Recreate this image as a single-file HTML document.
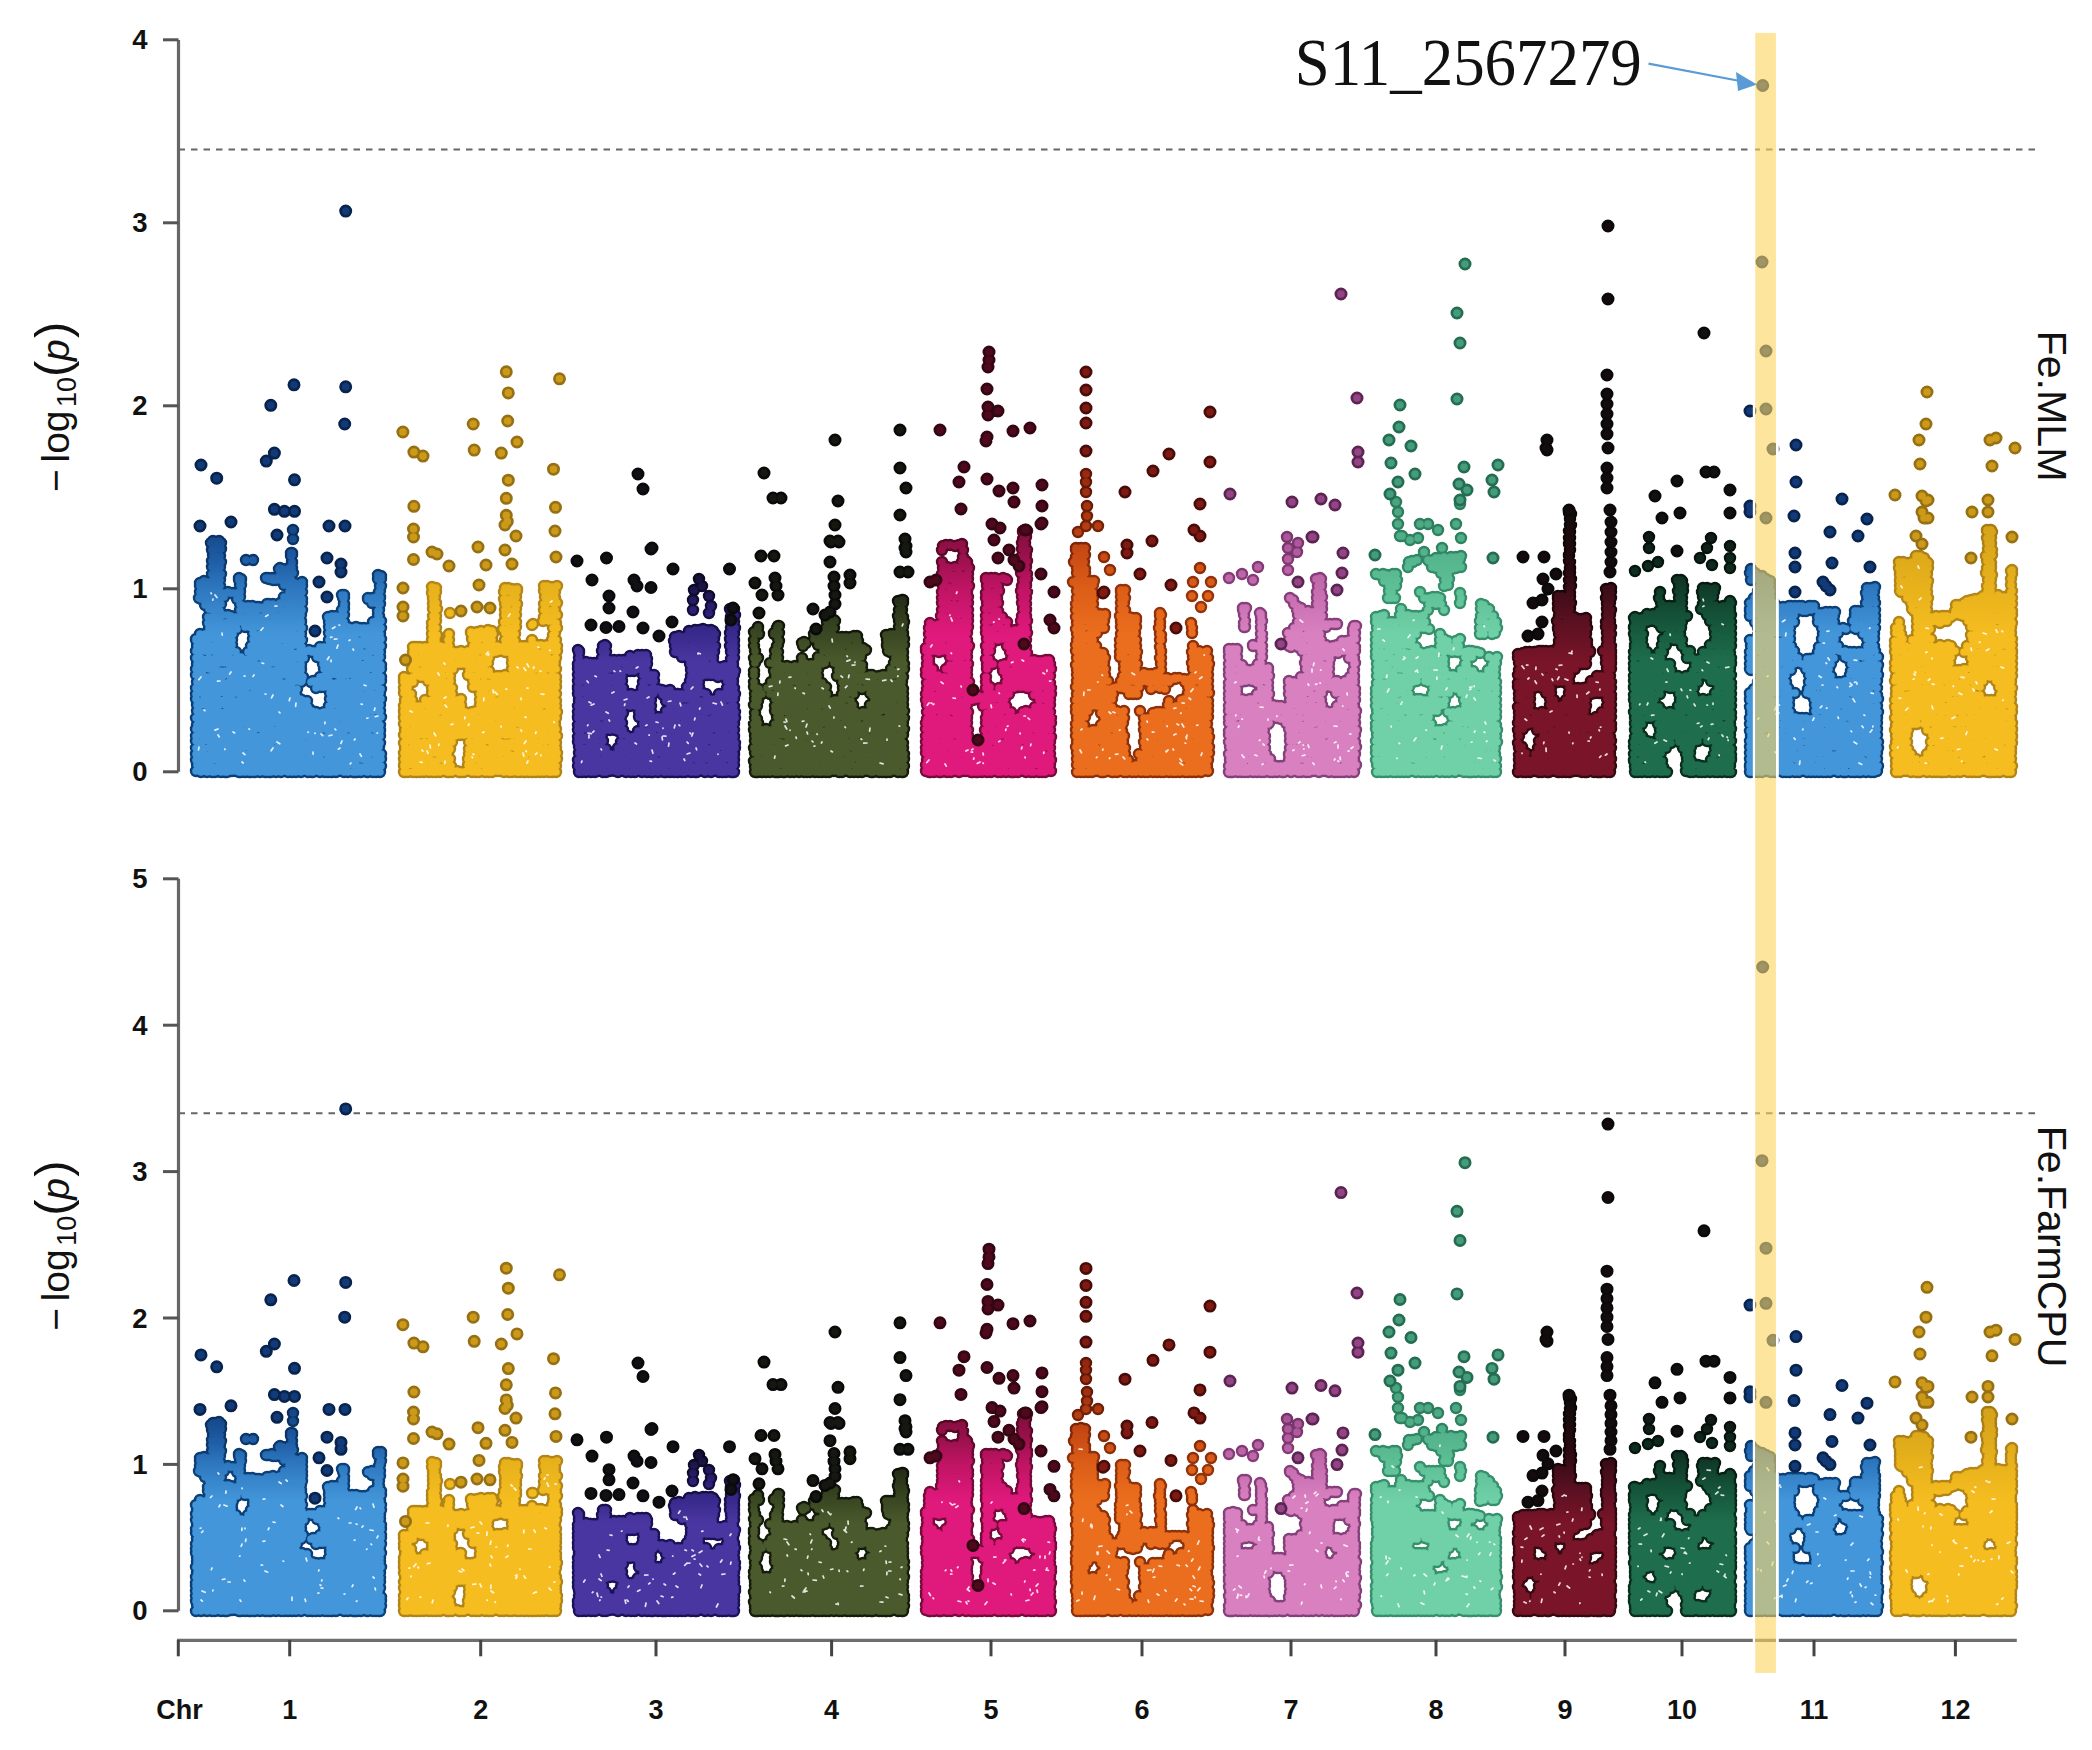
<!DOCTYPE html><html><head><meta charset="utf-8"><style>html,body{margin:0;padding:0;background:#fff;overflow:hidden;}svg{display:block}#w{width:2092px;height:1750px;overflow:hidden}</style></head><body>
<div id="w">
<svg width="2092" height="1750" viewBox="0 0 2092 1750">
<rect width="100%" height="100%" fill="#fff"/>
<line x1="178.5" y1="39.9" x2="178.5" y2="771.8" stroke="#666" stroke-width="3.2"/>
<line x1="163" y1="771.8" x2="178.5" y2="771.8" stroke="#555" stroke-width="3"/>
<text x="147.5" y="781.3" font-family="Liberation Sans, Arial, sans-serif" font-weight="bold" font-size="27.5" text-anchor="end" fill="#111">0</text>
<line x1="163" y1="588.8" x2="178.5" y2="588.8" stroke="#555" stroke-width="3"/>
<text x="147.5" y="598.3" font-family="Liberation Sans, Arial, sans-serif" font-weight="bold" font-size="27.5" text-anchor="end" fill="#111">1</text>
<line x1="163" y1="405.8" x2="178.5" y2="405.8" stroke="#555" stroke-width="3"/>
<text x="147.5" y="415.3" font-family="Liberation Sans, Arial, sans-serif" font-weight="bold" font-size="27.5" text-anchor="end" fill="#111">2</text>
<line x1="163" y1="222.8" x2="178.5" y2="222.8" stroke="#555" stroke-width="3"/>
<text x="147.5" y="232.3" font-family="Liberation Sans, Arial, sans-serif" font-weight="bold" font-size="27.5" text-anchor="end" fill="#111">3</text>
<line x1="163" y1="39.8" x2="178.5" y2="39.8" stroke="#555" stroke-width="3"/>
<text x="147.5" y="49.3" font-family="Liberation Sans, Arial, sans-serif" font-weight="bold" font-size="27.5" text-anchor="end" fill="#111">4</text>
<line x1="178.5" y1="149.5" x2="2035" y2="149.5" stroke="#666" stroke-width="2" stroke-dasharray="6.5 6"/>
<line x1="178.5" y1="878.8" x2="178.5" y2="1610.8" stroke="#666" stroke-width="3.2"/>
<line x1="163" y1="1610.8" x2="178.5" y2="1610.8" stroke="#555" stroke-width="3"/>
<text x="147.5" y="1620.3" font-family="Liberation Sans, Arial, sans-serif" font-weight="bold" font-size="27.5" text-anchor="end" fill="#111">0</text>
<line x1="163" y1="1464.4" x2="178.5" y2="1464.4" stroke="#555" stroke-width="3"/>
<text x="147.5" y="1473.9" font-family="Liberation Sans, Arial, sans-serif" font-weight="bold" font-size="27.5" text-anchor="end" fill="#111">1</text>
<line x1="163" y1="1318.0" x2="178.5" y2="1318.0" stroke="#555" stroke-width="3"/>
<text x="147.5" y="1327.5" font-family="Liberation Sans, Arial, sans-serif" font-weight="bold" font-size="27.5" text-anchor="end" fill="#111">2</text>
<line x1="163" y1="1171.6" x2="178.5" y2="1171.6" stroke="#555" stroke-width="3"/>
<text x="147.5" y="1181.1" font-family="Liberation Sans, Arial, sans-serif" font-weight="bold" font-size="27.5" text-anchor="end" fill="#111">3</text>
<line x1="163" y1="1025.2" x2="178.5" y2="1025.2" stroke="#555" stroke-width="3"/>
<text x="147.5" y="1034.7" font-family="Liberation Sans, Arial, sans-serif" font-weight="bold" font-size="27.5" text-anchor="end" fill="#111">4</text>
<line x1="163" y1="878.8" x2="178.5" y2="878.8" stroke="#555" stroke-width="3"/>
<text x="147.5" y="888.3" font-family="Liberation Sans, Arial, sans-serif" font-weight="bold" font-size="27.5" text-anchor="end" fill="#111">5</text>
<line x1="178.5" y1="1113.3" x2="2035" y2="1113.3" stroke="#666" stroke-width="2" stroke-dasharray="6.5 6"/>
<line x1="177" y1="1640.4" x2="2016.8" y2="1640.4" stroke="#6e6e6e" stroke-width="3.2"/>
<line x1="178.3" y1="1640" x2="178.3" y2="1656.3" stroke="#444" stroke-width="3"/>
<line x1="289.7" y1="1640" x2="289.7" y2="1656.3" stroke="#444" stroke-width="3"/>
<text x="289.7" y="1719" font-family="Liberation Sans, Arial, sans-serif" font-weight="bold" font-size="27" text-anchor="middle" fill="#111">1</text>
<line x1="480.7" y1="1640" x2="480.7" y2="1656.3" stroke="#444" stroke-width="3"/>
<text x="480.7" y="1719" font-family="Liberation Sans, Arial, sans-serif" font-weight="bold" font-size="27" text-anchor="middle" fill="#111">2</text>
<line x1="656" y1="1640" x2="656" y2="1656.3" stroke="#444" stroke-width="3"/>
<text x="656" y="1719" font-family="Liberation Sans, Arial, sans-serif" font-weight="bold" font-size="27" text-anchor="middle" fill="#111">3</text>
<line x1="831.6" y1="1640" x2="831.6" y2="1656.3" stroke="#444" stroke-width="3"/>
<text x="831.6" y="1719" font-family="Liberation Sans, Arial, sans-serif" font-weight="bold" font-size="27" text-anchor="middle" fill="#111">4</text>
<line x1="991" y1="1640" x2="991" y2="1656.3" stroke="#444" stroke-width="3"/>
<text x="991" y="1719" font-family="Liberation Sans, Arial, sans-serif" font-weight="bold" font-size="27" text-anchor="middle" fill="#111">5</text>
<line x1="1142" y1="1640" x2="1142" y2="1656.3" stroke="#444" stroke-width="3"/>
<text x="1142" y="1719" font-family="Liberation Sans, Arial, sans-serif" font-weight="bold" font-size="27" text-anchor="middle" fill="#111">6</text>
<line x1="1291" y1="1640" x2="1291" y2="1656.3" stroke="#444" stroke-width="3"/>
<text x="1291" y="1719" font-family="Liberation Sans, Arial, sans-serif" font-weight="bold" font-size="27" text-anchor="middle" fill="#111">7</text>
<line x1="1436" y1="1640" x2="1436" y2="1656.3" stroke="#444" stroke-width="3"/>
<text x="1436" y="1719" font-family="Liberation Sans, Arial, sans-serif" font-weight="bold" font-size="27" text-anchor="middle" fill="#111">8</text>
<line x1="1565" y1="1640" x2="1565" y2="1656.3" stroke="#444" stroke-width="3"/>
<text x="1565" y="1719" font-family="Liberation Sans, Arial, sans-serif" font-weight="bold" font-size="27" text-anchor="middle" fill="#111">9</text>
<line x1="1682" y1="1640" x2="1682" y2="1656.3" stroke="#444" stroke-width="3"/>
<text x="1682" y="1719" font-family="Liberation Sans, Arial, sans-serif" font-weight="bold" font-size="27" text-anchor="middle" fill="#111">10</text>
<line x1="1814" y1="1640" x2="1814" y2="1656.3" stroke="#444" stroke-width="3"/>
<text x="1814" y="1719" font-family="Liberation Sans, Arial, sans-serif" font-weight="bold" font-size="27" text-anchor="middle" fill="#111">11</text>
<line x1="1955.4" y1="1640" x2="1955.4" y2="1656.3" stroke="#444" stroke-width="3"/>
<text x="1955.4" y="1719" font-family="Liberation Sans, Arial, sans-serif" font-weight="bold" font-size="27" text-anchor="middle" fill="#111">12</text>
<text x="156.3" y="1719" font-family="Liberation Sans, Arial, sans-serif" font-weight="bold" font-size="27" fill="#111">Chr</text>
<g transform="translate(68.5 492.0) rotate(-90)" font-family="Liberation Sans, Arial, sans-serif" fill="#111"><text x="0" y="0" font-size="39">&#8722;</text><text x="29.5" y="0" font-size="39">log</text><text x="85" y="7.5" font-size="27">10</text><text x="115" y="0" font-size="49">(</text><text x="131" y="0" font-size="39" font-style="italic">p</text><text x="154" y="0" font-size="49">)</text></g>
<g transform="translate(68.5 1330.8) rotate(-90)" font-family="Liberation Sans, Arial, sans-serif" fill="#111"><text x="0" y="0" font-size="39">&#8722;</text><text x="29.5" y="0" font-size="39">log</text><text x="85" y="7.5" font-size="27">10</text><text x="115" y="0" font-size="49">(</text><text x="131" y="0" font-size="39" font-style="italic">p</text><text x="154" y="0" font-size="49">)</text></g>
<text transform="translate(2038 330.5) rotate(90)" font-family="Liberation Sans, Arial, sans-serif" font-size="41.2" fill="#111">Fe.MLM</text>
<text transform="translate(2038.3 1125.8) rotate(90)" font-family="Liberation Sans, Arial, sans-serif" font-size="41" fill="#111">Fe.FarmCPU</text>
<defs><linearGradient id="r1_0" gradientUnits="userSpaceOnUse" x1="0" y1="771.8" x2="0" y2="222.8"><stop offset="0.0000" stop-color="#0b3f78"/><stop offset="0.2500" stop-color="#0b3f78"/><stop offset="0.3333" stop-color="#0c4076"/><stop offset="0.3833" stop-color="#0b386a"/><stop offset="0.4333" stop-color="#0a3060"/><stop offset="0.5333" stop-color="#0a2a56"/><stop offset="1.0000" stop-color="#08244c"/></linearGradient><linearGradient id="f1_0" gradientUnits="userSpaceOnUse" x1="0" y1="771.8" x2="0" y2="222.8"><stop offset="0.0000" stop-color="#4396da"/><stop offset="0.2500" stop-color="#4396da"/><stop offset="0.3333" stop-color="#2e78c0"/><stop offset="0.3833" stop-color="#1f5ea6"/><stop offset="0.4333" stop-color="#164a8c"/><stop offset="0.5333" stop-color="#123a78"/><stop offset="1.0000" stop-color="#10306a"/></linearGradient><path id="p1_0" d="M196 771h0m1-6h0m-1-5h0m0-6h0m0-6h0m0-7h0m0-5h0m0-7h0m1-4h0m-1-7h0m1-7h0m0-6h0m-1-6h0m0-5h0m0-6h0m1-6h0m-1-7h0m0-6h0m1-5h0m-1-6h0m0-7h0m1-5h0m-1-6h0m0-1h0m5 133h0m0-7h0m-1-5h0m0-6h0m-1-6h0m2-6h0m0-7h0m0-5h0m-1-6h0m1-5h0m-1-7h0m-1-6h0m2-5h0m0-8h0m-1-5h0m-1-6h0m1-7h0m-1-5h0m1-7h0m0-4h0m-1-7h0m1-5h0m1-6h0m-1-7h0m-1-36h0m1-6h0m1-6h0m-1-3h0m5 188h0m0-5h0m0-6h0m-1-6h0m0-6h0m-1-7h0m1-6h0m0-6h0m-1-6h0m1-5h0m-1-5h0m2-8h0m-1-6h0m0-6h0m1-4h0m-1-7h0m-1-7h0m1-6h0m1-6h0m-2-4h0m1-8h0m0-6h0m0-4h0m1-7h0m0-29h0m0-7h0m0-6h0m-1-6h0m0-5h0m3 191h0m1-6h0m1-6h0m0-5h0m0-7h0m-1-7h0m0-6h0m1-4h0m0-7h0m0-6h0m-2-6h0m2-6h0m0-6h0m-1-6h0m0-6h0m1-6h0m-1-5h0m1-8h0m-1-6h0m1-5h0m-1-6h0m1-6h0m-1-6h0m0-7h0m1-5h0m-1-5h0m0-6h0m1-8h0m-1-6h0m0-5h0m0-6h0m0-5h0m0-5h0m4 190h0m0-5h0m0-7h0m0-7h0m0-6h0m-1-5h0m1-6h0m1-6h0m-1-6h0m0-6h0m0-6h0m0-7h0m1-5h0m-1-6h0m1-6h0m0-6h0m-1-6h0m0-6h0m0-5h0m1-6h0m0-8h0m-1-4h0m1-8h0m-1-5h0m-1-7h0m0-5h0m2-5h0m-1-7h0m1-7h0m0-4h0m-1-6h0m0-7h0m1-6h0m-1-6h0m0-7h0m0-6h0m1-6h0m-1-5h0m-1-7h0m2-2h0m2 231h0m2-5h0m-1-8h0m-1-5h0m1-7h0m0-4h0m1-8h0m-1-4h0m0-7h0m-1-7h0m2-5h0m-2-5h0m2-7h0m-2-5h0m0-6h0m1-8h0m0-4h0m0-8h0m0-6h0m0-6h0m-1-6h0m1-6h0m1-6h0m-1-6h0m0-6h0m0-6h0m1-5h0m-1-6h0m1-7h0m0-5h0m-1-6h0m0-6h0m1-5h0m-1-7h0m1-6h0m-1-7h0m-1-6h0m0-5h0m1-7h0m-1-1h0m6 230h0m-1-7h0m0-5h0m0-6h0m0-5h0m1-7h0m-1-5h0m0-7h0m-1-6h0m1-6h0m0-6h0m-1-7h0m0-5h0m0-7h0m1-6h0m0-5h0m1-6h0m0-5h0m-1-8h0m1-6h0m0-5h0m-2-6h0m2-6h0m0-6h0m-1-6h0m0-6h0m1-6h0m-1-5h0m1-7h0m-1-7h0m0-5h0m0-6h0m0-6h0m1-6h0m-1-7h0m1-5h0m-1-6h0m1-7h0m0-6h0m-2-2h0m6 231h0m0-5h0m-1-7h0m0-6h0m1-6h0m0-7h0m-1-6h0m1-6h0m-1-6h0m-1-6h0m2-5h0m0-7h0m-1-5h0m0-7h0m1-6h0m0-4h0m-2-7h0m2-5h0m-1-8h0m0-4h0m0-7h0m0-6h0m1-7h0m0-5h0m0-6h0m-1-5h0m0-8h0m0-18h0m0-4h0m3 179h0m2-7h0m0-5h0m0-7h0m-1-5h0m1-6h0m-1-6h0m0-7h0m0-5h0m0-5h0m0-8h0m0-6h0m0-4h0m1-7h0m0-5h0m0-7h0m0-7h0m0-5h0m0-6h0m-1-7h0m1-6h0m-1-6h0m0-5h0m1-7h0m0-6h0m-1-5h0m0-7h0m0-23h0m4 179h0m0-6h0m0-6h0m0-4h0m1-7h0m-1-6h0m0-7h0m-1-6h0m2-6h0m-1-5h0m1-7h0m-1-6h0m0-5h0m1-6h0m0-7h0m-2-5h0m2-6h0m-1-7h0m0-4h0m1-6h0m0-8h0m-1-6h0m0-5h0m1-6h0m0-6h0m-1-6h0m-1-6h0m2-23h0m3 178h0m0-5h0m0-7h0m1-6h0m-1-5h0m1-6h0m0-6h0m-1-7h0m1-5h0m-1-7h0m0-5h0m0-7h0m1-4h0m-1-8h0m0-5h0m1-7h0m0-5h0m-1-7h0m1-6h0m0-6h0m-1-5h0m1-23h0m-1-7h0m0-5h0m1-18h0m0-6h0m4 179h0m-1-5h0m1-8h0m0-5h0m-1-7h0m0-6h0m0-5h0m1-7h0m0-6h0m-1-5h0m1-6h0m-2-6h0m1-5h0m0-7h0m1-7h0m-1-5h0m1-7h0m-2-6h0m2-6h0m0-4h0m0-37h0m0-7h0m-1-5h0m1-5h0m-1-8h0m0-5h0m1-7h0m0-5h0m0-1h0m4 193h0m-1-6h0m1-7h0m-1-5h0m0-7h0m-1-5h0m1-5h0m1-6h0m-1-8h0m-1-5h0m2-6h0m-1-6h0m1-6h0m0-6h0m0-7h0m0-6h0m-1-5h0m1-7h0m-1-6h0m0-4h0m1-32h0m-1-5h0m1-5h0m-2-8h0m1-3h0m5 166h0m0-6h0m0-6h0m-1-6h0m1-7h0m-1-5h0m0-6h0m0-7h0m0-5h0m1-7h0m-2-6h0m2-6h0m-1-6h0m1-5h0m-2-7h0m1-5h0m1-7h0m-1-5h0m0-7h0m0-4h0m0-7h0m1-25h0m-2-4h0m1-7h0m0-5h0m0-5h0m3 166h0m2-5h0m-2-7h0m1-6h0m0-7h0m0-4h0m0-7h0m1-5h0m-1-8h0m1-4h0m-1-8h0m1-5h0m0-6h0m0-7h0m0-6h0m-1-5h0m1-7h0m-1-5h0m0-6h0m0-7h0m1-4h0m-2-7h0m2-7h0m0-6h0m-1-5h0m1-7h0m-1-5h0m0-6h0m0-4h0m3 166h0m1-7h0m1-5h0m-1-7h0m0-6h0m0-5h0m-1-6h0m1-7h0m1-6h0m0-5h0m-1-7h0m0-5h0m1-7h0m0-4h0m0-7h0m-1-5h0m0-6h0m1-8h0m0-4h0m-2-7h0m2-7h0m0-6h0m0-6h0m-1-4h0m0-8h0m0-6h0m-1-6h0m1-4h0m1-4h0m3 165h0m0-6h0m1-6h0m0-6h0m-1-5h0m0-6h0m1-7h0m0-7h0m0-5h0m-1-6h0m0-7h0m1-6h0m0-6h0m0-4h0m-1-7h0m0-7h0m-1-6h0m2-5h0m-1-5h0m0-8h0m1-6h0m-2-5h0m1-6h0m0-6h0m0-7h0m1-5h0m-1-5h0m0-8h0m-1-2h0m6 165h0m-1-7h0m-1-5h0m1-6h0m1-6h0m0-6h0m-1-5h0m-1-7h0m1-7h0m-1-5h0m0-6h0m2-7h0m-1-5h0m0-6h0m1-7h0m-1-6h0m-1-4h0m2-7h0m-2-6h0m2-6h0m0-6h0m-1-7h0m0-6h0m0-5h0m1-6h0m0-7h0m-1-5h0m1-6h0m-1-3h0m5 165h0m0-7h0m-1-6h0m1-4h0m0-8h0m0-6h0m-1-4h0m1-7h0m0-5h0m-1-7h0m1-5h0m-1-7h0m0-7h0m0-5h0m-1-5h0m1-8h0m0-4h0m0-8h0m-1-6h0m2-5h0m0-6h0m-2-6h0m1-6h0m1-5h0m-2-6h0m2-6h0m-1-8h0m0-6h0m1-5h0m0-25h0m-1-1h0m3 194h0m1-6h0m0-7h0m1-5h0m0-6h0m-2-6h0m1-6h0m0-6h0m0-7h0m1-6h0m0-6h0m-2-6h0m2-4h0m-2-7h0m1-6h0m0-6h0m0-6h0m0-5h0m0-8h0m1-5h0m-1-6h0m-1-6h0m2-6h0m0-6h0m-1-6h0m1-7h0m0-6h0m-1-6h0m1-5h0m0-24h0m-1-2h0m4 194h0m1-6h0m-1-6h0m1-6h0m-1-6h0m1-7h0m-1-6h0m1-5h0m-1-7h0m0-6h0m0-6h0m0-6h0m1-5h0m-1-5h0m0-7h0m1-6h0m0-6h0m-1-6h0m0-7h0m0-6h0m0-5h0m1-6h0m0-6h0m-1-6h0m0-6h0m1-6h0m-1-6h0m0-7h0m1-4h0m-1-25h0m-1-2h0m6 194h0m0-7h0m-1-5h0m1-6h0m0-5h0m-1-7h0m1-6h0m-1-5h0m-1-7h0m1-6h0m1-6h0m-1-6h0m0-6h0m0-6h0m1-6h0m-1-5h0m0-7h0m0-6h0m0-5h0m0-8h0m0-5h0m-1-6h0m1-6h0m0-7h0m0-5h0m1-6h0m-1-6h0m0-7h0m0-5h0m0-24h0m1-6h0m-1-6h0m4 203h0m1-5h0m0-7h0m-1-6h0m0-6h0m-1-5h0m1-7h0m0-5h0m0-6h0m1-6h0m0-5h0m-2-7h0m2-6h0m-1-6h0m1-7h0m-2-4h0m2-8h0m-1-6h0m0-5h0m0-7h0m1-5h0m-1-5h0m1-7h0m0-5h0m0-7h0m-1-6h0m0-6h0m0-5h0m0-8h0m0-6h0m0-12h0m0-5h0m0-5h0m-1-6h0m5 203h0m1-6h0m-1-6h0m1-7h0m0-5h0m-2-6h0m2-5h0m-1-6h0m0-7h0m1-7h0m0-5h0m-1-5h0m0-7h0m0-6h0m0-6h0m0-6h0m1-7h0m0-5h0m-1-7h0m0-4h0m1-7h0m-1-7h0m0-5h0m1-6h0m-2-6h0m2-6h0m-2-7h0m0-6h0m2-5h0m0-6h0m0-6h0m0-6h0m0-6h0m0-7h0m0-5h0m4 203h0m-1-6h0m1-4h0m0-7h0m0-6h0m-1-7h0m0-5h0m0-6h0m1-5h0m-2-7h0m0-7h0m2-5h0m0-6h0m-2-6h0m1-5h0m1-7h0m-1-7h0m1-6h0m-1-6h0m-1-5h0m1-5h0m-1-6h0m1-8h0m1-6h0m0-6h0m-2-5h0m2-5h0m0-8h0m0-5h0m-1-5h0m0-6h0m1-8h0m-2-5h0m2-7h0m-1-5h0m0-5h0m0-8h0m0-2h0m4 219h0m0-6h0m0-6h0m1-6h0m-1-6h0m1-6h0m-1-7h0m-1-4h0m2-7h0m-1-6h0m1-6h0m0-7h0m-1-4h0m0-7h0m1-5h0m0-8h0m-2-6h0m1-5h0m1-5h0m-2-7h0m2-5h0m-1-8h0m1-5h0m0-5h0m-1-8h0m0-5h0m0-6h0m1-7h0m0-5h0m-1-7h0m0-5h0m1-6h0m-2-3h0m6 189h0m-1-5h0m1-7h0m-1-6h0m0-7h0m0-5h0m0-6h0m0-6h0m0-7h0m1-5h0m-1-6h0m1-7h0m-1-6h0m1-17h0m-1-7h0m1-5h0m0-6h0m0-5h0m-1-8h0m0-6h0m-1-6h0m1-4h0m0-6h0m1-8h0m-1-5h0m0-5h0m0-7h0m1-5h0m0-7h0m-1-7h0m1-2h0m3 188h0m0-5h0m1-5h0m0-8h0m0-5h0m0-5h0m-2-8h0m2-4h0m0-8h0m-1-5h0m0-7h0m0-6h0m-1-28h0m1-19h0m-1-5h0m2-1h0m3 120h0m1-6h0m0-7h0m-1-6h0m1-5h0m-1-5h0m0-7h0m0-7h0m1-6h0m-1-5h0m0-5h0m0-6h0m-1-6h0m2-50h0m0-1h0m4 122h0m-1-7h0m1-5h0m-1-6h0m1-7h0m-1-6h0m0-5h0m1-7h0m-2-6h0m2-5h0m-1-7h0m1-30h0m0-30h0m-1 1h0m4 119h0m0-5h0m-1-6h0m1-6h0m0-6h0m1-5h0m-1-7h0m0-6h0m-1-5h0m2-7h0m-1-6h0m0-24h0m-1-7h0m2-24h0m0-5h0m-2-1h0m5 121h0m0-7h0m0-6h0m0-4h0m0-7h0m1-7h0m0-4h0m-1-7h0m1-6h0m-1-5h0m-1-37h0m2-5h0m-1-20h0m0-5h0m-1-1h0m6 121h0m0-6h0m0-5h0m0-8h0m0-6h0m0-6h0m-1-4h0m1-8h0m-1-5h0m1-7h0m-1-5h0m0-25h0m0-6h0m0-5h0m0-7h0m-1-5h0m2-6h0m-1-6h0m0-5h0m4 125h0m1-6h0m-1-7h0m0-5h0m0-6h0m-1-6h0m2-7h0m-1-5h0m0-5h0m0-7h0m0-7h0m1-5h0m-1-19h0m1-5h0m-1-7h0m0-5h0m1-6h0m0-6h0m0-6h0m0-6h0m0-6h0m0-7h0m0-6h0m0-5h0m-1-5h0m4 155h0m1-5h0m0-7h0m-1-6h0m1-7h0m-1-5h0m0-7h0m1-5h0m-1-6h0m0-7h0m0-5h0m0-7h0m1-6h0m0-5h0m0-7h0m-1-4h0m-1-8h0m1-5h0m1-6h0m-1-5h0m0-7h0m1-6h0m-1-6h0m0-5h0m1-7h0m-2-6h0m1-6h0m4 156h0m1-6h0m-1-6h0m1-7h0m-1-5h0m0-7h0m1-5h0m-1-7h0m1-5h0m0-5h0m0-7h0m-1-7h0m0-5h0m0-7h0m1-5h0m-1-5h0m1-8h0m-1-5h0m0-6h0m-1-7h0m2-5h0m0-7h0m-1-5h0m0-6h0m0-5h0m0-7h0m0-6h0m5 155h0m-1-6h0m0-5h0m1-6h0m-2-7h0m2-6h0m0-5h0m-1-7h0m-1-4h0m1-8h0m0-5h0m-1-5h0m1-6h0m0-7h0m0-7h0m1-4h0m-1-6h0m1-8h0m0-4h0m-1-6h0m0-7h0m1-7h0m-1-4h0m0-7h0m0-7h0m0-6h0m1-5h0m3 155h0m0-5h0m0-7h0m0-5h0m0-7h0m0-6h0m0-6h0m1-6h0m-1-5h0m-1-7h0m2-6h0m-1-5h0m1-7h0m-1-5h0m0-5h0m0-6h0m0-8h0m0-6h0m1-6h0m0-5h0m-1-7h0m1-6h0m0-6h0m-1-5h0m0-6h0m0-6h0m0-7h0m0-6h0m0-4h0m0-7h0m0-3h0m4 177h0m0-7h0m0-6h0m0-5h0m0-6h0m1-6h0m0-5h0m-1-8h0m-1-5h0m2-6h0m-1-6h0m1-7h0m0-5h0m0-7h0m-1-4h0m1-7h0m-2-7h0m1-6h0m0-5h0m-1-7h0m2-6h0m0-5h0m0-7h0m-1-5h0m0-7h0m5 145h0m-1-7h0m1-5h0m-2-7h0m1-5h0m0-5h0m1-8h0m0-5h0m0-6h0m-1-7h0m1-5h0m0-6h0m0-6h0m0-6h0m-2-6h0m1-6h0m1-7h0m0-6h0m0-5h0m-1-6h0m1-6h0m-1-7h0m-1-5h0m1-7h0m0-5h0m5 144h0m-1-7h0m0-5h0m1-6h0m-1-5h0m0-7h0m0-6h0m0-6h0m0-6h0m0-6h0m1-6h0m-1-7h0m0-6h0m-1-6h0m1-5h0m0-7h0m0-5h0m0-7h0m-1-6h0m2-5h0m-2-6h0m2-6h0m-1-6h0m0-7h0m0-6h0m5 145h0m0-5h0m0-8h0m-1-6h0m-1-5h0m2-7h0m-1-5h0m1-5h0m-1-7h0m1-6h0m-1-7h0m1-6h0m-1-5h0m0-6h0m0-7h0m0-5h0m1-6h0m0-5h0m-1-7h0m0-7h0m0-6h0m1-6h0m-1-4h0m-1-8h0m1-5h0m5 143h0m0-4h0m0-7h0m-1-6h0m0-6h0m0-6h0m1-6h0m0-7h0m-1-5h0m0-7h0m0-6h0m0-5h0m1-5h0m0-6h0m0-7h0m0-7h0m0-5h0m-1-6h0m1-6h0m0-7h0m-1-4h0m-1-8h0m2-5h0m-2-6h0m1-6h0m4 144h0m0-6h0m0-7h0m1-5h0m-1-5h0m0-8h0m0-6h0m0-5h0m0-6h0m0-6h0m0-7h0m0-6h0m0-4h0m0-7h0m1-7h0m0-5h0m-1-6h0m0-7h0m1-5h0m0-7h0m0-6h0m-1-5h0m-1-6h0m1-7h0m1-5h0m-1-29h0m5 173h0m-1-6h0m1-5h0m0-8h0m0-6h0m-1-5h0m0-5h0m1-8h0m-1-5h0m1-6h0m-1-7h0m0-5h0m0-6h0m0-6h0m0-7h0m1-5h0m0-6h0m0-7h0m-1-6h0m0-4h0m1-8h0m-1-5h0m1-6h0m-1-7h0m1-5h0m0-6h0m-1-19h0m0-5h0m4 174h0m0-6h0m-1-6h0m1-7h0m0-4h0m-1-8h0m2-6h0m-1-5h0m0-6h0m0-5h0m1-8h0m-1-5h0m1-6h0m0-6h0m-1-7h0m1-4h0m0-7h0m-1-6h0m1-6h0m0-6h0m-1-6h0m-1-7h0m1-4h0m0-7h0m0-7h0m0-6h0m0-18h0m0-6h0m4 175h0m1-6h0m0-7h0m0-5h0m-2-7h0m1-4h0m0-7h0m0-5h0m-1-7h0m2-7h0m-1-6h0m0-6h0m1-6h0m-1-6h0m1-4h0m0-8h0m0-4h0m0-8h0m0-4h0m-1-8h0m0-5h0m1-6h0m0-7h0m-1-5h0m1-6h0m0-7h0m-2-5h0m0-6h0m1-6h0m0-7h0m0-6h0m1-5h0m0-7h0m0-3h0m-180 195h0m-1-6h0m2-6h0m0-5h0m-1-6h0m0-6h0m0-7h0m0-6h0m0-5h0m1-7h0m0-4h0m-1-8h0m0-4h0m-1-8h0m1-5h0m1-6h0m0-7h0m0-6h0m-2-6h0m0-5h0m1-7h0m1-5h0m-2-7h0m1-4h0m0-36h0m-1-7h0m0-6h0m1-3h0m14 189h0m1-5h0m1-7h0m-2-7h0m1-5h0m-1-7h0m2-5h0m-1-5h0m-1-7h0m0-5h0m2-8h0m0-5h0m-1-7h0m0-4h0m-1-7h0m1-6h0m0-5h0m-1-6h0m1-7h0m1-7h0m0-4h0m-1-8h0m-1-4h0m0-6h0m0-7h0m0-7h0m1-6h0m0-4h0m0-6h0m1-8h0m-2-5h0m1-7h0m0-6h0m0-6h0m-1-4h0m1-6h0m-1-7h0m0-6h0m0-6h0m0-2h0m15 229h0m0-5h0m1-7h0m-2-4h0m2-7h0m-1-7h0m0-6h0m-1-5h0m1-6h0m0-7h0m0-5h0m0-6h0m0-5h0m1-7h0m-1-7h0m0-4h0m0-7h0m0-7h0m1-6h0m-1-4h0m0-7h0m0-7h0m-1-6h0m2-5h0m0-7h0m-1-6h0m0-5h0m0-23h0m9 179h0m1-6h0m0-6h0m0-6h0m0-7h0m0-5h0m-1-6h0m1-5h0m0-7h0m0-6h0m-1-7h0m2-5h0m-1-6h0m1-7h0m-2-5h0m1-6h0m1-5h0m0-8h0m-1-5h0m1-7h0m-1-35h0m0-6h0m1-7h0m-1-5h0m0-7h0m0-6h0m0-6h0m-1-5h0m0-2h0m15 194h0m0-7h0m1-6h0m-1-4h0m-1-7h0m2-6h0m-1-7h0m0-5h0m0-7h0m0-5h0m1-6h0m-1-6h0m1-7h0m0-5h0m-1-6h0m0-7h0m1-5h0m-1-6h0m1-6h0m-2-6h0m1-6h0m1-6h0m-1-5h0m0-7h0m0-6h0m0-6h0m0-7h0m0-5h0m1-3h0m11 165h0m0-6h0m0-7h0m2-5h0m-2-6h0m1-6h0m-1-6h0m1-6h0m1-6h0m0-7h0m-1-5h0m-1-5h0m1-8h0m0-6h0m1-5h0m-1-6h0m-1-7h0m2-5h0m0-7h0m-2-6h0m1-5h0m0-6h0m0-6h0m1-7h0m0-5h0m-2-7h0m1-5h0m0-7h0m0-5h0m-1-26h0m14 193h0m0-6h0m0-6h0m0-5h0m0-6h0m0-6h0m-1-7h0m1-6h0m0-6h0m-1-6h0m1-4h0m-1-7h0m0-5h0m1-8h0m-1-5h0m0-6h0m0-7h0m1-6h0m0-6h0m0-6h0m0-6h0m0-4h0m-1-8h0m0-5h0m0-6h0m0-6h0m1-6h0m0-7h0m0-6h0m0-23h0m0-7h0m-1-4h0m13 203h0m-1-7h0m0-4h0m1-8h0m0-6h0m0-4h0m-1-6h0m1-8h0m-1-5h0m0-6h0m0-6h0m0-7h0m1-6h0m0-5h0m0-6h0m-1-6h0m0-6h0m0-6h0m0-6h0m1-7h0m-1-4h0m0-7h0m1-6h0m-1-7h0m1-6h0m-1-5h0m0-6h0m0-6h0m1-6h0m-1-6h0m0-7h0m0-4h0m1-6h0m-1-6h0m0-7h0m1-6h0m-1-6h0m0-3h0m10 219h0m1-7h0m0-6h0m0-6h0m0-5h0m0-7h0m-1-5h0m1-7h0m0-5h0m0-7h0m0-5h0m0-7h0m0-5h0m0-19h0m-1-6h0m0-6h0m0-4h0m1-7h0m-1-6h0m1-5h0m0-7h0m-1-6h0m1-6h0m-1-6h0m0-7h0m1-5h0m0-7h0m0-4h0m0-7h0m0-6h0m0-4h0m10 190h0m0-7h0m0-5h0m0-7h0m0-5h0m-1-6h0m0-7h0m0-6h0m0-4h0m1-7h0m-1-6h0m0-30h0m1-30h0m-1-1h0m9 121h0m1-7h0m-1-6h0m1-5h0m0-6h0m-1-6h0m0-6h0m0-7h0m1-5h0m-1-5h0m1-6h0m0-26h0m0-6h0m-1-4h0m0-19h0m1-6h0m-1-5h0m11 125h0m-2-6h0m1-5h0m0-7h0m0-6h0m0-6h0m1-6h0m-1-5h0m-1-7h0m1-6h0m0-6h0m1-6h0m-1-7h0m0-6h0m1-4h0m-2-7h0m1-7h0m0-5h0m0-7h0m1-6h0m-1-5h0m1-6h0m0-6h0m-1-5h0m0-7h0m0-7h0m0-4h0m14 155h0m-2-6h0m2-7h0m-1-6h0m0-6h0m0-5h0m1-5h0m-2-8h0m2-6h0m-1-5h0m-1-7h0m1-5h0m1-7h0m-2-4h0m1-7h0m0-6h0m0-7h0m1-5h0m-1-6h0m1-7h0m-1-4h0m0-8h0m0-6h0m1-6h0m0-5h0m-1-5h0m0-8h0m-1-5h0m2-6h0m-1-6h0m-1-3h0m13 177h0m0-6h0m1-6h0m0-6h0m-1-6h0m1-7h0m-2-4h0m1-7h0m0-5h0m-1-8h0m0-5h0m1-5h0m0-7h0m0-6h0m0-6h0m1-6h0m-2-6h0m2-6h0m0-5h0m-1-7h0m0-5h0m-1-7h0m1-6h0m0-7h0m0-4h0m12 143h0m0-7h0m1-4h0m0-7h0m0-7h0m0-6h0m-1-5h0m0-7h0m0-5h0m1-6h0m-1-6h0m0-7h0m1-6h0m-1-5h0m0-6h0m0-6h0m1-6h0m-1-6h0m0-6h0m0-7h0m1-5h0m0-6h0m0-6h0m-1-5h0m1-7h0m0-30h0m11 173h0m0-6h0m-1-5h0m1-6h0m-1-6h0m0-7h0m1-5h0m1-6h0m0-5h0m-1-7h0m-1-7h0m0-4h0m1-7h0m0-6h0m-1-6h0m2-7h0m-2-6h0m1-4h0m1-7h0m-2-7h0m0-5h0m1-5h0m1-7h0m-1-6h0m-1-7h0m1-5h0m-1-7h0m0-4h0m1-6h0m1-7h0m-1-6h0m1-6h0m-2-7h0m0-4h0m-132-15h0m7 0h0m40-30h0m0 9h0"/><path id="q1_0" d="M345.7 211.1h0m-51.7 173.7h0m51.7 2h0m-74.9 18.5h0m73.9 18.7h0m-143.7 41h0m15.7 13.2h0m49.6-17.1h0m8.1-8h0m20.1 26.7h0m-20.1 29.5h0m10 2h0m10.1 0h0m-94.5 14.7h0m31-4h0m98 4h0m16 0h0m-68 9h0m50 23h0m14 6h0m0 8h0m-22 10h0m8 15h0m-12 34h0"/><linearGradient id="r1_1" gradientUnits="userSpaceOnUse" x1="0" y1="1610.8" x2="0" y2="1171.6"><stop offset="0.0000" stop-color="#0b3f78"/><stop offset="0.2500" stop-color="#0b3f78"/><stop offset="0.3333" stop-color="#0c4076"/><stop offset="0.3833" stop-color="#0b386a"/><stop offset="0.4333" stop-color="#0a3060"/><stop offset="0.5333" stop-color="#0a2a56"/><stop offset="1.0000" stop-color="#08244c"/></linearGradient><linearGradient id="f1_1" gradientUnits="userSpaceOnUse" x1="0" y1="1610.8" x2="0" y2="1171.6"><stop offset="0.0000" stop-color="#4396da"/><stop offset="0.2500" stop-color="#4396da"/><stop offset="0.3333" stop-color="#2e78c0"/><stop offset="0.3833" stop-color="#1f5ea6"/><stop offset="0.4333" stop-color="#164a8c"/><stop offset="0.5333" stop-color="#123a78"/><stop offset="1.0000" stop-color="#10306a"/></linearGradient><path id="p1_1" d="M196 1611h0m1-6h0m-1-4h0m0-5h0m0-5h0m0-5h0m0-3h0m0-6h0m1-4h0m-1-6h0m1-5h0m0-4h0m-1-5h0m0-4h0m0-5h0m1-5h0m-1-6h0m0-4h0m1-5h0m-1-4h0m0-6h0m1-4h0m-1-5h0m0 0h0m5 106h0m0-6h0m-1-3h0m0-6h0m-1-4h0m2-5h0m0-5h0m0-5h0m-1-5h0m1-4h0m-1-5h0m-1-5h0m2-4h0m0-6h0m-1-4h0m-1-5h0m1-6h0m-1-3h0m1-6h0m0-4h0m-1-5h0m1-4h0m1-5h0m-1-6h0m-1-29h0m1-5h0m1-5h0m-1-3h0m5 152h0m0-4h0m0-4h0m-1-6h0m0-4h0m-1-6h0m1-5h0m0-5h0m-1-4h0m1-5h0m-1-4h0m2-6h0m-1-4h0m0-5h0m1-4h0m-1-5h0m-1-6h0m1-4h0m1-5h0m-2-4h0m1-6h0m0-5h0m0-3h0m1-5h0m0-24h0m0-5h0m0-5h0m-1-6h0m0-4h0m3 154h0m1-5h0m1-5h0m0-4h0m0-6h0m-1-5h0m0-4h0m1-4h0m0-6h0m0-4h0m-2-5h0m2-5h0m0-5h0m-1-4h0m0-5h0m1-5h0m-1-4h0m1-6h0m-1-5h0m1-4h0m-1-5h0m1-5h0m-1-5h0m0-5h0m1-4h0m-1-5h0m0-4h0m1-6h0m-1-5h0m0-5h0m0-5h0m0-4h0m0-4h0m4 153h0m0-4h0m0-6h0m0-5h0m0-5h0m-1-4h0m1-5h0m1-5h0m-1-5h0m0-4h0m0-5h0m0-5h0m1-5h0m-1-4h0m1-5h0m0-5h0m-1-5h0m0-5h0m0-4h0m1-5h0m0-6h0m-1-3h0m1-6h0m-1-5h0m-1-5h0m0-4h0m2-4h0m-1-5h0m1-6h0m0-4h0m-1-5h0m0-6h0m1-4h0m-1-6h0m0-6h0m0-5h0m1-5h0m-1-5h0m-1-5h0m2-2h0m2 188h0m2-4h0m-1-6h0m-1-4h0m1-6h0m0-4h0m1-5h0m-1-4h0m0-5h0m-1-6h0m2-4h0m-2-4h0m2-5h0m-2-5h0m0-5h0m1-5h0m0-4h0m0-6h0m0-5h0m0-5h0m-1-5h0m1-4h0m1-5h0m-1-5h0m0-5h0m0-5h0m1-4h0m-1-5h0m1-5h0m0-5h0m-1-4h0m0-6h0m1-4h0m-1-6h0m1-5h0m-1-6h0m-1-5h0m0-4h0m1-7h0m-1-1h0m6 188h0m-1-5h0m0-5h0m0-5h0m0-4h0m1-5h0m-1-4h0m0-6h0m-1-5h0m1-4h0m0-5h0m-1-5h0m0-5h0m0-5h0m1-5h0m0-4h0m1-5h0m0-4h0m-1-6h0m1-5h0m0-4h0m-2-4h0m2-6h0m0-4h0m-1-5h0m0-5h0m1-4h0m-1-5h0m1-5h0m-1-7h0m0-4h0m0-4h0m0-6h0m1-5h0m-1-6h0m1-4h0m-1-6h0m1-6h0m0-5h0m-2-2h0m6 189h0m0-4h0m-1-6h0m0-4h0m1-5h0m0-6h0m-1-4h0m1-5h0m-1-5h0m-1-5h0m2-4h0m0-5h0m-1-5h0m0-5h0m1-5h0m0-4h0m-2-5h0m2-4h0m-1-6h0m0-4h0m0-5h0m0-5h0m1-5h0m0-5h0m0-4h0m-1-5h0m0-6h0m0-14h0m0-4h0m3 144h0m2-6h0m0-3h0m0-6h0m-1-5h0m1-4h0m-1-5h0m0-6h0m0-3h0m0-5h0m0-6h0m0-4h0m0-4h0m1-5h0m0-5h0m0-5h0m0-6h0m0-4h0m0-4h0m-1-6h0m1-5h0m-1-4h0m0-4h0m1-6h0m0-5h0m-1-4h0m0-6h0m0-19h0m4 144h0m0-5h0m0-4h0m0-4h0m1-6h0m-1-4h0m0-5h0m-1-5h0m2-5h0m-1-4h0m1-6h0m-1-4h0m0-5h0m1-4h0m0-6h0m-2-4h0m2-5h0m-1-6h0m0-3h0m1-5h0m0-6h0m-1-5h0m0-4h0m1-4h0m0-5h0m-1-5h0m-1-5h0m2-19h0m3 143h0m0-4h0m0-5h0m1-5h0m-1-4h0m1-5h0m0-5h0m-1-5h0m1-4h0m-1-6h0m0-4h0m0-5h0m1-4h0m-1-6h0m0-5h0m1-5h0m0-4h0m-1-5h0m1-5h0m0-5h0m-1-4h0m1-19h0m-1-5h0m0-4h0m1-15h0m0-5h0m4 144h0m-1-4h0m1-7h0m0-4h0m-1-5h0m0-5h0m0-4h0m1-5h0m0-5h0m-1-4h0m1-5h0m-2-5h0m1-4h0m0-6h0m1-5h0m-1-4h0m1-6h0m-2-4h0m2-5h0m0-4h0m0-29h0m0-6h0m-1-4h0m1-4h0m-1-6h0m0-5h0m1-5h0m0-5h0m0-1h0m4 156h0m-1-5h0m1-5h0m-1-4h0m0-6h0m-1-4h0m1-4h0m1-5h0m-1-6h0m-1-4h0m2-5h0m-1-5h0m1-5h0m0-4h0m0-6h0m0-5h0m-1-4h0m1-5h0m-1-5h0m0-4h0m1-25h0m-1-4h0m1-4h0m-2-6h0m1-3h0m5 133h0m0-5h0m0-5h0m-1-4h0m1-6h0m-1-4h0m0-5h0m0-5h0m0-4h0m1-6h0m-2-4h0m2-6h0m-1-4h0m1-5h0m-2-5h0m1-4h0m1-6h0m-1-3h0m0-6h0m0-4h0m0-5h0m1-20h0m-2-4h0m1-4h0m0-5h0m0-4h0m3 133h0m2-4h0m-2-6h0m1-5h0m0-5h0m0-4h0m0-5h0m1-4h0m-1-6h0m1-4h0m-1-6h0m1-4h0m0-5h0m0-5h0m0-5h0m-1-4h0m1-6h0m-1-4h0m0-5h0m0-5h0m1-4h0m-2-5h0m2-6h0m0-4h0m-1-4h0m1-6h0m-1-4h0m0-5h0m0-3h0m3 133h0m1-5h0m1-4h0m-1-6h0m0-5h0m0-4h0m-1-5h0m1-6h0m1-4h0m0-4h0m-1-6h0m0-4h0m1-5h0m0-4h0m0-5h0m-1-4h0m0-5h0m1-6h0m0-4h0m-2-6h0m2-5h0m0-4h0m0-5h0m-1-4h0m0-6h0m0-4h0m-1-6h0m1-3h0m1-3h0m3 132h0m0-5h0m1-5h0m0-5h0m-1-4h0m0-4h0m1-6h0m0-5h0m0-4h0m-1-5h0m0-6h0m1-5h0m0-4h0m0-4h0m-1-5h0m0-6h0m-1-5h0m2-4h0m-1-4h0m0-6h0m1-5h0m-2-4h0m1-5h0m0-4h0m0-6h0m1-4h0m-1-4h0m0-6h0m-1-2h0m6 132h0m-1-5h0m-1-5h0m1-5h0m1-4h0m0-5h0m-1-4h0m-1-6h0m1-5h0m-1-4h0m0-5h0m2-6h0m-1-4h0m0-4h0m1-6h0m-1-5h0m-1-3h0m2-5h0m-2-5h0m2-5h0m0-5h0m-1-6h0m0-5h0m0-3h0m1-5h0m0-6h0m-1-4h0m1-5h0m-1-2h0m5 132h0m0-6h0m-1-4h0m1-4h0m0-6h0m0-4h0m-1-4h0m1-5h0m0-5h0m-1-5h0m1-5h0m-1-5h0m0-5h0m0-4h0m-1-5h0m1-6h0m0-3h0m0-6h0m-1-5h0m2-4h0m0-5h0m-2-5h0m1-4h0m1-5h0m-2-5h0m2-4h0m-1-6h0m0-6h0m1-3h0m0-22h0m-1 0h0m3 156h0m1-5h0m0-5h0m1-5h0m0-4h0m-2-5h0m1-5h0m0-4h0m0-6h0m1-5h0m0-5h0m-2-4h0m2-4h0m-2-6h0m1-4h0m0-5h0m0-4h0m0-5h0m0-6h0m1-4h0m-1-5h0m-1-5h0m2-4h0m0-6h0m-1-5h0m1-5h0m0-5h0m-1-4h0m1-5h0m0-20h0m-1-2h0m4 157h0m1-5h0m-1-5h0m1-4h0m-1-5h0m1-6h0m-1-4h0m1-4h0m-1-6h0m0-5h0m0-5h0m0-4h0m1-4h0m-1-5h0m0-6h0m1-4h0m0-5h0m-1-5h0m0-5h0m0-5h0m0-4h0m1-5h0m0-5h0m-1-4h0m0-5h0m1-5h0m-1-5h0m0-5h0m1-4h0m-1-21h0m-1-1h0m6 156h0m0-5h0m-1-5h0m1-5h0m0-4h0m-1-5h0m1-5h0m-1-4h0m-1-6h0m1-4h0m1-5h0m-1-5h0m0-4h0m0-5h0m1-5h0m-1-4h0m0-6h0m0-4h0m0-5h0m0-6h0m0-4h0m-1-5h0m1-4h0m0-6h0m0-4h0m1-5h0m-1-5h0m0-5h0m0-4h0m0-21h0m1-5h0m-1-5h0m4 165h0m1-5h0m0-5h0m-1-5h0m0-5h0m-1-4h0m1-5h0m0-5h0m0-4h0m1-6h0m0-4h0m-2-4h0m2-5h0m-1-5h0m1-6h0m-2-3h0m2-6h0m-1-5h0m0-4h0m0-6h0m1-4h0m-1-4h0m1-5h0m0-5h0m0-5h0m-1-5h0m0-5h0m0-4h0m0-6h0m0-5h0m0-11h0m0-4h0m0-5h0m-1-4h0m5 164h0m1-4h0m-1-6h0m1-5h0m0-4h0m-2-5h0m2-4h0m-1-5h0m0-6h0m1-5h0m0-4h0m-1-4h0m0-6h0m0-4h0m0-6h0m0-4h0m1-5h0m0-5h0m-1-5h0m0-4h0m1-5h0m-1-5h0m0-5h0m1-4h0m-2-5h0m2-5h0m-2-5h0m0-5h0m2-5h0m0-4h0m0-6h0m0-5h0m0-5h0m0-6h0m0-4h0m4 164h0m-1-5h0m1-3h0m0-6h0m0-4h0m-1-6h0m0-4h0m0-5h0m1-4h0m-2-5h0m0-6h0m2-4h0m0-5h0m-2-5h0m1-4h0m1-5h0m-1-6h0m1-4h0m-1-5h0m-1-4h0m1-4h0m-1-5h0m1-7h0m1-4h0m0-5h0m-2-4h0m2-4h0m0-6h0m0-4h0m-1-5h0m0-5h0m1-7h0m-2-4h0m2-6h0m-1-4h0m0-5h0m0-6h0m0-2h0m4 178h0m0-5h0m0-5h0m1-5h0m-1-4h0m1-5h0m-1-5h0m-1-4h0m2-5h0m-1-5h0m1-5h0m0-5h0m-1-4h0m0-5h0m1-5h0m0-6h0m-2-4h0m1-5h0m1-4h0m-2-5h0m2-5h0m-1-5h0m1-4h0m0-5h0m-1-6h0m0-4h0m0-5h0m1-5h0m0-4h0m-1-6h0m0-4h0m1-6h0m-2-2h0m6 152h0m-1-4h0m1-6h0m-1-4h0m0-6h0m0-4h0m0-5h0m0-5h0m0-5h0m1-5h0m-1-4h0m1-6h0m-1-4h0m1-14h0m-1-5h0m1-5h0m0-4h0m0-5h0m-1-6h0m0-5h0m-1-5h0m1-3h0m0-5h0m1-6h0m-1-4h0m0-4h0m0-6h0m1-4h0m0-6h0m-1-6h0m1-1h0m3 151h0m0-4h0m1-4h0m0-6h0m0-4h0m0-4h0m-2-7h0m2-3h0m0-6h0m-1-4h0m0-5h0m0-6h0m-1-22h0m1-15h0m-1-5h0m2 0h0m3 96h0m1-5h0m0-5h0m-1-5h0m1-4h0m-1-5h0m0-5h0m0-5h0m1-5h0m-1-4h0m0-5h0m0-4h0m-1-5h0m2-40h0m0 0h0m4 97h0m-1-6h0m1-4h0m-1-5h0m1-5h0m-1-5h0m0-4h0m1-5h0m-2-5h0m2-4h0m-1-6h0m1-24h0m0-24h0m-1 1h0m4 96h0m0-5h0m-1-5h0m1-5h0m0-4h0m1-5h0m-1-5h0m0-4h0m-1-5h0m2-5h0m-1-5h0m0-19h0m-1-6h0m2-19h0m0-4h0m-2-1h0m5 97h0m0-6h0m0-4h0m0-4h0m0-5h0m1-6h0m0-3h0m-1-6h0m1-5h0m-1-4h0m-1-29h0m2-4h0m-1-16h0m0-4h0m-1-1h0m6 97h0m0-5h0m0-4h0m0-6h0m0-5h0m0-5h0m-1-3h0m1-6h0m-1-5h0m1-5h0m-1-4h0m0-20h0m0-5h0m0-4h0m0-5h0m-1-5h0m2-4h0m-1-5h0m0-4h0m4 100h0m1-5h0m-1-5h0m0-5h0m0-4h0m-1-5h0m2-5h0m-1-5h0m0-4h0m0-5h0m0-6h0m1-4h0m-1-15h0m1-4h0m-1-5h0m0-5h0m1-4h0m0-5h0m0-5h0m0-5h0m0-4h0m0-6h0m0-5h0m0-4h0m-1-4h0m4 124h0m1-4h0m0-6h0m-1-5h0m1-5h0m-1-4h0m0-5h0m1-4h0m-1-6h0m0-5h0m0-4h0m0-6h0m1-4h0m0-4h0m0-6h0m-1-4h0m-1-6h0m1-4h0m1-4h0m-1-5h0m0-5h0m1-5h0m-1-5h0m0-4h0m1-5h0m-2-5h0m1-5h0m4 125h0m1-5h0m-1-5h0m1-5h0m-1-4h0m0-5h0m1-4h0m-1-6h0m1-4h0m0-5h0m0-5h0m-1-5h0m0-5h0m0-5h0m1-4h0m-1-4h0m1-7h0m-1-3h0m0-5h0m-1-6h0m2-4h0m0-5h0m-1-5h0m0-4h0m0-5h0m0-5h0m0-5h0m5 124h0m-1-5h0m0-3h0m1-5h0m-2-6h0m2-4h0m0-5h0m-1-5h0m-1-4h0m1-6h0m0-4h0m-1-4h0m1-5h0m0-5h0m0-6h0m1-4h0m-1-4h0m1-6h0m0-4h0m-1-5h0m0-5h0m1-5h0m-1-4h0m0-5h0m0-6h0m0-5h0m1-4h0m3 124h0m0-4h0m0-5h0m0-4h0m0-6h0m0-5h0m0-5h0m1-4h0m-1-4h0m-1-6h0m2-5h0m-1-3h0m1-6h0m-1-4h0m0-5h0m0-4h0m0-6h0m0-5h0m1-5h0m0-4h0m-1-6h0m1-4h0m0-5h0m-1-5h0m0-4h0m0-5h0m0-5h0m0-5h0m0-4h0m0-6h0m0-2h0m4 142h0m0-6h0m0-4h0m0-4h0m0-6h0m1-4h0m0-4h0m-1-6h0m-1-4h0m2-6h0m-1-4h0m1-5h0m0-5h0m0-5h0m-1-4h0m1-5h0m-2-6h0m1-4h0m0-5h0m-1-5h0m2-5h0m0-4h0m0-5h0m-1-4h0m0-6h0m5 116h0m-1-6h0m1-4h0m-2-5h0m1-4h0m0-5h0m1-6h0m0-4h0m0-4h0m-1-6h0m1-4h0m0-5h0m0-4h0m0-6h0m-2-4h0m1-5h0m1-6h0m0-5h0m0-3h0m-1-5h0m1-5h0m-1-5h0m-1-5h0m1-5h0m0-5h0m5 116h0m-1-5h0m0-5h0m1-5h0m-1-4h0m0-5h0m0-4h0m0-5h0m0-5h0m0-5h0m1-5h0m-1-5h0m0-5h0m-1-5h0m1-4h0m0-6h0m0-4h0m0-5h0m-1-5h0m2-4h0m-2-5h0m2-5h0m-1-5h0m0-5h0m0-5h0m5 116h0m0-4h0m0-6h0m-1-5h0m-1-4h0m2-6h0m-1-4h0m1-4h0m-1-5h0m1-5h0m-1-6h0m1-4h0m-1-5h0m0-4h0m0-6h0m0-4h0m1-5h0m0-4h0m-1-6h0m0-5h0m0-5h0m1-5h0m-1-3h0m-1-6h0m1-4h0m5 114h0m0-3h0m0-6h0m-1-4h0m0-6h0m0-4h0m1-4h0m0-6h0m-1-5h0m0-5h0m0-5h0m0-4h0m1-4h0m0-5h0m0-5h0m0-6h0m0-4h0m-1-5h0m1-5h0m0-5h0m-1-4h0m-1-5h0m2-5h0m-2-4h0m1-5h0m4 115h0m0-5h0m0-5h0m1-5h0m-1-4h0m0-6h0m0-4h0m0-5h0m0-4h0m0-5h0m0-6h0m0-5h0m0-3h0m0-5h0m1-6h0m0-4h0m-1-4h0m0-6h0m1-4h0m0-6h0m0-5h0m-1-4h0m-1-5h0m1-5h0m1-5h0m-1-23h0m5 139h0m-1-5h0m1-4h0m0-6h0m0-5h0m-1-4h0m0-4h0m1-6h0m-1-5h0m1-4h0m-1-6h0m0-4h0m0-5h0m0-4h0m0-6h0m1-4h0m0-5h0m0-6h0m-1-4h0m0-4h0m1-6h0m-1-3h0m1-6h0m-1-5h0m1-5h0m0-4h0m-1-16h0m0-4h0m4 140h0m0-5h0m-1-5h0m1-5h0m0-4h0m-1-6h0m2-4h0m-1-5h0m0-4h0m0-5h0m1-6h0m-1-4h0m1-4h0m0-5h0m-1-6h0m1-4h0m0-5h0m-1-4h0m1-6h0m0-5h0m-1-4h0m-1-5h0m1-4h0m0-6h0m0-5h0m0-5h0m0-14h0m0-5h0m4 140h0m1-5h0m0-5h0m0-4h0m-2-6h0m1-3h0m0-6h0m0-4h0m-1-6h0m2-5h0m-1-5h0m0-4h0m1-5h0m-1-5h0m1-4h0m0-6h0m0-3h0m0-6h0m0-4h0m-1-6h0m0-4h0m1-5h0m0-5h0m-1-4h0m1-6h0m0-4h0m-2-5h0m0-5h0m1-5h0m0-5h0m0-6h0m1-4h0m0-6h0m0-3h0m-180 158h0m-1-5h0m2-4h0m0-5h0m-1-4h0m0-5h0m0-5h0m0-5h0m0-4h0m1-6h0m0-3h0m-1-6h0m0-4h0m-1-6h0m1-4h0m1-5h0m0-5h0m0-5h0m-2-5h0m0-4h0m1-6h0m1-4h0m-2-5h0m1-4h0m0-29h0m-1-5h0m0-6h0m1-2h0m14 152h0m1-4h0m1-6h0m-2-5h0m1-5h0m-1-5h0m2-4h0m-1-4h0m-1-5h0m0-5h0m2-6h0m0-3h0m-1-6h0m0-4h0m-1-5h0m1-5h0m0-4h0m-1-5h0m1-5h0m1-6h0m0-3h0m-1-7h0m-1-3h0m0-5h0m0-5h0m0-6h0m1-5h0m0-3h0m0-5h0m1-7h0m-2-3h0m1-7h0m0-5h0m0-5h0m-1-3h0m1-6h0m-1-6h0m0-5h0m0-5h0m0-2h0m15 187h0m0-4h0m1-5h0m-2-4h0m2-5h0m-1-6h0m0-5h0m-1-4h0m1-5h0m0-5h0m0-4h0m0-5h0m0-4h0m1-5h0m-1-6h0m0-3h0m0-6h0m0-5h0m1-5h0m-1-4h0m0-5h0m0-5h0m-1-5h0m2-4h0m0-6h0m-1-4h0m0-5h0m0-19h0m9 144h0m1-5h0m0-5h0m0-4h0m0-6h0m0-4h0m-1-5h0m1-4h0m0-5h0m0-5h0m-1-6h0m2-4h0m-1-5h0m1-5h0m-2-4h0m1-5h0m1-4h0m0-7h0m-1-3h0m1-6h0m-1-28h0m0-5h0m1-5h0m-1-5h0m0-5h0m0-5h0m0-6h0m-1-4h0m0-2h0m15 157h0m0-5h0m1-5h0m-1-4h0m-1-6h0m2-4h0m-1-6h0m0-4h0m0-5h0m0-4h0m1-5h0m-1-5h0m1-5h0m0-4h0m-1-5h0m0-6h0m1-4h0m-1-5h0m1-4h0m-2-5h0m1-5h0m1-5h0m-1-4h0m0-6h0m0-4h0m0-5h0m0-6h0m0-4h0m1-2h0m11 132h0m0-4h0m0-6h0m2-4h0m-2-5h0m1-5h0m-1-5h0m1-5h0m1-4h0m0-6h0m-1-4h0m-1-4h0m1-6h0m0-5h0m1-4h0m-1-5h0m-1-5h0m2-4h0m0-6h0m-2-5h0m1-4h0m0-5h0m0-5h0m1-5h0m0-4h0m-2-5h0m1-5h0m0-5h0m0-4h0m-1-22h0m14 155h0m0-5h0m0-4h0m0-5h0m0-4h0m0-5h0m-1-5h0m1-5h0m0-5h0m-1-5h0m1-3h0m-1-6h0m0-4h0m1-6h0m-1-4h0m0-5h0m0-5h0m1-5h0m0-5h0m0-5h0m0-5h0m0-3h0m-1-7h0m0-3h0m0-5h0m0-5h0m1-5h0m0-5h0m0-5h0m0-20h0m0-6h0m-1-3h0m13 164h0m-1-6h0m0-3h0m1-6h0m0-5h0m0-3h0m-1-5h0m1-7h0m-1-4h0m0-4h0m0-5h0m0-6h0m1-4h0m0-4h0m0-5h0m-1-5h0m0-5h0m0-5h0m0-5h0m1-5h0m-1-3h0m0-5h0m1-6h0m-1-5h0m1-5h0m-1-4h0m0-5h0m0-5h0m1-5h0m-1-5h0m0-5h0m0-4h0m1-5h0m-1-5h0m0-6h0m1-5h0m-1-5h0m0-3h0m10 178h0m1-5h0m0-5h0m0-5h0m0-4h0m0-6h0m-1-4h0m1-6h0m0-3h0m0-6h0m0-4h0m0-6h0m0-4h0m0-15h0m-1-5h0m0-4h0m0-4h0m1-5h0m-1-5h0m1-4h0m0-6h0m-1-4h0m1-5h0m-1-5h0m0-6h0m1-4h0m0-5h0m0-4h0m0-5h0m0-5h0m0-4h0m10 153h0m0-5h0m0-5h0m0-5h0m0-4h0m-1-5h0m0-5h0m0-5h0m0-4h0m1-5h0m-1-5h0m0-24h0m1-24h0m-1-1h0m9 97h0m1-5h0m-1-5h0m1-5h0m0-4h0m-1-5h0m0-4h0m0-6h0m1-5h0m-1-4h0m1-5h0m0-20h0m0-5h0m-1-3h0m0-15h0m1-5h0m-1-4h0m11 100h0m-2-5h0m1-4h0m0-5h0m0-6h0m0-4h0m1-5h0m-1-4h0m-1-5h0m1-5h0m0-5h0m1-5h0m-1-6h0m0-4h0m1-4h0m-2-5h0m1-6h0m0-3h0m0-6h0m1-5h0m-1-4h0m1-5h0m0-5h0m-1-4h0m0-5h0m0-6h0m0-3h0m14 124h0m-2-5h0m2-5h0m-1-5h0m0-5h0m0-4h0m1-4h0m-2-6h0m2-5h0m-1-4h0m-1-6h0m1-4h0m1-5h0m-2-4h0m1-5h0m0-5h0m0-6h0m1-4h0m-1-4h0m1-6h0m-1-4h0m0-5h0m0-5h0m1-5h0m0-4h0m-1-4h0m0-6h0m-1-5h0m2-4h0m-1-5h0m-1-3h0m13 142h0m0-5h0m1-5h0m0-4h0m-1-6h0m1-4h0m-2-4h0m1-6h0m0-4h0m-1-6h0m0-4h0m1-4h0m0-6h0m0-4h0m0-5h0m1-5h0m-2-5h0m2-5h0m0-4h0m-1-5h0m0-5h0m-1-5h0m1-5h0m0-5h0m0-3h0m12 114h0m0-6h0m1-3h0m0-6h0m0-5h0m0-4h0m-1-5h0m0-5h0m0-5h0m1-4h0m-1-5h0m0-5h0m1-5h0m-1-4h0m0-5h0m0-5h0m1-5h0m-1-4h0m0-6h0m0-5h0m1-4h0m0-5h0m0-5h0m-1-4h0m1-5h0m0-24h0m11 139h0m0-5h0m-1-4h0m1-6h0m-1-4h0m0-6h0m1-4h0m1-4h0m0-5h0m-1-5h0m-1-6h0m0-3h0m1-6h0m0-5h0m-1-4h0m2-6h0m-2-5h0m1-3h0m1-6h0m-2-5h0m0-4h0m1-4h0m1-5h0m-1-5h0m-1-6h0m1-4h0m-1-5h0m0-4h0m1-5h0m1-6h0m-1-5h0m1-4h0m-2-7h0m0-3h0m-132-13h0m7 0h0m40-26h0m0 8h0"/><path id="q1_1" d="M345.7 1108.9h0m-51.7 171.6h0m51.7 1.9h0m-74.9 17.4h0m73.9 17.4h0m-143.7 37.7h0m15.7 11.9h0m49.6-15.5h0m8.1-7.3h0m20.1 24.3h0m-20.1 26.3h0m10 1.8h0m10.1 0h0m-94.5 13h0m31-3.6h0m98 3.6h0m16 0h0m-68 7.9h0m50 19.9h0m14 5.2h0m0 6.9h0m-22 8.5h0m8 12.7h0m-12 27.7h0"/><linearGradient id="r2_0" gradientUnits="userSpaceOnUse" x1="0" y1="771.8" x2="0" y2="222.8"><stop offset="0.0000" stop-color="#b08416"/><stop offset="0.2500" stop-color="#b08416"/><stop offset="0.3333" stop-color="#b68618"/><stop offset="0.4333" stop-color="#a87c16"/><stop offset="0.5667" stop-color="#9c7414"/><stop offset="1.0000" stop-color="#967014"/></linearGradient><linearGradient id="f2_0" gradientUnits="userSpaceOnUse" x1="0" y1="771.8" x2="0" y2="222.8"><stop offset="0.0000" stop-color="#f5bd1f"/><stop offset="0.2500" stop-color="#f5bd1f"/><stop offset="0.3333" stop-color="#e8b21c"/><stop offset="0.4333" stop-color="#d8a41a"/><stop offset="0.5667" stop-color="#cc9a18"/><stop offset="1.0000" stop-color="#c69616"/></linearGradient><path id="p2_0" d="M405 772h0m-1-6h0m0-7h0m0-6h0m1-6h0m-1-4h0m1-7h0m0-6h0m0-5h0m-1-7h0m0-7h0m1-5h0m0-5h0m-1-8h0m0-5h0m1-7h0m-1-4h0m4 95h0m-1-7h0m1-5h0m1-7h0m-1-4h0m1-8h0m-1-5h0m0-6h0m0-7h0m-1-6h0m1-6h0m1-5h0m-1-6h0m1-7h0m-1-6h0m1-5h0m-2-4h0m6 94h0m0-7h0m0-5h0m-2-6h0m1-6h0m1-6h0m-1-7h0m1-5h0m-1-7h0m0-6h0m1-6h0m-1-5h0m0-6h0m-1-6h0m2-12h0m0-5h0m-1-8h0m1-6h0m-1-6h0m1-5h0m0-5h0m4 125h0m-1-6h0m-1-6h0m0-7h0m1-6h0m1-4h0m-1-8h0m0-5h0m0-6h0m1-6h0m0-7h0m-2-5h0m1-30h0m1-5h0m0-8h0m-1-5h0m0-7h0m1-4h0m3 125h0m1-7h0m-2-5h0m2-6h0m-2-6h0m0-5h0m0-8h0m2-6h0m-1-6h0m0-5h0m1-7h0m-1-5h0m1-29h0m-1-6h0m1-8h0m-1-5h0m1-7h0m-1-4h0m4 125h0m0-7h0m0-5h0m1-7h0m0-6h0m-1-5h0m0-7h0m0-5h0m1-6h0m-2-6h0m2-5h0m0-8h0m0-5h0m-1-23h0m0-7h0m1-6h0m-1-5h0m1-6h0m0-6h0m4 125h0m0-6h0m0-7h0m-1-6h0m1-6h0m0-5h0m0-7h0m0-5h0m0-6h0m-2-5h0m1-7h0m0-6h0m1-5h0m-1-20h0m1-6h0m-2-6h0m2-6h0m-1-5h0m1-5h0m-1-6h0m5 125h0m0-6h0m-1-5h0m0-8h0m0-5h0m0-6h0m0-5h0m1-8h0m-1-5h0m1-6h0m-1-5h0m-1-7h0m1-6h0m0-7h0m0-5h0m1-6h0m-1-6h0m1-7h0m0-4h0m-1-7h0m1-5h0m-1-8h0m0-5h0m0-6h0m0-6h0m0-5h0m1-7h0m0-7h0m0-5h0m0-5h0m-1-6h0m0-6h0m4 185h0m1-5h0m-1-6h0m0-8h0m1-5h0m-1-6h0m0-7h0m0-5h0m0-7h0m-1-6h0m2-5h0m-1-7h0m0-6h0m1-4h0m-1-7h0m1-6h0m0-6h0m-1-6h0m1-7h0m0-5h0m-2-7h0m2-5h0m-1-6h0m1-5h0m-1-7h0m0-7h0m0-5h0m1-7h0m-1-6h0m-1-6h0m1-5h0m0-4h0m4 184h0m0-5h0m0-8h0m0-6h0m0-6h0m1-4h0m-1-7h0m0-6h0m1-6h0m-1-5h0m0-8h0m1-5h0m-1-6h0m1-6h0m-1-7h0m0-5h0m1-5h0m-1-7h0m1-6h0m-1-6h0m0-5h0m0-7h0m4 125h0m1-5h0m-2-7h0m1-5h0m0-5h0m0-7h0m1-6h0m-1-7h0m0-5h0m1-7h0m-1-5h0m0-5h0m0-8h0m0-5h0m0-6h0m-1-7h0m0-5h0m1-7h0m-1-6h0m2-5h0m0-5h0m-1-6h0m3 125h0m1-7h0m1-4h0m-1-8h0m1-5h0m-1-5h0m-1-8h0m1-6h0m1-5h0m-1-7h0m0-5h0m1-5h0m-1-6h0m0-7h0m0-7h0m1-4h0m0-8h0m-1-6h0m0-5h0m-1-6h0m2-7h0m-1-5h0m0-6h0m1-6h0m3 138h0m-1-6h0m1-24h0m0-5h0m1-6h0m0-8h0m-1-6h0m1-5h0m0-6h0m0-6h0m-1-6h0m0-6h0m1-19h0m0-5h0m-1-6h0m0-5h0m0-2h0m5 120h0m-2-35h0m2-7h0m0-6h0m-1-4h0m1-6h0m-1-7h0m1-6h0m0-36h0m0-7h0m0-5h0m-1 0h0m3 120h0m1-37h0m1-6h0m-1-5h0m0-7h0m1-5h0m0-7h0m0-6h0m0-35h0m0-7h0m-1-5h0m1 0h0m3 120h0m0-37h0m1-5h0m0-5h0m-1-7h0m1-6h0m0-48h0m-1-6h0m0-5h0m0-1h0m3 119h0m1-6h0m0-6h0m1-5h0m0-5h0m0-7h0m0-7h0m-2-5h0m2-7h0m-1-6h0m0-4h0m0-38h0m1-5h0m0-7h0m0-4h0m-1-7h0m0-1h0m4 121h0m1-5h0m0-7h0m0-7h0m0-5h0m-1-5h0m0-8h0m0-6h0m0-5h0m0-6h0m0-6h0m1-25h0m0-6h0m-2-5h0m1-7h0m1-6h0m0-5h0m-1-6h0m1-6h0m-1-7h0m-1-6h0m0-1h0m5 140h0m0-5h0m0-8h0m0-6h0m1-5h0m-1-7h0m-1-6h0m2-5h0m-1-6h0m-1-6h0m1-7h0m1-24h0m0-6h0m-1-5h0m0-7h0m1-4h0m-1-8h0m1-6h0m-1-5h0m0-7h0m-1-5h0m2-2h0m2 140h0m1-7h0m1-5h0m0-7h0m0-5h0m-1-7h0m0-6h0m1-5h0m-1-5h0m-1-7h0m2-7h0m-1-6h0m0-5h0m0-6h0m0-6h0m0-5h0m0-8h0m-1-5h0m2-6h0m-1-5h0m1-8h0m-1-5h0m-1-7h0m1-4h0m1-4h0m4 141h0m0-6h0m0-6h0m0-6h0m-1-6h0m0-7h0m0-5h0m0-7h0m0-5h0m0-6h0m1-7h0m-1-6h0m1-5h0m0-6h0m-1-5h0m0-7h0m0-6h0m1-6h0m-1-6h0m0-6h0m0-7h0m0-5h0m1-7h0m-1-5h0m1-2h0m4 140h0m-1-7h0m0-6h0m1-5h0m0-5h0m0-8h0m-1-6h0m1-5h0m-1-6h0m0-6h0m1-5h0m0-6h0m-1-7h0m0-5h0m0-8h0m0-4h0m1-8h0m0-4h0m-1-8h0m1-5h0m-1-5h0m0-7h0m0-7h0m-1-5h0m1-4h0m4 142h0m0-6h0m1-7h0m-2-5h0m2-7h0m-1-4h0m1-8h0m-1-5h0m0-7h0m0-5h0m1-6h0m-1-7h0m0-5h0m0-5h0m0-6h0m0-6h0m0-7h0m0-23h0m-1-7h0m1-6h0m1-6h0m-1-3h0m5 140h0m-1-5h0m0-5h0m-1-7h0m1-7h0m-1-6h0m1-5h0m0-7h0m1-5h0m0-7h0m-1-5h0m0-5h0m0-6h0m0-8h0m1-5h0m-1-7h0m1-5h0m-1-24h0m1-6h0m3 125h0m1-5h0m-1-6h0m0-6h0m0-6h0m0-6h0m-1-7h0m2-5h0m0-6h0m-1-7h0m0-5h0m1-7h0m0-6h0m0-6h0m-1-6h0m0-6h0m0-5h0m0-25h0m0-4h0m4 125h0m0-6h0m1-6h0m0-7h0m0-6h0m0-4h0m0-8h0m0-6h0m0-5h0m-2-5h0m1-7h0m1-6h0m0-7h0m0-6h0m-2-6h0m0-6h0m2-6h0m0-23h0m0-7h0m0-5h0m0-7h0m-2-4h0m1-7h0m1-7h0m0-5h0m0-6h0m-1-5h0m0-7h0m1-4h0m4 184h0m-1-7h0m1-5h0m-1-6h0m-1-6h0m2-5h0m-1-8h0m0-5h0m1-6h0m-1-7h0m1-5h0m-1-6h0m0-6h0m0-6h0m-1-7h0m2-5h0m-1-6h0m0-24h0m1-7h0m0-6h0m0-5h0m0-6h0m-1-6h0m1-7h0m-1-5h0m0-7h0m0-4h0m0-8h0m0-3h0m4 184h0m0-6h0m0-6h0m-1-5h0m1-8h0m1-5h0m-1-7h0m1-6h0m0-6h0m-1-5h0m0-6h0m-1-6h0m2-7h0m-1-5h0m0-6h0m1-7h0m-1-6h0m0-6h0m0-6h0m0-5h0m0-6h0m1-7h0m-1-6h0m0-6h0m1-5h0m0-7h0m-2-5h0m1-5h0m0-8h0m-1-4h0m1-7h0m0-3h0m5 183h0m-1-6h0m1-6h0m0-6h0m-1-6h0m0-6h0m1-7h0m-1-4h0m1-8h0m0-5h0m0-6h0m-1-7h0m1-5h0m-1-6h0m1-6h0m-2-6h0m1-6h0m0-7h0m1-6h0m0-6h0m-1-5h0m0-6h0m-1-5h0m0-7h0m1-7h0m0-5h0m0-7h0m0-6h0m1-5h0m-1-7h0m1-6h0m0-2h0m3 183h0m0-7h0m-1-5h0m2-7h0m-1-5h0m0-7h0m0-5h0m1-5h0m-1-7h0m0-7h0m0-4h0m0-7h0m1-7h0m0-6h0m-1-5h0m-1-6h0m1-6h0m-1-7h0m1-6h0m-1-6h0m1-6h0m1-5h0m3 126h0m1-7h0m0-6h0m0-5h0m-1-5h0m0-8h0m1-5h0m0-7h0m-1-6h0m0-6h0m0-6h0m0-5h0m-1-6h0m1-7h0m0-5h0m0-6h0m0-6h0m1-7h0m0-4h0m0-6h0m-1-7h0m1-6h0m4 126h0m0-6h0m-2-5h0m1-8h0m1-6h0m-1-5h0m-1-6h0m1-6h0m1-6h0m-2-7h0m2-5h0m-1-6h0m1-6h0m0-6h0m-1-6h0m0-5h0m1-7h0m0-6h0m0-7h0m0-5h0m0-6h0m0-6h0m4 126h0m-1-6h0m1-6h0m0-6h0m-1-7h0m0-6h0m0-6h0m0-5h0m0-6h0m0-6h0m0-7h0m0-6h0m0-5h0m-1-5h0m1-8h0m1-6h0m-1-6h0m-1-5h0m1-6h0m0-7h0m1-5h0m0-5h0m-1-7h0m0-15h0m4 147h0m0-6h0m0-6h0m0-6h0m1-6h0m0-6h0m-1-7h0m1-5h0m-1-7h0m1-4h0m0-7h0m0-6h0m-1-6h0m1-7h0m-1-5h0m1-7h0m0-4h0m-1-8h0m0-6h0m1-4h0m-1-7h0m1-7h0m3 127h0m1-6h0m-1-7h0m0-5h0m1-6h0m-1-6h0m1-7h0m-1-6h0m-1-6h0m1-5h0m1-5h0m0-7h0m-1-7h0m0-6h0m1-6h0m-1-5h0m0-6h0m0-6h0m1-6h0m-1-6h0m1-5h0m0-8h0m3 127h0m1-6h0m-1-6h0m1-6h0m0-6h0m0-7h0m-1-5h0m1-5h0m0-7h0m0-6h0m0-5h0m-2-8h0m2-6h0m0-6h0m0-5h0m-1-6h0m0-6h0m0-6h0m0-6h0m1-6h0m0-7h0m-1-5h0m-1-25h0m1-4h0m0-7h0m0-6h0m1-7h0m-1-6h0m0-5h0m5 186h0m-1-6h0m0-7h0m1-5h0m-1-5h0m1-8h0m-2-4h0m2-8h0m0-5h0m0-6h0m0-7h0m0-4h0m-1-7h0m1-6h0m-1-7h0m0-5h0m0-5h0m1-8h0m0-5h0m-1-6h0m1-7h0m-2-6h0m2-24h0m-2-5h0m0-6h0m0-7h0m2-4h0m-1-7h0m-1-6h0m5 186h0m1-6h0m-1-6h0m0-6h0m0-7h0m1-6h0m-1-6h0m1-5h0m-1-6h0m1-5h0m-1-7h0m1-7h0m-1-6h0m0-5h0m0-6h0m1-6h0m-1-6h0m1-6h0m-1-6h0m1-5h0m0-8h0m-1-6h0m0-5h0m1-5h0m0-7h0m0-7h0m0-5h0m0-6h0m0-7h0m0-5h0m-1-6h0m0-5h0m4 185h0m0-6h0m1-7h0m0-6h0m-1-5h0m0-5h0m1-7h0m-1-7h0m-1-5h0m1-6h0m1-6h0m-1-6h0m0-5h0m0-7h0m0-7h0m0-5h0m0-5h0m0-8h0m-1-6h0m1-5h0m1-7h0m0-5h0m-1-6h0m-1-7h0m2-5h0m-1-5h0m1-8h0m-2-5h0m2-7h0m-2-5h0m0-6h0m2-6h0m-153 186h0m0-7h0m1-5h0m0-7h0m0-5h0m0-6h0m-1-7h0m1-5h0m-1-6h0m0-7h0m0-5h0m0-6h0m1-6h0m0-7h0m-1-5h0m0-6h0m0-3h0m12 93h0m1-6h0m0-7h0m0-6h0m-1-5h0m1-7h0m-2-5h0m1-6h0m0-7h0m1-6h0m-1-6h0m0-5h0m0-31h0m0-6h0m-1-6h0m1-5h0m-1-6h0m0-5h0m18 124h0m0-5h0m0-5h0m1-8h0m0-5h0m0-7h0m0-4h0m-1-8h0m0-6h0m0-4h0m0-7h0m0-7h0m1-6h0m-1-6h0m0-6h0m0-6h0m1-5h0m-1-6h0m1-6h0m-1-5h0m1-7h0m-1-7h0m0-4h0m1-8h0m0-4h0m-1-7h0m0-6h0m1-6h0m-1-6h0m0-6h0m0-5h0m0-4h0m16 183h0m0-7h0m1-6h0m0-10h0m-1-8h0m1-5h0m0-7h0m-1-4h0m0-6h0m1-8h0m0-4h0m-1-7h0m1-6h0m0-7h0m0-6h0m0-5h0m-1-6h0m0-6h0m0-5h0m0-7h0m0-6h0m0-6h0m0-6h0m1-21h0m11 159h0m-1-37h0m2-5h0m-2-7h0m2-5h0m-1-7h0m0-4h0m-1-7h0m0-36h0m2-7h0m0-5h0m-1-1h0m64 121h0m0-5h0m0-7h0m1-7h0m-2-6h0m1-6h0m0-6h0m1-5h0m0-6h0m-1-6h0m0-6h0m-1-6h0m1-6h0m-1-7h0m2-5h0m0-7h0m-2-6h0m1-5h0m0-6h0m0-6h0m1-6h0m-1-6h0m7 126h0m1-7h0m-1-5h0m0-6h0m0-6h0m0-6h0m1-7h0m-1-5h0m0-6h0m1-6h0m-1-7h0m1-4h0m-1-7h0m0-7h0m1-5h0m-1-7h0m1-5h0m-1-6h0m0-6h0m1-5h0m-1-7h0m1-6h0m0-22h0"/><path id="q2_0" d="M506.3 371.8h0m53.2 7h0m-51.2 14.1h0m-0.6 28.1h0m-34.5 3h0m-70.3 8h0m11 20.1h0m9.1 4h0m51.2-6h0m27.1 3h0m15.7-11.1h0m36.5 27.2h0m-45.2 11h0m-2 18.1h0m-92.4 8h0m141.6 1h0m-49.2 8h0m1 6.1h0m-104.3 66.6h0m0 19h0m0 9h0m2.5 44h0m8-131h0m0 8h0m0 22.5h0m18.5-7.5h0m5 2h0m12 12h0m29-19h0m8 18h0m19-40h0m11 11h0m-11 14h0m7 14h0m43-33h0m1 26h0m-77 28h0m-18 26h0m16-4h0m13 1h0"/><linearGradient id="r2_1" gradientUnits="userSpaceOnUse" x1="0" y1="1610.8" x2="0" y2="1171.6"><stop offset="0.0000" stop-color="#b08416"/><stop offset="0.2500" stop-color="#b08416"/><stop offset="0.3333" stop-color="#b68618"/><stop offset="0.4333" stop-color="#a87c16"/><stop offset="0.5667" stop-color="#9c7414"/><stop offset="1.0000" stop-color="#967014"/></linearGradient><linearGradient id="f2_1" gradientUnits="userSpaceOnUse" x1="0" y1="1610.8" x2="0" y2="1171.6"><stop offset="0.0000" stop-color="#f5bd1f"/><stop offset="0.2500" stop-color="#f5bd1f"/><stop offset="0.3333" stop-color="#e8b21c"/><stop offset="0.4333" stop-color="#d8a41a"/><stop offset="0.5667" stop-color="#cc9a18"/><stop offset="1.0000" stop-color="#c69616"/></linearGradient><path id="p2_1" d="M405 1611h0m-1-5h0m0-5h0m0-5h0m1-5h0m-1-3h0m1-5h0m0-6h0m0-4h0m-1-5h0m0-6h0m1-4h0m0-4h0m-1-6h0m0-4h0m1-6h0m-1-3h0m4 76h0m-1-5h0m1-4h0m1-6h0m-1-4h0m1-6h0m-1-4h0m0-5h0m0-5h0m-1-5h0m1-5h0m1-4h0m-1-4h0m1-6h0m-1-5h0m1-4h0m-2-4h0m6 76h0m0-5h0m0-4h0m-2-5h0m1-5h0m1-5h0m-1-6h0m1-4h0m-1-5h0m0-5h0m1-5h0m-1-4h0m0-4h0m-1-5h0m2-10h0m0-4h0m-1-6h0m1-5h0m-1-5h0m1-4h0m0-4h0m4 100h0m-1-5h0m-1-5h0m0-5h0m1-5h0m1-4h0m-1-5h0m0-5h0m0-5h0m1-4h0m0-6h0m-2-4h0m1-24h0m1-4h0m0-6h0m-1-4h0m0-6h0m1-3h0m3 100h0m1-5h0m-2-4h0m2-6h0m-2-5h0m0-3h0m0-6h0m2-5h0m-1-5h0m0-4h0m1-6h0m-1-4h0m1-23h0m-1-5h0m1-6h0m-1-4h0m1-6h0m-1-3h0m4 100h0m0-5h0m0-5h0m1-5h0m0-5h0m-1-4h0m0-5h0m0-4h0m1-5h0m-2-5h0m2-5h0m0-5h0m0-4h0m-1-19h0m0-6h0m1-4h0m-1-5h0m1-4h0m0-5h0m4 100h0m0-5h0m0-5h0m-1-5h0m1-5h0m0-4h0m0-6h0m0-3h0m0-5h0m-2-5h0m1-5h0m0-5h0m1-4h0m-1-16h0m1-4h0m-2-5h0m2-5h0m-1-5h0m1-3h0m-1-5h0m5 100h0m0-5h0m-1-4h0m0-6h0m0-4h0m0-5h0m0-4h0m1-6h0m-1-5h0m1-4h0m-1-5h0m-1-5h0m1-4h0m0-6h0m0-4h0m1-5h0m-1-5h0m1-5h0m0-4h0m-1-6h0m1-4h0m-1-5h0m0-4h0m0-6h0m0-4h0m0-4h0m1-6h0m0-5h0m0-5h0m0-4h0m-1-5h0m0-5h0m4 149h0m1-4h0m-1-5h0m0-6h0m1-4h0m-1-5h0m0-5h0m0-5h0m0-5h0m-1-5h0m2-4h0m-1-5h0m0-5h0m1-4h0m-1-5h0m1-5h0m0-5h0m-1-4h0m1-6h0m0-4h0m-2-6h0m2-4h0m-1-5h0m1-4h0m-1-5h0m0-6h0m0-4h0m1-5h0m-1-5h0m-1-5h0m1-5h0m0-3h0m4 148h0m0-4h0m0-6h0m0-5h0m0-5h0m1-3h0m-1-6h0m0-5h0m1-5h0m-1-4h0m0-6h0m1-4h0m-1-5h0m1-5h0m-1-5h0m0-4h0m1-4h0m-1-6h0m1-4h0m-1-5h0m0-4h0m0-6h0m4 100h0m1-4h0m-2-5h0m1-5h0m0-4h0m0-5h0m1-5h0m-1-5h0m0-4h0m1-6h0m-1-4h0m0-4h0m0-6h0m0-4h0m0-5h0m-1-6h0m0-4h0m1-5h0m-1-5h0m2-4h0m0-4h0m-1-5h0m3 100h0m1-5h0m1-4h0m-1-6h0m1-4h0m-1-4h0m-1-7h0m1-5h0m1-3h0m-1-6h0m0-4h0m1-4h0m-1-5h0m0-6h0m0-5h0m1-3h0m0-7h0m-1-4h0m0-4h0m-1-5h0m2-6h0m-1-4h0m0-5h0m1-4h0m3 110h0m-1-5h0m1-19h0m0-4h0m1-5h0m0-6h0m-1-5h0m1-4h0m0-4h0m0-5h0m-1-5h0m0-5h0m1-15h0m0-4h0m-1-5h0m0-5h0m0-1h0m5 96h0m-2-28h0m2-5h0m0-5h0m-1-4h0m1-4h0m-1-6h0m1-4h0m0-30h0m0-5h0m0-4h0m-1 0h0m3 96h0m1-30h0m1-4h0m-1-5h0m0-5h0m1-4h0m0-5h0m0-5h0m0-28h0m0-6h0m-1-4h0m1 0h0m3 96h0m0-30h0m1-4h0m0-4h0m-1-5h0m1-5h0m0-38h0m-1-5h0m0-4h0m0-1h0m3 95h0m1-4h0m0-5h0m1-4h0m0-5h0m0-5h0m0-6h0m-2-4h0m2-5h0m-1-5h0m0-4h0m0-29h0m1-5h0m0-5h0m0-4h0m-1-5h0m0-1h0m4 97h0m1-4h0m0-6h0m0-5h0m0-4h0m-1-5h0m0-6h0m0-4h0m0-4h0m0-5h0m0-5h0m1-20h0m0-5h0m-2-4h0m1-5h0m1-5h0m0-4h0m-1-5h0m1-5h0m-1-5h0m-1-5h0m0-1h0m5 112h0m0-4h0m0-6h0m0-5h0m1-4h0m-1-6h0m-1-5h0m2-4h0m-1-4h0m-1-5h0m1-6h0m1-19h0m0-5h0m-1-4h0m0-5h0m1-4h0m-1-6h0m1-5h0m-1-4h0m0-5h0m-1-5h0m2-1h0m2 112h0m1-5h0m1-5h0m0-5h0m0-4h0m-1-6h0m0-5h0m1-3h0m-1-5h0m-1-5h0m2-6h0m-1-5h0m0-3h0m0-5h0m0-5h0m0-4h0m0-7h0m-1-3h0m2-5h0m-1-5h0m1-6h0m-1-4h0m-1-6h0m1-3h0m1-3h0m4 113h0m0-5h0m0-5h0m0-4h0m-1-5h0m0-5h0m0-5h0m0-5h0m0-5h0m0-5h0m1-5h0m-1-4h0m1-4h0m0-6h0m-1-4h0m0-5h0m0-5h0m1-4h0m-1-5h0m0-5h0m0-6h0m0-4h0m1-5h0m-1-4h0m1-2h0m4 112h0m-1-6h0m0-5h0m1-4h0m0-4h0m0-6h0m-1-5h0m1-3h0m-1-6h0m0-4h0m1-5h0m0-4h0m-1-6h0m0-4h0m0-6h0m0-4h0m1-5h0m0-4h0m-1-6h0m1-5h0m-1-4h0m0-5h0m0-5h0m-1-5h0m1-2h0m4 113h0m0-5h0m1-5h0m-2-4h0m2-6h0m-1-4h0m1-5h0m-1-5h0m0-5h0m0-4h0m1-5h0m-1-5h0m0-5h0m0-4h0m0-5h0m0-5h0m0-5h0m0-18h0m-1-6h0m1-5h0m1-4h0m-1-3h0m5 112h0m-1-4h0m0-4h0m-1-6h0m1-5h0m-1-5h0m1-4h0m0-5h0m1-5h0m0-5h0m-1-4h0m0-4h0m0-5h0m0-6h0m1-4h0m-1-6h0m1-4h0m-1-19h0m1-5h0m3 101h0m1-5h0m-1-5h0m0-4h0m0-5h0m0-5h0m-1-5h0m2-5h0m0-5h0m-1-5h0m0-4h0m1-5h0m0-5h0m0-5h0m-1-5h0m0-5h0m0-4h0m0-20h0m0-3h0m4 100h0m0-5h0m1-4h0m0-6h0m0-5h0m0-3h0m0-6h0m0-5h0m0-5h0m-2-4h0m1-5h0m1-5h0m0-5h0m0-5h0m-2-5h0m0-5h0m2-5h0m0-18h0m0-5h0m0-4h0m0-6h0m-2-4h0m1-5h0m1-6h0m0-4h0m0-5h0m-1-4h0m0-5h0m1-4h0m4 148h0m-1-5h0m1-5h0m-1-5h0m-1-4h0m2-5h0m-1-5h0m0-4h0m1-6h0m-1-5h0m1-4h0m-1-5h0m0-4h0m0-5h0m-1-6h0m2-4h0m-1-5h0m0-19h0m1-6h0m0-4h0m0-4h0m0-5h0m-1-5h0m1-5h0m-1-5h0m0-5h0m0-4h0m0-6h0m0-3h0m4 148h0m0-5h0m0-4h0m-1-5h0m1-6h0m1-4h0m-1-5h0m1-5h0m0-5h0m-1-4h0m0-5h0m-1-5h0m2-5h0m-1-4h0m0-5h0m1-6h0m-1-5h0m0-4h0m0-5h0m0-4h0m0-5h0m1-6h0m-1-5h0m0-4h0m1-4h0m0-6h0m-2-4h0m1-4h0m0-6h0m-1-4h0m1-6h0m0-2h0m5 147h0m-1-5h0m1-5h0m0-5h0m-1-4h0m0-5h0m1-6h0m-1-3h0m1-6h0m0-4h0m0-5h0m-1-5h0m1-4h0m-1-5h0m1-5h0m-2-5h0m1-5h0m0-5h0m1-5h0m0-5h0m-1-4h0m0-5h0m-1-4h0m0-5h0m1-6h0m0-4h0m0-6h0m0-4h0m1-5h0m-1-5h0m1-5h0m0-2h0m3 147h0m0-6h0m-1-4h0m2-5h0m-1-4h0m0-6h0m0-4h0m1-4h0m-1-6h0m0-5h0m0-4h0m0-5h0m1-5h0m0-5h0m-1-4h0m-1-5h0m1-5h0m-1-5h0m1-5h0m-1-5h0m1-5h0m1-4h0m3 101h0m1-6h0m0-4h0m0-5h0m-1-4h0m0-6h0m1-4h0m0-5h0m-1-5h0m0-5h0m0-5h0m0-4h0m-1-4h0m1-6h0m0-4h0m0-5h0m0-5h0m1-5h0m0-4h0m0-5h0m-1-5h0m1-5h0m4 101h0m0-5h0m-2-4h0m1-6h0m1-5h0m-1-4h0m-1-5h0m1-5h0m1-4h0m-2-6h0m2-4h0m-1-5h0m1-4h0m0-6h0m-1-4h0m0-4h0m1-6h0m0-5h0m0-5h0m0-4h0m0-5h0m0-5h0m4 101h0m-1-5h0m1-4h0m0-5h0m-1-6h0m0-5h0m0-5h0m0-3h0m0-5h0m0-5h0m0-6h0m0-5h0m0-4h0m-1-4h0m1-6h0m1-5h0m-1-5h0m-1-3h0m1-6h0m0-5h0m1-4h0m0-4h0m-1-5h0m0-13h0m4 118h0m0-5h0m0-4h0m0-5h0m1-5h0m0-5h0m-1-5h0m1-5h0m-1-5h0m1-4h0m0-5h0m0-5h0m-1-5h0m1-5h0m-1-4h0m1-6h0m0-3h0m-1-6h0m0-5h0m1-4h0m-1-5h0m1-6h0m3 102h0m1-5h0m-1-5h0m0-5h0m1-4h0m-1-5h0m1-5h0m-1-6h0m-1-4h0m1-4h0m1-4h0m0-6h0m-1-6h0m0-4h0m1-5h0m-1-4h0m0-5h0m0-4h0m1-5h0m-1-5h0m1-4h0m0-7h0m3 102h0m1-5h0m-1-5h0m1-4h0m0-5h0m0-6h0m-1-4h0m1-4h0m0-6h0m0-4h0m0-4h0m-2-6h0m2-6h0m0-4h0m0-4h0m-1-5h0m0-5h0m0-5h0m0-4h0m1-5h0m0-6h0m-1-4h0m-1-20h0m1-3h0m0-5h0m0-6h0m1-6h0m-1-4h0m0-5h0m5 150h0m-1-5h0m0-5h0m1-4h0m-1-5h0m1-6h0m-2-3h0m2-6h0m0-4h0m0-5h0m0-5h0m0-4h0m-1-6h0m1-4h0m-1-6h0m0-4h0m0-4h0m1-6h0m0-4h0m-1-5h0m1-6h0m-2-4h0m2-20h0m-2-4h0m0-5h0m0-5h0m2-4h0m-1-6h0m-1-5h0m5 150h0m1-5h0m-1-4h0m0-6h0m0-5h0m1-5h0m-1-4h0m1-5h0m-1-5h0m1-4h0m-1-5h0m1-5h0m-1-5h0m0-4h0m0-6h0m1-4h0m-1-4h0m1-6h0m-1-4h0m1-5h0m0-6h0m-1-4h0m0-5h0m1-4h0m0-5h0m0-6h0m0-4h0m0-5h0m0-6h0m0-3h0m-1-5h0m0-5h0m4 149h0m0-5h0m1-5h0m0-5h0m-1-5h0m0-4h0m1-5h0m-1-5h0m-1-5h0m1-4h0m1-5h0m-1-5h0m0-4h0m0-6h0m0-5h0m0-4h0m0-4h0m0-6h0m-1-5h0m1-4h0m1-6h0m0-4h0m-1-5h0m-1-5h0m2-4h0m-1-5h0m1-5h0m-2-5h0m2-5h0m-2-5h0m0-4h0m2-6h0m-153 150h0m0-6h0m1-4h0m0-5h0m0-4h0m0-5h0m-1-5h0m1-5h0m-1-4h0m0-6h0m0-4h0m0-5h0m1-4h0m0-6h0m-1-4h0m0-5h0m0-3h0m12 75h0m1-5h0m0-6h0m0-4h0m-1-5h0m1-4h0m-2-5h0m1-4h0m0-6h0m1-5h0m-1-5h0m0-4h0m0-24h0m0-5h0m-1-5h0m1-4h0m-1-5h0m0-4h0m18 99h0m0-4h0m0-4h0m1-6h0m0-4h0m0-6h0m0-3h0m-1-6h0m0-5h0m0-4h0m0-5h0m0-6h0m1-4h0m-1-5h0m0-5h0m0-5h0m1-4h0m-1-5h0m1-4h0m-1-5h0m1-5h0m-1-5h0m0-4h0m1-6h0m0-4h0m-1-5h0m0-5h0m1-5h0m-1-4h0m0-6h0m0-4h0m0-3h0m16 147h0m0-6h0m1-4h0m0-9h0m-1-6h0m1-4h0m0-5h0m-1-4h0m0-5h0m1-6h0m0-3h0m-1-5h0m1-5h0m0-6h0m0-5h0m0-4h0m-1-5h0m0-4h0m0-5h0m0-5h0m0-5h0m0-5h0m0-5h0m1-16h0m11 127h0m-1-30h0m2-3h0m-2-6h0m2-4h0m-1-6h0m0-3h0m-1-6h0m0-29h0m2-5h0m0-4h0m-1-1h0m64 97h0m0-4h0m0-6h0m1-5h0m-2-5h0m1-5h0m0-5h0m1-4h0m0-4h0m-1-5h0m0-5h0m-1-5h0m1-4h0m-1-6h0m2-4h0m0-6h0m-2-5h0m1-3h0m0-5h0m0-5h0m1-5h0m-1-4h0m7 100h0m1-6h0m-1-4h0m0-5h0m0-5h0m0-4h0m1-6h0m-1-3h0m0-6h0m1-5h0m-1-5h0m1-3h0m-1-6h0m0-5h0m1-4h0m-1-6h0m1-4h0m-1-5h0m0-4h0m1-5h0m-1-5h0m1-5h0m0-17h0"/><path id="q2_1" d="M506.3 1268.2h0m53.2 6.6h0m-51.2 13.4h0m-0.6 26.3h0m-34.5 2.7h0m-70.3 7.5h0m11 18.4h0m9.1 3.7h0m51.2-5.5h0m27.1 2.7h0m15.7-10.1h0m36.5 24.8h0m-45.2 9.9h0m-2 16.2h0m-92.4 7.2h0m141.6 0.9h0m-49.2 7h0m1 5.4h0m-104.3 57.6h0m0 16.1h0m0 7.2h0m2.5 35.2h0m8-109.4h0m0 7h0m0 19.5h0m18.5-6.5h0m5 1.8h0m12 10.3h0m29-16.4h0m8 15.6h0m19-34.8h0m11 9.6h0m-11 12.2h0m7 12.1h0m43-28.6h0m1 22.6h0m-77 24h0m-18 21.8h0m16-3.2h0m13 0.8h0"/><linearGradient id="r3_0" gradientUnits="userSpaceOnUse" x1="0" y1="771.8" x2="0" y2="222.8"><stop offset="0.0000" stop-color="#1a1258"/><stop offset="0.2000" stop-color="#1a1258"/><stop offset="0.2833" stop-color="#140e40"/><stop offset="0.3500" stop-color="#0c0a20"/><stop offset="0.4333" stop-color="#0a0a0c"/><stop offset="1.0000" stop-color="#0a0a0c"/></linearGradient><linearGradient id="f3_0" gradientUnits="userSpaceOnUse" x1="0" y1="771.8" x2="0" y2="222.8"><stop offset="0.0000" stop-color="#4a36a0"/><stop offset="0.2000" stop-color="#4a36a0"/><stop offset="0.2833" stop-color="#2e2280"/><stop offset="0.3500" stop-color="#17123c"/><stop offset="0.4333" stop-color="#111014"/><stop offset="1.0000" stop-color="#111014"/></linearGradient><path id="p3_0" d="M579 772h0m-1-6h0m0-6h0m1-7h0m0-6h0m-1-5h0m0-5h0m0-7h0m1-6h0m-1-6h0m1-6h0m-1-6h0m1-6h0m-1-6h0m0-5h0m1-7h0m-1-7h0m1-5h0m-1-6h0m1-6h0m0-6h0m0-1h0m3 121h0m1-7h0m-1-5h0m1-6h0m0-6h0m-2-7h0m0-5h0m0-6h0m2-7h0m0-5h0m0-6h0m0-6h0m-1-6h0m-1-7h0m1-4h0m0-8h0m0-5h0m1-7h0m0-5h0m-1-1h0m4 109h0m1-5h0m0-7h0m-1-7h0m1-5h0m0-7h0m-1-4h0m0-8h0m0-6h0m-1-4h0m2-7h0m-2-6h0m1-6h0m1-6h0m0-7h0m-2-6h0m2-5h0m-1-7h0m1-6h0m-1-1h0m5 110h0m0-6h0m-1-5h0m1-6h0m0-8h0m0-6h0m-1-6h0m1-6h0m-1-6h0m1-5h0m0-6h0m0-7h0m-1-5h0m1-5h0m-1-7h0m1-6h0m-1-6h0m-1-7h0m1-6h0m-1 1h0m6 108h0m-1-6h0m1-6h0m-1-6h0m0-7h0m0-4h0m1-6h0m-1-8h0m0-6h0m0-5h0m0-5h0m0-7h0m0-6h0m0-7h0m1-5h0m-1-7h0m0-5h0m0-7h0m0-6h0m0 0h0m4 108h0m0-6h0m0-5h0m0-7h0m-1-5h0m2-6h0m-2-7h0m2-5h0m-1-6h0m1-7h0m-1-5h0m0-7h0m1-5h0m0-6h0m-1-7h0m-1-5h0m2-5h0m-2-7h0m1-7h0m0 1h0m5 108h0m-1-5h0m0-7h0m1-7h0m-1-6h0m1-6h0m-1-6h0m1-5h0m-1-5h0m1-8h0m-1-6h0m0-6h0m-1-5h0m2-6h0m-2-7h0m1-5h0m-1-7h0m1-5h0m-1-6h0m1-6h0m0-7h0m1-5h0m3 126h0m1-5h0m0-7h0m0-6h0m-1-24h0m0-6h0m0-6h0m1-6h0m0-5h0m0-8h0m0-5h0m0-6h0m-1-7h0m0-5h0m0-7h0m0-6h0m0-5h0m0-6h0m0-6h0m4 125h0m0-4h0m0-7h0m0-6h0m0-24h0m1-6h0m-1-5h0m1-7h0m0-7h0m-2-4h0m1-7h0m-1-6h0m1-6h0m0-5h0m0-8h0m1-6h0m-1-3h0m5 111h0m-1-5h0m-1-6h0m2-6h0m0-24h0m-1-7h0m0-6h0m0-4h0m0-6h0m0-7h0m0-7h0m0-4h0m1-7h0m0-5h0m0-7h0m-2-5h0m1-5h0m4 112h0m0-6h0m0-7h0m1-5h0m-1-6h0m0-18h0m0-6h0m1-7h0m-1-4h0m1-7h0m-1-6h0m0-6h0m0-7h0m1-6h0m0-6h0m0-5h0m0-7h0m0-3h0m2 111h0m0-5h0m2-6h0m0-7h0m-1-5h0m-1-6h0m1-7h0m1-5h0m-1-7h0m-1-6h0m2-4h0m0-6h0m-1-7h0m1-6h0m0-6h0m-1-7h0m0-5h0m1-5h0m-2-8h0m2-3h0m3 112h0m0-6h0m1-6h0m0-7h0m0-5h0m0-6h0m-1-7h0m0-30h0m0-4h0m0-7h0m0-24h0m-1-6h0m1-4h0m5 112h0m0-7h0m-1-5h0m0-7h0m1-5h0m-1-7h0m1-4h0m-1-31h0m0-6h0m1-6h0m-1-23h0m0-6h0m0-7h0m0-2h0m5 116h0m-2-6h0m1-6h0m0-6h0m1-6h0m-2-7h0m2-5h0m0-30h0m-1-6h0m1-5h0m-1-24h0m1-8h0m-2-5h0m2-1h0m4 114h0m-1-6h0m0-6h0m0-6h0m1-5h0m0-6h0m-2-5h0m1-6h0m1-14h0m0-5h0m0-6h0m-1-6h0m1-6h0m0-25h0m-1-4h0m0-7h0m0-3h0m4 117h0m1-7h0m0-5h0m-1-6h0m0-7h0m1-6h0m-1-4h0m0-7h0m1-6h0m-1-6h0m-1-6h0m0-5h0m2-7h0m-1-5h0m0-7h0m1-6h0m0-7h0m0-5h0m0-6h0m-1-6h0m0-3h0m5 117h0m-1-6h0m1-7h0m-1-5h0m0-6h0m0-7h0m1-6h0m0-4h0m0-8h0m-1-6h0m0-6h0m0-4h0m1-7h0m-1-5h0m-1-7h0m2-7h0m0-5h0m-1-6h0m1-6h0m0-5h0m-1-4h0m5 117h0m0-7h0m-2-4h0m1-7h0m1-7h0m0-6h0m-1-5h0m0-6h0m1-6h0m0-5h0m0-7h0m0-6h0m0-6h0m-1-7h0m0-4h0m1-8h0m0-6h0m2 97h0m0-5h0m1-7h0m1-6h0m0-6h0m-1-5h0m0-7h0m0-7h0m0-5h0m1-6h0m-1-25h0m0-2h0m4 81h0m0-6h0m0-5h0m0-8h0m0-5h0m1-7h0m0-5h0m0-7h0m-1-6h0m0-6h0m0-28h0m4 82h0m0-6h0m1-6h0m0-6h0m-1-6h0m0-5h0m0-7h0m1-5h0m-1-6h0m1-6h0m0-23h0m-1-5h0m4 82h0m0-7h0m1-5h0m0-5h0m0-6h0m0-8h0m-1-4h0m1-7h0m0-6h0m-1-7h0m0-6h0m0-10h0m0-7h0m0-3h0m4 81h0m0-7h0m-1-5h0m1-6h0m0-7h0m0-5h0m0-6h0m-1-7h0m2-5h0m-1-6h0m1-6h0m-1-6h0m0-7h0m1-5h0m-1-4h0m4 82h0m1-6h0m0-6h0m-1-7h0m1-6h0m-1-6h0m-1-6h0m2-5h0m0-6h0m-1-7h0m1-5h0m0-7h0m0-5h0m-1-6h0m1-42h0m0-6h0m-1-5h0m1-4h0m3 135h0m1-6h0m0-6h0m-1-6h0m1-6h0m0-7h0m-2-5h0m0-6h0m0-5h0m1-8h0m1-5h0m-1-6h0m0-5h0m0-7h0m1-41h0m-1-7h0m1-6h0m0-4h0m3 136h0m1-6h0m-1-5h0m0-7h0m0-6h0m1-6h0m0-6h0m-2-5h0m1-7h0m1-7h0m-2-6h0m1-4h0m0-8h0m0-5h0m0-37h0m1-5h0m0-6h0m-1-7h0m1-2h0m2 135h0m1-6h0m1-6h0m0-6h0m-1-6h0m0-6h0m0-6h0m0-6h0m0-7h0m1-4h0m-1-6h0m-1-6h0m1-8h0m1-6h0m0-6h0m0-30h0m0-4h0m-1-7h0m0-7h0m0-3h0m5 136h0m0-6h0m0-7h0m0-5h0m0-7h0m0-5h0m0-6h0m-1-7h0m1-6h0m0-5h0m0-7h0m-1-5h0m1-7h0m-1-6h0m0-6h0m0-6h0m1-5h0m0-6h0m-1-6h0m-1-5h0m2-8h0m-1-5h0m1-7h0m0-5h0m-2-3h0m6 141h0m0-5h0m0-8h0m0-6h0m0-5h0m-1-5h0m1-6h0m0-7h0m0-6h0m-1-6h0m0-7h0m0-5h0m1-6h0m0-6h0m-1-6h0m-1-6h0m2-7h0m-1-6h0m0-5h0m-1-6h0m2-5h0m-1-6h0m0-7h0m1-6h0m0-4h0m2 142h0m1-6h0m0-5h0m1-8h0m0-6h0m-1-6h0m1-5h0m-1-6h0m0-7h0m0-5h0m0-7h0m0-5h0m-1-7h0m1-6h0m1-6h0m0-5h0m-1-6h0m1-6h0m-1-5h0m0-6h0m0-7h0m0-6h0m1-6h0m-1-5h0m1-5h0m4 141h0m-1-5h0m1-6h0m-2-6h0m1-6h0m0-6h0m0-6h0m1-7h0m-1-6h0m0-5h0m1-7h0m-1-4h0m1-6h0m0-8h0m-1-17h0m1-7h0m-1-6h0m-1-6h0m1-5h0m1-7h0m0-5h0m0-7h0m0-4h0m2 143h0m1-5h0m1-8h0m-2-5h0m1-6h0m1-7h0m-1-6h0m1-5h0m0-6h0m-2-5h0m2-7h0m-1-6h0m1-6h0m-1-6h0m1-19h0m-1-5h0m0-6h0m0-6h0m1-6h0m0-6h0m-1-7h0m0-5h0m0-4h0m5 142h0m-1-6h0m1-7h0m0-4h0m-1-6h0m1-8h0m-1-5h0m0-6h0m0-6h0m1-5h0m0-8h0m-1-6h0m0-6h0m1-24h0m-2-5h0m2-5h0m-1-8h0m1-6h0m0-5h0m-1-7h0m0-5h0m1-4h0m3 141h0m1-5h0m0-6h0m-1-7h0m-1-5h0m0-7h0m1-4h0m1-8h0m0-6h0m-1-5h0m1-7h0m0-5h0m0-7h0m-1-24h0m1-5h0m-1-6h0m-1-6h0m1-6h0m1-6h0m-1-7h0m1-5h0m-2-3h0m6 141h0m-1-6h0m1-6h0m-1-6h0m0-7h0m0-5h0m0-6h0m0-7h0m1-4h0m-1-7h0m0-6h0m1-6h0m-1-7h0m1-5h0m-1-17h0m1-7h0m-1-3h0m4 105h0m0-6h0m0-7h0m1-5h0m0-7h0m-1-5h0m1-5h0m-2-7h0m0-6h0m1-7h0m0-5h0m1-7h0m-1-5h0m0-5h0m0-19h0m1-5h0m-1-4h0m4 105h0m-1-6h0m0-7h0m2-6h0m-1-5h0m0-7h0m0-5h0m0-7h0m0-5h0m1-7h0m-1-6h0m0-4h0m1-8h0m-1-5h0m1-6h0m0-7h0m-1-5h0m0-6h0m-1-4h0m6 106h0m-1-6h0m1-6h0m-1-6h0m0-6h0m-1-7h0m1-5h0m1-7h0m0-6h0m0-4h0m0-7h0m0-6h0m0-7h0m0-5h0m0-7h0m-2-5h0m2-6h0m-1-6h0m1-7h0m0-4h0m0-7h0m-1-6h0m0-7h0m0-6h0m1-5h0m0-6h0m0-5h0m0-7h0m-1-1h0m4 163h0m-1-6h0m1-6h0m0-5h0m1-7h0m0-5h0m-1-7h0m0-6h0m0-6h0m1-6h0m0-6h0m-1-6h0m-1-7h0m2-5h0m-1-6h0m-1-6h0m1-7h0m1-4h0m-2-7h0m1-6h0m0-7h0m0-5h0m0-5h0m0-7h0m1-6h0m-1-6h0m1-7h0m-1-6h0m0 0h0m-155 163h0m-1-6h0m0-6h0m1-7h0m0-6h0m-1-5h0m1-7h0m-1-5h0m0-5h0m0-8h0m0-5h0m0-6h0m1-5h0m0-8h0m-1-6h0m0-6h0m1-5h0m-1-7h0m0-4h0m1-7h0m0-5h0m-1-3h0m13 122h0m1-6h0m0-6h0m-1-6h0m1-7h0m-1-6h0m1-5h0m0-6h0m0-6h0m0-5h0m0-8h0m-1-4h0m0-6h0m1-7h0m0-6h0m0-6h0m-1-7h0m1-5h0m-1-6h0m0-1h0m15 109h0m-1-6h0m0-6h0m0-6h0m1-5h0m-1-19h0m0-5h0m0-8h0m1-5h0m-2-5h0m1-8h0m0-5h0m0-7h0m-1-5h0m1-6h0m0-5h0m-1-8h0m0-5h0m1-7h0m0-6h0m13 127h0m1-7h0m0-5h0m0-6h0m0-5h0m-1-18h0m1-6h0m0-7h0m0-6h0m-1-6h0m1-6h0m-1-6h0m1-6h0m0-5h0m-1-7h0m0-6h0m0-7h0m0-2h0m35 111h0m1-6h0m-1-7h0m0-5h0m0-5h0m1-7h0m-1-7h0m0-5h0m0-6h0m0-6h0m0-24h0m1-6h0m0-7h0m0-6h0m10 97h0m-1-6h0m0-7h0m0-5h0m-1-7h0m2-6h0m-1-5h0m0-5h0m1-8h0m-2-6h0m0-24h0m0-3h0m15 82h0m1-5h0m-1-7h0m-1-6h0m2-5h0m-2-8h0m2-5h0m0-7h0m-1-6h0m0-5h0m0-7h0m0-4h0m0-7h0m0-6h0m0-42h0m1-6h0m-1-6h0m1-3h0m45 135h0m-1-6h0m1-7h0m1-6h0m0-6h0m-1-5h0m0-6h0m0-7h0m1-5h0m-1-6h0m1-6h0m-1-6h0m0-6h0m0-6h0m1-18h0m-1-6h0m0-3h0m9 105h0m2-7h0m0-5h0m0-6h0m-1-6h0m0-7h0m1-4h0m-1-8h0m0-5h0m0-6h0m0-5h0m0-6h0m1-8h0m0-5h0m-1-6h0m0-7h0m0-5h0m1-6h0m-1-5h0m0-8h0m1-5h0m-1-6h0m1-6h0m0-6h0m-1-6h0m0-6h0m0-7h0m0-5h0m-1 0h0m-33-31h0m-5 11h0m-1 10h0m0 10h0m16-14h0m2 10h0m-2 7h0m-7-27h0"/><path id="q3_0" d="M638 474h0m5 15h0m9 59h0m-75 13h0m29.5-3h0m44.5-9h0m22 20h0m56.5 0h0m-137.5 11h0m42 0h0m3 6h0m14 1.5h0m-42 8.5h0m0 12h0m24 4h0m39 10h0m-81 3h0m15 2.5h0m13-1h0m24 1.5h0m16 8h0m74-28h0m-2 12h0"/><linearGradient id="r3_1" gradientUnits="userSpaceOnUse" x1="0" y1="1610.8" x2="0" y2="1171.6"><stop offset="0.0000" stop-color="#1a1258"/><stop offset="0.2000" stop-color="#1a1258"/><stop offset="0.2833" stop-color="#140e40"/><stop offset="0.3500" stop-color="#0c0a20"/><stop offset="0.4333" stop-color="#0a0a0c"/><stop offset="1.0000" stop-color="#0a0a0c"/></linearGradient><linearGradient id="f3_1" gradientUnits="userSpaceOnUse" x1="0" y1="1610.8" x2="0" y2="1171.6"><stop offset="0.0000" stop-color="#4a36a0"/><stop offset="0.2000" stop-color="#4a36a0"/><stop offset="0.2833" stop-color="#2e2280"/><stop offset="0.3500" stop-color="#17123c"/><stop offset="0.4333" stop-color="#111014"/><stop offset="1.0000" stop-color="#111014"/></linearGradient><path id="p3_1" d="M579 1611h0m-1-5h0m0-5h0m1-5h0m0-5h0m-1-4h0m0-4h0m0-5h0m1-6h0m-1-4h0m1-5h0m-1-5h0m1-5h0m-1-5h0m0-4h0m1-5h0m-1-5h0m1-4h0m-1-5h0m1-6h0m0-4h0m0-1h0m3 97h0m1-6h0m-1-4h0m1-4h0m0-5h0m-2-6h0m0-4h0m0-5h0m2-5h0m0-5h0m0-4h0m0-5h0m-1-4h0m-1-6h0m1-4h0m0-6h0m0-4h0m1-5h0m0-5h0m-1 0h0m4 87h0m1-4h0m0-5h0m-1-6h0m1-4h0m0-5h0m-1-4h0m0-7h0m0-4h0m-1-4h0m2-5h0m-2-5h0m1-4h0m1-5h0m0-6h0m-2-5h0m2-3h0m-1-6h0m1-5h0m-1-1h0m5 88h0m0-5h0m-1-4h0m1-5h0m0-6h0m0-5h0m-1-4h0m1-6h0m-1-4h0m1-4h0m0-5h0m0-5h0m-1-4h0m1-5h0m-1-5h0m1-5h0m-1-5h0m-1-5h0m1-5h0m-1 0h0m6 87h0m-1-5h0m1-5h0m-1-4h0m0-6h0m0-4h0m1-4h0m-1-6h0m0-5h0m0-4h0m0-5h0m0-5h0m0-4h0m0-6h0m1-4h0m-1-6h0m0-4h0m0-6h0m0-4h0m0 0h0m4 86h0m0-4h0m0-5h0m0-5h0m-1-4h0m2-5h0m-2-5h0m2-5h0m-1-4h0m1-6h0m-1-4h0m0-5h0m1-5h0m0-4h0m-1-6h0m-1-4h0m2-4h0m-2-5h0m1-6h0m0 1h0m5 86h0m-1-4h0m0-6h0m1-5h0m-1-5h0m1-5h0m-1-4h0m1-5h0m-1-4h0m1-6h0m-1-5h0m0-5h0m-1-4h0m2-4h0m-2-6h0m1-4h0m-1-6h0m1-4h0m-1-4h0m1-5h0m0-5h0m1-5h0m3 101h0m1-4h0m0-6h0m0-4h0m-1-19h0m0-5h0m0-6h0m1-4h0m0-4h0m0-6h0m0-5h0m0-4h0m-1-6h0m0-4h0m0-5h0m0-5h0m0-4h0m0-5h0m0-5h0m4 100h0m0-3h0m0-6h0m0-4h0m0-20h0m1-5h0m-1-4h0m1-5h0m0-5h0m-2-4h0m1-5h0m-1-5h0m1-5h0m0-4h0m0-6h0m1-5h0m-1-2h0m5 88h0m-1-4h0m-1-5h0m2-4h0m0-20h0m-1-5h0m0-5h0m0-4h0m0-4h0m0-6h0m0-5h0m0-4h0m1-5h0m0-4h0m0-6h0m-2-4h0m1-4h0m4 90h0m0-5h0m0-5h0m1-5h0m-1-4h0m0-15h0m0-4h0m1-6h0m-1-3h0m1-6h0m-1-5h0m0-4h0m0-6h0m1-5h0m0-5h0m0-4h0m0-5h0m0-3h0m2 89h0m0-4h0m2-5h0m0-5h0m-1-4h0m-1-5h0m1-5h0m1-4h0m-1-6h0m-1-5h0m2-3h0m0-5h0m-1-5h0m1-6h0m0-4h0m-1-6h0m0-4h0m1-4h0m-2-6h0m2-3h0m3 90h0m0-5h0m1-5h0m0-5h0m0-4h0m0-5h0m-1-5h0m0-24h0m0-4h0m0-6h0m0-18h0m-1-6h0m1-2h0m5 89h0m0-5h0m-1-5h0m0-5h0m1-4h0m-1-6h0m1-3h0m-1-25h0m0-5h0m1-4h0m-1-19h0m0-5h0m0-5h0m0-2h0m5 93h0m-2-5h0m1-5h0m0-5h0m1-4h0m-2-6h0m2-4h0m0-24h0m-1-4h0m1-5h0m-1-19h0m1-6h0m-2-4h0m2-1h0m4 91h0m-1-5h0m0-4h0m0-5h0m1-4h0m0-5h0m-2-4h0m1-5h0m1-11h0m0-4h0m0-5h0m-1-5h0m1-5h0m0-19h0m-1-4h0m0-5h0m0-2h0m4 93h0m1-6h0m0-4h0m-1-4h0m0-6h0m1-5h0m-1-3h0m0-6h0m1-5h0m-1-4h0m-1-5h0m0-4h0m2-6h0m-1-4h0m0-5h0m1-5h0m0-5h0m0-5h0m0-4h0m-1-6h0m0-1h0m5 93h0m-1-5h0m1-5h0m-1-4h0m0-5h0m0-6h0m1-4h0m0-4h0m0-6h0m-1-5h0m0-5h0m0-3h0m1-6h0m-1-4h0m-1-5h0m2-6h0m0-4h0m-1-5h0m1-5h0m0-4h0m-1-2h0m5 93h0m0-6h0m-2-3h0m1-6h0m1-5h0m0-5h0m-1-4h0m0-4h0m1-5h0m0-5h0m0-5h0m0-5h0m0-5h0m-1-5h0m0-4h0m1-6h0m0-4h0m2 77h0m0-4h0m1-6h0m1-5h0m0-4h0m-1-4h0m0-6h0m0-5h0m0-5h0m1-5h0m-1-19h0m0-2h0m4 65h0m0-5h0m0-4h0m0-6h0m0-5h0m1-5h0m0-4h0m0-5h0m-1-5h0m0-5h0m0-22h0m4 66h0m0-6h0m1-4h0m0-5h0m-1-5h0m0-4h0m0-5h0m1-5h0m-1-4h0m1-5h0m0-19h0m-1-4h0m4 66h0m0-6h0m1-4h0m0-4h0m0-5h0m0-6h0m-1-3h0m1-6h0m0-5h0m-1-5h0m0-5h0m0-8h0m0-5h0m0-3h0m4 65h0m0-5h0m-1-5h0m1-4h0m0-6h0m0-4h0m0-5h0m-1-5h0m2-5h0m-1-4h0m1-5h0m-1-5h0m0-6h0m1-3h0m-1-4h0m4 66h0m1-5h0m0-5h0m-1-5h0m1-5h0m-1-5h0m-1-5h0m2-4h0m0-4h0m-1-6h0m1-4h0m0-6h0m0-4h0m-1-5h0m1-33h0m0-5h0m-1-4h0m1-3h0m3 108h0m1-4h0m0-6h0m-1-4h0m1-5h0m0-6h0m-2-4h0m0-4h0m0-5h0m1-6h0m1-4h0m-1-5h0m0-4h0m0-6h0m1-33h0m-1-5h0m1-5h0m0-3h0m3 109h0m1-5h0m-1-4h0m0-6h0m0-4h0m1-5h0m0-5h0m-2-4h0m1-6h0m1-5h0m-2-5h0m1-3h0m0-7h0m0-4h0m0-29h0m1-4h0m0-5h0m-1-5h0m1-2h0m2 108h0m1-5h0m1-5h0m0-4h0m-1-5h0m0-5h0m0-5h0m0-4h0m0-6h0m1-4h0m-1-4h0m-1-5h0m1-7h0m1-4h0m0-5h0m0-24h0m0-4h0m-1-5h0m0-5h0m0-3h0m5 109h0m0-5h0m0-5h0m0-5h0m0-5h0m0-4h0m0-5h0m-1-5h0m1-5h0m0-4h0m0-5h0m-1-5h0m1-5h0m-1-5h0m0-5h0m0-5h0m1-4h0m0-4h0m-1-6h0m-1-4h0m2-6h0m-1-4h0m1-5h0m0-4h0m-2-3h0m6 113h0m0-4h0m0-6h0m0-5h0m0-4h0m-1-5h0m1-4h0m0-6h0m0-4h0m-1-5h0m0-6h0m0-3h0m1-5h0m0-6h0m-1-4h0m-1-5h0m2-5h0m-1-5h0m0-4h0m-1-5h0m2-5h0m-1-4h0m0-6h0m1-5h0m0-3h0m2 114h0m1-4h0m0-5h0m1-6h0m0-5h0m-1-5h0m1-4h0m-1-4h0m0-6h0m0-4h0m0-6h0m0-4h0m-1-6h0m1-4h0m1-5h0m0-4h0m-1-5h0m1-5h0m-1-4h0m0-5h0m0-5h0m0-5h0m1-4h0m-1-5h0m1-3h0m4 112h0m-1-4h0m1-5h0m-2-5h0m1-4h0m0-5h0m0-5h0m1-5h0m-1-5h0m0-4h0m1-6h0m-1-3h0m1-5h0m0-6h0m-1-14h0m1-5h0m-1-5h0m-1-5h0m1-4h0m1-6h0m0-3h0m0-6h0m0-3h0m2 114h0m1-4h0m1-7h0m-2-3h0m1-5h0m1-6h0m-1-4h0m1-5h0m0-4h0m-2-5h0m2-5h0m-1-5h0m1-5h0m-1-5h0m1-14h0m-1-5h0m0-5h0m0-4h0m1-5h0m0-5h0m-1-5h0m0-5h0m0-3h0m5 114h0m-1-5h0m1-5h0m0-4h0m-1-5h0m1-5h0m-1-5h0m0-5h0m0-4h0m1-5h0m0-6h0m-1-5h0m0-4h0m1-19h0m-2-4h0m2-5h0m-1-6h0m1-5h0m0-4h0m-1-6h0m0-4h0m1-3h0m3 113h0m1-4h0m0-4h0m-1-6h0m-1-4h0m0-6h0m1-3h0m1-6h0m0-5h0m-1-5h0m1-5h0m0-4h0m0-5h0m-1-19h0m1-4h0m-1-5h0m-1-5h0m1-5h0m1-5h0m-1-6h0m1-3h0m-2-3h0m6 113h0m-1-5h0m1-5h0m-1-4h0m0-6h0m0-4h0m0-5h0m0-5h0m1-4h0m-1-5h0m0-5h0m1-5h0m-1-5h0m1-4h0m-1-14h0m1-5h0m-1-3h0m4 84h0m0-5h0m0-5h0m1-4h0m0-6h0m-1-4h0m1-4h0m-2-5h0m0-5h0m1-6h0m0-4h0m1-6h0m-1-3h0m0-5h0m0-15h0m1-4h0m-1-3h0m4 84h0m-1-5h0m0-5h0m2-5h0m-1-4h0m0-6h0m0-4h0m0-5h0m0-5h0m1-5h0m-1-5h0m0-3h0m1-6h0m-1-5h0m1-4h0m0-6h0m-1-4h0m0-5h0m-1-3h0m6 85h0m-1-5h0m1-4h0m-1-5h0m0-5h0m-1-6h0m1-4h0m1-6h0m0-4h0m0-4h0m0-5h0m0-5h0m0-6h0m0-3h0m0-6h0m-2-4h0m2-5h0m-1-5h0m1-5h0m0-4h0m0-5h0m-1-5h0m0-5h0m0-5h0m1-5h0m0-4h0m0-4h0m0-6h0m-1 0h0m4 130h0m-1-5h0m1-5h0m0-4h0m1-6h0m0-3h0m-1-6h0m0-4h0m0-5h0m1-5h0m0-5h0m-1-5h0m-1-5h0m2-5h0m-1-5h0m-1-4h0m1-5h0m1-4h0m-2-5h0m1-5h0m0-6h0m0-4h0m0-4h0m0-5h0m1-5h0m-1-5h0m1-6h0m-1-5h0m0 1h0m-155 130h0m-1-5h0m0-4h0m1-6h0m0-5h0m-1-4h0m1-6h0m-1-3h0m0-5h0m0-6h0m0-4h0m0-5h0m1-4h0m0-6h0m-1-5h0m0-5h0m1-4h0m-1-5h0m0-4h0m1-5h0m0-4h0m-1-3h0m13 98h0m1-5h0m0-5h0m-1-4h0m1-6h0m-1-5h0m1-4h0m0-5h0m0-4h0m0-5h0m0-5h0m-1-4h0m0-5h0m1-5h0m0-5h0m0-5h0m-1-6h0m1-4h0m-1-5h0m0 0h0m15 87h0m-1-4h0m0-6h0m0-5h0m1-4h0m-1-14h0m0-5h0m0-6h0m1-4h0m-2-4h0m1-6h0m0-5h0m0-5h0m-1-4h0m1-5h0m0-4h0m-1-6h0m0-4h0m1-6h0m0-4h0m13 101h0m1-6h0m0-4h0m0-4h0m0-5h0m-1-14h0m1-5h0m0-6h0m0-4h0m-1-5h0m1-4h0m-1-5h0m1-6h0m0-4h0m-1-5h0m0-4h0m0-6h0m0-2h0m35 89h0m1-5h0m-1-6h0m0-3h0m0-5h0m1-5h0m-1-5h0m0-5h0m0-5h0m0-4h0m0-19h0m1-6h0m0-5h0m0-4h0m10 77h0m-1-5h0m0-5h0m0-4h0m-1-6h0m2-5h0m-1-4h0m0-4h0m1-6h0m-2-5h0m0-19h0m0-3h0m15 66h0m1-4h0m-1-6h0m-1-4h0m2-5h0m-2-6h0m2-4h0m0-5h0m-1-5h0m0-4h0m0-6h0m0-3h0m0-6h0m0-4h0m0-34h0m1-5h0m-1-4h0m1-3h0m45 108h0m-1-5h0m1-6h0m1-4h0m0-5h0m-1-4h0m0-5h0m0-5h0m1-4h0m-1-5h0m1-5h0m-1-5h0m0-4h0m0-5h0m1-15h0m-1-5h0m0-2h0m9 84h0m2-6h0m0-4h0m0-4h0m-1-5h0m0-6h0m1-3h0m-1-6h0m0-5h0m0-4h0m0-4h0m0-5h0m1-6h0m0-5h0m-1-4h0m0-6h0m0-4h0m1-5h0m-1-4h0m0-6h0m1-4h0m-1-4h0m1-6h0m0-5h0m-1-4h0m0-5h0m0-5h0m0-4h0m-1 0h0m-33-27h0m-5 10h0m-1 8h0m0 8h0m16-11h0m2 8h0m-2 6h0m-7-23h0"/><path id="q3_1" d="M638 1363h0m5 13.5h0m9 52.1h0m-75 11.2h0m29.5-2.6h0m44.5-7.8h0m22 17.3h0m56.5 0h0m-137.5 9.4h0m42 0h0m3 5.1h0m14 1.3h0m-42 7.2h0m0 10.1h0m24 3.2h0m39 8h0m-81 2.4h0m15 2h0m13-0.8h0m24 1.2h0m16 6.4h0m74-22.4h0m-2 9.6h0"/><linearGradient id="r4_0" gradientUnits="userSpaceOnUse" x1="0" y1="771.8" x2="0" y2="222.8"><stop offset="0.0000" stop-color="#161c0c"/><stop offset="0.2000" stop-color="#161c0c"/><stop offset="0.2833" stop-color="#10140a"/><stop offset="0.3667" stop-color="#0a0a08"/><stop offset="1.0000" stop-color="#0a0a0a"/></linearGradient><linearGradient id="f4_0" gradientUnits="userSpaceOnUse" x1="0" y1="771.8" x2="0" y2="222.8"><stop offset="0.0000" stop-color="#4a5a2c"/><stop offset="0.2000" stop-color="#4a5a2c"/><stop offset="0.2833" stop-color="#303c1c"/><stop offset="0.3667" stop-color="#141810"/><stop offset="1.0000" stop-color="#111111"/></linearGradient><path id="p4_0" d="M755 772h0m0-5h0m-1-6h0m1-8h0m-1-5h0m1-7h0m0-5h0m-1-6h0m0-6h0m1-6h0m0-5h0m-1-8h0m1-6h0m0-5h0m-1-7h0m0-5h0m0-7h0m0-4h0m1-8h0m-1-5h0m1-7h0m-1-5h0m0-6h0m1-6h0m-1-2h0m4 140h0m0-6h0m0-7h0m1-6h0m0-6h0m-1-5h0m0-6h0m1-7h0m-2-6h0m1-22h0m0-8h0m1-4h0m-1-31h0m1-24h0m-1-7h0m4 145h0m0-5h0m1-7h0m0-7h0m-1-5h0m-1-5h0m1-7h0m0-6h0m0-36h0m4 78h0m0-6h0m0-6h0m0-7h0m1-5h0m0-7h0m-1-5h0m1-6h0m0-42h0m3 84h0m-1-5h0m2-7h0m-1-6h0m-1-6h0m1-6h0m0-6h0m1-6h0m-1-36h0m0-7h0m1-5h0m-1-19h0m5 109h0m0-6h0m-1-6h0m0-7h0m1-5h0m0-7h0m-1-5h0m0-6h0m1-6h0m0-13h0m0-5h0m0-7h0m0-5h0m0-7h0m0-5h0m0-6h0m-1-5h0m0-7h0m1-7h0m0-6h0m-1-17h0m0-1h0m5 139h0m-1-7h0m0-6h0m1-5h0m0-6h0m0-6h0m-1-7h0m-1-5h0m2-6h0m-1-6h0m1-6h0m-1-5h0m1-6h0m0-7h0m-1-6h0m0-6h0m1-7h0m0-6h0m-1-5h0m0-6h0m0-6h0m0-7h0m1-4h0m0-8h0m-2-5h0m2-2h0m4 146h0m0-7h0m-1-6h0m0-5h0m0-7h0m0-4h0m1-8h0m-1-6h0m1-5h0m-1-5h0m0-7h0m1-7h0m-1-5h0m0-6h0m0-6h0m0-6h0m0-6h0m0-7h0m0-3h0m3 106h0m1-6h0m1-7h0m-1-5h0m-1-5h0m1-6h0m1-7h0m-1-6h0m1-6h0m0-5h0m0-7h0m0-6h0m-1-6h0m1-5h0m-1-7h0m0-6h0m1-7h0m0-6h0m0-3h0m3 106h0m-1-6h0m1-7h0m0-5h0m1-7h0m-2-6h0m2-5h0m0-6h0m-1-6h0m0-6h0m1-7h0m0-6h0m0-5h0m0-6h0m-1-6h0m1-6h0m0-6h0m0-7h0m0-2h0m3 105h0m1-7h0m-1-6h0m0-6h0m0-5h0m-1-6h0m1-6h0m0-6h0m0-7h0m1-5h0m-1-5h0m0-7h0m0-6h0m1-6h0m0-5h0m-1-8h0m0-5h0m0-6h0m1-4h0m4 106h0m-1-6h0m0-6h0m1-6h0m-1-7h0m0-5h0m0-6h0m0-7h0m0-5h0m0-7h0m1-6h0m-1-6h0m0-5h0m-1-5h0m2-7h0m-1-6h0m-1-7h0m2-6h0m0-2h0m4 104h0m-1-5h0m0-7h0m-1-5h0m1-7h0m0-5h0m0-6h0m1-6h0m-1-6h0m0-7h0m1-5h0m-1-7h0m1-4h0m-1-7h0m0-6h0m0-7h0m1-5h0m-2-7h0m1-6h0m0-5h0m1-12h0m-1-3h0m5 129h0m0-6h0m-1-7h0m0-5h0m1-5h0m-1-6h0m0-8h0m0-5h0m1-7h0m-2-5h0m1-5h0m0-8h0m0-5h0m0-5h0m-1-8h0m1-5h0m1-5h0m-1-8h0m0-5h0m0-21h0m4 129h0m0-6h0m1-6h0m-1-6h0m0-6h0m1-7h0m-2-5h0m2-7h0m-1-5h0m1-7h0m0-6h0m0-6h0m0-4h0m0-6h0m-1-6h0m1-8h0m0-4h0m-1-7h0m1-6h0m4 108h0m-1-7h0m0-5h0m1-5h0m-1-6h0m0-7h0m1-6h0m0-7h0m-1-6h0m0-6h0m0-6h0m0-4h0m0-8h0m-1-5h0m0-6h0m0-6h0m2-6h0m-1-6h0m1-6h0m-1-25h0m0-5h0m5 138h0m-2-6h0m2-7h0m-1-5h0m1-7h0m0-4h0m0-7h0m-1-6h0m1-6h0m0-6h0m0-6h0m-1-7h0m0-6h0m0-6h0m0-5h0m1-6h0m-1-6h0m0-6h0m0-6h0m0-7h0m0-12h0m0-5h0m0-5h0m4 137h0m0-6h0m1-7h0m-1-6h0m1-5h0m-1-7h0m1-6h0m-1-4h0m-1-7h0m1-6h0m1-5h0m-1-8h0m0-6h0m0-5h0m1-7h0m-1-4h0m0-19h0m-1-6h0m2-7h0m-1-5h0m1-6h0m0-6h0m3 138h0m0-5h0m0-7h0m1-6h0m-1-6h0m0-5h0m0-7h0m1-6h0m-1-7h0m0-5h0m0-6h0m0-6h0m0-7h0m1-5h0m-1-7h0m-1-24h0m1-4h0m1-7h0m-1-7h0m1-5h0m-1-7h0m0-5h0m1-6h0m0-1h0m2 151h0m2-6h0m-2-7h0m1-5h0m-1-5h0m1-8h0m-1-5h0m2-6h0m0-5h0m0-8h0m-1-5h0m0-7h0m-1-4h0m1-43h0m1-5h0m0-6h0m-1-7h0m1-6h0m0-6h0m-1-6h0m1-1h0m3 150h0m0-4h0m1-7h0m-1-6h0m1-6h0m-1-7h0m0-6h0m0-5h0m0-7h0m1-5h0m0-6h0m-1-6h0m1-6h0m-1-37h0m1-5h0m-1-6h0m1-6h0m0-5h0m-2-6h0m1-7h0m1-7h0m-1-1h0m5 152h0m-1-7h0m1-5h0m-1-6h0m0-6h0m1-6h0m0-5h0m0-7h0m-1-6h0m0-7h0m1-5h0m0-6h0m-1-6h0m-1-24h0m1-6h0m-1-6h0m2-7h0m0-5h0m0-6h0m-1-6h0m0-3h0m4 135h0m1-6h0m-1-6h0m0-7h0m1-5h0m0-7h0m-1-6h0m1-5h0m-1-6h0m0-7h0m1-6h0m-1-5h0m0-5h0m0-7h0m1-6h0m-1-6h0m0-7h0m0-5h0m0-6h0m0-6h0m0-6h0m1-6h0m-1-7h0m0-2h0m5 134h0m0-4h0m-1-7h0m1-7h0m-1-5h0m0-6h0m0-7h0m0-6h0m0-5h0m1-6h0m-1-6h0m0-5h0m0-8h0m0-5h0m0-6h0m0-7h0m1-4h0m-1-7h0m0-7h0m1-5h0m0-5h0m0-8h0m-1-5h0m0-3h0m4 135h0m-1-7h0m2-5h0m-1-5h0m1-8h0m0-5h0m-1-7h0m0-6h0m0-6h0m1-5h0m-1-6h0m1-7h0m0-4h0m0-8h0m0-5h0m-2-6h0m2-6h0m0-6h0m0-5h0m-1-6h0m-1-7h0m0-6h0m1-7h0m1-2h0m3 135h0m1-6h0m-2-7h0m2-6h0m-1-5h0m1-6h0m-1-6h0m-1-7h0m1-5h0m0-7h0m1-6h0m-2-6h0m1-11h0m0-6h0m0-6h0m0-6h0m-1-5h0m1-7h0m0-6h0m0-6h0m1-6h0m0-6h0m-1-4h0m4 136h0m1-7h0m0-6h0m-1-6h0m1-5h0m-1-6h0m-1-7h0m2-6h0m-1-5h0m-1-5h0m1-6h0m1-25h0m0-7h0m-1-5h0m-1-6h0m1-6h0m0-7h0m1-5h0m0-6h0m-1-5h0m-1-5h0m5 136h0m0-5h0m0-8h0m1-5h0m-1-6h0m1-7h0m0-6h0m0-6h0m0-4h0m-2-8h0m2-5h0m-1-23h0m1-8h0m-1-5h0m0-7h0m0-4h0m-1-8h0m1-4h0m1-5h0m4 123h0m-1-6h0m0-4h0m1-7h0m0-6h0m-2-5h0m1-6h0m0-6h0m0-7h0m0-6h0m1-6h0m0-25h0m-1-5h0m0-6h0m0-26h0m5 122h0m0-7h0m-1-4h0m-1-8h0m1-6h0m0-5h0m-1-5h0m1-8h0m0-5h0m0-6h0m0-6h0m0-7h0m0-12h0m1-6h0m-1-6h0m0-6h0m5 96h0m0-6h0m-1-6h0m0-5h0m1-7h0m-2-5h0m2-6h0m0-6h0m0-5h0m0-7h0m0-7h0m-1-5h0m0-5h0m1-8h0m-1-5h0m0-6h0m0-6h0m5 96h0m-2-7h0m2-5h0m-1-7h0m0-5h0m1-7h0m-1-6h0m1-6h0m0-5h0m-1-6h0m0-5h0m-1-7h0m1-7h0m0-4h0m1-7h0m0-5h0m0-7h0m3 96h0m0-5h0m0-7h0m1-5h0m-1-7h0m1-5h0m0-7h0m0-6h0m-1-6h0m1-5h0m-2-8h0m1-5h0m0-6h0m0-7h0m1-6h0m-1-6h0m1-6h0m2 97h0m1-7h0m1-5h0m-1-7h0m1-6h0m-1-6h0m0-5h0m0-5h0m0-7h0m1-6h0m0-7h0m0-4h0m-1-8h0m-1-6h0m2-6h0m-1-5h0m-1-6h0m2-31h0m0-5h0m-1-5h0m4 137h0m-1-7h0m2-6h0m-1-6h0m0-6h0m1-5h0m0-5h0m0-8h0m-1-5h0m0-5h0m0-7h0m0-6h0m0-6h0m1-6h0m-1-7h0m0-5h0m1-6h0m0-7h0m-1-17h0m0-6h0m1-7h0m0-5h0m2 137h0m2-5h0m0-5h0m0-7h0m0-6h0m-1-7h0m0-6h0m0-5h0m0-6h0m1-7h0m0-5h0m-1-6h0m0-7h0m0-6h0m-1-6h0m2-4h0m0-8h0m-2-4h0m1-8h0m1-5h0m-1-7h0m0-5h0m1-7h0m-1-5h0m4 138h0m0-7h0m0-5h0m1-7h0m-1-5h0m0-7h0m1-5h0m0-7h0m-1-5h0m1-6h0m-1-6h0m1-6h0m-1-7h0m0-6h0m1-5h0m0-6h0m-1-7h0m1-5h0m-1-6h0m1-5h0m-1-7h0m1-6h0m-1-6h0m0-7h0m1-6h0m0-6h0m-1-5h0m1-6h0m0-7h0m-1-2h0m5 171h0m0-7h0m-2-5h0m0-7h0m1-5h0m1-5h0m0-8h0m-1-6h0m0-6h0m1-5h0m-1-7h0m1-6h0m0-6h0m-1-6h0m0-6h0m0-5h0m0-7h0m0-5h0m0-6h0m0-7h0m1-5h0m0-6h0m-1-7h0m1-5h0m-1-7h0m0-4h0m0-7h0m0-6h0m0-7h0m0-3h0m-145 172h0m1-7h0m0-5h0m0-6h0m-1-5h0m0-7h0m0-6h0m1-6h0m0-7h0m-1-4h0m0-13h0m1-7h0m-2-6h0m1-5h0m0-29h0m0-26h0m1-5h0m8 143h0m0-5h0m0-5h0m-1-7h0m1-6h0m0-6h0m0-7h0m0-6h0m11 43h0m0-6h0m0-7h0m0-6h0m0-6h0m0-5h0m0-6h0m1-6h0m-1-6h0m0-7h0m0-6h0m0-6h0m0-6h0m1-6h0m0-5h0m-1-6h0m1-6h0m-1-7h0m1-5h0m-1-7h0m0-4h0m0-7h0m1-7h0m-1-4h0m0-7h0m1-2h0m12 146h0m1-5h0m0-8h0m-1-6h0m1-5h0m0-5h0m-1-6h0m0-8h0m0-4h0m1-7h0m-1-6h0m1-5h0m-1-8h0m1-4h0m0-6h0m-1-7h0m1-6h0m0-6h0m-1-3h0m14 105h0m0-6h0m1-5h0m-1-7h0m0-5h0m-1-7h0m1-6h0m0-7h0m-1-6h0m1-5h0m0-7h0m0-5h0m0-7h0m0-6h0m1-5h0m-1-6h0m-1-7h0m1-4h0m1-8h0m-1-21h0m12 129h0m0-5h0m0-7h0m0-4h0m0-7h0m0-7h0m1-6h0m-1-4h0m0-8h0m-1-5h0m0-6h0m1-6h0m0-6h0m1-6h0m-1-6h0m1-6h0m0-6h0m0-7h0m-1-6h0m1-23h0m-1-5h0m14 136h0m0-6h0m0-4h0m1-6h0m0-7h0m0-7h0m0-4h0m1-6h0m-2-7h0m2-7h0m-2-6h0m0-5h0m1-5h0m-1-44h0m1-5h0m1-7h0m-1-6h0m0-6h0m0-4h0m0-7h0m0-1h0m42 151h0m-1-6h0m1-7h0m0-4h0m-1-8h0m1-6h0m0-4h0m-1-7h0m0-7h0m1-4h0m0-7h0m0-5h0m1-8h0m-2-4h0m1-6h0m-1-7h0m0-7h0m15 97h0m1-6h0m0-6h0m-1-7h0m0-4h0m1-7h0m0-6h0m-1-6h0m0-5h0m1-8h0m-1-6h0m1-6h0m-1-6h0m0-5h0m0-7h0m0-5h0m0-7h0m1-24h0m-1-5h0m1-6h0m0-5h0m14 137h0m2-6h0m0-7h0m0-5h0m-1-6h0m-1-6h0m0-7h0m2-6h0m-1-6h0m1-5h0m0-7h0m-1-6h0m0-5h0m0-6h0m0-5h0m-1-8h0m1-4h0m1-8h0m0-5h0m-1-6h0m0-5h0m1-8h0m0-6h0m-1-6h0m0-6h0m1-5h0m-1-5h0m-1-7h0m1-7h0m0-3h0"/><path id="q4_0" d="M835 440h0m65-10h0m-136 43h0m136-5h0m-127 30h0m8 0h0m57 3h0m68-13h0m-6 27h0m-65 10h0m-4 17h0m8 0h0m67 4h0m0 6h0m-145 4h0m13 0h0m-19 27h0m20-5h0m1 8h0m2 9h0m-16 0h0m-3 18h0m71-72h0m8 0h0m-8 21h0m20 13h0m0 8h0m-37 26h0m3 20h0m89-90h0m0 9h0m-5 24h0m8 0h0m-74 5h0m0 9h0m1 9h0m0 9h0m-5 8h0m-5 3h0"/><linearGradient id="r4_1" gradientUnits="userSpaceOnUse" x1="0" y1="1610.8" x2="0" y2="1171.6"><stop offset="0.0000" stop-color="#161c0c"/><stop offset="0.2000" stop-color="#161c0c"/><stop offset="0.2833" stop-color="#10140a"/><stop offset="0.3667" stop-color="#0a0a08"/><stop offset="1.0000" stop-color="#0a0a0a"/></linearGradient><linearGradient id="f4_1" gradientUnits="userSpaceOnUse" x1="0" y1="1610.8" x2="0" y2="1171.6"><stop offset="0.0000" stop-color="#4a5a2c"/><stop offset="0.2000" stop-color="#4a5a2c"/><stop offset="0.2833" stop-color="#303c1c"/><stop offset="0.3667" stop-color="#141810"/><stop offset="1.0000" stop-color="#111111"/></linearGradient><path id="p4_1" d="M755 1611h0m0-4h0m-1-5h0m1-6h0m-1-4h0m1-6h0m0-4h0m-1-5h0m0-5h0m1-4h0m0-5h0m-1-6h0m1-4h0m0-5h0m-1-5h0m0-4h0m0-6h0m0-3h0m1-6h0m-1-5h0m1-5h0m-1-4h0m0-5h0m1-5h0m-1-1h0m4 112h0m0-5h0m0-5h0m1-5h0m0-5h0m-1-4h0m0-5h0m1-5h0m-2-5h0m1-18h0m0-6h0m1-4h0m-1-24h0m1-20h0m-1-5h0m4 116h0m0-4h0m1-6h0m0-5h0m-1-4h0m-1-5h0m1-5h0m0-5h0m0-29h0m4 63h0m0-5h0m0-5h0m0-5h0m1-4h0m0-5h0m-1-5h0m1-5h0m0-33h0m3 67h0m-1-4h0m2-6h0m-1-4h0m-1-6h0m1-4h0m0-5h0m1-5h0m-1-29h0m0-5h0m1-4h0m-1-15h0m5 87h0m0-5h0m-1-5h0m0-5h0m1-4h0m0-6h0m-1-4h0m0-5h0m1-5h0m0-10h0m0-4h0m0-5h0m0-4h0m0-6h0m0-4h0m0-5h0m-1-4h0m0-6h0m1-5h0m0-4h0m-1-15h0m0-1h0m5 112h0m-1-6h0m0-4h0m1-5h0m0-4h0m0-5h0m-1-5h0m-1-4h0m2-5h0m-1-5h0m1-5h0m-1-4h0m1-5h0m0-6h0m-1-4h0m0-5h0m1-5h0m0-5h0m-1-4h0m0-5h0m0-5h0m0-5h0m1-4h0m0-6h0m-2-4h0m2-2h0m4 117h0m0-5h0m-1-5h0m0-4h0m0-6h0m0-4h0m1-6h0m-1-4h0m1-5h0m-1-4h0m0-5h0m1-5h0m-1-5h0m0-4h0m0-5h0m0-5h0m0-5h0m0-5h0m0-3h0m3 85h0m1-5h0m1-5h0m-1-4h0m-1-5h0m1-4h0m1-6h0m-1-5h0m1-5h0m0-4h0m0-5h0m0-5h0m-1-5h0m1-4h0m-1-5h0m0-5h0m1-5h0m0-5h0m0-3h0m3 85h0m-1-4h0m1-6h0m0-5h0m1-5h0m-2-5h0m2-4h0m0-4h0m-1-5h0m0-5h0m1-6h0m0-5h0m0-4h0m0-4h0m-1-5h0m1-5h0m0-5h0m0-5h0m0-2h0m3 84h0m1-5h0m-1-5h0m0-5h0m0-4h0m-1-5h0m1-5h0m0-5h0m0-5h0m1-5h0m-1-4h0m0-5h0m0-5h0m1-4h0m0-5h0m-1-6h0m0-4h0m0-5h0m1-3h0m4 85h0m-1-5h0m0-4h0m1-6h0m-1-5h0m0-4h0m0-5h0m0-5h0m0-4h0m0-6h0m1-5h0m-1-5h0m0-3h0m-1-5h0m2-5h0m-1-5h0m-1-5h0m2-5h0m0-2h0m4 84h0m-1-4h0m0-6h0m-1-5h0m1-5h0m0-4h0m0-5h0m1-5h0m-1-4h0m0-6h0m1-4h0m-1-5h0m1-4h0m-1-5h0m0-5h0m0-6h0m1-4h0m-2-5h0m1-5h0m0-4h0m1-10h0m-1-2h0m5 103h0m0-5h0m-1-5h0m0-4h0m1-5h0m-1-4h0m0-7h0m0-4h0m1-5h0m-2-4h0m1-5h0m0-6h0m0-3h0m0-5h0m-1-6h0m1-4h0m1-4h0m-1-7h0m0-4h0m0-16h0m4 103h0m0-5h0m1-5h0m-1-4h0m0-5h0m1-6h0m-2-3h0m2-6h0m-1-5h0m1-5h0m0-5h0m0-5h0m0-3h0m0-5h0m-1-5h0m1-6h0m0-3h0m-1-6h0m1-4h0m4 86h0m-1-6h0m0-3h0m1-5h0m-1-5h0m0-5h0m1-4h0m0-6h0m-1-5h0m0-5h0m0-4h0m0-4h0m0-7h0m-1-4h0m0-4h0m0-5h0m2-5h0m-1-4h0m1-5h0m-1-20h0m0-4h0m5 110h0m-2-5h0m2-5h0m-1-4h0m1-6h0m0-3h0m0-6h0m-1-5h0m1-4h0m0-6h0m0-4h0m-1-6h0m0-4h0m0-5h0m0-5h0m1-4h0m-1-5h0m0-4h0m0-6h0m0-5h0m0-10h0m0-4h0m0-4h0m4 110h0m0-5h0m1-5h0m-1-5h0m1-5h0m-1-5h0m1-5h0m-1-3h0m-1-6h0m1-4h0m1-4h0m-1-7h0m0-5h0m0-3h0m1-6h0m-1-4h0m0-14h0m-1-5h0m2-6h0m-1-4h0m1-4h0m0-5h0m3 110h0m0-4h0m0-6h0m1-5h0m-1-4h0m0-4h0m0-6h0m1-4h0m-1-6h0m0-5h0m0-4h0m0-5h0m0-5h0m1-4h0m-1-6h0m-1-19h0m1-4h0m1-5h0m-1-6h0m1-3h0m-1-6h0m0-4h0m1-5h0m0-1h0m2 121h0m2-5h0m-2-5h0m1-5h0m-1-4h0m1-6h0m-1-4h0m2-4h0m0-5h0m0-6h0m-1-4h0m0-5h0m-1-4h0m1-35h0m1-3h0m0-5h0m-1-6h0m1-5h0m0-4h0m-1-5h0m1-1h0m3 121h0m0-4h0m1-5h0m-1-5h0m1-5h0m-1-6h0m0-4h0m0-5h0m0-5h0m1-4h0m0-5h0m-1-5h0m1-4h0m-1-30h0m1-4h0m-1-5h0m1-5h0m0-4h0m-2-5h0m1-5h0m1-6h0m-1 0h0m5 121h0m-1-5h0m1-5h0m-1-4h0m0-5h0m1-5h0m0-4h0m0-6h0m-1-4h0m0-6h0m1-4h0m0-5h0m-1-5h0m-1-19h0m1-5h0m-1-5h0m2-5h0m0-4h0m0-5h0m-1-5h0m0-2h0m4 108h0m1-5h0m-1-5h0m0-5h0m1-4h0m0-6h0m-1-4h0m1-5h0m-1-5h0m0-5h0m1-5h0m-1-4h0m0-4h0m0-6h0m1-4h0m-1-5h0m0-6h0m0-4h0m0-5h0m0-4h0m0-5h0m1-5h0m-1-5h0m0-2h0m5 108h0m0-4h0m-1-6h0m1-5h0m-1-4h0m0-5h0m0-6h0m0-4h0m0-5h0m1-4h0m-1-5h0m0-4h0m0-7h0m0-3h0m0-6h0m0-5h0m1-3h0m-1-6h0m0-5h0m1-4h0m0-5h0m0-5h0m-1-4h0m0-3h0m4 108h0m-1-6h0m2-4h0m-1-4h0m1-6h0m0-4h0m-1-5h0m0-5h0m0-5h0m1-5h0m-1-4h0m1-6h0m0-3h0m0-6h0m0-4h0m-2-5h0m2-5h0m0-4h0m0-5h0m-1-5h0m-1-5h0m0-5h0m1-5h0m1-2h0m3 108h0m1-5h0m-2-5h0m2-5h0m-1-4h0m1-5h0m-1-5h0m-1-5h0m1-4h0m0-6h0m1-5h0m-2-5h0m1-8h0m0-5h0m0-5h0m0-5h0m-1-4h0m1-6h0m0-4h0m0-5h0m1-4h0m0-6h0m-1-3h0m4 109h0m1-6h0m0-4h0m-1-5h0m1-4h0m-1-5h0m-1-6h0m2-4h0m-1-4h0m-1-5h0m1-4h0m1-20h0m0-6h0m-1-4h0m-1-4h0m1-5h0m0-6h0m1-4h0m0-5h0m-1-4h0m-1-4h0m5 109h0m0-4h0m0-6h0m1-4h0m-1-6h0m1-5h0m0-4h0m0-5h0m0-4h0m-2-6h0m2-4h0m-1-19h0m1-6h0m-1-4h0m0-5h0m0-4h0m-1-6h0m1-3h0m1-4h0m4 99h0m-1-6h0m0-3h0m1-6h0m0-4h0m-2-5h0m1-4h0m0-5h0m0-6h0m0-4h0m1-5h0m0-20h0m-1-4h0m0-5h0m0-21h0m5 98h0m0-6h0m-1-3h0m-1-6h0m1-5h0m0-4h0m-1-4h0m1-6h0m0-5h0m0-4h0m0-5h0m0-6h0m0-9h0m1-5h0m-1-5h0m0-5h0m5 77h0m0-5h0m-1-4h0m0-4h0m1-6h0m-2-4h0m2-5h0m0-4h0m0-5h0m0-5h0m0-6h0m-1-4h0m0-4h0m1-6h0m-1-4h0m0-5h0m0-5h0m5 77h0m-2-6h0m2-3h0m-1-6h0m0-4h0m1-6h0m-1-4h0m1-5h0m0-5h0m-1-5h0m0-4h0m-1-5h0m1-6h0m0-3h0m1-6h0m0-4h0m0-5h0m3 77h0m0-4h0m0-5h0m1-5h0m-1-5h0m1-5h0m0-4h0m0-6h0m-1-5h0m1-4h0m-2-6h0m1-3h0m0-5h0m0-6h0m1-5h0m-1-5h0m1-5h0m2 78h0m1-5h0m1-5h0m-1-5h0m1-5h0m-1-5h0m0-4h0m0-4h0m0-5h0m1-5h0m0-6h0m0-3h0m-1-6h0m-1-5h0m2-5h0m-1-4h0m-1-5h0m2-25h0m0-3h0m-1-5h0m4 110h0m-1-5h0m2-6h0m-1-4h0m0-5h0m1-4h0m0-4h0m0-6h0m-1-4h0m0-5h0m0-5h0m0-5h0m0-5h0m1-4h0m-1-6h0m0-4h0m1-5h0m0-5h0m-1-14h0m0-5h0m1-5h0m0-4h0m2 109h0m2-3h0m0-5h0m0-5h0m0-5h0m-1-6h0m0-5h0m0-4h0m0-4h0m1-6h0m0-4h0m-1-5h0m0-5h0m0-5h0m-1-5h0m2-4h0m0-6h0m-2-3h0m1-6h0m1-4h0m-1-6h0m0-4h0m1-6h0m-1-3h0m4 110h0m0-5h0m0-5h0m1-5h0m-1-4h0m0-5h0m1-5h0m0-5h0m-1-5h0m1-4h0m-1-5h0m1-5h0m-1-5h0m0-5h0m1-4h0m0-5h0m-1-5h0m1-5h0m-1-4h0m1-5h0m-1-5h0m1-5h0m-1-5h0m0-5h0m1-5h0m0-5h0m-1-4h0m1-4h0m0-6h0m-1-2h0m5 137h0m0-6h0m-2-3h0m0-6h0m1-4h0m1-5h0m0-5h0m-1-5h0m0-5h0m1-4h0m-1-6h0m1-4h0m0-5h0m-1-5h0m0-5h0m0-4h0m0-6h0m0-4h0m0-5h0m0-5h0m1-4h0m0-5h0m-1-5h0m1-5h0m-1-5h0m0-3h0m0-6h0m0-5h0m0-5h0m0-3h0m-145 138h0m1-6h0m0-4h0m0-5h0m-1-4h0m0-5h0m0-5h0m1-4h0m0-6h0m-1-4h0m0-10h0m1-5h0m-2-5h0m1-5h0m0-23h0m0-20h0m1-4h0m8 115h0m0-5h0m0-4h0m-1-5h0m1-6h0m0-4h0m0-6h0m0-4h0m11 34h0m0-5h0m0-5h0m0-5h0m0-5h0m0-4h0m0-5h0m1-5h0m-1-5h0m0-5h0m0-5h0m0-4h0m0-5h0m1-5h0m0-4h0m-1-5h0m1-5h0m-1-6h0m1-4h0m-1-5h0m0-4h0m0-4h0m1-6h0m-1-4h0m0-5h0m1-2h0m12 117h0m1-4h0m0-6h0m-1-5h0m1-4h0m0-4h0m-1-5h0m0-6h0m0-4h0m1-6h0m-1-4h0m1-4h0m-1-6h0m1-4h0m0-5h0m-1-5h0m1-5h0m0-4h0m-1-3h0m14 84h0m0-5h0m1-4h0m-1-5h0m0-5h0m-1-5h0m1-5h0m0-6h0m-1-4h0m1-4h0m0-6h0m0-4h0m0-5h0m0-5h0m1-5h0m-1-4h0m-1-5h0m1-4h0m1-6h0m-1-17h0m12 104h0m0-5h0m0-5h0m0-4h0m0-5h0m0-6h0m1-5h0m-1-3h0m0-6h0m-1-4h0m0-5h0m1-5h0m0-5h0m1-5h0m-1-4h0m1-5h0m0-5h0m0-5h0m-1-5h0m1-18h0m-1-5h0m14 109h0m0-4h0m0-4h0m1-5h0m0-6h0m0-5h0m0-3h0m1-5h0m-2-6h0m2-5h0m-2-5h0m0-4h0m1-4h0m-1-35h0m1-4h0m1-6h0m-1-4h0m0-5h0m0-4h0m0-5h0m0-1h0m42 121h0m-1-4h0m1-6h0m0-4h0m-1-6h0m1-5h0m0-3h0m-1-6h0m0-5h0m1-4h0m0-5h0m0-4h0m1-6h0m-2-4h0m1-5h0m-1-5h0m0-6h0m15 78h0m1-5h0m0-5h0m-1-5h0m0-4h0m1-5h0m0-5h0m-1-5h0m0-4h0m1-6h0m-1-5h0m1-5h0m-1-5h0m0-4h0m0-5h0m0-4h0m0-6h0m1-19h0m-1-4h0m1-4h0m0-5h0m14 110h0m2-5h0m0-6h0m0-4h0m-1-4h0m-1-5h0m0-6h0m2-4h0m-1-5h0m1-4h0m0-6h0m-1-4h0m0-4h0m0-5h0m0-5h0m-1-6h0m1-3h0m1-6h0m0-5h0m-1-4h0m0-5h0m1-5h0m0-5h0m-1-5h0m0-5h0m1-4h0m-1-4h0m-1-5h0m1-7h0m0-2h0"/><path id="q4_1" d="M835 1332h0m65-9.2h0m-136 39.3h0m136-4.5h0m-127 27h0m8 0h0m57 2.7h0m68-11.7h0m-6 24.1h0m-65 8.8h0m-4 14.9h0m8 0h0m67 3.4h0m0 5.2h0m-145 3.5h0m13 0h0m-19 23.2h0m20-4.3h0m1 6.8h0m2 7.6h0m-16 0h0m-3 15h0m71-61.3h0m8 0h0m-8 18.2h0m20 11.1h0m0 6.9h0m-37 21.9h0m3 16h0m89-75.9h0m0 7.9h0m-5 20.7h0m8 0h0m-74 4.3h0m0 7.6h0m1 7.6h0m0 7.6h0m-5 6.6h0m-5 2.4h0"/><linearGradient id="r5_0" gradientUnits="userSpaceOnUse" x1="0" y1="771.8" x2="0" y2="222.8"><stop offset="0.0000" stop-color="#780a3c"/><stop offset="0.2500" stop-color="#780a3c"/><stop offset="0.3333" stop-color="#700a38"/><stop offset="0.4000" stop-color="#5a0828"/><stop offset="0.5000" stop-color="#44061a"/><stop offset="0.6667" stop-color="#380614"/><stop offset="1.0000" stop-color="#320612"/></linearGradient><linearGradient id="f5_0" gradientUnits="userSpaceOnUse" x1="0" y1="771.8" x2="0" y2="222.8"><stop offset="0.0000" stop-color="#e0197c"/><stop offset="0.2500" stop-color="#e0197c"/><stop offset="0.3333" stop-color="#c01464"/><stop offset="0.4000" stop-color="#96104a"/><stop offset="0.5000" stop-color="#660c26"/><stop offset="0.6667" stop-color="#4e0a1c"/><stop offset="1.0000" stop-color="#480a1a"/></linearGradient><path id="p5_0" d="M926 771h0m0-6h0m1-5h0m-1-7h0m0-5h0m0-6h0m0-6h0m0-7h0m0-6h0m1-4h0m0-7h0m0-7h0m-1-5h0m0-6h0m1-5h0m0-6h0m-1-8h0m0-5h0m1-6h0m0-6h0m-1-7h0m0-3h0m5 124h0m-1-6h0m1-6h0m-1-5h0m1-7h0m0-7h0m0-5h0m-1-7h0m0-4h0m0-6h0m1-8h0m-1-5h0m0-7h0m0-4h0m1-6h0m-1-7h0m-1-6h0m1-5h0m-1-7h0m0-5h0m1-7h0m1-7h0m-1-5h0m0-6h0m-1-6h0m2-4h0m3 148h0m0-6h0m1-7h0m-1-6h0m1-6h0m0-6h0m0-6h0m-1-5h0m1-5h0m-1-7h0m0-7h0m0-4h0m-1-7h0m1-5h0m0-8h0m1-6h0m0-6h0m-2-6h0m2-18h0m0-5h0m-1-5h0m0-6h0m0-7h0m0-3h0m5 147h0m-1-5h0m0-6h0m1-7h0m0-7h0m0-5h0m-2-7h0m1-6h0m1-5h0m0-6h0m0-7h0m-1-5h0m0-6h0m1-6h0m-1-6h0m0-6h0m0-7h0m1-23h0m0-6h0m-1-6h0m0-6h0m1-7h0m0-3h0m2 148h0m2-6h0m0-6h0m0-7h0m-1-6h0m1-6h0m0-5h0m-2-6h0m1-7h0m1-5h0m-1-6h0m-1-7h0m2-4h0m0-6h0m0-7h0m-1-6h0m1-5h0m0-26h0m-1-6h0m0-5h0m1-6h0m-1-5h0m1-7h0m-2-6h0m1-6h0m0-7h0m0-5h0m0-6h0m1-6h0m-1-7h0m0-5h0m1-6h0m-1-6h0m0-12h0m1-4h0m4 226h0m-1-7h0m0-4h0m0-7h0m0-7h0m0-6h0m1-5h0m-2-7h0m2-6h0m0-5h0m0-6h0m-2-6h0m2-7h0m0-6h0m-1-5h0m0-6h0m-1-5h0m1-8h0m1-18h0m-1-4h0m1-8h0m0-6h0m-2-5h0m1-7h0m1-4h0m-2-7h0m1-7h0m-1-6h0m2-4h0m-2-8h0m0-5h0m1-7h0m1-6h0m-1-22h0m5 227h0m-1-7h0m1-5h0m-1-6h0m1-7h0m-1-5h0m1-6h0m-1-6h0m0-6h0m-1-5h0m1-8h0m0-6h0m1-6h0m-1-4h0m1-7h0m-1-6h0m1-7h0m-1-5h0m0-5h0m0-8h0m1-6h0m-1-6h0m0-5h0m0-6h0m0-7h0m0-5h0m0-5h0m0-7h0m-1-6h0m0-7h0m1-5h0m0-5h0m0-8h0m-1-5h0m2-6h0m-1-23h0m5 226h0m-1-5h0m1-6h0m0-6h0m-1-7h0m0-4h0m0-8h0m1-4h0m-1-7h0m1-5h0m-1-7h0m0-6h0m1-6h0m0-6h0m0-7h0m-1-6h0m1-4h0m-1-7h0m1-6h0m-1-7h0m1-5h0m-1-6h0m1-6h0m-1-6h0m1-6h0m-1-6h0m0-7h0m1-4h0m-1-7h0m0-7h0m0-6h0m1-6h0m-1-5h0m1-5h0m0-8h0m0-21h0m4 226h0m0-7h0m-1-5h0m1-7h0m-1-5h0m0-6h0m1-6h0m-1-6h0m1-6h0m0-6h0m-1-6h0m0-7h0m0-6h0m0-5h0m1-7h0m-1-5h0m0-7h0m1-6h0m-1-6h0m1-6h0m-1-5h0m-1-7h0m0-5h0m2-7h0m0-6h0m-1-5h0m1-7h0m-2-6h0m2-4h0m-1-8h0m1-6h0m0-4h0m0-7h0m0-6h0m-1-6h0m1-23h0m4 226h0m-1-6h0m1-4h0m0-7h0m0-7h0m-1-5h0m1-6h0m0-7h0m-1-6h0m0-5h0m0-5h0m-1-7h0m1-5h0m0-8h0m1-5h0m0-6h0m-1-6h0m1-7h0m-1-5h0m0-7h0m0-5h0m-1-6h0m1-7h0m1-5h0m-2-6h0m2-6h0m0-7h0m-1-6h0m0-6h0m0-5h0m1-6h0m-2-6h0m2-7h0m-2-4h0m1-8h0m0-5h0m1-5h0m0-7h0m-1-6h0m4 227h0m0-6h0m0-6h0m0-4h0m0-7h0m1-7h0m0-5h0m-2-5h0m2-8h0m0-5h0m0-7h0m-2-5h0m2-7h0m-2-5h0m1-7h0m1-5h0m-1-6h0m1-6h0m0-6h0m0-7h0m-1-6h0m0-5h0m0-6h0m-1-7h0m1-6h0m0-5h0m1-6h0m-1-6h0m1-7h0m-1-5h0m1-7h0m0-5h0m0-5h0m0-7h0m-1-7h0m0-5h0m0-1h0m5 211h0m0-6h0m0-7h0m0-5h0m0-6h0m-1-7h0m0-41h0m0-5h0m3 77h0m2-7h0m-1-5h0m1-6h0m-1-7h0m-1-5h0m0-42h0m1-5h0m4 77h0m1-7h0m-1-4h0m1-7h0m-1-6h0m1-7h0m-1-42h0m1-3h0m3 76h0m0-6h0m1-6h0m-1-7h0m0-6h0m1-5h0m0-36h0m0-6h0m0-3h0m4 75h0m0-6h0m0-7h0m0-4h0m0-7h0m-1-7h0m0-5h0m-1-6h0m1-7h0m0-5h0m1-5h0m-1-8h0m1-5h0m0-6h0m-1-6h0m0-6h0m0-5h0m1-8h0m0-4h0m-1-6h0m1-7h0m-1-6h0m1-7h0m-1-6h0m0-5h0m0-6h0m0-6h0m0-7h0m1-6h0m-1-5h0m0-5h0m1-7h0m-1-6h0m0-2h0m5 194h0m0-7h0m0-5h0m-1-6h0m-1-6h0m1-6h0m1-6h0m-1-7h0m-1-5h0m0-6h0m2-7h0m-1-5h0m0-7h0m1-6h0m-1-6h0m0-23h0m-1-5h0m1-8h0m1-6h0m-1-5h0m0-7h0m0-4h0m0-8h0m0-4h0m0-8h0m0-6h0m0-6h0m1-5h0m-2-7h0m2-4h0m0-3h0m4 193h0m0-6h0m0-5h0m-1-6h0m1-5h0m0-7h0m-1-6h0m0-6h0m-1-7h0m2-5h0m-1-5h0m0-7h0m0-7h0m1-5h0m-2-30h0m2-25h0m-1-5h0m0-6h0m1-7h0m-1-6h0m0-5h0m1-6h0m0-6h0m0-6h0m0-7h0m-1-4h0m1-3h0m3 194h0m1-6h0m-1-5h0m0-7h0m1-5h0m-1-7h0m1-7h0m-2-5h0m2-6h0m0-7h0m0-5h0m0-6h0m0-7h0m-1-5h0m1-6h0m-1-48h0m0-5h0m0-8h0m1-4h0m-1-7h0m0-5h0m0-8h0m-1-5h0m2-7h0m-1-5h0m0-7h0m0 0h0m3 193h0m1-6h0m0-6h0m0-6h0m0-6h0m-1-5h0m1-8h0m1-6h0m0-5h0m-1-6h0m0-7h0m1-4h0m-1-7h0m1-7h0m-1-5h0m1-17h0m-1-6h0m1-26h0m-1-6h0m-1-5h0m0-7h0m1-4h0m1-38h0m0-1h0m3 194h0m-1-6h0m2-7h0m-1-6h0m0-6h0m1-6h0m-1-6h0m1-6h0m-1-6h0m1-5h0m0-7h0m-1-5h0m-1-7h0m1-5h0m0-7h0m0-5h0m0-6h0m0-7h0m-1-5h0m2-18h0m0-7h0m-2-6h0m2-5h0m0-6h0m0-42h0m-1-1h0m5 193h0m-1-7h0m1-6h0m-1-6h0m0-5h0m-1-6h0m1-6h0m-1-6h0m1-6h0m0-6h0m1-6h0m-2-18h0m0-6h0m0-6h0m2-7h0m-1-4h0m0-8h0m1-4h0m-1-7h0m1-6h0m-2-6h0m2-5h0m-1-4h0m4 141h0m-1-5h0m2-8h0m-2-6h0m1-5h0m1-6h0m0-7h0m-1-5h0m0-7h0m1-5h0m-1-30h0m1-6h0m0-6h0m-1-6h0m1-6h0m0-7h0m0-5h0m0-6h0m-1-5h0m-1-8h0m1-1h0m4 140h0m-1-6h0m1-6h0m0-6h0m1-6h0m-1-6h0m1-7h0m-1-6h0m0-5h0m1-7h0m0-30h0m0-4h0m0-7h0m-1-7h0m1-4h0m-1-8h0m1-6h0m-1-4h0m0-7h0m0-6h0m1-2h0m4 139h0m0-5h0m-2-7h0m2-4h0m-1-6h0m-1-8h0m2-5h0m-1-6h0m0-6h0m0-7h0m1-5h0m-1-25h0m0-5h0m0-6h0m1-6h0m-1-7h0m-1-4h0m2-7h0m0-6h0m-1-7h0m0-5h0m-1-6h0m0-7h0m1-5h0m1-7h0m-1-6h0m0-6h0m-1-6h0m1-5h0m1-6h0m-2-7h0m2-4h0m0-8h0m-1-5h0m0-7h0m0-6h0m1-4h0m0-7h0m0-1h0m3 240h0m0-5h0m0-7h0m0-5h0m0-6h0m1-6h0m0-6h0m-1-5h0m1-7h0m-1-6h0m0-6h0m1-24h0m-1-7h0m1-4h0m0-7h0m-1-6h0m-1-6h0m2-5h0m-2-8h0m1-5h0m1-7h0m-1-5h0m1-7h0m-1-5h0m0-7h0m-1-5h0m1-6h0m1-6h0m-1-6h0m1-7h0m0-5h0m-1-7h0m1-6h0m-1-6h0m1-5h0m-2-7h0m1-6h0m0-5h0m1-1h0m4 241h0m-1-7h0m1-5h0m-1-6h0m1-5h0m0-6h0m-1-7h0m1-7h0m-1-5h0m0-6h0m0-6h0m-1-24h0m1-5h0m0-8h0m1-6h0m0-5h0m-1-4h0m4 112h0m-1-7h0m1-6h0m0-5h0m0-6h0m1-6h0m-1-5h0m0-8h0m-1-4h0m2-7h0m0-6h0m0-5h0m-1-12h0m0-7h0m-1-6h0m2-6h0m0-5h0m0-7h0m-1-4h0m5 112h0m0-7h0m0-5h0m-1-7h0m0-6h0m0-6h0m0-6h0m1-5h0m-1-7h0m0-5h0m1-6h0m0-6h0m0-6h0m0-7h0m-1-6h0m1-6h0m0-6h0m-1-5h0m0-6h0m0-3h0m4 111h0m1-5h0m0-7h0m-1-7h0m1-5h0m0-6h0m0-5h0m-1-7h0m1-6h0m0-7h0m-1-4h0m0-6h0m0-8h0m0-4h0m0-8h0m0-5h0m0-7h0m1-5h0m-1-5h0m0-4h0m3 111h0m2-6h0m0-6h0m-2-5h0m0-8h0m1-5h0m-1-6h0m1-7h0m0-6h0m1-6h0m-1-4h0m0-6h0m0-7h0m0-6h0m1-6h0m0-6h0m-1-6h0m1-7h0m-1-5h0m0-4h0m5 111h0m-1-6h0m1-5h0m-1-6h0m0-6h0m0-6h0m1-5h0m-1-7h0m1-7h0m0-5h0m-1-6h0m0-7h0m0-5h0m1-6h0m0-6h0m-1-5h0m0-7h0m1-7h0m-1-5h0m-1-4h0m-120 112h0m0-6h0m-1-6h0m1-7h0m0-6h0m0-6h0m0-6h0m1-6h0m-1-5h0m0-7h0m1-5h0m-2-6h0m1-6h0m0-7h0m1-4h0m0-8h0m-1-5h0m0-7h0m0-6h0m-1-5h0m2-6h0m0-6h0m-1-5h0m0-7h0m0-6h0m1-5h0m39 148h0m-1-6h0m1-5h0m-2-6h0m0-5h0m1-7h0m0-6h0m0-6h0m-1-13h0m1-5h0m-1-7h0m2-5h0m-2-5h0m2-7h0m0-6h0m-2-7h0m0-5h0m1-6h0m-1-7h0m0-5h0m2-6h0m-2-6h0m0-7h0m1-6h0m0-6h0m0-5h0m0-6h0m0-7h0m0-6h0m-1-5h0m2-6h0m-1-7h0m0-5h0m1-6h0m-2-5h0m0-1h0m9 210h0m1-6h0m-2-6h0m0-6h0m0-7h0m0-5h0m2-43h0m0-4h0m36 77h0m0-5h0m0-7h0m0-6h0m1-6h0m1-7h0m-1-4h0m0-8h0m1-5h0m-1-6h0m-1-30h0m0-6h0m0-5h0m1-7h0m1-7h0m0-6h0m-2-6h0m1-5h0m-1-5h0m2-7h0m0-4h0m11 142h0m-1-6h0m0-5h0m0-7h0m0-6h0m1-7h0m-1-6h0m1-5h0m-1-7h0m0-6h0m1-6h0m0-24h0m0-5h0m0-5h0m0-7h0m0-6h0m-1-7h0m1-5h0m0-5h0m-1-8h0m1-6h0m-1-6h0m0-5h0m0-6h0m1-6h0m0-6h0m0-6h0m-1-6h0m1-7h0m-1-6h0m1-6h0m-1-6h0m0-4h0m0-6h0m1-7h0m-1-6h0m1-7h0m0-6h0m-1 0h0"/><path id="q5_0" d="M989 352h0m0 8h0m-1 7h0m-1 22h0m1 18h0m0 8h0m10-4h0m-11 26h0m-47-7h0m73 1h0m17-3h0m-44 13h0m-22 26h0m-5 15h0m2 27h0m26-30h0m12 12h0m14-3h0m1 14h0m28-17h0m0 21h0m0 17h0m-50 1h0m8 4h0m-6 12h0m32-10h0m-96 52h0m6-2h0m73-30h0m5 10h0m5 6h0m-21-8h0m43 16h0m13 18h0m-4 28h0m4 8h0m-30 16h0m1-114h0m16-6h0m-68 166h0m5 50h0"/><linearGradient id="r5_1" gradientUnits="userSpaceOnUse" x1="0" y1="1610.8" x2="0" y2="1171.6"><stop offset="0.0000" stop-color="#780a3c"/><stop offset="0.2500" stop-color="#780a3c"/><stop offset="0.3333" stop-color="#700a38"/><stop offset="0.4000" stop-color="#5a0828"/><stop offset="0.5000" stop-color="#44061a"/><stop offset="0.6667" stop-color="#380614"/><stop offset="1.0000" stop-color="#320612"/></linearGradient><linearGradient id="f5_1" gradientUnits="userSpaceOnUse" x1="0" y1="1610.8" x2="0" y2="1171.6"><stop offset="0.0000" stop-color="#e0197c"/><stop offset="0.2500" stop-color="#e0197c"/><stop offset="0.3333" stop-color="#c01464"/><stop offset="0.4000" stop-color="#96104a"/><stop offset="0.5000" stop-color="#660c26"/><stop offset="0.6667" stop-color="#4e0a1c"/><stop offset="1.0000" stop-color="#480a1a"/></linearGradient><path id="p5_1" d="M926 1610h0m0-5h0m1-3h0m-1-6h0m0-4h0m0-5h0m0-5h0m0-5h0m0-5h0m1-4h0m0-5h0m0-5h0m-1-5h0m0-5h0m1-4h0m0-5h0m-1-6h0m0-4h0m1-4h0m0-5h0m-1-6h0m0-2h0m5 99h0m-1-5h0m1-5h0m-1-4h0m1-5h0m0-6h0m0-4h0m-1-5h0m0-4h0m0-5h0m1-6h0m-1-4h0m0-5h0m0-4h0m1-5h0m-1-5h0m-1-5h0m1-4h0m-1-5h0m0-5h0m1-5h0m1-5h0m-1-5h0m0-5h0m-1-4h0m2-3h0m3 118h0m0-5h0m1-5h0m-1-5h0m1-5h0m0-5h0m0-4h0m-1-4h0m1-5h0m-1-5h0m0-6h0m0-3h0m-1-5h0m1-5h0m0-6h0m1-5h0m0-4h0m-2-5h0m2-15h0m0-4h0m-1-4h0m0-5h0m0-5h0m0-2h0m5 117h0m-1-4h0m0-5h0m1-5h0m0-6h0m0-4h0m-2-6h0m1-4h0m1-4h0m0-6h0m0-5h0m-1-4h0m0-4h0m1-5h0m-1-5h0m0-5h0m0-6h0m1-18h0m0-5h0m-1-5h0m0-5h0m1-5h0m0-2h0m2 118h0m2-5h0m0-5h0m0-5h0m-1-5h0m1-5h0m0-4h0m-2-5h0m1-5h0m1-4h0m-1-5h0m-1-6h0m2-3h0m0-5h0m0-5h0m-1-5h0m1-4h0m0-21h0m-1-5h0m0-3h0m1-6h0m-1-4h0m1-5h0m-2-5h0m1-5h0m0-5h0m0-5h0m0-5h0m1-5h0m-1-5h0m0-5h0m1-5h0m-1-5h0m0-11h0m1-3h0m4 184h0m-1-5h0m0-4h0m0-6h0m0-5h0m0-5h0m1-4h0m-2-5h0m2-5h0m0-4h0m0-5h0m-2-5h0m2-6h0m0-4h0m-1-4h0m0-5h0m-1-4h0m1-6h0m1-15h0m-1-3h0m1-6h0m0-5h0m-2-4h0m1-6h0m1-3h0m-2-5h0m1-6h0m-1-6h0m2-3h0m-2-7h0m0-4h0m1-6h0m1-5h0m-1-19h0m5 185h0m-1-6h0m1-4h0m-1-5h0m1-5h0m-1-4h0m1-5h0m-1-5h0m0-5h0m-1-4h0m1-6h0m0-5h0m1-4h0m-1-4h0m1-5h0m-1-5h0m1-5h0m-1-5h0m0-4h0m0-6h0m1-5h0m-1-5h0m0-4h0m0-5h0m0-5h0m0-4h0m0-4h0m0-5h0m-1-6h0m0-5h0m1-5h0m0-4h0m0-6h0m-1-5h0m2-5h0m-1-20h0m5 184h0m-1-4h0m1-5h0m0-5h0m-1-5h0m0-3h0m0-6h0m1-4h0m-1-6h0m1-4h0m-1-5h0m0-5h0m1-5h0m0-5h0m0-5h0m-1-5h0m1-3h0m-1-6h0m1-5h0m-1-5h0m1-4h0m-1-5h0m1-5h0m-1-4h0m1-5h0m-1-5h0m0-5h0m1-4h0m-1-5h0m0-7h0m0-4h0m1-6h0m-1-4h0m1-4h0m0-7h0m0-18h0m4 184h0m0-5h0m-1-4h0m1-6h0m-1-4h0m0-5h0m1-5h0m-1-5h0m1-5h0m0-4h0m-1-5h0m0-6h0m0-5h0m0-3h0m1-6h0m-1-4h0m0-6h0m1-4h0m-1-5h0m1-5h0m-1-4h0m-1-5h0m0-4h0m2-6h0m0-5h0m-1-4h0m1-6h0m-2-4h0m2-4h0m-1-7h0m1-4h0m0-4h0m0-6h0m0-5h0m-1-5h0m1-20h0m4 184h0m-1-4h0m1-4h0m0-5h0m0-6h0m-1-4h0m1-5h0m0-5h0m-1-5h0m0-4h0m0-5h0m-1-5h0m1-4h0m0-6h0m1-5h0m0-4h0m-1-5h0m1-5h0m-1-4h0m0-6h0m0-4h0m-1-5h0m1-5h0m1-4h0m-2-5h0m2-5h0m0-5h0m-1-5h0m0-5h0m0-5h0m1-4h0m-2-5h0m2-6h0m-2-5h0m1-6h0m0-4h0m1-5h0m0-5h0m-1-6h0m4 186h0m0-6h0m0-5h0m0-3h0m0-5h0m1-6h0m0-4h0m-2-4h0m2-6h0m0-4h0m0-6h0m-2-4h0m2-5h0m-2-4h0m1-6h0m1-4h0m-1-5h0m1-5h0m0-5h0m0-5h0m-1-5h0m0-4h0m0-4h0m-1-6h0m1-5h0m0-4h0m1-5h0m-1-4h0m1-6h0m-1-5h0m1-5h0m0-5h0m0-4h0m0-6h0m-1-6h0m0-4h0m0-1h0m5 171h0m0-5h0m0-5h0m0-5h0m0-5h0m-1-5h0m0-33h0m0-3h0m3 61h0m2-5h0m-1-5h0m1-4h0m-1-6h0m-1-4h0m0-34h0m1-3h0m4 61h0m1-5h0m-1-4h0m1-6h0m-1-4h0m1-6h0m-1-33h0m1-3h0m3 61h0m0-5h0m1-5h0m-1-5h0m0-5h0m1-4h0m0-29h0m0-5h0m0-2h0m4 60h0m0-5h0m0-5h0m0-4h0m0-5h0m-1-6h0m0-4h0m-1-5h0m1-5h0m0-4h0m1-4h0m-1-7h0m1-4h0m0-4h0m-1-6h0m0-4h0m0-4h0m1-6h0m0-4h0m-1-5h0m1-5h0m-1-5h0m1-5h0m-1-5h0m0-4h0m0-5h0m0-5h0m0-5h0m1-5h0m-1-5h0m0-4h0m1-6h0m-1-5h0m0-2h0m5 157h0m0-5h0m0-4h0m-1-6h0m-1-4h0m1-5h0m1-5h0m-1-5h0m-1-4h0m0-5h0m2-6h0m-1-4h0m0-5h0m1-5h0m-1-5h0m0-18h0m-1-5h0m1-5h0m1-6h0m-1-4h0m0-5h0m0-4h0m0-6h0m0-3h0m0-7h0m0-4h0m0-5h0m1-4h0m-2-7h0m2-3h0m0-3h0m4 156h0m0-4h0m0-4h0m-1-5h0m1-5h0m0-5h0m-1-5h0m0-5h0m-1-5h0m2-5h0m-1-3h0m0-6h0m0-5h0m1-4h0m-2-24h0m2-20h0m-1-4h0m0-5h0m1-6h0m-1-5h0m0-4h0m1-4h0m0-5h0m0-6h0m0-6h0m-1-3h0m1-3h0m3 157h0m1-5h0m-1-4h0m0-5h0m1-5h0m-1-5h0m1-5h0m-2-4h0m2-5h0m0-6h0m0-4h0m0-5h0m0-6h0m-1-4h0m1-5h0m-1-37h0m0-5h0m0-6h0m1-4h0m-1-5h0m0-4h0m0-7h0m-1-4h0m2-5h0m-1-5h0m0-6h0m0 0h0m3 156h0m1-5h0m0-5h0m0-4h0m0-5h0m-1-4h0m1-6h0m1-5h0m0-5h0m-1-4h0m0-6h0m1-3h0m-1-5h0m1-6h0m-1-4h0m1-14h0m-1-5h0m1-20h0m-1-5h0m-1-4h0m0-6h0m1-3h0m1-32h0m0-1h0m3 157h0m-1-5h0m2-6h0m-1-4h0m0-5h0m1-4h0m-1-5h0m1-6h0m-1-4h0m1-5h0m0-4h0m-1-5h0m-1-5h0m1-4h0m0-6h0m0-4h0m0-5h0m0-6h0m-1-3h0m2-15h0m0-5h0m-2-5h0m2-4h0m0-5h0m0-35h0m-1-1h0m5 156h0m-1-6h0m1-5h0m-1-4h0m0-4h0m-1-5h0m1-5h0m-1-4h0m1-6h0m0-4h0m1-5h0m-2-14h0m0-6h0m0-4h0m2-6h0m-1-3h0m0-6h0m1-4h0m-1-5h0m1-5h0m-2-5h0m2-4h0m-1-3h0m4 113h0m-1-4h0m2-7h0m-2-4h0m1-4h0m1-5h0m0-5h0m-1-5h0m0-5h0m1-4h0m-1-25h0m1-4h0m0-4h0m-1-6h0m1-4h0m0-6h0m0-4h0m0-5h0m-1-4h0m-1-6h0m1-1h0m4 112h0m-1-5h0m1-4h0m0-5h0m1-6h0m-1-4h0m1-5h0m-1-5h0m0-4h0m1-6h0m0-24h0m0-4h0m0-5h0m-1-5h0m1-4h0m-1-6h0m1-5h0m-1-3h0m0-6h0m0-5h0m1-1h0m4 111h0m0-4h0m-2-5h0m2-4h0m-1-5h0m-1-6h0m2-4h0m-1-5h0m0-4h0m0-6h0m1-4h0m-1-20h0m0-4h0m0-5h0m1-4h0m-1-6h0m-1-4h0m2-5h0m0-5h0m-1-5h0m0-4h0m-1-5h0m0-6h0m1-4h0m1-5h0m-1-5h0m0-6h0m-1-5h0m1-4h0m1-5h0m-2-6h0m2-4h0m0-6h0m-1-5h0m0-5h0m0-6h0m1-3h0m0-7h0m0 0h0m3 196h0m0-4h0m0-5h0m0-5h0m0-4h0m1-5h0m0-5h0m-1-4h0m1-6h0m-1-4h0m0-5h0m1-19h0m-1-6h0m1-3h0m0-6h0m-1-4h0m-1-5h0m2-4h0m-2-6h0m1-5h0m1-5h0m-1-4h0m1-6h0m-1-4h0m0-5h0m-1-4h0m1-6h0m1-4h0m-1-6h0m1-6h0m0-4h0m-1-6h0m1-5h0m-1-5h0m1-4h0m-2-7h0m1-5h0m0-4h0m1-1h0m4 197h0m-1-5h0m1-5h0m-1-5h0m1-4h0m0-5h0m-1-5h0m1-5h0m-1-5h0m0-4h0m0-5h0m-1-19h0m1-4h0m0-7h0m1-4h0m0-5h0m-1-2h0m4 89h0m-1-5h0m1-5h0m0-5h0m0-4h0m1-5h0m-1-4h0m0-6h0m-1-4h0m2-6h0m0-4h0m0-4h0m-1-10h0m0-6h0m-1-4h0m2-5h0m0-4h0m0-5h0m-1-4h0m5 90h0m0-6h0m0-3h0m-1-6h0m0-5h0m0-5h0m0-5h0m1-4h0m-1-5h0m0-4h0m1-5h0m0-5h0m0-4h0m0-6h0m-1-5h0m1-5h0m0-4h0m-1-4h0m0-6h0m0-2h0m4 89h0m1-4h0m0-6h0m-1-5h0m1-4h0m0-5h0m0-4h0m-1-5h0m1-6h0m0-5h0m-1-4h0m0-4h0m0-6h0m0-4h0m0-6h0m0-4h0m0-6h0m1-4h0m-1-4h0m0-3h0m3 89h0m2-5h0m0-4h0m-2-5h0m0-6h0m1-4h0m-1-5h0m1-5h0m0-5h0m1-5h0m-1-4h0m0-4h0m0-6h0m0-5h0m1-5h0m0-4h0m-1-4h0m1-7h0m-1-3h0m0-4h0m5 90h0m-1-5h0m1-4h0m-1-5h0m0-5h0m0-5h0m1-4h0m-1-6h0m1-5h0m0-4h0m-1-5h0m0-5h0m0-4h0m1-6h0m0-4h0m-1-5h0m0-5h0m1-5h0m-1-4h0m-1-4h0m-120 90h0m0-4h0m-1-5h0m1-6h0m0-5h0m0-5h0m0-5h0m1-4h0m-1-4h0m0-6h0m1-4h0m-2-5h0m1-5h0m0-5h0m1-4h0m0-6h0m-1-4h0m0-5h0m0-5h0m-1-5h0m2-4h0m0-5h0m-1-4h0m0-5h0m0-5h0m1-4h0m39 118h0m-1-5h0m1-4h0m-2-4h0m0-5h0m1-5h0m0-5h0m0-5h0m-1-10h0m1-4h0m-1-6h0m2-4h0m-2-4h0m2-5h0m0-5h0m-2-6h0m0-4h0m1-4h0m-1-6h0m0-4h0m2-5h0m-2-5h0m0-5h0m1-5h0m0-5h0m0-4h0m0-4h0m0-7h0m0-4h0m-1-5h0m2-5h0m-1-6h0m0-4h0m1-5h0m-2-5h0m0 0h0m9 170h0m1-5h0m-2-5h0m0-5h0m0-5h0m0-4h0m2-34h0m0-3h0m36 61h0m0-4h0m0-5h0m0-6h0m1-4h0m1-6h0m-1-3h0m0-6h0m1-5h0m-1-4h0m-1-24h0m0-5h0m0-4h0m1-6h0m1-5h0m0-5h0m-2-5h0m1-4h0m-1-4h0m2-5h0m0-3h0m11 113h0m-1-5h0m0-4h0m0-5h0m0-5h0m1-5h0m-1-6h0m1-4h0m-1-5h0m0-5h0m1-5h0m0-19h0m0-4h0m0-4h0m0-6h0m0-5h0m-1-5h0m1-4h0m0-4h0m-1-6h0m1-5h0m-1-5h0m0-4h0m0-5h0m1-4h0m0-5h0m0-5h0m-1-6h0m1-5h0m-1-6h0m1-5h0m-1-5h0m0-4h0m0-5h0m1-6h0m-1-5h0m1-6h0m0-5h0m-1 0h0"/><path id="q5_1" d="M989 1249.2h0m0 7.7h0m-1 6.7h0m-1 20.9h0m1 16.9h0m0 7.5h0m10-3.8h0m-11 24.2h0m-47-6.5h0m73 0.9h0m17-2.7h0m-44 11.9h0m-22 23.8h0m-5 13.5h0m2 24.2h0m26-26.9h0m12 10.8h0m14-2.7h0m1 12.5h0m28-15.2h0m0 18.8h0m0 15h0m-50 0.9h0m8 3.5h0m-6 10.5h0m32-8.7h0m-96 44.9h0m6-1.7h0m73-25.8h0m5 8.7h0m5 5.1h0m-21-6.9h0m43 13.8h0m13 15.3h0m-4 23.1h0m4 6.4h0m-30 12.8h0m1-95.7h0m16-5.3h0m-68 137.8h0m5 40h0"/><linearGradient id="r6_0" gradientUnits="userSpaceOnUse" x1="0" y1="771.8" x2="0" y2="222.8"><stop offset="0.0000" stop-color="#8e300a"/><stop offset="0.2500" stop-color="#8e300a"/><stop offset="0.3333" stop-color="#94340c"/><stop offset="0.4000" stop-color="#80280a"/><stop offset="0.5000" stop-color="#641a08"/><stop offset="0.6667" stop-color="#500e0a"/><stop offset="1.0000" stop-color="#480c0a"/></linearGradient><linearGradient id="f6_0" gradientUnits="userSpaceOnUse" x1="0" y1="771.8" x2="0" y2="222.8"><stop offset="0.0000" stop-color="#eb6e1e"/><stop offset="0.2500" stop-color="#eb6e1e"/><stop offset="0.3333" stop-color="#dc5e18"/><stop offset="0.4000" stop-color="#c84a14"/><stop offset="0.5000" stop-color="#a0300f"/><stop offset="0.6667" stop-color="#7e1a12"/><stop offset="1.0000" stop-color="#761614"/></linearGradient><path id="p6_0" d="M1077 772h0m0-7h0m0-6h0m0-6h0m-1-6h0m1-5h0m-1-6h0m0-6h0m0-6h0m1-6h0m-1-6h0m0-5h0m0-7h0m1-6h0m-1-7h0m1-6h0m0-6h0m0-5h0m-1-5h0m1-7h0m-1-7h0m0-6h0m1-5h0m0-6h0m-1-5h0m1-6h0m-1-6h0m0-7h0m0-6h0m1-6h0m0-7h0m0-6h0m0-5h0m0-7h0m0-5h0m-1-5h0m0-6h0m0-7h0m0-2h0m4 223h0m0-5h0m0-5h0m1-7h0m-1-6h0m1-6h0m-1-5h0m0-6h0m-1-7h0m1-7h0m-1-4h0m2-7h0m-1-7h0m0-4h0m1-8h0m0-4h0m-1-8h0m1-5h0m-2-6h0m0-7h0m2-5h0m-1-7h0m0-6h0m0-6h0m1-6h0m-1-5h0m0-7h0m0-6h0m1-6h0m0-5h0m-1-7h0m0-6h0m0-4h0m0-6h0m0-8h0m-1-5h0m2-7h0m-1-6h0m1-1h0m3 224h0m0-7h0m1-5h0m-2-6h0m2-6h0m0-5h0m-1-7h0m0-5h0m0-6h0m1-8h0m0-6h0m-1-5h0m1-7h0m0-5h0m0-7h0m-1-6h0m1-5h0m-1-6h0m1-6h0m0-6h0m0-7h0m-2-5h0m1-6h0m1-5h0m-2-7h0m1-7h0m0-5h0m0-6h0m0-6h0m1-7h0m-1-6h0m0-6h0m1-5h0m0-7h0m0-4h0m-1-7h0m1-7h0m-1-4h0m1-3h0m3 224h0m1-7h0m-1-5h0m-1-6h0m1-6h0m0-7h0m0-6h0m0-4h0m0-20h0m1-6h0m0-5h0m-1-6h0m1-6h0m0-6h0m-1-6h0m0-7h0m-1-5h0m2-7h0m0-6h0m0-4h0m-1-7h0m1-6h0m0-7h0m-1-6h0m1-5h0m-1-6h0m0-6h0m0-6h0m0-7h0m0-6h0m1-4h0m3 191h0m0-7h0m-1-6h0m2-6h0m-1-5h0m0-6h0m0-7h0m1-5h0m-1-24h0m-1-7h0m2-6h0m-1-6h0m0-5h0m0-6h0m0-5h0m0-8h0m1-6h0m0-5h0m0-6h0m0-6h0m0-6h0m0-6h0m-1-6h0m1-5h0m-1-6h0m1-7h0m-1-7h0m0-5h0m0-7h0m0-4h0m4 190h0m0-6h0m0-6h0m1-5h0m-1-6h0m-1-6h0m2-7h0m-1-5h0m1-24h0m0-7h0m-1-6h0m0-4h0m1-7h0m-1-7h0m0-6h0m0-5h0m0-6h0m0-6h0m0-6h0m1-13h0m-1-6h0m0-5h0m1-6h0m-1-2h0m5 158h0m-1-5h0m1-6h0m0-7h0m0-5h0m-1-8h0m0-5h0m0-7h0m1-4h0m0-12h0m-1-7h0m1-6h0m0-7h0m0-6h0m-1-6h0m0-6h0m1-5h0m0-7h0m0-6h0m-2-5h0m2-24h0m-1-6h0m1-6h0m-1-2h0m3 158h0m1-7h0m0-4h0m-1-8h0m1-5h0m0-5h0m1-8h0m-1-5h0m1-7h0m0-5h0m0-5h0m-1-7h0m0-6h0m0-5h0m0-7h0m0-7h0m1-6h0m0-6h0m-1-6h0m1-5h0m-1-30h0m0-7h0m1-5h0m0-2h0m3 157h0m1-5h0m0-7h0m-1-5h0m1-7h0m0-6h0m-1-5h0m0-7h0m-1-4h0m2-7h0m-1-7h0m0-6h0m0-6h0m0-5h0m0-5h0m0-8h0m4 91h0m0-6h0m0-6h0m1-7h0m-1-5h0m0-6h0m-1-5h0m0-8h0m2-5h0m-1-6h0m1-6h0m-1-5h0m0-8h0m1-5h0m0-6h0m4 84h0m0-7h0m-1-4h0m1-7h0m0-7h0m0-6h0m-1-6h0m0-6h0m0-5h0m1-5h0m0-8h0m0-24h0m3 84h0m0-6h0m1-5h0m0-5h0m0-7h0m0-5h0m0-7h0m0-5h0m-1-8h0m1-5h0m-1-6h0m0-24h0m1-7h0m-1-24h0m0-5h0m0-6h0m0-6h0m1-6h0m0-7h0m0-6h0m-1-5h0m1-7h0m0-6h0m0-6h0m0-6h0m0-1h0m3 182h0m1-6h0m-1-7h0m1-5h0m0-6h0m-2-6h0m1-6h0m-1-13h0m1-5h0m0-7h0m1-22h0m0-6h0m-1-7h0m0-7h0m0-5h0m0-7h0m1-5h0m-2-7h0m0-5h0m2-7h0m-1-5h0m1-6h0m0-7h0m0-5h0m-1-7h0m1-5h0m-1-5h0m1-3h0m2 182h0m1-6h0m0-6h0m1-66h0m-1-6h0m0-6h0m0-7h0m0-5h0m0-6h0m0-5h0m-1-8h0m2-5h0m-1-6h0m0-7h0m0-6h0m0-5h0m1-5h0m3 155h0m1-6h0m0-72h0m-1-5h0m0-8h0m0-5h0m1-7h0m0-5h0m-1-7h0m1-6h0m-1-6h0m0-4h0m1-7h0m0-6h0m0-6h0m0-4h0m3 154h0m0-7h0m1-71h0m-1-5h0m0-7h0m0-7h0m0-6h0m1-5h0m-1-7h0m1-5h0m-1-6h0m0-6h0m-1-7h0m1-6h0m0-6h0m0-3h0m5 154h0m0-6h0m0-6h0m-2-6h0m1-43h0m-1-24h0m2-5h0m-1-7h0m-1 0h0m6 97h0m-1-6h0m0-6h0m-1-6h0m2-7h0m-1-5h0m1-6h0m-1-6h0m0-6h0m0-6h0m1-37h0m-1-5h0m0-3h0m4 99h0m0-6h0m1-6h0m0-6h0m-1-6h0m0-7h0m0-5h0m0-7h0m0-4h0m0-7h0m0-36h0m0-6h0m0-2h0m5 98h0m-2-5h0m1-6h0m1-8h0m-1-4h0m1-7h0m-2-7h0m1-6h0m0-5h0m0-6h0m1-5h0m-2-24h0m0-7h0m2-6h0m-2-2h0m6 98h0m-2-6h0m1-7h0m0-6h0m0-4h0m0-6h0m-1-7h0m1-7h0m0-5h0m1-7h0m0-5h0m0-25h0m0-5h0m0-5h0m-1-4h0m5 99h0m-2-6h0m2-6h0m-1-5h0m-1-7h0m1-5h0m0-8h0m1-4h0m-1-6h0m0-7h0m0-35h0m0-7h0m1-6h0m0-6h0m-1-6h0m1-6h0m-1-5h0m1-7h0m-1-6h0m-1-6h0m1-6h0m0-6h0m0-3h0m4 159h0m1-7h0m0-5h0m-1-7h0m0-5h0m0-7h0m1-4h0m0-6h0m0-6h0m0-7h0m-1-6h0m1-23h0m0-7h0m0-4h0m4 94h0m-1-6h0m1-6h0m-1-7h0m1-5h0m0-6h0m-2-6h0m2-7h0m-2-4h0m1-7h0m1-7h0m-1-6h0m1-4h0m0-19h0m-2-4h0m6 94h0m-1-6h0m0-6h0m0-7h0m1-5h0m-1-7h0m0-5h0m0-6h0m0-6h0m0-7h0m1-6h0m0-4h0m-1-28h0m4 93h0m1-7h0m-1-6h0m0-5h0m1-7h0m0-5h0m0-7h0m-1-6h0m1-5h0m-1-5h0m1-7h0m-1-6h0m-1-28h0m5 94h0m1-6h0m0-7h0m0-5h0m-1-7h0m0-5h0m0-6h0m1-6h0m0-6h0m-2-6h0m2-6h0m-1-5h0m1-7h0m-2-22h0m6 94h0m0-5h0m0-8h0m-1-5h0m0-5h0m1-6h0m-1-7h0m0-7h0m0-5h0m1-7h0m-1-5h0m0-7h0m0-6h0m1-17h0m-1-3h0m4 93h0m1-7h0m-1-5h0m1-7h0m-2-6h0m2-5h0m0-6h0m0-6h0m-1-6h0m1-5h0m0-7h0m-1-7h0m1-6h0m-1-6h0m0-6h0m1-6h0m0-2h0m3 93h0m1-7h0m-1-6h0m0-6h0m0-4h0m0-6h0m0-8h0m0-5h0m1-7h0m-1-6h0m0-5h0m0-6h0m1-6h0m-1-6h0m0-7h0m0-5h0m1-6h0m0-7h0m-1-6h0m1-6h0m-1-5h0m1-6h0m-1-13h0m0-5h0m-1-5h0m5 149h0m0-6h0m0-6h0m1-6h0m0-6h0m-1-7h0m0-5h0m1-6h0m-1-6h0m-1-6h0m2-7h0m-2-5h0m2-6h0m-1-5h0m1-6h0m-1-8h0m0-4h0m1-7h0m-2-6h0m2-7h0m-1-6h0m5 121h0m0-6h0m-1-7h0m-1-5h0m2-6h0m-1-7h0m1-5h0m-1-7h0m0-5h0m0-6h0m1-6h0m-1-7h0m1-6h0m0-5h0m0-6h0m0-6h0m0-6h0m-1-6h0m0-6h0m0-6h0m-1-7h0m4 120h0m2-6h0m0-5h0m-1-6h0m1-6h0m0-6h0m0-7h0m-1-6h0m-1-5h0m1-7h0m0-6h0m1-5h0m-1-6h0m0-6h0m-1-5h0m1-7h0m1-7h0m-2-6h0m1-6h0m0-5h0m0-6h0m4 119h0m-1-5h0m1-6h0m1-7h0m0-6h0m-1-6h0m1-4h0m-1-6h0m-1-7h0m1-7h0m0-6h0m0-5h0m0-5h0m1-8h0m-1-6h0m0-6h0m0-6h0m0-6h0m1-5h0m-1-6h0m-1-7h0m-126 121h0m1-6h0m0-6h0m0-6h0m-1-7h0m1-4h0m-1-6h0m1-8h0m0-5h0m0-7h0m-1-6h0m0-5h0m0-6h0m0-7h0m0-5h0m0-5h0m1-7h0m-1-6h0m1-6h0m-1-7h0m0-4h0m0-7h0m1-7h0m0-6h0m-1-6h0m1-6h0m0-5h0m-1-7h0m1-5h0m-1-7h0m0-6h0m0-5h0m1-6h0m0-6h0m0-7h0m-1-5h0m0-5h0m0-8h0m0 0h0m13 222h0m-1-5h0m1-6h0m-1-6h0m0-5h0m0-7h0m1-6h0m0-31h0m-1-6h0m0-5h0m1-6h0m-1-5h0m0-8h0m1-5h0m-1-6h0m0-7h0m0-5h0m0-6h0m0-6h0m1-6h0m0-7h0m0-6h0m-1-6h0m1-4h0m-1-7h0m0-6h0m0-5h0m0-8h0m1-4h0m10 191h0m-1-6h0m1-6h0m-1-6h0m0-6h0m1-6h0m-1-6h0m0-7h0m0-6h0m1-6h0m-1-4h0m0-7h0m1-6h0m-1-7h0m1-5h0m-1-6h0m0-6h0m1-5h0m-1-7h0m1-5h0m-1-6h0m1-25h0m-1-5h0m0-8h0m0 0h0m10 157h0m1-7h0m0-6h0m-1-4h0m0-8h0m-1-5h0m1-5h0m0-8h0m0-5h0m0-7h0m0-5h0m0-18h0m0-6h0m10 83h0m-1-5h0m0-7h0m0-5h0m0-6h0m1-7h0m-1-6h0m0-4h0m0-6h0m0-8h0m0-5h0m-1-24h0m0-7h0m2-5h0m-1-19h0m-1-5h0m1-5h0m-1-7h0m1-7h0m0-6h0m-1-5h0m1-7h0m1-5h0m-1-7h0m-1-6h0m0-5h0m1-1h0m26 181h0m1-7h0m-1-6h0m1-5h0m-1-7h0m0-5h0m0-5h0m1-8h0m-1-5h0m0-6h0m0-36h0m1-7h0m-1 0h0m13 97h0m0-7h0m-1-5h0m0-7h0m1-5h0m0-7h0m-1-6h0m1-6h0m-1-5h0m0-6h0m0-6h0m0-24h0m1-7h0m-1-5h0m1-6h0m0-6h0m0-6h0m0-7h0m-1-4h0m0-7h0m1-5h0m-1-8h0m0-4h0m1-8h0m-1-2h0m16 159h0m0-6h0m0-6h0m0-6h0m-1-7h0m2-6h0m-1-4h0m0-8h0m1-5h0m-1-7h0m-1-6h0m2-5h0m-2-27h0m-89-205h0m0 8h0m0 10h0m1 14h0m0 10h0m11 10h0m-20 6h0m8-6h0m114 42h0m-7 14h0m18 0h0m-19 14h0m16 0h0m-7 11h0m-97-50h0m6 13h0m-36-8h0m-1 20h0"/><path id="q6_0" d="M1086 372h0m0 18h0m0 18h0m0 15h0m0 28h0m83 3h0m41-42h0m0 50h0m-57 9h0m-28 21h0m75 12h0m-48 37h0m-48 51h0m23-47h0m0 8h0m13 21h0m31 11h0m-68 8h0m91-63h0m6 6h0m-24 92h0"/><linearGradient id="r6_1" gradientUnits="userSpaceOnUse" x1="0" y1="1610.8" x2="0" y2="1171.6"><stop offset="0.0000" stop-color="#8e300a"/><stop offset="0.2500" stop-color="#8e300a"/><stop offset="0.3333" stop-color="#94340c"/><stop offset="0.4000" stop-color="#80280a"/><stop offset="0.5000" stop-color="#641a08"/><stop offset="0.6667" stop-color="#500e0a"/><stop offset="1.0000" stop-color="#480c0a"/></linearGradient><linearGradient id="f6_1" gradientUnits="userSpaceOnUse" x1="0" y1="1610.8" x2="0" y2="1171.6"><stop offset="0.0000" stop-color="#eb6e1e"/><stop offset="0.2500" stop-color="#eb6e1e"/><stop offset="0.3333" stop-color="#dc5e18"/><stop offset="0.4000" stop-color="#c84a14"/><stop offset="0.5000" stop-color="#a0300f"/><stop offset="0.6667" stop-color="#7e1a12"/><stop offset="1.0000" stop-color="#761614"/></linearGradient><path id="p6_1" d="M1077 1611h0m0-5h0m0-5h0m0-5h0m-1-5h0m1-4h0m-1-5h0m0-5h0m0-4h0m1-5h0m-1-5h0m0-4h0m0-6h0m1-4h0m-1-6h0m1-5h0m0-5h0m0-3h0m-1-5h0m1-5h0m-1-6h0m0-5h0m1-3h0m0-6h0m-1-4h0m1-4h0m-1-5h0m0-5h0m0-6h0m1-4h0m0-7h0m0-5h0m0-4h0m0-6h0m0-4h0m-1-5h0m0-5h0m0-6h0m0-1h0m4 182h0m0-5h0m0-4h0m1-6h0m-1-5h0m1-4h0m-1-4h0m0-5h0m-1-5h0m1-6h0m-1-4h0m2-5h0m-1-5h0m0-4h0m1-6h0m0-3h0m-1-7h0m1-4h0m-2-5h0m0-5h0m2-4h0m-1-6h0m0-4h0m0-5h0m1-5h0m-1-4h0m0-6h0m0-4h0m1-5h0m0-4h0m-1-7h0m0-5h0m0-3h0m0-5h0m0-7h0m-1-4h0m2-6h0m-1-5h0m1-2h0m3 183h0m0-6h0m1-4h0m-2-5h0m2-4h0m0-4h0m-1-6h0m0-4h0m0-5h0m1-6h0m0-5h0m-1-4h0m1-5h0m0-5h0m0-5h0m-1-5h0m1-4h0m-1-5h0m1-5h0m0-4h0m0-5h0m-2-5h0m1-4h0m1-5h0m-2-5h0m1-5h0m0-4h0m0-6h0m0-5h0m1-5h0m-1-5h0m0-6h0m1-4h0m0-6h0m0-4h0m-1-6h0m1-5h0m-1-4h0m1-2h0m3 182h0m1-5h0m-1-5h0m-1-5h0m1-4h0m0-5h0m0-5h0m0-4h0m0-16h0m1-5h0m0-3h0m-1-6h0m1-4h0m0-5h0m-1-5h0m0-5h0m-1-5h0m2-5h0m0-5h0m0-3h0m-1-5h0m1-6h0m0-5h0m-1-5h0m1-4h0m-1-5h0m0-5h0m0-5h0m0-5h0m0-6h0m1-3h0m3 154h0m0-6h0m-1-5h0m2-4h0m-1-4h0m0-5h0m0-5h0m1-5h0m-1-19h0m-1-5h0m2-5h0m-1-5h0m0-4h0m0-5h0m0-4h0m0-6h0m1-5h0m0-4h0m0-5h0m0-4h0m0-5h0m0-5h0m-1-5h0m1-4h0m-1-5h0m1-5h0m-1-6h0m0-5h0m0-5h0m0-4h0m4 154h0m0-6h0m0-4h0m1-5h0m-1-4h0m-1-5h0m2-6h0m-1-3h0m1-20h0m0-5h0m-1-5h0m0-4h0m1-5h0m-1-5h0m0-5h0m0-4h0m0-5h0m0-5h0m0-4h0m1-11h0m-1-5h0m0-4h0m1-5h0m-1-2h0m5 127h0m-1-4h0m1-5h0m0-5h0m0-5h0m-1-5h0m0-5h0m0-5h0m1-4h0m0-10h0m-1-5h0m1-4h0m0-6h0m0-5h0m-1-5h0m0-5h0m1-4h0m0-5h0m0-5h0m-2-4h0m2-19h0m-1-5h0m1-5h0m-1-1h0m3 126h0m1-5h0m0-4h0m-1-6h0m1-5h0m0-4h0m1-5h0m-1-5h0m1-5h0m0-5h0m0-3h0m-1-6h0m0-5h0m0-4h0m0-5h0m0-6h0m1-5h0m0-5h0m-1-4h0m1-4h0m-1-24h0m0-6h0m1-4h0m0-2h0m3 126h0m1-4h0m0-6h0m-1-4h0m1-5h0m0-4h0m-1-5h0m0-6h0m-1-3h0m2-5h0m-1-6h0m0-5h0m0-4h0m0-4h0m0-5h0m0-6h0m4 73h0m0-5h0m0-5h0m1-5h0m-1-5h0m0-4h0m-1-4h0m0-6h0m2-5h0m-1-4h0m1-5h0m-1-4h0m0-6h0m1-4h0m0-6h0m4 68h0m0-6h0m-1-3h0m1-5h0m0-6h0m0-5h0m-1-5h0m0-4h0m0-4h0m1-5h0m0-6h0m0-19h0m3 67h0m0-4h0m1-5h0m0-4h0m0-5h0m0-5h0m0-5h0m0-4h0m-1-6h0m1-4h0m-1-5h0m0-19h0m1-6h0m-1-19h0m0-4h0m0-5h0m0-5h0m1-5h0m0-5h0m0-5h0m-1-4h0m1-6h0m0-4h0m0-5h0m0-5h0m0-1h0m3 146h0m1-5h0m-1-5h0m1-4h0m0-5h0m-2-5h0m1-5h0m-1-10h0m1-5h0m0-5h0m1-18h0m0-5h0m-1-5h0m0-5h0m0-4h0m0-6h0m1-4h0m-2-5h0m0-5h0m2-5h0m-1-4h0m1-5h0m0-6h0m0-3h0m-1-7h0m1-3h0m-1-5h0m1-2h0m2 146h0m1-5h0m0-4h0m1-54h0m-1-4h0m0-5h0m0-5h0m0-4h0m0-6h0m0-4h0m-1-5h0m2-5h0m-1-4h0m0-6h0m0-5h0m0-4h0m1-4h0m3 124h0m1-4h0m0-58h0m-1-5h0m0-6h0m0-4h0m1-6h0m0-3h0m-1-6h0m1-5h0m-1-5h0m0-3h0m1-6h0m0-4h0m0-5h0m0-3h0m3 123h0m0-6h0m1-57h0m-1-4h0m0-5h0m0-6h0m0-4h0m1-4h0m-1-6h0m1-4h0m-1-5h0m0-5h0m-1-5h0m1-5h0m0-5h0m0-2h0m5 123h0m0-5h0m0-5h0m-2-5h0m1-34h0m-1-19h0m2-4h0m-1-5h0m-1-1h0m6 78h0m-1-5h0m0-5h0m-1-4h0m2-6h0m-1-4h0m1-5h0m-1-4h0m0-5h0m0-5h0m1-29h0m-1-5h0m0-2h0m4 79h0m0-5h0m1-5h0m0-4h0m-1-5h0m0-6h0m0-4h0m0-6h0m0-3h0m0-5h0m0-29h0m0-5h0m0-1h0m5 78h0m-2-4h0m1-5h0m1-6h0m-1-4h0m1-5h0m-2-5h0m1-5h0m0-5h0m0-4h0m1-5h0m-2-19h0m0-5h0m2-5h0m-2-2h0m6 79h0m-2-5h0m1-5h0m0-5h0m0-4h0m0-5h0m-1-5h0m1-6h0m0-3h0m1-6h0m0-4h0m0-20h0m0-4h0m0-4h0m-1-3h0m5 79h0m-2-5h0m2-5h0m-1-4h0m-1-6h0m1-3h0m0-6h0m1-4h0m-1-5h0m0-5h0m0-29h0m0-5h0m1-4h0m0-6h0m-1-4h0m1-5h0m-1-4h0m1-6h0m-1-4h0m-1-5h0m1-5h0m0-5h0m0-2h0m4 127h0m1-5h0m0-5h0m-1-5h0m0-5h0m0-5h0m1-3h0m0-5h0m0-5h0m0-6h0m-1-4h0m1-19h0m0-5h0m0-3h0m4 75h0m-1-4h0m1-6h0m-1-5h0m1-4h0m0-5h0m-2-5h0m2-5h0m-2-4h0m1-5h0m1-6h0m-1-5h0m1-3h0m0-15h0m-2-3h0m6 75h0m-1-5h0m0-5h0m0-5h0m1-4h0m-1-6h0m0-4h0m0-5h0m0-5h0m0-5h0m1-5h0m0-3h0m-1-23h0m4 75h0m1-5h0m-1-5h0m0-4h0m1-6h0m0-4h0m0-6h0m-1-4h0m1-4h0m-1-5h0m1-5h0m-1-5h0m-1-22h0m5 75h0m1-5h0m0-5h0m0-5h0m-1-5h0m0-4h0m0-5h0m1-5h0m0-4h0m-2-5h0m2-5h0m-1-4h0m1-6h0m-2-17h0m6 75h0m0-4h0m0-6h0m-1-4h0m0-5h0m1-4h0m-1-6h0m0-5h0m0-4h0m1-6h0m-1-4h0m0-5h0m0-5h0m1-14h0m-1-3h0m4 75h0m1-5h0m-1-5h0m1-5h0m-2-5h0m2-4h0m0-5h0m0-5h0m-1-4h0m1-5h0m0-5h0m-1-5h0m1-5h0m-1-5h0m0-5h0m1-5h0m0-1h0m3 74h0m1-5h0m-1-5h0m0-5h0m0-4h0m0-5h0m0-5h0m0-5h0m1-5h0m-1-5h0m0-4h0m0-5h0m1-5h0m-1-5h0m0-5h0m0-4h0m1-5h0m0-5h0m-1-5h0m1-5h0m-1-4h0m1-5h0m-1-10h0m0-4h0m-1-4h0m5 119h0m0-5h0m0-4h0m1-6h0m0-5h0m-1-5h0m0-4h0m1-5h0m-1-4h0m-1-5h0m2-6h0m-2-4h0m2-5h0m-1-4h0m1-5h0m-1-5h0m0-4h0m1-6h0m-2-4h0m2-6h0m-1-5h0m5 97h0m0-5h0m-1-5h0m-1-5h0m2-4h0m-1-6h0m1-3h0m-1-6h0m0-4h0m0-5h0m1-5h0m-1-6h0m1-4h0m0-4h0m0-5h0m0-5h0m0-4h0m-1-5h0m0-5h0m0-5h0m-1-6h0m4 96h0m2-4h0m0-5h0m-1-5h0m1-5h0m0-4h0m0-6h0m-1-5h0m-1-4h0m1-5h0m0-5h0m1-4h0m-1-5h0m0-5h0m-1-4h0m1-5h0m1-6h0m-2-4h0m1-5h0m0-4h0m0-5h0m4 95h0m-1-4h0m1-5h0m1-5h0m0-5h0m-1-5h0m1-3h0m-1-5h0m-1-5h0m1-6h0m0-5h0m0-4h0m0-4h0m1-6h0m-1-5h0m0-5h0m0-5h0m0-4h0m1-4h0m-1-5h0m-1-6h0m-126 97h0m1-5h0m0-4h0m0-6h0m-1-5h0m1-3h0m-1-5h0m1-6h0m0-4h0m0-6h0m-1-4h0m0-5h0m0-5h0m0-5h0m0-4h0m0-5h0m1-5h0m-1-5h0m1-4h0m-1-6h0m0-3h0m0-6h0m1-5h0m0-5h0m-1-5h0m1-5h0m0-4h0m-1-5h0m1-4h0m-1-6h0m0-5h0m0-5h0m1-5h0m0-5h0m0-6h0m-1-4h0m0-5h0m0-6h0m0-1h0m13 181h0m-1-4h0m1-4h0m-1-5h0m0-5h0m0-5h0m1-5h0m0-25h0m-1-4h0m0-4h0m1-5h0m-1-4h0m0-6h0m1-5h0m-1-4h0m0-6h0m0-4h0m0-5h0m0-5h0m1-4h0m0-6h0m0-5h0m-1-4h0m1-4h0m-1-6h0m0-4h0m0-5h0m0-6h0m1-4h0m10 154h0m-1-5h0m1-5h0m-1-4h0m0-5h0m1-5h0m-1-5h0m0-6h0m0-4h0m1-5h0m-1-4h0m0-5h0m1-5h0m-1-5h0m1-5h0m-1-4h0m0-5h0m1-4h0m-1-5h0m1-5h0m-1-4h0m1-20h0m-1-4h0m0-7h0m0 1h0m10 125h0m1-5h0m0-5h0m-1-4h0m0-6h0m-1-4h0m1-4h0m0-6h0m0-4h0m0-6h0m0-4h0m0-15h0m0-4h0m10 66h0m-1-4h0m0-5h0m0-4h0m0-5h0m1-6h0m-1-4h0m0-4h0m0-5h0m0-6h0m0-4h0m-1-19h0m0-6h0m2-4h0m-1-15h0m-1-4h0m1-4h0m-1-5h0m1-6h0m0-5h0m-1-4h0m1-6h0m1-4h0m-1-5h0m-1-5h0m0-5h0m1-1h0m26 146h0m1-6h0m-1-4h0m1-4h0m-1-6h0m0-4h0m0-4h0m1-6h0m-1-5h0m0-4h0m0-29h0m1-5h0m-1-1h0m13 78h0m0-6h0m-1-4h0m0-5h0m1-4h0m0-6h0m-1-5h0m1-5h0m-1-4h0m0-4h0m0-5h0m0-19h0m1-5h0m-1-5h0m1-5h0m0-5h0m0-4h0m0-6h0m-1-3h0m0-5h0m1-5h0m-1-6h0m0-4h0m1-5h0m-1-2h0m16 127h0m0-4h0m0-6h0m0-5h0m-1-5h0m2-5h0m-1-3h0m0-6h0m1-5h0m-1-5h0m-1-5h0m2-4h0m-2-22h0m-89-173h0m0 7h0m0 9h0m1 13h0m0 9h0m11 8h0m-20 6h0m8-6h0m114 37h0m-7 12h0m18 0h0m-19 12h0m16 0h0m-7 9h0m-97-43h0m6 12h0m-36-7h0m-1 17h0"/><path id="q6_1" d="M1086 1268.4h0m0 17h0m0 16.9h0m0 14h0m0 25.8h0m83 2.8h0m41-38.8h0m0 46.1h0m-57 8.1h0m-28 18.9h0m75 10.7h0m-48 32.6h0m-48 43.8h0m23-40.3h0m0 6.9h0m13 18.1h0m31 9.4h0m-68 6.8h0m91-54.3h0m6 5.2h0m-24 77.7h0"/><linearGradient id="r7_0" gradientUnits="userSpaceOnUse" x1="0" y1="771.8" x2="0" y2="222.8"><stop offset="0.0000" stop-color="#84407a"/><stop offset="0.2500" stop-color="#84407a"/><stop offset="0.3333" stop-color="#8a3e7c"/><stop offset="0.4333" stop-color="#76346a"/><stop offset="0.5333" stop-color="#66285c"/><stop offset="1.0000" stop-color="#5c2452"/></linearGradient><linearGradient id="f7_0" gradientUnits="userSpaceOnUse" x1="0" y1="771.8" x2="0" y2="222.8"><stop offset="0.0000" stop-color="#d880c0"/><stop offset="0.2500" stop-color="#d880c0"/><stop offset="0.3333" stop-color="#c46cae"/><stop offset="0.4333" stop-color="#a85496"/><stop offset="0.5333" stop-color="#924484"/><stop offset="1.0000" stop-color="#863c78"/></linearGradient><path id="p7_0" d="M1229 772h0m0-6h0m1-7h0m-1-5h0m1-7h0m-1-5h0m0-7h0m0-4h0m0-8h0m0-5h0m0-7h0m0-5h0m0-7h0m0-5h0m0-6h0m0-5h0m0-8h0m0-5h0m0-6h0m0-7h0m0-5h0m0-3h0m4 123h0m1-6h0m0-6h0m0-6h0m0-7h0m-2-5h0m2-7h0m0-6h0m0-4h0m0-7h0m0-7h0m-1-6h0m1-5h0m-2-5h0m1-6h0m1-7h0m-1-6h0m0-7h0m-1-5h0m2-6h0m-1-6h0m0-3h0m5 123h0m-1-6h0m1-6h0m-1-7h0m0-5h0m0-6h0m1-6h0m-1-6h0m1-5h0m-2-8h0m1-5h0m0-6h0m0-6h0m0-7h0m0-4h0m1-7h0m0-5h0m0-7h0m0-7h0m-1-6h0m0-6h0m0-2h0m5 123h0m0-6h0m0-6h0m-1-7h0m1-5h0m-1-7h0m1-4h0m-1-7h0m1-6h0m0-6h0m0-7h0m-2-5h0m2-7h0m-1-17h0m1-6h0m-1-6h0m1-5h0m3 107h0m-1-6h0m1-6h0m1-7h0m0-5h0m-1-7h0m1-5h0m0-6h0m0-7h0m-1-5h0m0-6h0m0-6h0m1-6h0m0-19h0m0-4h0m-1-7h0m0-43h0m0-6h0m-1-6h0m1-5h0m1-2h0m2 164h0m2-5h0m0-7h0m0-7h0m0-5h0m-1-7h0m0-6h0m0-6h0m0-5h0m0-6h0m0-6h0m1-6h0m0-7h0m0-24h0m-1-5h0m4 102h0m0-6h0m1-6h0m0-6h0m-1-6h0m0-6h0m1-7h0m-1-5h0m0-6h0m0-5h0m0-7h0m1-7h0m-1-5h0m1-19h0m-1-5h0m1-7h0m-1-24h0m4 127h0m0-6h0m0-6h0m0-7h0m0-6h0m0-5h0m1-7h0m-1-6h0m0-6h0m0-5h0m1-6h0m-2-5h0m2-8h0m-1-5h0m0-11h0m0-7h0m0-7h0m1-5h0m-1-18h0m4 125h0m1-5h0m0-6h0m-1-7h0m0-4h0m1-7h0m0-6h0m0-7h0m-1-5h0m1-6h0m-1-7h0m1-6h0m0-6h0m-1-4h0m0-7h0m0-7h0m1-4h0m-1-6h0m0-7h0m1-7h0m0-6h0m-1-6h0m1-6h0m-1-5h0m0-6h0m0-6h0m0-5h0m0-3h0m3 158h0m1-5h0m0-8h0m1-5h0m-1-6h0m0-7h0m0-5h0m-1-6h0m1-7h0m1-5h0m-1-7h0m0-4h0m0-7h0m0-6h0m0-5h0m1-8h0m0-4h0m0-6h0m-1-2h0m5 103h0m-1-6h0m1-7h0m-1-36h0m0-6h0m1-4h0m0-6h0m3 65h0m0-7h0m1-48h0m-1-5h0m0-7h0m4 67h0m0-6h0m0-48h0m1-7h0m0-5h0m4 66h0m-1-6h0m0-47h0m0-8h0m0-5h0m3 66h0m2-7h0m0-42h0m-1-6h0m1-5h0m0-5h0m3 64h0m0-6h0m0-5h0m0-5h0m1-7h0m0-7h0m0-5h0m-1-7h0m0-4h0m1-6h0m0-8h0m-1-5h0m1-6h0m-1-6h0m0-6h0m0-6h0m0-36h0m0-6h0m-1-7h0m2-35h0m4 173h0m0-6h0m-1-6h0m0-5h0m1-6h0m0-7h0m-1-5h0m0-6h0m-1-7h0m1-5h0m0-6h0m-1-7h0m2-6h0m-1-5h0m0-5h0m1-7h0m0-37h0m0-6h0m-2-5h0m2-6h0m0-24h0m-1-4h0m5 172h0m-1-6h0m1-6h0m0-6h0m-1-5h0m1-8h0m0-5h0m-1-7h0m0-6h0m1-5h0m0-7h0m0-5h0m-1-7h0m-1-5h0m1-6h0m0-5h0m1-36h0m0-7h0m-2-6h0m2-7h0m0-5h0m0-7h0m-1-5h0m0-4h0m4 166h0m1-5h0m0-8h0m0-6h0m-2-6h0m2-5h0m-1-6h0m1-7h0m-1-4h0m-1-7h0m0-6h0m1-7h0m-1-5h0m2-7h0m-1-6h0m0-6h0m0-4h0m1-26h0m0-5h0m0-5h0m-2-7h0m2-7h0m-1-5h0m1-6h0m0-5h0m-1-3h0m5 164h0m-1-5h0m1-7h0m-1-7h0m-1-5h0m1-7h0m0-4h0m1-7h0m-1-5h0m1-7h0m0-6h0m-1-6h0m-1-7h0m1-6h0m1-5h0m-1-6h0m1-6h0m0-7h0m-1-6h0m1-5h0m-2-7h0m0-5h0m2-7h0m0-4h0m0-7h0m-2-6h0m1-6h0m0-4h0m4 160h0m1-6h0m-2-6h0m2-7h0m0-6h0m-1-6h0m0-5h0m1-6h0m0-7h0m-1-6h0m1-6h0m-1-4h0m1-7h0m0-7h0m-1-5h0m0-6h0m1-6h0m-1-6h0m0-7h0m0-5h0m0-7h0m1-5h0m0-6h0m0-6h0m0-6h0m-2-5h0m2-6h0m-2-6h0m5 160h0m0-6h0m0-4h0m0-7h0m1-6h0m0-7h0m0-5h0m-2-5h0m1-7h0m1-6h0m-1-5h0m1-7h0m-1-7h0m0-4h0m1-8h0m0-6h0m-1-4h0m-1-7h0m2-7h0m-1-5h0m1-6h0m-1-6h0m1-5h0m0-8h0m-1-5h0m1-6h0m-1-7h0m-1-3h0m4 159h0m1-5h0m1-7h0m-1-6h0m0-6h0m1-5h0m0-6h0m-1-5h0m0-8h0m1-6h0m-2-5h0m1-5h0m1-8h0m0-5h0m-1-7h0m1-5h0m-1-7h0m0-6h0m1-5h0m0-6h0m-2-6h0m2-7h0m0-5h0m-2-5h0m1-7h0m1-7h0m-1-5h0m0-6h0m0-6h0m0-6h0m0-6h0m1-6h0m0-7h0m-2 0h0m6 192h0m-1-5h0m1-6h0m0-5h0m-1-7h0m0-7h0m1-4h0m-1-8h0m1-6h0m-1-5h0m1-7h0m0-6h0m-1-5h0m1-7h0m0-6h0m-1-6h0m-1-5h0m1-6h0m0-6h0m-1-5h0m1-7h0m1-6h0m-1-6h0m0-13h0m0-5h0m1-6h0m0-7h0m0-5h0m0-7h0m-1-4h0m0-8h0m-1-5h0m0-2h0m5 193h0m0-5h0m-1-7h0m2-5h0m-1-7h0m0-4h0m0-8h0m0-6h0m0-4h0m1-8h0m0-6h0m-2-23h0m2-7h0m-1-6h0m0-5h0m-1-5h0m2-8h0m0-5h0m0-7h0m0-18h0m0-3h0m3 148h0m1-6h0m-1-6h0m1-7h0m-1-4h0m1-7h0m-1-7h0m1-6h0m-2-4h0m0-7h0m2-6h0m0-25h0m0-5h0m-1-7h0m0-6h0m0-5h0m1-5h0m0-6h0m0-6h0m0-23h0m4 148h0m-1-6h0m1-7h0m0-4h0m0-7h0m-1-7h0m0-6h0m0-4h0m0-8h0m1-5h0m0-7h0m-1-23h0m-1-5h0m1-30h0m0-7h0m1-22h0m4 148h0m-1-6h0m0-6h0m1-6h0m-1-7h0m1-5h0m-1-5h0m0-6h0m0-7h0m1-7h0m-1-5h0m0-6h0m-1-13h0m1-5h0m0-7h0m1-28h0m-1-8h0m0-21h0m4 148h0m1-5h0m0-8h0m-1-4h0m0-8h0m1-6h0m0-6h0m-2-6h0m2-4h0m0-7h0m-1-7h0m1-5h0m-1-6h0m0-7h0m1-5h0m-1-5h0m1-32h0m-1-5h0m1-5h0m2 131h0m1-7h0m1-5h0m-1-6h0m0-6h0m1-7h0m-1-5h0m0-7h0m0-6h0m1-5h0m-1-5h0m0-7h0m1-7h0m-1-6h0m0-5h0m0-7h0m-1-30h0m1-6h0m1-4h0m3 131h0m0-5h0m-1-6h0m2-6h0m0-6h0m-1-7h0m0-6h0m0-5h0m1-7h0m0-7h0m0-4h0m0-7h0m-1-6h0m1-6h0m-1-7h0m-1-5h0m2-5h0m-1-19h0m0-6h0m-1-7h0m2-5h0m4 132h0m0-6h0m0-6h0m-1-7h0m0-5h0m0-6h0m0-7h0m1-4h0m-1-7h0m0-5h0m1-8h0m-2-5h0m1-7h0m0-5h0m0-6h0m0-7h0m1-4h0m-1-6h0m1-7h0m-1-5h0m-1-7h0m1-6h0m0-7h0m0-6h0m0-4h0m1-3h0m-123 146h0m0-7h0m-1-5h0m1-5h0m0-8h0m0-5h0m-1-6h0m0-6h0m1-6h0m0-5h0m0-8h0m0-4h0m-1-6h0m0-7h0m0-6h0m0-6h0m0-5h0m1-7h0m-1-6h0m0-5h0m1-8h0m-1-1h0m14 121h0m-1-6h0m2-6h0m-2-6h0m0-5h0m2-6h0m0-5h0m-1-8h0m0-6h0m1-5h0m-1-7h0m1-5h0m0-6h0m0-19h0m-1-5h0m1-7h0m-1-42h0m0-4h0m0-8h0m-1-5h0m0-2h0m9 163h0m2-5h0m-1-7h0m0-5h0m0-7h0m0-6h0m-1-5h0m1-6h0m0-6h0m0-7h0m0-6h0m0-5h0m0-7h0m-1-18h0m1-6h0m0-5h0m0-24h0m8 126h0m0-7h0m0-6h0m0-5h0m1-5h0m0-7h0m-2-6h0m2-5h0m-1-8h0m0-6h0m0-6h0m1-4h0m0-7h0m0-5h0m-1-7h0m0-7h0m1-6h0m-1-4h0m0-8h0m0-6h0m0-6h0m1-5h0m-1-6h0m1-6h0m-1-7h0m1-6h0m-1-5h0m-1-3h0m8 158h0m1-4h0m0-6h0m-1-37h0m0-6h0m1-7h0m0-5h0m-1-6h0m1-6h0m-1-6h0m0-5h0m1-7h0m-1-6h0m0-2h0m9 104h0m0-6h0m1-48h0m-1-5h0m0-7h0m14 66h0m0-6h0m-1-5h0m-1-7h0m1-18h0m0-5h0m0-8h0m1-4h0m0-6h0m-1-8h0m1-4h0m-1-8h0m-1-5h0m0-7h0m2-34h0m-1-6h0m0-6h0m0-37h0m29 174h0m2-7h0m-1-6h0m0-5h0m-1-7h0m2-6h0m-1-4h0m1-7h0m0-6h0m-1-7h0m0-6h0m-1-5h0m2-6h0m-1-7h0m0-4h0m1-8h0m-2-5h0m1-5h0m0-7h0m-1-6h0m1-6h0m-1-6h0m1-6h0m0-6h0m0-7h0m0-5h0m-1-6h0m1-6h0m0-6h0m-1-7h0m1-5h0m1-6h0m0-7h0m-1-1h0m15 194h0m0-5h0m-1-6h0m0-7h0m0-7h0m0-5h0m1-7h0m-1-4h0m1-7h0m0-7h0m-1-5h0m1-24h0m0-7h0m0-29h0m0-6h0m0-22h0m9 148h0m1-6h0m1-6h0m-2-7h0m1-5h0m-1-5h0m1-8h0m-1-5h0m0-6h0m0-6h0m0-7h0m2-6h0m-1-5h0m1-7h0m-1-5h0m0-5h0m-1-32h0m1-6h0m-1-3h0m10 130h0m2-7h0m-2-6h0m1-5h0m1-7h0m-1-5h0m0-7h0m1-5h0m-1-7h0m0-6h0m1-6h0m-2-5h0m1-6h0m0-6h0m0-5h0m-1-7h0m0-6h0m0-6h0m1-7h0m-1-5h0m1-7h0m0-4h0m0-8h0m0-6h0m-1-6h0m2-1h0m-127-48h0m13-4h0m11 6h0m5-13h0m29-30h0m1 11h0m0 11h0m0 11h0m10-27h0m-1 9h0"/><path id="q7_0" d="M1341 294h0m16 104h0m1 54h0m0 10h0m-128 32h0m62 8h0m29-3h0m14 6h0m-22 32h0m30 16h0m-1 20h0m-5 17h0m-39-8h0m-17 62h0m31-107h0"/><linearGradient id="r7_1" gradientUnits="userSpaceOnUse" x1="0" y1="1610.8" x2="0" y2="1171.6"><stop offset="0.0000" stop-color="#84407a"/><stop offset="0.2500" stop-color="#84407a"/><stop offset="0.3333" stop-color="#8a3e7c"/><stop offset="0.4333" stop-color="#76346a"/><stop offset="0.5333" stop-color="#66285c"/><stop offset="1.0000" stop-color="#5c2452"/></linearGradient><linearGradient id="f7_1" gradientUnits="userSpaceOnUse" x1="0" y1="1610.8" x2="0" y2="1171.6"><stop offset="0.0000" stop-color="#d880c0"/><stop offset="0.2500" stop-color="#d880c0"/><stop offset="0.3333" stop-color="#c46cae"/><stop offset="0.4333" stop-color="#a85496"/><stop offset="0.5333" stop-color="#924484"/><stop offset="1.0000" stop-color="#863c78"/></linearGradient><path id="p7_1" d="M1229 1611h0m0-5h0m1-5h0m-1-5h0m1-5h0m-1-4h0m0-6h0m0-3h0m0-6h0m0-4h0m0-6h0m0-4h0m0-5h0m0-4h0m0-5h0m0-5h0m0-6h0m0-3h0m0-5h0m0-6h0m0-4h0m0-2h0m4 98h0m1-5h0m0-5h0m0-4h0m0-6h0m-2-4h0m2-5h0m0-5h0m0-4h0m0-6h0m0-5h0m-1-5h0m1-4h0m-2-4h0m1-5h0m1-5h0m-1-5h0m0-5h0m-1-4h0m2-5h0m-1-5h0m0-3h0m5 99h0m-1-5h0m1-5h0m-1-5h0m0-4h0m0-5h0m1-5h0m-1-5h0m1-4h0m-2-6h0m1-4h0m0-5h0m0-4h0m0-6h0m0-4h0m1-5h0m0-4h0m0-6h0m0-5h0m-1-5h0m0-5h0m0-1h0m5 98h0m0-5h0m0-5h0m-1-5h0m1-4h0m-1-6h0m1-3h0m-1-6h0m1-4h0m0-5h0m0-5h0m-2-5h0m2-5h0m-1-14h0m1-5h0m-1-5h0m1-4h0m3 86h0m-1-5h0m1-5h0m1-5h0m0-4h0m-1-6h0m1-4h0m0-5h0m0-5h0m-1-5h0m0-4h0m0-5h0m1-5h0m0-15h0m0-3h0m-1-6h0m0-34h0m0-5h0m-1-5h0m1-3h0m1-2h0m2 131h0m2-4h0m0-6h0m0-5h0m0-4h0m-1-6h0m0-4h0m0-5h0m0-5h0m0-5h0m0-4h0m1-5h0m0-5h0m0-19h0m-1-5h0m4 82h0m0-5h0m1-5h0m0-4h0m-1-6h0m0-4h0m1-6h0m-1-3h0m0-5h0m0-5h0m0-5h0m1-5h0m-1-4h0m1-16h0m-1-4h0m1-5h0m-1-19h0m4 101h0m0-5h0m0-5h0m0-5h0m0-5h0m0-4h0m1-6h0m-1-4h0m0-5h0m0-4h0m1-5h0m-2-4h0m2-6h0m-1-4h0m0-9h0m0-6h0m0-5h0m1-4h0m-1-15h0m4 100h0m1-3h0m0-6h0m-1-5h0m0-4h0m1-5h0m0-5h0m0-5h0m-1-5h0m1-4h0m-1-5h0m1-6h0m0-4h0m-1-4h0m0-5h0m0-6h0m1-3h0m-1-5h0m0-5h0m1-6h0m0-5h0m-1-5h0m1-4h0m-1-4h0m0-5h0m0-5h0m0-4h0m0-2h0m3 126h0m1-4h0m0-6h0m1-5h0m-1-4h0m0-6h0m0-4h0m-1-5h0m1-5h0m1-5h0m-1-4h0m0-4h0m0-6h0m0-5h0m0-4h0m1-6h0m0-3h0m0-5h0m-1-1h0m5 82h0m-1-5h0m1-5h0m-1-29h0m0-5h0m1-4h0m0-4h0m3 52h0m0-6h0m1-38h0m-1-4h0m0-5h0m4 53h0m0-4h0m0-39h0m1-5h0m0-5h0m4 53h0m-1-5h0m0-38h0m0-6h0m0-4h0m3 53h0m2-6h0m0-33h0m-1-5h0m1-4h0m0-4h0m3 51h0m0-5h0m0-3h0m0-5h0m1-5h0m0-6h0m0-4h0m-1-5h0m0-4h0m1-5h0m0-6h0m-1-3h0m1-6h0m-1-5h0m0-5h0m0-4h0m0-29h0m0-5h0m-1-5h0m2-28h0m4 139h0m0-5h0m-1-5h0m0-5h0m1-4h0m0-6h0m-1-4h0m0-5h0m-1-5h0m1-4h0m0-5h0m-1-5h0m2-5h0m-1-5h0m0-4h0m1-5h0m0-30h0m0-4h0m-2-4h0m2-5h0m0-20h0m-1-3h0m5 138h0m-1-5h0m1-4h0m0-5h0m-1-5h0m1-6h0m0-4h0m-1-5h0m0-5h0m1-4h0m0-6h0m0-4h0m-1-5h0m-1-5h0m1-4h0m0-5h0m1-28h0m0-5h0m-2-5h0m2-6h0m0-4h0m0-5h0m-1-5h0m0-3h0m4 133h0m1-4h0m0-6h0m0-5h0m-2-5h0m2-4h0m-1-5h0m1-5h0m-1-4h0m-1-5h0m0-5h0m1-6h0m-1-4h0m2-5h0m-1-5h0m0-5h0m0-3h0m1-21h0m0-3h0m0-5h0m-2-5h0m2-6h0m-1-4h0m1-5h0m0-4h0m-1-2h0m5 131h0m-1-4h0m1-6h0m-1-5h0m-1-5h0m1-5h0m0-3h0m1-6h0m-1-4h0m1-5h0m0-5h0m-1-5h0m-1-5h0m1-5h0m1-4h0m-1-5h0m1-5h0m0-5h0m-1-5h0m1-4h0m-2-5h0m0-4h0m2-6h0m0-4h0m0-6h0m-2-4h0m1-5h0m0-3h0m4 128h0m1-5h0m-2-4h0m2-6h0m0-5h0m-1-5h0m0-4h0m1-5h0m0-5h0m-1-5h0m1-4h0m-1-4h0m1-6h0m0-5h0m-1-4h0m0-5h0m1-5h0m-1-4h0m0-6h0m0-5h0m0-5h0m1-4h0m0-5h0m0-4h0m0-5h0m-2-5h0m2-4h0m-2-5h0m5 129h0m0-6h0m0-3h0m0-5h0m1-5h0m0-6h0m0-4h0m-2-4h0m1-6h0m1-4h0m-1-4h0m1-6h0m-1-6h0m0-3h0m1-6h0m0-5h0m-1-3h0m-1-6h0m2-5h0m-1-4h0m1-5h0m-1-5h0m1-4h0m0-6h0m-1-4h0m1-5h0m-1-5h0m-1-3h0m4 127h0m1-4h0m1-5h0m-1-5h0m0-5h0m1-4h0m0-5h0m-1-4h0m0-6h0m1-5h0m-2-4h0m1-4h0m1-6h0m0-4h0m-1-6h0m1-4h0m-1-5h0m0-5h0m1-4h0m0-5h0m-2-5h0m2-6h0m0-4h0m-2-4h0m1-5h0m1-6h0m-1-4h0m0-4h0m0-6h0m0-4h0m0-6h0m1-5h0m0-6h0m-2 0h0m6 155h0m-1-4h0m1-5h0m0-4h0m-1-6h0m0-4h0m1-4h0m-1-6h0m1-5h0m-1-5h0m1-5h0m0-5h0m-1-4h0m1-5h0m0-5h0m-1-5h0m-1-4h0m1-4h0m0-6h0m-1-4h0m1-5h0m1-5h0m-1-4h0m0-11h0m0-4h0m1-4h0m0-6h0m0-4h0m0-6h0m-1-4h0m0-7h0m-1-4h0m0-2h0m5 157h0m0-5h0m-1-5h0m2-4h0m-1-6h0m0-4h0m0-5h0m0-5h0m0-4h0m1-6h0m0-5h0m-2-18h0m2-6h0m-1-5h0m0-4h0m-1-4h0m2-6h0m0-4h0m0-5h0m0-15h0m0-2h0m3 118h0m1-5h0m-1-5h0m1-5h0m-1-4h0m1-5h0m-1-6h0m1-4h0m-2-4h0m0-5h0m2-5h0m0-20h0m0-4h0m-1-6h0m0-5h0m0-4h0m1-4h0m0-4h0m0-5h0m0-19h0m4 119h0m-1-5h0m1-5h0m0-4h0m0-5h0m-1-6h0m0-4h0m0-4h0m0-6h0m1-4h0m0-6h0m-1-18h0m-1-5h0m1-24h0m0-5h0m1-18h0m4 119h0m-1-5h0m0-5h0m1-4h0m-1-6h0m1-4h0m-1-4h0m0-5h0m0-5h0m1-6h0m-1-4h0m0-5h0m-1-10h0m1-4h0m0-6h0m1-23h0m-1-5h0m0-18h0m4 119h0m1-4h0m0-6h0m-1-4h0m0-6h0m1-5h0m0-4h0m-2-5h0m2-4h0m0-5h0m-1-5h0m1-5h0m-1-5h0m0-5h0m1-4h0m-1-5h0m1-24h0m-1-5h0m1-4h0m2 105h0m1-5h0m1-5h0m-1-5h0m0-4h0m1-6h0m-1-4h0m0-5h0m0-5h0m1-4h0m-1-5h0m0-5h0m1-5h0m-1-5h0m0-4h0m0-6h0m-1-24h0m1-4h0m1-4h0m3 105h0m0-4h0m-1-5h0m2-5h0m0-5h0m-1-5h0m0-4h0m0-5h0m1-5h0m0-6h0m0-4h0m0-5h0m-1-5h0m1-4h0m-1-6h0m-1-4h0m2-4h0m-1-15h0m0-5h0m-1-6h0m2-3h0m4 105h0m0-5h0m0-4h0m-1-6h0m0-4h0m0-5h0m0-5h0m1-4h0m-1-5h0m0-5h0m1-6h0m-2-4h0m1-6h0m0-3h0m0-5h0m0-6h0m1-3h0m-1-5h0m1-6h0m-1-4h0m-1-5h0m1-5h0m0-6h0m0-4h0m0-4h0m1-2h0m-123 117h0m0-6h0m-1-4h0m1-4h0m0-6h0m0-4h0m-1-5h0m0-5h0m1-4h0m0-5h0m0-6h0m0-3h0m-1-5h0m0-5h0m0-5h0m0-5h0m0-4h0m1-6h0m-1-5h0m0-4h0m1-6h0m-1-1h0m14 97h0m-1-5h0m2-4h0m-2-5h0m0-4h0m2-5h0m0-4h0m-1-6h0m0-5h0m1-4h0m-1-6h0m1-4h0m0-5h0m0-15h0m-1-4h0m1-5h0m-1-34h0m0-4h0m0-6h0m-1-4h0m0-1h0m9 130h0m2-4h0m-1-6h0m0-4h0m0-5h0m0-4h0m-1-5h0m1-5h0m0-5h0m0-5h0m0-5h0m0-4h0m0-5h0m-1-15h0m1-5h0m0-4h0m0-19h0m8 101h0m0-6h0m0-4h0m0-4h0m1-5h0m0-5h0m-2-5h0m2-4h0m-1-6h0m0-5h0m0-5h0m1-3h0m0-6h0m0-4h0m-1-6h0m0-5h0m1-4h0m-1-4h0m0-6h0m0-5h0m0-5h0m1-4h0m-1-4h0m1-6h0m-1-5h0m1-5h0m-1-4h0m-1-3h0m8 128h0m1-4h0m0-5h0m-1-29h0m0-5h0m1-6h0m0-4h0m-1-5h0m1-5h0m-1-4h0m0-4h0m1-6h0m-1-5h0m0-2h0m9 84h0m0-5h0m1-38h0m-1-5h0m0-5h0m14 53h0m0-5h0m-1-4h0m-1-5h0m1-15h0m0-4h0m0-6h0m1-4h0m0-5h0m-1-6h0m1-3h0m-1-6h0m-1-5h0m0-4h0m2-28h0m-1-5h0m0-5h0m0-30h0m29 140h0m2-6h0m-1-4h0m0-4h0m-1-6h0m2-5h0m-1-3h0m1-5h0m0-5h0m-1-6h0m0-5h0m-1-4h0m2-5h0m-1-5h0m0-4h0m1-6h0m-2-4h0m1-4h0m0-5h0m-1-5h0m1-5h0m-1-5h0m1-5h0m0-4h0m0-6h0m0-4h0m-1-5h0m1-5h0m0-4h0m-1-6h0m1-5h0m1-5h0m0-6h0m-1 0h0m15 156h0m0-4h0m-1-5h0m0-5h0m0-6h0m0-4h0m1-6h0m-1-3h0m1-5h0m0-6h0m-1-4h0m1-19h0m0-6h0m0-23h0m0-5h0m0-18h0m9 119h0m1-5h0m1-5h0m-2-5h0m1-5h0m-1-4h0m1-5h0m-1-5h0m0-5h0m0-4h0m0-6h0m2-5h0m-1-3h0m1-6h0m-1-4h0m0-5h0m-1-25h0m1-4h0m-1-3h0m10 104h0m2-6h0m-2-4h0m1-4h0m1-6h0m-1-4h0m0-6h0m1-3h0m-1-6h0m0-5h0m1-5h0m-2-4h0m1-5h0m0-5h0m0-4h0m-1-5h0m0-5h0m0-5h0m1-5h0m-1-4h0m1-6h0m0-3h0m0-6h0m0-5h0m-1-5h0m2-1h0m-127-40h0m13-3h0m11 5h0m5-11h0m29-26h0m1 10h0m0 9h0m0 10h0m10-24h0m-1 8h0"/><path id="q7_1" d="M1341 1192.6h0m16 100.4h0m1 50h0m0 9.2h0m-128 28.8h0m62 7.1h0m29-2.6h0m14 5.3h0m-22 28.2h0m30 13.9h0m-1 17.2h0m-5 14.5h0m-39-6.8h0m-17 50.8h0m31-89.6h0"/><linearGradient id="r8_0" gradientUnits="userSpaceOnUse" x1="0" y1="771.8" x2="0" y2="222.8"><stop offset="0.0000" stop-color="#36906c"/><stop offset="0.2500" stop-color="#36906c"/><stop offset="0.3333" stop-color="#36906c"/><stop offset="0.4333" stop-color="#2e8060"/><stop offset="0.5667" stop-color="#287458"/><stop offset="1.0000" stop-color="#246c52"/></linearGradient><linearGradient id="f8_0" gradientUnits="userSpaceOnUse" x1="0" y1="771.8" x2="0" y2="222.8"><stop offset="0.0000" stop-color="#70d0a8"/><stop offset="0.2500" stop-color="#70d0a8"/><stop offset="0.3333" stop-color="#5ec096"/><stop offset="0.4333" stop-color="#4eac86"/><stop offset="0.5667" stop-color="#449c7a"/><stop offset="1.0000" stop-color="#3e9474"/></linearGradient><path id="p8_0" d="M1377 772h0m0-7h0m-1-5h0m0-7h0m0-5h0m0-7h0m1-6h0m-1-6h0m0-5h0m0-7h0m1-6h0m-1-5h0m0-6h0m0-6h0m0-5h0m1-6h0m0-7h0m0-6h0m0-6h0m-1-7h0m0-5h0m0-6h0m0-6h0m0-6h0m1-6h0m-1-6h0m0-5h0m0-43h0m5 198h0m-1-6h0m-1-6h0m2-7h0m-1-6h0m0-6h0m0-5h0m-1-6h0m1-6h0m0-6h0m1-5h0m-1-8h0m0-5h0m0-6h0m1-6h0m-1-6h0m0-6h0m0-6h0m1-6h0m0-6h0m0-6h0m0-7h0m0-5h0m-1-6h0m0-6h0m-1-6h0m2-6h0m-1-41h0m4 197h0m1-5h0m-1-7h0m1-7h0m0-6h0m-1-6h0m1-5h0m-2-7h0m2-6h0m-1-6h0m0-5h0m0-7h0m1-6h0m-1-6h0m0-5h0m0-5h0m0-8h0m0-5h0m-1-6h0m2-7h0m0-4h0m-1-8h0m0-6h0m1-6h0m-1-5h0m1-6h0m-1-7h0m0-34h0m-1-7h0m5 198h0m0-7h0m1-6h0m0-4h0m-1-7h0m1-6h0m-1-6h0m-1-6h0m2-5h0m0-7h0m0-7h0m-1-6h0m0-6h0m0-5h0m1-7h0m0-5h0m-1-6h0m1-6h0m0-6h0m0-7h0m-1-6h0m1-6h0m0-6h0m0-6h0m-2-6h0m2-5h0m-1-24h0m1-7h0m0-5h0m0-7h0m-2-4h0m6 197h0m-2-6h0m1-7h0m0-5h0m0-7h0m1-6h0m-1-6h0m0-5h0m-1-6h0m1-6h0m0-6h0m1-5h0m-1-7h0m1-7h0m-1-6h0m0-6h0m0-5h0m1-5h0m0-8h0m-2-5h0m1-7h0m0-4h0m0-7h0m0-6h0m1-6h0m-1-6h0m-1-24h0m1-6h0m-1-6h0m1-7h0m1-5h0m3 198h0m0-7h0m0-4h0m1-7h0m0-6h0m-1-7h0m1-6h0m-1-6h0m1-5h0m-1-7h0m1-5h0m0-5h0m-2-7h0m2-6h0m-1-5h0m1-6h0m-2-7h0m1-7h0m1-4h0m0-7h0m-1-7h0m1-6h0m0-6h0m-1-6h0m0-6h0m0-5h0m-1-24h0m1-12h0m1-6h0m-1-6h0m4 198h0m0-6h0m0-6h0m1-6h0m-1-6h0m1-6h0m-1-7h0m-1-6h0m0-5h0m2-7h0m0-5h0m0-7h0m0-4h0m0-8h0m0-6h0m-1-5h0m0-5h0m0-8h0m0-5h0m1-7h0m0-4h0m-2-7h0m2-6h0m0-6h0m-1-5h0m0-8h0m0-6h0m1-6h0m3 163h0m0-6h0m1-7h0m-1-5h0m0-5h0m0-7h0m0-6h0m0-7h0m0-6h0m0-4h0m0-8h0m1-5h0m-1-6h0m0-7h0m0-5h0m-1-5h0m0-6h0m2-7h0m0-6h0m0-6h0m-2-6h0m2-7h0m-1-6h0m-1-6h0m0-6h0m1-5h0m1-7h0m3 157h0m0-7h0m-1-5h0m2-7h0m0-6h0m-1-6h0m1-5h0m0-6h0m0-6h0m0-6h0m0-6h0m-1-6h0m0-7h0m1-5h0m0-7h0m-1-5h0m1-7h0m-1-6h0m-1-5h0m1-6h0m-1-5h0m2-8h0m-1-5h0m0-7h0m0-5h0m1-6h0m-1-7h0m0-48h0m1-5h0m0 0h0m3 209h0m1-4h0m0-8h0m-1-5h0m1-6h0m-1-6h0m0-6h0m0-5h0m0-7h0m1-6h0m-1-7h0m0-6h0m0-6h0m1-17h0m0-6h0m0-7h0m-1-6h0m0-6h0m0-4h0m0-7h0m0-6h0m0-6h0m1-7h0m-2-4h0m2-7h0m-1-55h0m1 1h0m3 210h0m0-5h0m1-7h0m-1-6h0m1-7h0m-1-5h0m0-7h0m0-6h0m0-5h0m0-6h0m1-6h0m-1-6h0m1-7h0m0-18h0m-1-6h0m1-5h0m-1-7h0m0-5h0m1-6h0m-1-5h0m0-13h0m0-6h0m1-6h0m-1-6h0m1-56h0m4 212h0m-1-6h0m1-5h0m0-7h0m0-6h0m-1-6h0m0-7h0m0-6h0m-1-4h0m1-6h0m0-8h0m0-6h0m0-6h0m0-24h0m0-5h0m0-6h0m1-5h0m-1-7h0m0-24h0m0-6h0m1-6h0m-1-24h0m5 180h0m-2-7h0m2-4h0m-1-7h0m1-6h0m0-6h0m0-6h0m-2-6h0m0-6h0m1-6h0m1-7h0m-1-5h0m0-6h0m1-19h0m0-5h0m-1-6h0m1-6h0m0-6h0m0-5h0m-1-25h0m1-6h0m-1-7h0m0-17h0m5 174h0m-1-6h0m-1-5h0m2-7h0m0-6h0m0-6h0m-1-7h0m0-5h0m0-6h0m1-7h0m-1-5h0m1-7h0m-2-5h0m1-18h0m0-6h0m0-5h0m-1-7h0m1-6h0m0-6h0m1-23h0m-1-19h0m1-6h0m0-6h0m0-37h0m-1-1h0m5 212h0m-1-6h0m0-7h0m1-5h0m0-6h0m-2-6h0m1-7h0m1-5h0m-2-6h0m2-13h0m0-5h0m-2-6h0m1-6h0m1-6h0m0-6h0m-2-6h0m2-7h0m-1-6h0m0-5h0m0-7h0m1-48h0m0-6h0m-1-30h0m0-4h0m1-3h0m3 211h0m-1-6h0m2-6h0m0-6h0m-2-4h0m2-6h0m-1-8h0m1-5h0m0-19h0m0-6h0m-1-5h0m0-7h0m0-6h0m1-4h0m0-7h0m-1-6h0m0-6h0m0-5h0m1-7h0m-1-48h0m1-7h0m-1-29h0m1-7h0m-1-3h0m4 214h0m0-5h0m0-7h0m1-5h0m0-7h0m-1-7h0m0-6h0m0-5h0m0-24h0m-1-5h0m1-8h0m1-5h0m0-7h0m-2-5h0m1-6h0m1-6h0m0-5h0m0-8h0m-1-5h0m0-6h0m0-6h0m1-30h0m-1-6h0m1-25h0m0-5h0m-1-6h0m-1-4h0m6 214h0m0-6h0m0-5h0m-2-8h0m1-6h0m-1-5h0m0-5h0m2-8h0m-1-24h0m1-5h0m-1-7h0m0-5h0m0-6h0m1-6h0m0-6h0m-1-6h0m0-5h0m0-7h0m1-6h0m-1-7h0m0-29h0m0-24h0m1-6h0m-2-6h0m1-6h0m1-5h0m-1-6h0m5 215h0m-1-6h0m0-6h0m0-6h0m1-6h0m0-7h0m-1-5h0m-1-6h0m1-18h0m1-19h0m-1-6h0m0-4h0m1-8h0m0-24h0m0-5h0m-1-5h0m0-56h0m1-6h0m-1-5h0m0-6h0m1-6h0m0-4h0m3 213h0m1-5h0m-1-6h0m0-7h0m0-5h0m0-7h0m0-6h0m1-6h0m-2-4h0m1-8h0m1-5h0m0-24h0m0-7h0m0-6h0m-1-23h0m1-5h0m-1-78h0m1-7h0m-2-5h0m4 215h0m2-6h0m0-5h0m-1-7h0m0-7h0m0-5h0m0-5h0m0-7h0m1-6h0m-1-5h0m1-7h0m-1-23h0m0-7h0m1-6h0m0-24h0m-1-6h0m0-5h0m0-73h0m-1-6h0m1-5h0m5 214h0m-1-5h0m0-6h0m0-5h0m1-7h0m0-5h0m-1-8h0m0-5h0m1-7h0m0-5h0m-2-7h0m2-18h0m-2-6h0m2-5h0m-1-6h0m1-6h0m-2-18h0m0-6h0m1-7h0m0-36h0m1-5h0m-1-5h0m1-26h0m-2-6h0m1-2h0m4 213h0m0-6h0m0-6h0m0-6h0m0-5h0m0-8h0m1-4h0m0-7h0m0-7h0m-1-6h0m0-5h0m1-6h0m-1-6h0m0-7h0m1-5h0m-2-6h0m0-6h0m1-6h0m1-6h0m0-7h0m-1-5h0m1 0h0m3 120h0m0-6h0m1-7h0m0-5h0m0-7h0m-1-4h0m1-6h0m0-6h0m-1-8h0m0-6h0m1-5h0m-1-7h0m0-5h0m0-5h0m0-6h0m1-7h0m-1-7h0m0-6h0m-1-5h0m0-6h0m1-7h0m1 0h0m3 121h0m0-6h0m0-7h0m0-6h0m1-5h0m0-6h0m-1-6h0m0-6h0m0-5h0m0-8h0m1-4h0m-1-6h0m1-7h0m-1-7h0m1-5h0m0-6h0m0-6h0m0-5h0m-1-14h0m1-5h0m-1-1h0m4 121h0m1-6h0m-1-7h0m0-5h0m0-5h0m1-7h0m0-7h0m0-6h0m-1-5h0m0-5h0m1-7h0m-1-7h0m1-5h0m-1-6h0m0-7h0m0-5h0m0-7h0m1-23h0m-1 0h0m5 120h0m-1-6h0m0-7h0m0-5h0m1-7h0m0-6h0m-1-6h0m0-5h0m1-5h0m0-6h0m-1-7h0m0-6h0m0-5h0m1-7h0m0-7h0m0-5h0m0-6h0m-1-23h0m0-19h0m0-6h0m0-7h0m1-5h0m0-7h0m0-5h0m0 0h0m4 168h0m0-7h0m0-4h0m-1-7h0m0-7h0m1-5h0m-1-5h0m1-7h0m-1-7h0m0-5h0m1-7h0m0-6h0m-1-5h0m1-7h0m0-5h0m0-5h0m0-7h0m-1-42h0m1-6h0m-1-7h0m0-6h0m1-6h0m-1-4h0m4 167h0m0-7h0m1-6h0m-1-5h0m0-7h0m0-4h0m1-7h0m0-7h0m0-5h0m0-6h0m-1-6h0m0-6h0m1-6h0m-1-7h0m1-5h0m-1-6h0m1-7h0m-1-5h0m1-13h0m0-29h0m0-5h0m-1-8h0m1-6h0m0 0h0m4 163h0m0-6h0m0-7h0m-1-5h0m0-7h0m1-4h0m-1-7h0m0-6h0m1-7h0m0-5h0m-1-5h0m1-7h0m-1-6h0m1-5h0m0-8h0m0-5h0m-1-6h0m0-6h0m0-5h0m1-6h0m-1-25h0m1-6h0m0-7h0m0-5h0m3 156h0m0-6h0m0-7h0m-1-5h0m0-6h0m2-6h0m-1-6h0m1-6h0m-1-5h0m0-8h0m0-5h0m0-6h0m0-6h0m0-7h0m0-5h0m0-6h0m-1-7h0m0-6h0m1-6h0m1-6h0m-2-24h0m2-5h0m-1-6h0m-26 150h0m1-7h0m0-6h0m0-6h0m0-5h0m0-6h0m0-6h0m-1-5h0m1-7h0m1-6h0m-1-5h0m0-7h0m-1-5h0m2-7h0m-1-7h0m0-5h0m-1-7h0m0-18h0m2-5h0m-2-1h0m-74-149h0m2 10h0m0 12h0m2 12h0m20-12h0m8 0h0m-26 12h0m8 4h0m8-2h0m20-8h0m4 18h0m-18 4h0m32-28h0m5 14h0m0 18h0m-1-52h0"/><path id="q8_0" d="M1465 264h0m-8 49h0m3 30h0m-3 56h0m-57 6h0m-1 22h0m-10 13h0m22 6h0m-20 17h0m24 11h0m-17 8h0m-8 12h0m74-27h0m34-2h0m-39 19h0m8 6h0m-7 10h0m32-20h0m2 12h0m-119 63h0m118 3h0"/><linearGradient id="r8_1" gradientUnits="userSpaceOnUse" x1="0" y1="1610.8" x2="0" y2="1171.6"><stop offset="0.0000" stop-color="#36906c"/><stop offset="0.2500" stop-color="#36906c"/><stop offset="0.3333" stop-color="#36906c"/><stop offset="0.4333" stop-color="#2e8060"/><stop offset="0.5667" stop-color="#287458"/><stop offset="1.0000" stop-color="#246c52"/></linearGradient><linearGradient id="f8_1" gradientUnits="userSpaceOnUse" x1="0" y1="1610.8" x2="0" y2="1171.6"><stop offset="0.0000" stop-color="#70d0a8"/><stop offset="0.2500" stop-color="#70d0a8"/><stop offset="0.3333" stop-color="#5ec096"/><stop offset="0.4333" stop-color="#4eac86"/><stop offset="0.5667" stop-color="#449c7a"/><stop offset="1.0000" stop-color="#3e9474"/></linearGradient><path id="p8_1" d="M1377 1611h0m0-6h0m-1-4h0m0-5h0m0-4h0m0-6h0m1-5h0m-1-4h0m0-5h0m0-5h0m1-5h0m-1-4h0m0-5h0m0-4h0m0-5h0m1-4h0m0-6h0m0-4h0m0-6h0m-1-5h0m0-4h0m0-5h0m0-4h0m0-6h0m1-4h0m-1-5h0m0-4h0m0-36h0m5 160h0m-1-5h0m-1-5h0m2-5h0m-1-5h0m0-5h0m0-4h0m-1-4h0m1-5h0m0-5h0m1-5h0m-1-6h0m0-3h0m0-5h0m1-6h0m-1-4h0m0-5h0m0-5h0m1-4h0m0-5h0m0-5h0m0-6h0m0-4h0m-1-4h0m0-5h0m-1-5h0m2-5h0m-1-34h0m4 159h0m1-4h0m-1-5h0m1-6h0m0-5h0m-1-5h0m1-4h0m-2-5h0m2-5h0m-1-5h0m0-4h0m0-5h0m1-6h0m-1-4h0m0-4h0m0-4h0m0-7h0m0-4h0m-1-4h0m2-6h0m0-3h0m-1-7h0m0-4h0m1-5h0m-1-5h0m1-4h0m-1-6h0m0-28h0m-1-6h0m5 160h0m0-6h0m1-4h0m0-4h0m-1-5h0m1-5h0m-1-5h0m-1-5h0m2-4h0m0-5h0m0-6h0m-1-5h0m0-4h0m0-4h0m1-6h0m0-4h0m-1-5h0m1-4h0m0-5h0m0-6h0m-1-5h0m1-4h0m0-6h0m0-4h0m-2-5h0m2-4h0m-1-20h0m1-6h0m0-3h0m0-7h0m-2-3h0m6 159h0m-2-5h0m1-5h0m0-4h0m0-6h0m1-4h0m-1-6h0m0-3h0m-1-6h0m1-4h0m0-5h0m1-4h0m-1-6h0m1-5h0m-1-5h0m0-5h0m0-4h0m1-4h0m0-6h0m-2-4h0m1-6h0m0-3h0m0-6h0m0-4h0m1-5h0m-1-5h0m-1-20h0m1-5h0m-1-4h0m1-7h0m1-4h0m3 160h0m0-5h0m0-4h0m1-6h0m0-4h0m-1-6h0m1-5h0m-1-4h0m1-5h0m-1-5h0m1-4h0m0-4h0m-2-5h0m2-6h0m-1-4h0m1-4h0m-2-6h0m1-6h0m1-3h0m0-5h0m-1-6h0m1-4h0m0-5h0m-1-5h0m0-5h0m0-4h0m-1-20h0m1-9h0m1-6h0m-1-5h0m4 160h0m0-5h0m0-5h0m1-4h0m-1-5h0m1-5h0m-1-6h0m-1-4h0m0-4h0m2-6h0m0-4h0m0-5h0m0-4h0m0-6h0m0-5h0m-1-4h0m0-4h0m0-6h0m0-4h0m1-6h0m0-4h0m-2-5h0m2-5h0m0-4h0m-1-5h0m0-6h0m0-5h0m1-5h0m3 131h0m0-5h0m1-6h0m-1-3h0m0-5h0m0-5h0m0-4h0m0-6h0m0-5h0m0-4h0m0-6h0m1-4h0m-1-4h0m0-6h0m0-4h0m-1-5h0m0-4h0m2-5h0m0-6h0m0-4h0m-2-5h0m2-5h0m-1-5h0m-1-5h0m0-5h0m1-4h0m1-6h0m3 126h0m0-6h0m-1-3h0m2-6h0m0-5h0m-1-4h0m1-5h0m0-4h0m0-5h0m0-5h0m0-5h0m-1-5h0m0-5h0m1-4h0m0-6h0m-1-4h0m1-5h0m-1-5h0m-1-5h0m1-4h0m-1-4h0m2-7h0m-1-3h0m0-6h0m0-4h0m1-5h0m-1-6h0m0-40h0m1-4h0m0-1h0m3 171h0m1-4h0m0-7h0m-1-3h0m1-5h0m-1-5h0m0-4h0m0-5h0m0-6h0m1-4h0m-1-6h0m0-4h0m0-6h0m1-13h0m0-5h0m0-5h0m-1-5h0m0-5h0m0-4h0m0-5h0m0-4h0m0-6h0m1-5h0m-2-4h0m2-5h0m-1-46h0m1 0h0m3 171h0m0-4h0m1-5h0m-1-5h0m1-6h0m-1-4h0m0-6h0m0-5h0m0-4h0m0-4h0m1-5h0m-1-5h0m1-5h0m0-14h0m-1-5h0m1-5h0m-1-5h0m0-4h0m1-5h0m-1-4h0m0-10h0m0-6h0m1-4h0m-1-5h0m1-47h0m4 172h0m-1-5h0m1-4h0m0-5h0m0-5h0m-1-5h0m0-6h0m0-4h0m-1-4h0m1-5h0m0-6h0m0-5h0m0-4h0m0-19h0m0-5h0m0-4h0m1-5h0m-1-5h0m0-20h0m0-4h0m1-5h0m-1-19h0m5 144h0m-2-5h0m2-4h0m-1-5h0m1-5h0m0-5h0m0-4h0m-2-5h0m0-5h0m1-5h0m1-6h0m-1-4h0m0-5h0m1-15h0m0-4h0m-1-4h0m1-5h0m0-5h0m0-5h0m-1-20h0m1-4h0m-1-5h0m0-15h0m5 140h0m-1-5h0m-1-4h0m2-6h0m0-4h0m0-5h0m-1-6h0m0-4h0m0-5h0m1-5h0m-1-4h0m1-5h0m-2-4h0m1-15h0m0-5h0m0-4h0m-1-5h0m1-5h0m0-5h0m1-19h0m-1-15h0m1-5h0m0-5h0m0-31h0m-1-1h0m5 172h0m-1-5h0m0-5h0m1-5h0m0-4h0m-2-5h0m1-5h0m1-4h0m-2-5h0m2-11h0m0-4h0m-2-4h0m1-5h0m1-5h0m0-5h0m-2-5h0m2-5h0m-1-5h0m0-4h0m0-5h0m1-39h0m0-5h0m-1-26h0m0-4h0m1-2h0m3 171h0m-1-4h0m2-6h0m0-4h0m-2-4h0m2-5h0m-1-6h0m1-3h0m0-16h0m0-4h0m-1-4h0m0-6h0m0-5h0m1-4h0m0-5h0m-1-5h0m0-4h0m0-5h0m1-5h0m-1-38h0m1-6h0m-1-25h0m1-6h0m-1-3h0m4 174h0m0-4h0m0-6h0m1-4h0m0-5h0m-1-6h0m0-4h0m0-5h0m0-19h0m-1-4h0m1-6h0m1-4h0m0-6h0m-2-4h0m1-5h0m1-5h0m0-4h0m0-6h0m-1-4h0m0-4h0m0-6h0m1-23h0m-1-6h0m1-20h0m0-5h0m-1-5h0m-1-4h0m6 174h0m0-5h0m0-4h0m-2-6h0m1-5h0m-1-4h0m0-4h0m2-7h0m-1-19h0m1-4h0m-1-5h0m0-5h0m0-4h0m1-5h0m0-5h0m-1-4h0m0-5h0m0-5h0m1-5h0m-1-6h0m0-22h0m0-21h0m1-5h0m-2-5h0m1-5h0m1-5h0m-1-5h0m5 175h0m-1-5h0m0-5h0m0-4h0m1-5h0m0-6h0m-1-4h0m-1-5h0m1-14h0m1-15h0m-1-5h0m0-3h0m1-6h0m0-20h0m0-4h0m-1-4h0m0-45h0m1-6h0m-1-4h0m0-5h0m1-5h0m0-4h0m3 173h0m1-4h0m-1-5h0m0-5h0m0-4h0m0-6h0m0-4h0m1-5h0m-2-4h0m1-6h0m1-4h0m0-19h0m0-6h0m0-4h0m-1-19h0m1-4h0m-1-65h0m1-5h0m-2-5h0m4 175h0m2-5h0m0-4h0m-1-6h0m0-5h0m0-4h0m0-4h0m0-6h0m1-4h0m-1-5h0m1-5h0m-1-19h0m0-5h0m1-5h0m0-19h0m-1-5h0m0-4h0m0-60h0m-1-6h0m1-3h0m5 173h0m-1-4h0m0-5h0m0-4h0m1-5h0m0-5h0m-1-5h0m0-5h0m1-5h0m0-4h0m-2-6h0m2-14h0m-2-5h0m2-4h0m-1-4h0m1-5h0m-2-15h0m0-5h0m1-6h0m0-28h0m1-5h0m-1-4h0m1-22h0m-2-5h0m1-2h0m4 173h0m0-5h0m0-4h0m0-6h0m0-4h0m0-6h0m1-3h0m0-6h0m0-5h0m-1-5h0m0-4h0m1-5h0m-1-4h0m0-6h0m1-4h0m-2-5h0m0-5h0m1-5h0m1-4h0m0-6h0m-1-4h0m1 0h0m3 96h0m0-5h0m1-5h0m0-4h0m0-6h0m-1-4h0m1-4h0m0-5h0m-1-6h0m0-5h0m1-4h0m-1-5h0m0-5h0m0-4h0m0-5h0m1-5h0m-1-6h0m0-4h0m-1-5h0m0-4h0m1-6h0m1 0h0m3 97h0m0-5h0m0-5h0m0-5h0m1-4h0m0-5h0m-1-5h0m0-5h0m0-4h0m0-6h0m1-4h0m-1-4h0m1-6h0m-1-5h0m1-4h0m0-5h0m0-5h0m0-4h0m-1-11h0m1-4h0m-1-1h0m4 97h0m1-5h0m-1-5h0m0-5h0m0-4h0m1-5h0m0-5h0m0-5h0m-1-4h0m0-5h0m1-5h0m-1-5h0m1-5h0m-1-5h0m0-5h0m0-4h0m0-6h0m1-18h0m-1 0h0m5 96h0m-1-5h0m0-5h0m0-4h0m1-6h0m0-5h0m-1-5h0m0-4h0m1-4h0m0-5h0m-1-5h0m0-5h0m0-4h0m1-5h0m0-6h0m0-4h0m0-5h0m-1-18h0m0-15h0m0-5h0m0-6h0m1-3h0m0-6h0m0-5h0m0 0h0m4 135h0m0-5h0m0-4h0m-1-5h0m0-6h0m1-4h0m-1-4h0m1-5h0m-1-6h0m0-4h0m1-5h0m0-6h0m-1-3h0m1-6h0m0-4h0m0-4h0m0-6h0m-1-34h0m1-4h0m-1-6h0m0-4h0m1-6h0m-1-3h0m4 134h0m0-6h0m1-4h0m-1-5h0m0-5h0m0-4h0m1-5h0m0-6h0m0-3h0m0-5h0m-1-5h0m0-5h0m1-5h0m-1-5h0m1-4h0m-1-5h0m1-5h0m-1-4h0m1-11h0m0-23h0m0-4h0m-1-6h0m1-5h0m0 0h0m4 130h0m0-5h0m0-5h0m-1-5h0m0-5h0m1-4h0m-1-5h0m0-5h0m1-5h0m0-4h0m-1-5h0m1-5h0m-1-5h0m1-4h0m0-6h0m0-4h0m-1-5h0m0-5h0m0-4h0m1-5h0m-1-20h0m1-4h0m0-6h0m0-4h0m3 125h0m0-5h0m0-5h0m-1-4h0m0-5h0m2-5h0m-1-4h0m1-6h0m-1-4h0m0-6h0m0-4h0m0-4h0m0-6h0m0-5h0m0-5h0m0-4h0m-1-6h0m0-5h0m1-4h0m1-5h0m-2-19h0m2-4h0m-1-5h0m-26 120h0m1-6h0m0-4h0m0-5h0m0-4h0m0-5h0m0-5h0m-1-4h0m1-5h0m1-5h0m-1-5h0m0-5h0m-1-4h0m2-6h0m-1-5h0m0-4h0m-1-6h0m0-14h0m2-4h0m-2-1h0m-74-126h0m2 9h0m0 11h0m2 10h0m20-10h0m8 0h0m-26 10h0m8 4h0m8-2h0m20-7h0m4 16h0m-18 3h0m32-24h0m5 12h0m0 16h0m-1-46h0"/><path id="q8_1" d="M1465 1162.7h0m-8 48.6h0m3 29.2h0m-3 53.4h0m-57 5.6h0m-1 20.5h0m-10 12h0m22 5.5h0m-20 15.6h0m24 9.9h0m-17 7.2h0m-8 10.8h0m74-24.3h0m34-1.8h0m-39 17.1h0m8 5.4h0m-7 9h0m32-18h0m2 10.8h0m-119 55.4h0m118 2.6h0"/><linearGradient id="r9_0" gradientUnits="userSpaceOnUse" x1="0" y1="771.8" x2="0" y2="222.8"><stop offset="0.0000" stop-color="#360810"/><stop offset="0.2000" stop-color="#360810"/><stop offset="0.2833" stop-color="#26060c"/><stop offset="0.3667" stop-color="#140406"/><stop offset="0.4667" stop-color="#0a0606"/><stop offset="1.0000" stop-color="#0a0a0a"/></linearGradient><linearGradient id="f9_0" gradientUnits="userSpaceOnUse" x1="0" y1="771.8" x2="0" y2="222.8"><stop offset="0.0000" stop-color="#7a1428"/><stop offset="0.2000" stop-color="#7a1428"/><stop offset="0.2833" stop-color="#561020"/><stop offset="0.3667" stop-color="#2a0a10"/><stop offset="0.4667" stop-color="#140c0c"/><stop offset="1.0000" stop-color="#111111"/></linearGradient><path id="p9_0" d="M1518 772h0m1-6h0m0-6h0m0-5h0m0-7h0m-1-5h0m1-7h0m-1-6h0m0-7h0m1-5h0m0-5h0m-1-6h0m1-8h0m0-5h0m-1-7h0m0-4h0m0-8h0m1-5h0m0-7h0m-1-5h0m0-4h0m5 118h0m0-6h0m-1-5h0m-1-6h0m1-8h0m1-18h0m0-5h0m-1-7h0m0-5h0m0-6h0m0-6h0m1-6h0m-1-6h0m0-6h0m0-6h0m0-7h0m0-6h0m0-4h0m1-6h0m3 119h0m1-7h0m0-5h0m-1-7h0m1-28h0m0-7h0m0-6h0m0-6h0m-1-5h0m1-8h0m-1-6h0m-1-6h0m2-5h0m-1-6h0m1-7h0m-1-5h0m0-5h0m0-1h0m4 120h0m1-7h0m-2-5h0m1-36h0m-1-5h0m1-8h0m0-6h0m0-6h0m0-5h0m1-5h0m-1-7h0m0-7h0m1-5h0m-1-6h0m-1-6h0m1-6h0m-1 0h0m6 119h0m0-6h0m-1-5h0m1-6h0m-1-30h0m1-7h0m0-4h0m-1-25h0m0-5h0m0-7h0m0-6h0m1-7h0m-2-6h0m1-5h0m1 0h0m4 120h0m-1-6h0m1-6h0m-1-7h0m0-5h0m1-7h0m-2-11h0m1-6h0m0-7h0m0-30h0m0-6h0m0-5h0m1-7h0m-1-4h0m0-6h0m1-8h0m-1 1h0m4 120h0m0-7h0m0-6h0m0-5h0m0-7h0m1-6h0m0-5h0m-1-6h0m0-6h0m0-5h0m0-7h0m0-24h0m1-7h0m0-5h0m-1-6h0m0-7h0m1-5h0m0-7h0m-2 0h0m6 121h0m-1-6h0m-1-7h0m1-6h0m1-5h0m0-6h0m-2-6h0m1-7h0m-1-4h0m2-7h0m-1-5h0m0-20h0m1-4h0m-1-6h0m1-6h0m0-8h0m0-6h0m-1-6h0m0-6h0m1 1h0m2 120h0m1-6h0m0-5h0m1-7h0m-1-5h0m-1-7h0m1-6h0m0-7h0m0-5h0m0-7h0m0-5h0m0-7h0m0-6h0m1-6h0m0-5h0m-1-7h0m1-6h0m-1-6h0m1-5h0m0-7h0m0-6h0m0 1h0m4 119h0m0-5h0m0-6h0m-2-7h0m1-6h0m1-6h0m-1-6h0m0-4h0m-1-8h0m2-6h0m-1-6h0m1-6h0m-1-5h0m1-19h0m-1-4h0m-1-7h0m2-6h0m0-6h0m0-7h0m-1 1h0m4 120h0m1-5h0m0-8h0m-1-4h0m0-8h0m0-5h0m0-6h0m0-7h0m0-5h0m-1-6h0m1-6h0m0-6h0m1-31h0m-1-6h0m0-5h0m0-6h0m1-5h0m0-8h0m0-4h0m0-8h0m-1-5h0m-1-7h0m2-5h0m0-5h0m-1-7h0m0-6h0m0-2h0m4 176h0m1-5h0m0-7h0m-1-6h0m1-6h0m-2-6h0m1-7h0m0-6h0m0-5h0m1-6h0m-1-6h0m0-7h0m1-23h0m0-7h0m0-6h0m-1-4h0m1-7h0m-1-6h0m0-7h0m1-6h0m-2-5h0m1-7h0m1-4h0m0-8h0m0-5h0m0-7h0m-1-6h0m0-1h0m4 176h0m1-5h0m-1-7h0m1-6h0m0-7h0m-1-5h0m0-6h0m1-6h0m0-5h0m0-6h0m0-8h0m0-5h0m-1-6h0m1-18h0m0-6h0m0-5h0m-2-7h0m2-5h0m-1-7h0m0-6h0m0-6h0m0-7h0m-1-6h0m2-4h0m-1-7h0m0-6h0m0-7h0m0-4h0m1-2h0m3 175h0m0-5h0m1-7h0m-1-6h0m0-5h0m1-7h0m-1-5h0m-1-8h0m2-5h0m-1-6h0m1-6h0m-1-6h0m1-6h0m-1-7h0m0-4h0m-1-7h0m1-7h0m0-5h0m1-7h0m0-6h0m-1-6h0m0-5h0m0-7h0m0-5h0m0-6h0m1-6h0m0-6h0m-1-7h0m1-6h0m-1-6h0m0-4h0m1-7h0m0-7h0m-1-6h0m0-4h0m0-7h0m-1-7h0m1-5h0m-1-6h0m0-6h0m1-6h0m1-7h0m-1-6h0m1-5h0m-1-1h0m4 258h0m0-5h0m1-7h0m-1-5h0m1-7h0m-1-6h0m1-5h0m-1-6h0m0-6h0m0-6h0m-1-7h0m1-4h0m0-7h0m0-6h0m1-6h0m0-19h0m-1-6h0m1-5h0m0-6h0m-1-7h0m1-6h0m0-5h0m0-7h0m-2-6h0m1-4h0m4 154h0m0-5h0m1-6h0m-2-6h0m2-7h0m0-5h0m0-6h0m-1-7h0m0-6h0m1-5h0m-1-5h0m0-7h0m-1-5h0m1-7h0m0-6h0m0-24h0m0-6h0m0-6h0m0-6h0m0-6h0m1-6h0m-2-7h0m1-5h0m1-3h0m3 153h0m0-7h0m1-6h0m-1-5h0m0-6h0m1-6h0m-1-6h0m1-7h0m-1-6h0m1-5h0m-1-5h0m0-7h0m-1-6h0m1-6h0m1-6h0m-2-24h0m1-6h0m1-7h0m0-6h0m-2-5h0m1-6h0m0-7h0m0-5h0m0-3h0m5 153h0m0-6h0m-2-5h0m1-7h0m1-6h0m0-5h0m0-6h0m-1-8h0m0-5h0m1-6h0m-2-7h0m1-5h0m0-6h0m1-6h0m0-7h0m-1-23h0m0-6h0m0-5h0m1-8h0m0-4h0m-1-7h0m1-6h0m-1-5h0m0-5h0m3 153h0m2-6h0m0-6h0m0-5h0m0-7h0m0-5h0m-1-6h0m0-7h0m-1-5h0m1-5h0m1-25h0m-1-6h0m1-7h0m-1-29h0m0-1h0m4 121h0m0-7h0m0-5h0m0-7h0m0-4h0m0-8h0m0-5h0m0-6h0m1-6h0m0-5h0m0-26h0m-1-5h0m1-6h0m4 90h0m0-6h0m-1-7h0m1-6h0m-1-6h0m1-5h0m-1-7h0m0-4h0m0-7h0m0-7h0m1-24h0m-2-6h0m0-4h0m4 89h0m2-6h0m-1-6h0m-1-6h0m1-5h0m-1-7h0m1-6h0m0-6h0m0-6h0m0-7h0m0-5h0m1-19h0m-1-6h0m0-6h0m-1-5h0m2-25h0m4 121h0m0-7h0m0-4h0m0-7h0m-1-7h0m0-5h0m0-6h0m-1-6h0m1-6h0m1-6h0m0-6h0m0-6h0m0-7h0m0-6h0m0-6h0m-1-5h0m-1-6h0m2-7h0m-1-6h0m0-5h0m-1-6h0m2-7h0m0-6h0m0-6h0m-1-6h0m0-5h0m1-7h0m0-6h0m0-5h0m-1-6h0m1-6h0m-1-3h0m4 183h0m1-6h0m0-7h0m-1-5h0m0-7h0m1-6h0m-2-6h0m2-6h0m0-5h0m-1-6h0m1-7h0m-1-5h0m0-6h0m0-6h0m0-6h0m-1-7h0m1-5h0m0-7h0m1-5h0m0-7h0m0-6h0m0-5h0m-2-7h0m1-5h0m0-6h0m0-7h0m-1-6h0m2-5h0m-1-7h0m1-5h0m-2-6h0m2-4h0m-52 184h0m-1-7h0m1-6h0m-1-5h0m1-6h0m-1-6h0m0-6h0m0-6h0m0-7h0m1-5h0m0-7h0m-1-5h0m0-24h0m0-6h0m1-6h0m-1-6h0m0-6h0m1-7h0m-1-4h0m1-6h0m0-7h0m-1-5h0m0-7h0m1-6h0m-1-7h0m1-6h0m-1-4h0m0-3h0m11 176h0m0-6h0m0-6h0m1-6h0m0-7h0m0-6h0m0-5h0m-1-6h0m1-5h0m0-7h0m0-7h0m-1-5h0m0-7h0m0-6h0m0-6h0m0-5h0m0-5h0m1-7h0m0-6h0m0-7h0m0-5h0m-1-7h0m0-5h0m1-6h0m-1-6h0m1-5h0m0-7h0m0-7h0m0-5h0m-1-7h0m1-4h0m-1-6h0m0-7h0m0-7h0m1-5h0m-1-7h0m0-5h0m1-6h0m0-6h0m0-6h0m-1-7h0m1-6h0m0-6h0m-1-6h0m1 0h0m15 259h0m0-7h0m-2-5h0m1-7h0m0-5h0m0-6h0m0-6h0m0-7h0m0-5h0m0-6h0m-1-7h0m1-4h0m0-8h0m0-5h0m-1-30h0m2-7h0m-1-5h0m1-6h0m0-7h0m-2-4h0m1-8h0m0-6h0m1-2h0m12 153h0m-1-5h0m0-7h0m0-7h0m0-4h0m0-6h0m0-7h0m0-7h0m1-6h0m-1-6h0m0-28h0m0-7h0m1-6h0m13 96h0m1-6h0m-1-5h0m0-7h0m1-6h0m-1-6h0m0-5h0m1-8h0m0-4h0m0-8h0m0-6h0m0-6h0m0-6h0m0-4h0m0-7h0m0-6h0m-1-6h0m1-7h0m0-6h0m0-4h0m0-6h0m0-7h0m-1-6h0m1-6h0m0-7h0m-1-5h0m0-7h0m0-5h0m0-7h0m0-5h0m1-6h0m0-4h0"/><path id="q9_0" d="M1608 226h0m0 73h0m-1 76h0m0 19h0m0 10h0m0 10h0m0 10h0m0 10h0m1 14h0m-1 20h0m0 10h0m0 10h0m3 22h0m-63-70h0m0 10h0m22 60h0m-46 47h0m21 0h0m2-109h0m-3 131h0m5 10h0m-15 14h0m9-3h0m14-26h0m-14 48h0m-14 14h0m10-2h0m73-112h0m0 10h0m0 10h0m0 10h0m0 10h0m-1 10h0"/><linearGradient id="r9_1" gradientUnits="userSpaceOnUse" x1="0" y1="1610.8" x2="0" y2="1171.6"><stop offset="0.0000" stop-color="#360810"/><stop offset="0.2000" stop-color="#360810"/><stop offset="0.2833" stop-color="#26060c"/><stop offset="0.3667" stop-color="#140406"/><stop offset="0.4667" stop-color="#0a0606"/><stop offset="1.0000" stop-color="#0a0a0a"/></linearGradient><linearGradient id="f9_1" gradientUnits="userSpaceOnUse" x1="0" y1="1610.8" x2="0" y2="1171.6"><stop offset="0.0000" stop-color="#7a1428"/><stop offset="0.2000" stop-color="#7a1428"/><stop offset="0.2833" stop-color="#561020"/><stop offset="0.3667" stop-color="#2a0a10"/><stop offset="0.4667" stop-color="#140c0c"/><stop offset="1.0000" stop-color="#111111"/></linearGradient><path id="p9_1" d="M1518 1611h0m1-5h0m0-4h0m0-5h0m0-5h0m-1-5h0m1-5h0m-1-5h0m0-5h0m1-4h0m0-4h0m-1-5h0m1-6h0m0-4h0m-1-6h0m0-3h0m0-7h0m1-4h0m0-5h0m-1-5h0m0-2h0m5 94h0m0-5h0m-1-4h0m-1-5h0m1-6h0m1-14h0m0-4h0m-1-6h0m0-4h0m0-5h0m0-4h0m1-5h0m-1-5h0m0-5h0m0-5h0m0-5h0m0-5h0m0-4h0m1-5h0m3 96h0m1-6h0m0-4h0m-1-5h0m1-23h0m0-5h0m0-5h0m0-5h0m-1-4h0m1-6h0m-1-5h0m-1-5h0m2-4h0m-1-5h0m1-5h0m-1-4h0m0-4h0m0-1h0m4 96h0m1-5h0m-2-4h0m1-29h0m-1-5h0m1-6h0m0-5h0m0-5h0m0-4h0m1-4h0m-1-5h0m0-6h0m1-3h0m-1-5h0m-1-5h0m1-5h0m-1 0h0m6 95h0m0-4h0m-1-5h0m1-5h0m-1-24h0m1-5h0m0-4h0m-1-20h0m0-3h0m0-6h0m0-5h0m1-5h0m-2-5h0m1-4h0m1 0h0m4 96h0m-1-5h0m1-4h0m-1-6h0m0-4h0m1-6h0m-2-9h0m1-4h0m0-6h0m0-24h0m0-5h0m0-4h0m1-5h0m-1-4h0m0-5h0m1-6h0m-1 1h0m4 96h0m0-6h0m0-4h0m0-4h0m0-6h0m1-5h0m0-4h0m-1-5h0m0-5h0m0-4h0m0-5h0m0-19h0m1-6h0m0-4h0m-1-5h0m0-5h0m1-4h0m0-6h0m-2 0h0m6 97h0m-1-5h0m-1-5h0m1-5h0m1-4h0m0-5h0m-2-5h0m1-5h0m-1-4h0m2-6h0m-1-3h0m0-16h0m1-4h0m-1-4h0m1-5h0m0-6h0m0-5h0m-1-5h0m0-4h0m1 0h0m2 96h0m1-5h0m0-4h0m1-5h0m-1-5h0m-1-5h0m1-5h0m0-6h0m0-4h0m0-5h0m0-4h0m0-5h0m0-6h0m1-4h0m0-5h0m-1-5h0m1-4h0m-1-5h0m1-5h0m0-5h0m0-5h0m0 1h0m4 95h0m0-4h0m0-5h0m-2-5h0m1-5h0m1-5h0m-1-5h0m0-3h0m-1-6h0m2-5h0m-1-5h0m1-5h0m-1-4h0m1-15h0m-1-3h0m-1-6h0m2-4h0m0-6h0m0-5h0m-1 1h0m4 96h0m1-4h0m0-7h0m-1-3h0m0-6h0m0-4h0m0-5h0m0-5h0m0-5h0m-1-4h0m1-5h0m0-5h0m1-24h0m-1-5h0m0-4h0m0-5h0m1-5h0m0-5h0m0-4h0m0-6h0m-1-4h0m-1-6h0m2-4h0m0-4h0m-1-6h0m0-5h0m0-1h0m4 141h0m1-4h0m0-5h0m-1-6h0m1-5h0m-2-4h0m1-6h0m0-4h0m0-5h0m1-4h0m-1-5h0m0-5h0m1-19h0m0-5h0m0-5h0m-1-4h0m1-5h0m-1-5h0m0-5h0m1-5h0m-2-4h0m1-6h0m1-4h0m0-6h0m0-4h0m0-5h0m-1-5h0m0-1h0m4 141h0m1-4h0m-1-6h0m1-4h0m0-6h0m-1-4h0m0-5h0m1-5h0m0-4h0m0-5h0m0-6h0m0-4h0m-1-5h0m1-14h0m0-5h0m0-4h0m-2-6h0m2-4h0m-1-5h0m0-5h0m0-5h0m0-5h0m-1-5h0m2-4h0m-1-5h0m0-5h0m0-6h0m0-3h0m1-2h0m3 141h0m0-4h0m1-5h0m-1-5h0m0-5h0m1-5h0m-1-4h0m-1-6h0m2-4h0m-1-5h0m1-5h0m-1-5h0m1-5h0m-1-5h0m0-4h0m-1-5h0m1-6h0m0-4h0m1-5h0m0-5h0m-1-4h0m0-5h0m0-5h0m0-4h0m0-5h0m1-5h0m0-5h0m-1-5h0m1-5h0m-1-5h0m0-4h0m1-6h0m0-6h0m-1-4h0m0-5h0m0-5h0m-1-6h0m1-5h0m-1-4h0m0-6h0m1-6h0m1-6h0m-1-5h0m1-4h0m-1-1h0m4 213h0m0-5h0m1-5h0m-1-5h0m1-5h0m-1-5h0m1-4h0m-1-5h0m0-5h0m0-4h0m-1-6h0m1-3h0m0-6h0m0-5h0m1-4h0m0-15h0m-1-5h0m1-5h0m0-4h0m-1-5h0m1-5h0m0-5h0m0-5h0m-2-5h0m1-3h0m4 124h0m0-5h0m1-4h0m-2-6h0m2-5h0m0-4h0m0-5h0m-1-5h0m0-5h0m1-4h0m-1-5h0m0-5h0m-1-4h0m1-6h0m0-4h0m0-19h0m0-5h0m0-5h0m0-5h0m0-5h0m1-4h0m-2-6h0m1-4h0m1-3h0m3 123h0m0-6h0m1-5h0m-1-4h0m0-4h0m1-5h0m-1-5h0m1-5h0m-1-5h0m1-4h0m-1-5h0m0-5h0m-1-5h0m1-5h0m1-4h0m-2-19h0m1-5h0m1-5h0m0-6h0m-2-3h0m1-5h0m0-6h0m0-4h0m0-3h0m5 123h0m0-5h0m-2-4h0m1-5h0m1-5h0m0-5h0m0-4h0m-1-6h0m0-4h0m1-5h0m-2-6h0m1-4h0m0-4h0m1-5h0m0-6h0m-1-19h0m0-4h0m0-5h0m1-6h0m0-3h0m-1-5h0m1-5h0m-1-5h0m0-3h0m3 123h0m2-5h0m0-5h0m0-5h0m0-5h0m0-4h0m-1-5h0m0-5h0m-1-4h0m1-5h0m1-19h0m-1-5h0m1-5h0m-1-24h0m0-1h0m4 97h0m0-6h0m0-4h0m0-5h0m0-4h0m0-6h0m0-4h0m0-5h0m1-4h0m0-5h0m0-20h0m-1-4h0m1-5h0m4 72h0m0-5h0m-1-5h0m1-5h0m-1-5h0m1-4h0m-1-6h0m0-3h0m0-6h0m0-5h0m1-19h0m-2-5h0m0-4h0m4 72h0m2-5h0m-1-5h0m-1-5h0m1-4h0m-1-5h0m1-5h0m0-4h0m0-5h0m0-6h0m0-4h0m1-15h0m-1-5h0m0-5h0m-1-4h0m2-20h0m4 97h0m0-6h0m0-3h0m0-5h0m-1-6h0m0-4h0m0-5h0m-1-5h0m1-5h0m1-4h0m0-5h0m0-5h0m0-6h0m0-4h0m0-5h0m-1-4h0m-1-5h0m2-5h0m-1-5h0m0-4h0m-1-5h0m2-5h0m0-5h0m0-5h0m-1-5h0m0-4h0m1-6h0m0-4h0m0-5h0m-1-4h0m1-6h0m-1-2h0m4 147h0m1-5h0m0-5h0m-1-5h0m0-5h0m1-5h0m-2-5h0m2-5h0m0-3h0m-1-6h0m1-5h0m-1-4h0m0-4h0m0-6h0m0-4h0m-1-6h0m1-4h0m0-6h0m1-3h0m0-6h0m0-5h0m0-4h0m-2-5h0m1-4h0m0-6h0m0-5h0m-1-4h0m2-5h0m-1-5h0m1-5h0m-2-5h0m2-3h0m-52 148h0m-1-5h0m1-6h0m-1-4h0m1-5h0m-1-4h0m0-5h0m0-4h0m0-6h0m1-4h0m0-6h0m-1-4h0m0-19h0m0-4h0m1-6h0m-1-4h0m0-6h0m1-4h0m-1-4h0m1-5h0m0-6h0m-1-4h0m0-5h0m1-5h0m-1-5h0m1-5h0m-1-4h0m0-3h0m11 142h0m0-5h0m0-5h0m1-4h0m0-6h0m0-5h0m0-4h0m-1-5h0m1-4h0m0-5h0m0-6h0m-1-4h0m0-5h0m0-5h0m0-5h0m0-4h0m0-4h0m1-6h0m0-4h0m0-6h0m0-4h0m-1-5h0m0-5h0m1-5h0m-1-4h0m1-5h0m0-5h0m0-6h0m0-3h0m-1-7h0m1-3h0m-1-5h0m0-6h0m0-6h0m1-4h0m-1-6h0m0-4h0m1-6h0m0-5h0m0-6h0m-1-5h0m1-5h0m0-6h0m-1-5h0m1 0h0m15 213h0m0-6h0m-2-3h0m1-6h0m0-4h0m0-5h0m0-5h0m0-5h0m0-4h0m0-5h0m-1-6h0m1-3h0m0-6h0m0-4h0m-1-25h0m2-5h0m-1-4h0m1-5h0m0-5h0m-2-4h0m1-6h0m0-5h0m1-2h0m12 123h0m-1-4h0m0-6h0m0-5h0m0-4h0m0-5h0m0-5h0m0-6h0m1-4h0m-1-5h0m0-23h0m0-5h0m1-4h0m13 76h0m1-5h0m-1-4h0m0-5h0m1-6h0m-1-4h0m0-4h0m1-6h0m0-4h0m0-6h0m0-5h0m0-5h0m0-4h0m0-4h0m0-6h0m0-4h0m-1-5h0m1-5h0m0-5h0m0-4h0m0-5h0m0-5h0m-1-4h0m1-6h0m0-5h0m-1-4h0m0-5h0m0-5h0m0-5h0m0-5h0m1-5h0m0-3h0"/><path id="q9_1" d="M1608 1124.1h0m0 73.4h0m-1 73.7h0m0 18h0m0 9.4h0m0 9.3h0m0 9.3h0m0 9.3h0m1 12.9h0m-1 18.2h0m0 9h0m0 9h0m3 19.6h0m-63-63.2h0m0 9.2h0m22 54h0m-46 41.2h0m21 0h0m2-97h0m-3 115.9h0m5 8.5h0m-15 11.8h0m9-2.5h0m14-22.1h0m-14 40h0m-14 11.2h0m10-1.6h0m73-94.8h0m0 8.8h0m0 8.8h0m0 8.6h0m0 8.7h0m-1 8.6h0"/><linearGradient id="r10_0" gradientUnits="userSpaceOnUse" x1="0" y1="771.8" x2="0" y2="222.8"><stop offset="0.0000" stop-color="#0a2e1e"/><stop offset="0.2000" stop-color="#0a2e1e"/><stop offset="0.2833" stop-color="#082416"/><stop offset="0.3667" stop-color="#06160e"/><stop offset="0.4667" stop-color="#0a0a0a"/><stop offset="1.0000" stop-color="#0a0a0a"/></linearGradient><linearGradient id="f10_0" gradientUnits="userSpaceOnUse" x1="0" y1="771.8" x2="0" y2="222.8"><stop offset="0.0000" stop-color="#1e6e4e"/><stop offset="0.2000" stop-color="#1e6e4e"/><stop offset="0.2833" stop-color="#145238"/><stop offset="0.3667" stop-color="#0e2e20"/><stop offset="0.4667" stop-color="#111111"/><stop offset="1.0000" stop-color="#111111"/></linearGradient><path id="p10_0" d="M1635 772h0m0-6h0m-1-6h0m0-6h0m0-7h0m0-5h0m1-5h0m0-7h0m0-6h0m0-6h0m-1-6h0m1-6h0m-1-6h0m0-5h0m0-7h0m0-7h0m0-5h0m0-7h0m0-5h0m0-6h0m0-6h0m1-7h0m0-6h0m-1-5h0m0-6h0m1-6h0m-1-4h0m4 154h0m1-7h0m0-4h0m-1-8h0m0-5h0m-1-7h0m2-5h0m0-5h0m-1-7h0m-1-6h0m2-5h0m0-7h0m0-6h0m0-6h0m-1-6h0m0-7h0m-1-5h0m0-7h0m1-4h0m1-8h0m0-5h0m0-6h0m-1-6h0m1-6h0m0-7h0m0-4h0m-2-5h0m5 154h0m-1-5h0m2-8h0m-1-5h0m1-7h0m0-5h0m-1-6h0m0-12h0m-1-5h0m1-7h0m1-7h0m0-5h0m0-6h0m-1-7h0m1-5h0m-1-7h0m1-5h0m0-7h0m0-6h0m0-6h0m0-5h0m-1-6h0m1-6h0m-1-7h0m0-5h0m0-4h0m5 153h0m-1-4h0m-1-8h0m1-5h0m0-6h0m0-7h0m1-23h0m0-6h0m-1-6h0m-1-5h0m1-7h0m1-6h0m-1-6h0m1-6h0m0-6h0m0-6h0m0-5h0m0-7h0m0-30h0m-1-5h0m1-3h0m3 158h0m1-6h0m-1-5h0m1-8h0m-1-5h0m1-6h0m0-24h0m0-7h0m-2-5h0m2-6h0m0-6h0m-1-6h0m0-6h0m1-6h0m0-5h0m0-7h0m-2-6h0m1-37h0m0-4h0m1-2h0m4 157h0m-2-5h0m2-7h0m-1-5h0m0-7h0m0-5h0m0-26h0m1-5h0m-1-7h0m1-6h0m0-5h0m-2-7h0m0-6h0m1-6h0m0-6h0m0-5h0m-1-7h0m1-36h0m0-5h0m-1-2h0m5 157h0m0-4h0m0-8h0m0-6h0m0-6h0m1-5h0m0-6h0m-1-12h0m0-7h0m-1-5h0m2-5h0m0-13h0m-1-7h0m0-6h0m0-6h0m1-5h0m-1-6h0m0-6h0m0-35h0m0-7h0m1-2h0m4 158h0m0-5h0m-1-6h0m-1-8h0m1-6h0m0-5h0m0-7h0m0-4h0m1-7h0m0-5h0m-1-8h0m0-24h0m0-5h0m1-5h0m0-8h0m0-5h0m-2-6h0m2-6h0m-1-7h0m1-6h0m-1-11h0m1-7h0m0-5h0m-1-7h0m0-4h0m5 167h0m-1-24h0m0-6h0m0-6h0m-1-5h0m2-7h0m0-5h0m-1-6h0m0-26h0m1-4h0m0-8h0m-1-5h0m-1-6h0m1-19h0m-1-5h0m2-5h0m-1-8h0m1-4h0m0-7h0m-1-5h0m0-5h0m5 137h0m-1-8h0m1-4h0m-1-8h0m-1-5h0m1-6h0m0-24h0m1-5h0m-2-7h0m2-6h0m-2-6h0m1-25h0m0-5h0m0-7h0m0-5h0m1-5h0m0-7h0m-1-4h0m4 130h0m0-7h0m0-4h0m0-7h0m0-5h0m0-25h0m1-7h0m-1-5h0m0-36h0m0-6h0m0-7h0m1-6h0m-1-6h0m0-5h0m0-4h0m5 135h0m-1-6h0m1-4h0m0-8h0m-1-5h0m1-6h0m-1-6h0m1-12h0m-1-6h0m1-5h0m-1-7h0m0-37h0m-1-5h0m2-7h0m-1-4h0m1-7h0m0-6h0m-1-5h0m1-7h0m-1-7h0m1-6h0m-2-5h0m6 168h0m-1-7h0m1-4h0m-1-7h0m0-6h0m0-6h0m0-6h0m0-6h0m-1-7h0m0-5h0m1-6h0m-1-7h0m1-35h0m0-6h0m-1-13h0m1-5h0m1-7h0m-1-6h0m0-6h0m0-5h0m1-7h0m0-5h0m-1-5h0m4 190h0m0-6h0m1-6h0m-1-5h0m0-5h0m0-6h0m1-7h0m0-7h0m0-6h0m-2-4h0m1-8h0m0-5h0m0-6h0m0-6h0m0-7h0m0-5h0m0-6h0m1-18h0m-1-7h0m1-35h0m3 156h0m0-7h0m1-4h0m-1-13h0m1-6h0m0-6h0m0-6h0m-1-6h0m0-6h0m0-7h0m1-5h0m0-6h0m-1-5h0m0-7h0m0-6h0m1-7h0m0-17h0m-2-6h0m4 120h0m2-7h0m-1-23h0m1-6h0m-1-6h0m1-6h0m-1-7h0m1-6h0m-1-6h0m1-6h0m-1-4h0m0-7h0m0-6h0m-1-6h0m0-5h0m2-6h0m-1-6h0m5 113h0m-1-7h0m0-24h0m1-5h0m0-7h0m0-5h0m-1-7h0m0-4h0m0-7h0m1-6h0m-1-18h0m1-6h0m0-7h0m-1-6h0m1-4h0m3 113h0m0-6h0m0-31h0m1-5h0m-1-7h0m0-6h0m0-5h0m0-6h0m1-7h0m-1-24h0m1-4h0m-1-7h0m1-7h0m0-5h0m-2-43h0m2-5h0m0-7h0m-1-5h0m1-4h0m2 184h0m1-6h0m1-25h0m0-4h0m-2-8h0m2-5h0m-1-6h0m0-6h0m1-5h0m-1-7h0m1-24h0m-1-6h0m1-6h0m0-7h0m0-5h0m0-37h0m-2-4h0m1-7h0m-1-6h0m2-6h0m0-4h0m3 184h0m0-6h0m1-6h0m-2-19h0m2-4h0m-1-7h0m0-6h0m0-7h0m1-4h0m-1-7h0m0-7h0m1-18h0m0-6h0m0-6h0m0-5h0m-1-6h0m-1-6h0m1-7h0m0-24h0m0-6h0m0-5h0m1-5h0m0-7h0m-2-7h0m2-2h0m4 183h0m0-6h0m0-5h0m-1-7h0m1-6h0m0-6h0m-1-6h0m1-6h0m-1-7h0m0-5h0m1-5h0m0-7h0m-1-6h0m1-7h0m0-11h0m0-6h0m0-6h0m-1-5h0m0-7h0m1-6h0m-2-7h0m2-5h0m0-6h0m-1-6h0m0-7h0m0-5h0m0-7h0m1-4h0m-2-8h0m1-5h0m1-4h0m3 184h0m1-6h0m-2-5h0m1-8h0m0-6h0m0-4h0m0-6h0m1-8h0m0-6h0m-1-4h0m0-7h0m0-6h0m1-6h0m-1-6h0m0-6h0m1-7h0m-1-6h0m0-4h0m1-8h0m-1-6h0m1-5h0m-1-7h0m0-6h0m0-6h0m1-5h0m-1-5h0m1-7h0m-2-6h0m1-3h0m4 165h0m0-7h0m0-5h0m0-6h0m1-6h0m0-7h0m0-6h0m0-4h0m-1-6h0m0-8h0m0-5h0m1-6h0m-1-7h0m1-5h0m0-7h0m-1-5h0m1-6h0m0-7h0m-1-5h0m1-7h0m-1-5h0m-1-6h0m1-5h0m1-7h0m0-5h0m0-8h0m-1-6h0m0-5h0m1-4h0m4 166h0m0-6h0m0-6h0m0-7h0m-1-6h0m1-4h0m-1-8h0m0-6h0m1-5h0m0-7h0m-1-5h0m1-6h0m-1-7h0m0-5h0m1-6h0m0-7h0m0-5h0m-1-5h0m0-8h0m1-5h0m-1-6h0m0-7h0m0-5h0m1-5h0m0-6h0m0-7h0m-1-6h0m1-6h0m-1-4h0m5 166h0m-1-7h0m1-5h0m-1-5h0m0-7h0m1-7h0m-1-6h0m1-6h0m-1-5h0m1-6h0m-1-5h0m1-7h0m-1-5h0m0-8h0m0-5h0m0-6h0m0-7h0m0-6h0m1-5h0m-2-6h0m0-6h0m1-5h0m1-7h0m0-6h0m0-6h0m-2-6h0m2-7h0m-1-4h0m1-8h0m-1-2h0m-95 171h0m0-5h0m-1-6h0m2-8h0m0-6h0m-2-5h0m2-6h0m-1-6h0m0-7h0m1-5h0m-2-6h0m1-7h0m1-6h0m-1-5h0m-1-7h0m2-6h0m-2-5h0m1-6h0m-1-6h0m0-6h0m1-7h0m0-4h0m0-8h0m-1-5h0m0-7h0m1-5h0m0-5h0m12 155h0m1-6h0m-1-7h0m0-5h0m0-6h0m0-7h0m1-24h0m-1-5h0m1-6h0m0-6h0m0-7h0m0-5h0m0-6h0m0-7h0m0-5h0m0-7h0m-1-6h0m0-35h0m0-7h0m1 0h0m12 157h0m-1-6h0m0-7h0m1-6h0m1-5h0m-1-5h0m0-6h0m0-7h0m1-6h0m-1-6h0m-1-6h0m0-5h0m1-13h0m1-6h0m-1-6h0m-1-5h0m1-7h0m1-7h0m-1-5h0m-1-6h0m2-25h0m-1-5h0m0-7h0m-1-4h0m2-8h0m-2-5h0m1-6h0m10 149h0m-1-5h0m1-6h0m-1-5h0m0-7h0m1-6h0m0-24h0m0-6h0m-1-6h0m1-7h0m0-5h0m0-25h0m-1-4h0m0-6h0m0-7h0m1-6h0m0-6h0m-1-4h0m10 136h0m1-6h0m0-7h0m0-5h0m-1-6h0m1-7h0m1-6h0m-1-5h0m-1-6h0m0-7h0m2-5h0m-1-5h0m-1-36h0m1-7h0m1-6h0m0-7h0m-2-5h0m1-6h0m0-6h0m1-6h0m0-6h0m-1-6h0m1-6h0m9 192h0m1-5h0m-1-8h0m0-6h0m1-6h0m-1-5h0m0-6h0m0-6h0m0-6h0m1-5h0m-1-7h0m1-6h0m0-5h0m0-8h0m0-6h0m-1-5h0m1-6h0m0-19h0m-1-6h0m40 121h0m0-6h0m1-7h0m0-4h0m0-6h0m0-8h0m-1-6h0m0-5h0m0-5h0m1-7h0m0-5h0m-1-8h0m1-5h0m0-6h0m0-6h0m0-5h0m0-8h0m-1-6h0m1-6h0m0-5h0m-1-5h0m1-7h0m-1-5h0m0-7h0m0-6h0m1-6h0m-1-6h0m0-7h0m0-5h0m0-2h0m-81-65h0m0 11h0m-14 23h0m13-5h0m10-4h0m53-24h0m-4 10h0m-7 10h0m12 7h0m18-19h0m0 12h0m0 10h0"/><path id="q10_0" d="M1704 333h0m2 139h0m8 0h0m-37 9h0m-22 15h0m75-6h0m-50 23h0m-18 5h0m68-5h0m-53 38h0"/><linearGradient id="r10_1" gradientUnits="userSpaceOnUse" x1="0" y1="1610.8" x2="0" y2="1171.6"><stop offset="0.0000" stop-color="#0a2e1e"/><stop offset="0.2000" stop-color="#0a2e1e"/><stop offset="0.2833" stop-color="#082416"/><stop offset="0.3667" stop-color="#06160e"/><stop offset="0.4667" stop-color="#0a0a0a"/><stop offset="1.0000" stop-color="#0a0a0a"/></linearGradient><linearGradient id="f10_1" gradientUnits="userSpaceOnUse" x1="0" y1="1610.8" x2="0" y2="1171.6"><stop offset="0.0000" stop-color="#1e6e4e"/><stop offset="0.2000" stop-color="#1e6e4e"/><stop offset="0.2833" stop-color="#145238"/><stop offset="0.3667" stop-color="#0e2e20"/><stop offset="0.4667" stop-color="#111111"/><stop offset="1.0000" stop-color="#111111"/></linearGradient><path id="p10_1" d="M1635 1611h0m0-5h0m-1-5h0m0-4h0m0-6h0m0-4h0m1-4h0m0-6h0m0-4h0m0-5h0m-1-5h0m1-5h0m-1-5h0m0-4h0m0-6h0m0-5h0m0-4h0m0-6h0m0-3h0m0-5h0m0-5h0m1-5h0m0-5h0m-1-5h0m0-4h0m1-5h0m-1-4h0m4 124h0m1-6h0m0-3h0m-1-6h0m0-4h0m-1-6h0m2-4h0m0-4h0m-1-5h0m-1-5h0m2-5h0m0-5h0m0-5h0m0-4h0m-1-5h0m0-6h0m-1-4h0m0-5h0m1-4h0m1-6h0m0-4h0m0-5h0m-1-5h0m1-4h0m0-6h0m0-3h0m-2-4h0m5 123h0m-1-4h0m2-6h0m-1-5h0m1-5h0m0-4h0m-1-5h0m0-10h0m-1-4h0m1-5h0m1-6h0m0-4h0m0-4h0m-1-6h0m1-4h0m-1-5h0m1-5h0m0-5h0m0-5h0m0-5h0m0-4h0m-1-4h0m1-5h0m-1-6h0m0-4h0m0-3h0m5 123h0m-1-4h0m-1-6h0m1-4h0m0-5h0m0-6h0m1-18h0m0-5h0m-1-5h0m-1-4h0m1-6h0m1-4h0m-1-5h0m1-5h0m0-4h0m0-5h0m0-5h0m0-5h0m0-24h0m-1-4h0m1-3h0m3 127h0m1-5h0m-1-4h0m1-6h0m-1-4h0m1-5h0m0-20h0m0-5h0m-2-4h0m2-5h0m0-5h0m-1-4h0m0-5h0m1-5h0m0-4h0m0-5h0m-2-5h0m1-30h0m0-3h0m1-2h0m4 126h0m-2-4h0m2-6h0m-1-4h0m0-6h0m0-4h0m0-20h0m1-4h0m-1-5h0m1-5h0m0-5h0m-2-5h0m0-5h0m1-5h0m0-4h0m0-4h0m-1-6h0m1-29h0m0-4h0m-1-2h0m5 126h0m0-3h0m0-6h0m0-5h0m0-5h0m1-4h0m0-4h0m-1-10h0m0-6h0m-1-4h0m2-4h0m0-11h0m-1-5h0m0-5h0m0-4h0m1-5h0m-1-4h0m0-5h0m0-29h0m0-4h0m1-3h0m4 127h0m0-4h0m-1-5h0m-1-6h0m1-5h0m0-4h0m0-5h0m0-4h0m1-5h0m0-5h0m-1-6h0m0-19h0m0-4h0m1-4h0m0-7h0m0-3h0m-2-5h0m2-5h0m-1-5h0m1-5h0m-1-9h0m1-5h0m0-5h0m-1-5h0m0-3h0m5 133h0m-1-19h0m0-5h0m0-5h0m-1-4h0m2-5h0m0-5h0m-1-4h0m0-21h0m1-3h0m0-7h0m-1-3h0m-1-5h0m1-16h0m-1-4h0m2-4h0m-1-6h0m1-3h0m0-6h0m-1-4h0m0-4h0m5 110h0m-1-7h0m1-3h0m-1-6h0m-1-4h0m1-5h0m0-20h0m1-4h0m-2-5h0m2-4h0m-2-5h0m1-20h0m0-4h0m0-6h0m0-4h0m1-4h0m0-6h0m-1-3h0m4 104h0m0-5h0m0-4h0m0-5h0m0-5h0m0-19h0m1-6h0m-1-4h0m0-28h0m0-6h0m0-5h0m1-5h0m-1-4h0m0-5h0m0-3h0m5 108h0m-1-4h0m1-4h0m0-6h0m-1-4h0m1-5h0m-1-5h0m1-9h0m-1-5h0m1-5h0m-1-5h0m0-29h0m-1-5h0m2-5h0m-1-3h0m1-5h0m0-5h0m-1-5h0m1-5h0m-1-7h0m1-4h0m-2-5h0m6 136h0m-1-6h0m1-3h0m-1-6h0m0-4h0m0-5h0m0-5h0m0-5h0m-1-5h0m0-4h0m1-5h0m-1-6h0m1-28h0m0-5h0m-1-10h0m1-4h0m1-6h0m-1-4h0m0-5h0m0-5h0m1-5h0m0-5h0m-1-4h0m4 154h0m0-6h0m1-4h0m-1-4h0m0-5h0m0-5h0m1-5h0m0-5h0m0-5h0m-2-4h0m1-6h0m0-4h0m0-5h0m0-5h0m0-5h0m0-4h0m0-5h0m1-14h0m-1-6h0m1-28h0m3 125h0m0-6h0m1-3h0m-1-10h0m1-5h0m0-5h0m0-5h0m-1-5h0m0-4h0m0-6h0m1-4h0m0-4h0m-1-5h0m0-5h0m0-5h0m1-5h0m0-14h0m-2-5h0m4 96h0m2-6h0m-1-18h0m1-4h0m-1-6h0m1-4h0m-1-6h0m1-5h0m-1-5h0m1-5h0m-1-3h0m0-5h0m0-5h0m-1-5h0m0-4h0m2-5h0m-1-5h0m5 91h0m-1-6h0m0-19h0m1-4h0m0-6h0m0-3h0m-1-6h0m0-3h0m0-6h0m1-4h0m-1-15h0m1-5h0m0-5h0m-1-5h0m1-4h0m3 91h0m0-5h0m0-24h0m1-5h0m-1-5h0m0-5h0m0-4h0m0-5h0m1-5h0m-1-20h0m1-3h0m-1-5h0m1-6h0m0-4h0m-2-34h0m2-4h0m0-6h0m-1-5h0m1-3h0m2 148h0m1-5h0m1-20h0m0-3h0m-2-6h0m2-5h0m-1-4h0m0-5h0m1-4h0m-1-6h0m1-19h0m-1-4h0m1-5h0m0-6h0m0-4h0m0-29h0m-2-4h0m1-5h0m-1-6h0m2-5h0m0-3h0m3 148h0m0-5h0m1-5h0m-2-15h0m2-3h0m-1-6h0m0-5h0m0-5h0m1-3h0m-1-6h0m0-5h0m1-15h0m0-4h0m0-5h0m0-5h0m-1-4h0m-1-5h0m1-6h0m0-19h0m0-5h0m0-3h0m1-5h0m0-6h0m-2-6h0m2-1h0m4 147h0m0-5h0m0-4h0m-1-5h0m1-5h0m0-5h0m-1-5h0m1-5h0m-1-5h0m0-4h0m1-5h0m0-5h0m-1-5h0m1-5h0m0-9h0m0-5h0m0-5h0m-1-4h0m0-5h0m1-5h0m-2-6h0m2-3h0m0-6h0m-1-5h0m0-5h0m0-4h0m0-5h0m1-4h0m-2-6h0m1-5h0m1-3h0m3 148h0m1-5h0m-2-4h0m1-6h0m0-5h0m0-4h0m0-4h0m1-6h0m0-5h0m-1-4h0m0-5h0m0-5h0m1-4h0m-1-5h0m0-5h0m1-6h0m-1-5h0m0-3h0m1-6h0m-1-5h0m1-4h0m-1-5h0m0-5h0m0-5h0m1-4h0m-1-5h0m1-5h0m-2-5h0m1-2h0m4 132h0m0-5h0m0-5h0m0-5h0m1-4h0m0-6h0m0-5h0m0-3h0m-1-5h0m0-6h0m0-4h0m1-5h0m-1-5h0m1-5h0m0-5h0m-1-4h0m1-4h0m0-6h0m-1-5h0m1-5h0m-1-4h0m-1-5h0m1-4h0m1-5h0m0-5h0m0-6h0m-1-5h0m0-3h0m1-4h0m4 133h0m0-5h0m0-5h0m0-5h0m-1-5h0m1-3h0m-1-7h0m0-4h0m1-4h0m0-6h0m-1-4h0m1-5h0m-1-5h0m0-4h0m1-5h0m0-6h0m0-4h0m-1-4h0m0-6h0m1-4h0m-1-5h0m0-5h0m0-4h0m1-5h0m0-5h0m0-5h0m-1-5h0m1-5h0m-1-3h0m5 133h0m-1-6h0m1-4h0m-1-4h0m0-5h0m1-6h0m-1-5h0m1-4h0m-1-4h0m1-6h0m-1-4h0m1-5h0m-1-4h0m0-6h0m0-4h0m0-5h0m0-5h0m0-5h0m1-4h0m-2-6h0m0-4h0m1-4h0m1-6h0m0-4h0m0-5h0m-2-5h0m2-5h0m-1-4h0m1-6h0m-1-2h0m-95 137h0m0-4h0m-1-5h0m2-6h0m0-5h0m-2-4h0m2-5h0m-1-5h0m0-5h0m1-4h0m-2-5h0m1-5h0m1-6h0m-1-3h0m-1-6h0m2-5h0m-2-4h0m1-5h0m-1-4h0m0-5h0m1-6h0m0-3h0m0-6h0m-1-4h0m0-6h0m1-4h0m0-4h0m12 124h0m1-5h0m-1-5h0m0-4h0m0-5h0m0-6h0m1-19h0m-1-4h0m1-4h0m0-6h0m0-5h0m0-4h0m0-5h0m0-5h0m0-4h0m0-6h0m-1-5h0m0-28h0m0-5h0m1-1h0m12 126h0m-1-5h0m0-5h0m1-5h0m1-4h0m-1-5h0m0-4h0m0-6h0m1-5h0m-1-4h0m-1-5h0m0-4h0m1-10h0m1-5h0m-1-5h0m-1-4h0m1-5h0m1-6h0m-1-4h0m-1-5h0m2-20h0m-1-4h0m0-5h0m-1-4h0m2-6h0m-2-5h0m1-5h0m10 121h0m-1-5h0m1-4h0m-1-5h0m0-5h0m1-5h0m0-20h0m0-4h0m-1-5h0m1-5h0m0-5h0m0-20h0m-1-3h0m0-5h0m0-5h0m1-5h0m0-5h0m-1-3h0m10 109h0m1-5h0m0-6h0m0-3h0m-1-6h0m1-5h0m1-4h0m-1-5h0m-1-4h0m0-6h0m2-4h0m-1-4h0m-1-29h0m1-6h0m1-4h0m0-6h0m-2-4h0m1-5h0m0-4h0m1-6h0m0-5h0m-1-5h0m1-5h0m9 155h0m1-4h0m-1-6h0m0-5h0m1-5h0m-1-4h0m0-5h0m0-4h0m0-6h0m1-4h0m-1-5h0m1-5h0m0-4h0m0-6h0m0-5h0m-1-4h0m1-5h0m0-15h0m-1-5h0m40 97h0m0-5h0m1-5h0m0-4h0m0-5h0m0-6h0m-1-5h0m0-4h0m0-4h0m1-5h0m0-5h0m-1-6h0m1-4h0m0-4h0m0-6h0m0-3h0m0-6h0m-1-5h0m1-5h0m0-5h0m-1-4h0m1-5h0m-1-4h0m0-6h0m0-4h0m1-5h0m-1-5h0m0-6h0m0-4h0m0-2h0m-81-55h0m0 10h0m-14 19h0m13-4h0m10-3h0m53-21h0m-4 9h0m-7 8h0m12 6h0m18-16h0m0 10h0m0 9h0"/><path id="q10_1" d="M1704 1230.8h0m2 130.4h0m8 0h0m-37 8.1h0m-22 13.5h0m75-5.4h0m-50 20.5h0m-18 4.4h0m68-4.4h0m-53 33.3h0"/><linearGradient id="r11_0" gradientUnits="userSpaceOnUse" x1="0" y1="771.8" x2="0" y2="222.8"><stop offset="0.0000" stop-color="#0b3f78"/><stop offset="0.2500" stop-color="#0b3f78"/><stop offset="0.3333" stop-color="#0c4076"/><stop offset="0.3833" stop-color="#0b386a"/><stop offset="0.4333" stop-color="#0a3060"/><stop offset="0.5333" stop-color="#0a2a56"/><stop offset="1.0000" stop-color="#08244c"/></linearGradient><linearGradient id="f11_0" gradientUnits="userSpaceOnUse" x1="0" y1="771.8" x2="0" y2="222.8"><stop offset="0.0000" stop-color="#4396da"/><stop offset="0.2500" stop-color="#4396da"/><stop offset="0.3333" stop-color="#2e78c0"/><stop offset="0.3833" stop-color="#1f5ea6"/><stop offset="0.4333" stop-color="#164a8c"/><stop offset="0.5333" stop-color="#123a78"/><stop offset="1.0000" stop-color="#10306a"/></linearGradient><path id="p11_0" d="M1750 772h0m0-7h0m1-5h0m-1-7h0m1-6h0m0-6h0m0-5h0m0-5h0m-1-7h0m1-5h0m0-6h0m0-7h0m-1-7h0m0-6h0m1-23h0m0-6h0m0-5h0m-1-7h0m1-6h0m-1-6h0m0-24h0m0-5h0m0-8h0m1-23h0m-1-7h0m1-3h0m3 202h0m0-6h0m0-6h0m0-6h0m0-6h0m1-5h0m-1-7h0m0-6h0m0-7h0m1-6h0m-1-6h0m0-5h0m0-7h0m-1-5h0m1-5h0m0-20h0m1-5h0m-1-7h0m0-5h0m0-6h0m0-6h0m1-18h0m-2-7h0m0-6h0m1-5h0m0-6h0m1-19h0m0-5h0m0-1h0m3 199h0m0-5h0m0-7h0m1-6h0m0-7h0m0-5h0m-2-5h0m0-8h0m1-4h0m1-7h0m-1-6h0m0-5h0m0-7h0m0-7h0m1-6h0m-1-5h0m1-6h0m-1-5h0m1-7h0m0-5h0m-2-8h0m1-6h0m1-5h0m-1-5h0m0-7h0m1-6h0m0-7h0m-1-6h0m1-5h0m0-7h0m-1-6h0m1-4h0m0-7h0m-1-4h0m4 196h0m1-6h0m-1-6h0m0-7h0m0-4h0m1-8h0m-2-6h0m2-5h0m0-6h0m0-6h0m0-6h0m0-6h0m-1-7h0m-1-4h0m2-7h0m0-5h0m-2-7h0m1-6h0m0-7h0m1-5h0m-2-6h0m1-7h0m-1-5h0m1-5h0m0-7h0m0-7h0m0-6h0m0-6h0m1-6h0m-1-6h0m1-4h0m-1-7h0m0-6h0m0-4h0m5 195h0m0-5h0m0-6h0m-1-6h0m0-7h0m1-5h0m0-5h0m-1-8h0m1-6h0m-1-5h0m-1-6h0m2-7h0m0-6h0m-1-6h0m0-5h0m0-6h0m0-7h0m0-5h0m1-7h0m-1-5h0m0-6h0m1-6h0m-1-6h0m1-6h0m0-7h0m-1-6h0m0-6h0m-1-5h0m1-6h0m0-7h0m1-5h0m0-6h0m-2-6h0m1-1h0m5 193h0m-2-6h0m1-6h0m0-6h0m0-7h0m0-5h0m0-5h0m1-7h0m-2-6h0m2-7h0m0-5h0m-2-5h0m1-7h0m0-6h0m0-6h0m0-5h0m1-7h0m-1-6h0m-1-5h0m1-8h0m1-6h0m-1-5h0m0-7h0m0-5h0m0-6h0m0-6h0m0-6h0m0-6h0m0-6h0m1-7h0m0-6h0m-1-6h0m0-4h0m5 191h0m-1-7h0m-1-5h0m1-6h0m0-6h0m-1-6h0m1-6h0m0-6h0m0-7h0m0-5h0m0-6h0m0-5h0m0-6h0m0-8h0m0-6h0m0-6h0m1-6h0m0-5h0m-1-7h0m0-4h0m-1-6h0m1-7h0m0-5h0m0-8h0m1-6h0m0-6h0m-1-6h0m1-5h0m-1-7h0m0 1h0m4 167h0m0-6h0m1-6h0m-2-4h0m1-7h0m-1-7h0m1-5h0m1-5h0m-2-7h0m0-6h0m2-6h0m-1-6h0m1-5h0m-2-8h0m1-6h0m1-5h0m-1-7h0m0-4h0m1-7h0m-2-6h0m1-6h0m1-7h0m-2-4h0m1-8h0m0-5h0m1-7h0m-1-6h0m1-6h0m-1-2h0m5 165h0m-2-7h0m1-5h0m-1-6h0m2-5h0m-1-7h0m0-6h0m1-6h0m-1-6h0m1-7h0m0-5h0m0-6h0m0-7h0m-1-5h0m0-7h0m0-5h0m0-5h0m0-6h0m1-8h0m-1-5h0m0-6h0m1-6h0m-1-5h0m-1-8h0m2-5h0m-2-6h0m2-6h0m-1-6h0m1-3h0m3 165h0m0-6h0m0-7h0m0-6h0m0-5h0m-1-6h0m2-5h0m0-7h0m-1-7h0m1-5h0m-1-5h0m1-7h0m0-7h0m-1-6h0m0-5h0m0-6h0m0-7h0m-1-5h0m2-5h0m0-7h0m-2-6h0m1-7h0m-1-5h0m0-6h0m0-6h0m0-5h0m2-8h0m-2-4h0m2-4h0m3 165h0m1-6h0m-1-7h0m0-5h0m1-6h0m-1-7h0m0-4h0m-1-7h0m2-6h0m0-6h0m-1-6h0m-1-7h0m0-5h0m2-7h0m0-23h0m0-6h0m-1-7h0m0-5h0m1-6h0m-1-7h0m0-6h0m0-5h0m-1-6h0m2-7h0m-1-4h0m1-5h0m4 166h0m-1-5h0m0-8h0m0-4h0m0-7h0m0-7h0m0-6h0m1-5h0m-2-6h0m2-7h0m0-24h0m-1-29h0m1-7h0m-1-6h0m0-29h0m0-7h0m0-6h0m1-3h0m4 166h0m-1-6h0m0-6h0m1-6h0m0-7h0m-1-5h0m1-7h0m-1-6h0m0-6h0m1-5h0m0-55h0m-1-5h0m0-48h0m1-4h0m3 165h0m1-6h0m-1-5h0m-1-6h0m1-5h0m-1-7h0m1-7h0m1-4h0m-1-6h0m0-7h0m0-54h0m1-53h0m-1-5h0m5 166h0m0-6h0m-2-6h0m2-6h0m-1-5h0m0-7h0m0-7h0m0-6h0m0-4h0m0-7h0m1-25h0m-1-24h0m1-6h0m0-4h0m-1-48h0m0-4h0m5 165h0m0-6h0m0-7h0m-1-4h0m1-8h0m-2-6h0m1-5h0m1-5h0m-1-7h0m0-5h0m0-25h0m0-6h0m-1-6h0m1-6h0m1-6h0m-1-7h0m0-4h0m1-49h0m0-4h0m4 166h0m-1-6h0m0-7h0m0-5h0m1-5h0m0-7h0m0-6h0m0-6h0m-1-6h0m0-6h0m1-7h0m0-6h0m-1-6h0m1-5h0m-1-7h0m1-6h0m0-6h0m0-6h0m-1-4h0m0-7h0m0-49h0m0-3h0m5 166h0m0-6h0m0-6h0m0-7h0m-1-4h0m0-7h0m-1-5h0m2-7h0m0-6h0m-1-6h0m-1-7h0m1-6h0m1-4h0m-2-7h0m2-7h0m-1-5h0m1-6h0m-1-6h0m-1-7h0m1-6h0m0-5h0m1-5h0m-1-25h0m0-5h0m1-4h0m4 159h0m-1-7h0m-1-5h0m2-7h0m-1-5h0m0-6h0m0-6h0m-1-6h0m1-6h0m0-6h0m0-7h0m0-5h0m0-6h0m1-6h0m-1-7h0m0-4h0m-1-6h0m1-7h0m0-6h0m1-6h0m-1-7h0m0-5h0m0-7h0m1-5h0m-1-6h0m1-7h0m0-6h0m-1-2h0m4 159h0m1-7h0m-1-5h0m1-7h0m-2-5h0m1-7h0m0-6h0m1-4h0m-1-7h0m1-7h0m-1-5h0m-1-7h0m0-4h0m1-7h0m0-7h0m1-5h0m-2-6h0m2-6h0m-1-7h0m1-5h0m-1-7h0m1-6h0m0-6h0m-1-5h0m0-6h0m0-6h0m1-7h0m-1-3h0m4 160h0m0-6h0m-1-6h0m0-6h0m0-6h0m2-6h0m-1-6h0m0-7h0m1-6h0m0-6h0m-1-6h0m0-5h0m-1-7h0m2-6h0m0-4h0m-1-6h0m1-7h0m-2-7h0m2-5h0m0-6h0m-1-6h0m0-6h0m1-5h0m-1-7h0m0-6h0m0-6h0m1-6h0m-1-4h0m5 159h0m-1-6h0m-1-5h0m2-5h0m-1-8h0m1-6h0m0-6h0m0-6h0m-1-5h0m1-6h0m-1-5h0m1-7h0m0-6h0m0-6h0m0-6h0m0-6h0m-1-24h0m-1-7h0m1-5h0m1-7h0m0-6h0m-2-5h0m1-6h0m0-6h0m1-4h0m3 160h0m-1-7h0m0-6h0m2-6h0m0-6h0m-1-5h0m1-7h0m-1-6h0m1-6h0m0-5h0m-1-6h0m-1-6h0m2-7h0m0-6h0m-1-5h0m1-6h0m0-31h0m-1-5h0m0-13h0m-1-5h0m6 144h0m-2-7h0m2-5h0m-1-5h0m1-8h0m-1-5h0m1-7h0m-2-5h0m2-7h0m-1-6h0m0-4h0m-1-8h0m0-4h0m1-8h0m1-5h0m-1-6h0m0-30h0m1-24h0m3 144h0m-1-7h0m0-4h0m1-7h0m0-7h0m0-4h0m0-7h0m0-6h0m0-5h0m1-8h0m-1-6h0m0-5h0m1-6h0m0-7h0m0-5h0m-1-7h0m1-23h0m-1-6h0m5 120h0m0-7h0m-1-5h0m-1-7h0m2-5h0m-1-6h0m1-7h0m-1-5h0m0-5h0m0-7h0m1-7h0m-1-5h0m0-5h0m1-8h0m0-4h0m-2-7h0m1-7h0m1-4h0m0-7h0m-2-6h0m1-6h0m4 120h0m0-7h0m0-5h0m0-5h0m0-8h0m0-5h0m-1-6h0m1-7h0m0-5h0m0-6h0m0-6h0m1-7h0m-1-5h0m0-6h0m0-5h0m1-8h0m0-5h0m-2-7h0m2-6h0m-1-5h0m0-6h0m0-24h0m-1-7h0m2-4h0m0-6h0m4 161h0m0-7h0m-1-4h0m0-7h0m0-7h0m0-5h0m1-7h0m-2-4h0m1-6h0m0-7h0m0-6h0m1-7h0m0-5h0m0-6h0m0-6h0m-1-5h0m0-7h0m0-6h0m-1-6h0m1-7h0m1-5h0m-1-24h0m1-5h0m-1-8h0m0-4h0m3 161h0m0-6h0m1-6h0m0-7h0m1-6h0m-1-5h0m0-6h0m0-7h0m0-5h0m0-6h0m1-6h0m-1-6h0m0-5h0m0-7h0m1-6h0m-1-6h0m1-6h0m-1-6h0m1-5h0m0-8h0m-1-5h0m1-18h0m-1-7h0m0-6h0m0-6h0m1-4h0m3 161h0m1-6h0m-2-5h0m1-8h0m0-4h0m0-7h0m0-5h0m1-7h0m-1-7h0m0-4h0m0-7h0m1-6h0m-1-6h0m1-6h0m0-6h0m-2-6h0m2-6h0m-1-7h0m1-5h0m-2-7h0m1-5h0m1-6h0m0-7h0m-1-6h0m1-6h0m0-6h0m-1-6h0m1-6h0m-1-6h0m1-6h0m-1-4h0m1-5h0m4 184h0m-2-6h0m0-5h0m1-6h0m1-7h0m-1-7h0m1-5h0m0-7h0m-2-5h0m1-6h0m0-7h0m1-4h0m0-7h0m-1-6h0m0-6h0m1-6h0m-1-7h0m1-5h0m-1-6h0m-1-6h0m1-6h0m0-6h0m0-6h0m0-7h0m0-5h0m0-6h0m1-7h0m-2-6h0m2-6h0m-1-6h0m0-5h0m1-4h0m3 184h0m1-6h0m-2-7h0m0-6h0m1-6h0m0-5h0m0-6h0m-1-7h0m0-5h0m1-5h0m0-7h0m1-5h0m0-7h0m-1-5h0m1-8h0m-1-4h0m1-8h0m0-4h0m-1-7h0m0-5h0m1-8h0m-1-5h0m0-7h0m0-5h0m1-6h0m0-7h0m0-5h0m0-6h0m0-7h0m-1-5h0m0-6h0m1-5h0m-124 185h0m-1-5h0m0-8h0m1-4h0m-1-8h0m0-6h0m1-5h0m-1-5h0m1-7h0m-1-6h0m1-7h0m-1-4h0m0-7h0m0-6h0m0-25h0m0-5h0m0-6h0m0-6h0m1-6h0m0-5h0m-1-25h0m0-7h0m1-6h0m0-23h0m0-7h0m0-4h0m38 203h0m0-6h0m-1-7h0m0-6h0m1-4h0m0-8h0m0-5h0m1-6h0m-2-6h0m2-5h0m-2-7h0m0-5h0m0-7h0m1-5h0m-1-7h0m0-19h0m1-6h0m-1-5h0m0-7h0m2-5h0m-1-6h0m0-6h0m0-6h0m-1-6h0m2-5h0m-1-8h0m0-3h0m20 165h0m0-6h0m0-6h0m1-5h0m-1-6h0m-1-6h0m0-7h0m2-5h0m-1-7h0m-1-4h0m0-26h0m0-4h0m1-14h0m-1-6h0m0-5h0m1-5h0m0-50h0m0-3h0m21 166h0m0-6h0m-1-6h0m1-6h0m-2-5h0m1-7h0m0-7h0m1-6h0m0-5h0m-1-6h0m0-7h0m0-5h0m0-6h0m1-6h0m0-5h0m-2-8h0m1-6h0m0-6h0m0-6h0m0-5h0m0-6h0m0-7h0m0-5h0m0-6h0m-1-6h0m1-7h0m0-5h0m1-4h0m15 160h0m0-6h0m0-5h0m0-7h0m1-6h0m-1-7h0m1-6h0m-1-5h0m0-5h0m-1-8h0m1-5h0m-1-6h0m1-6h0m0-6h0m1-6h0m-1-7h0m0-24h0m0-6h0m1-22h0m9 143h0m1-7h0m0-6h0m1-4h0m-2-7h0m0-7h0m2-5h0m-1-7h0m1-5h0m0-7h0m-2-4h0m1-7h0m0-5h0m-1-6h0m1-7h0m-1-6h0m0-6h0m1-6h0m0-6h0m-1-7h0m0-4h0m1-24h0m1-6h0m-2-8h0m1-3h0m15 160h0m-1-7h0m1-6h0m-2-5h0m2-7h0m-2-4h0m1-8h0m0-6h0m0-5h0m1-7h0m-1-5h0m0-6h0m0-7h0m-1-5h0m0-7h0m2-5h0m-1-6h0m0-7h0m0-4h0m0-6h0m1-7h0m0-7h0m0-6h0m-1-5h0m-1-7h0m0-6h0m2-5h0m-1-6h0m-1-7h0m0-4h0m0-6h0m2-4h0m6 182h0m1-5h0m-1-7h0m0-6h0m1-5h0m0-6h0m-1-7h0m0-6h0m0-6h0m0-5h0m1-6h0m-1-6h0m1-7h0m-1-4h0m0-7h0m0-7h0m1-6h0m-1-6h0m1-4h0m0-8h0m0 0h0"/><path id="q11_0" d="M1762.7 85.5h0m-0.7 176.5h0m4 89h0m0 58h0m-16 2h0m23 38h0m-7 69h0m-16-6h0m0-6h0m46-61h0m0 37h0m46 17h0m-48 17h0m73 3h0m-37 13h0m28 4h0m-63 17h0m0 14h0m37-4h0m38 4h0m-75 25h0m28-10h0m7 8h0m-4-4h0"/><linearGradient id="r11_1" gradientUnits="userSpaceOnUse" x1="0" y1="1610.8" x2="0" y2="1171.6"><stop offset="0.0000" stop-color="#0b3f78"/><stop offset="0.2500" stop-color="#0b3f78"/><stop offset="0.3333" stop-color="#0c4076"/><stop offset="0.3833" stop-color="#0b386a"/><stop offset="0.4333" stop-color="#0a3060"/><stop offset="0.5333" stop-color="#0a2a56"/><stop offset="1.0000" stop-color="#08244c"/></linearGradient><linearGradient id="f11_1" gradientUnits="userSpaceOnUse" x1="0" y1="1610.8" x2="0" y2="1171.6"><stop offset="0.0000" stop-color="#4396da"/><stop offset="0.2500" stop-color="#4396da"/><stop offset="0.3333" stop-color="#2e78c0"/><stop offset="0.3833" stop-color="#1f5ea6"/><stop offset="0.4333" stop-color="#164a8c"/><stop offset="0.5333" stop-color="#123a78"/><stop offset="1.0000" stop-color="#10306a"/></linearGradient><path id="p11_1" d="M1750 1611h0m0-5h0m1-5h0m-1-5h0m1-5h0m0-5h0m0-4h0m0-4h0m-1-5h0m1-5h0m0-4h0m0-6h0m-1-5h0m0-5h0m1-18h0m0-6h0m0-4h0m-1-5h0m1-5h0m-1-5h0m0-19h0m0-4h0m0-6h0m1-20h0m-1-5h0m1-4h0m3 164h0m0-5h0m0-4h0m0-6h0m0-4h0m1-5h0m-1-5h0m0-5h0m0-5h0m1-5h0m-1-5h0m0-4h0m0-6h0m-1-3h0m1-5h0m0-15h0m1-4h0m-1-6h0m0-4h0m0-4h0m0-5h0m1-15h0m-2-6h0m0-5h0m1-4h0m0-5h0m1-16h0m0-4h0m0-1h0m3 161h0m0-4h0m0-5h0m1-5h0m0-6h0m0-4h0m-2-4h0m0-6h0m1-4h0m1-5h0m-1-5h0m0-4h0m0-6h0m0-5h0m1-5h0m-1-4h0m1-5h0m-1-4h0m1-5h0m0-5h0m-2-6h0m1-5h0m1-4h0m-1-4h0m0-5h0m1-5h0m0-6h0m-1-4h0m1-4h0m0-7h0m-1-4h0m1-4h0m0-6h0m-1-4h0m4 159h0m1-5h0m-1-5h0m0-5h0m0-4h0m1-5h0m-2-6h0m2-4h0m0-4h0m0-5h0m0-5h0m0-5h0m-1-5h0m-1-4h0m2-5h0m0-4h0m-2-6h0m1-5h0m0-5h0m1-4h0m-2-5h0m1-5h0m-1-4h0m1-5h0m0-5h0m0-6h0m0-4h0m0-5h0m1-6h0m-1-4h0m1-4h0m-1-6h0m0-5h0m0-3h0m5 158h0m0-5h0m0-5h0m-1-5h0m0-5h0m1-4h0m0-4h0m-1-6h0m1-5h0m-1-4h0m-1-5h0m2-6h0m0-4h0m-1-5h0m0-4h0m0-5h0m0-5h0m0-5h0m1-5h0m-1-4h0m0-5h0m1-5h0m-1-4h0m1-6h0m0-5h0m-1-5h0m0-5h0m-1-4h0m1-5h0m0-6h0m1-3h0m0-6h0m-2-5h0m1-1h0m5 156h0m-2-5h0m1-5h0m0-4h0m0-6h0m0-4h0m0-4h0m1-5h0m-2-6h0m2-5h0m0-4h0m-2-4h0m1-6h0m0-4h0m0-5h0m0-5h0m1-5h0m-1-4h0m-1-5h0m1-6h0m1-4h0m-1-5h0m0-5h0m0-5h0m0-4h0m0-5h0m0-5h0m0-4h0m0-6h0m1-6h0m0-5h0m-1-5h0m0-3h0m5 154h0m-1-5h0m-1-5h0m1-5h0m0-4h0m-1-5h0m1-5h0m0-4h0m0-6h0m0-4h0m0-5h0m0-4h0m0-5h0m0-6h0m0-5h0m0-5h0m1-4h0m0-4h0m-1-6h0m0-4h0m-1-5h0m1-5h0m0-4h0m0-6h0m1-5h0m0-5h0m-1-5h0m1-4h0m-1-5h0m0 1h0m4 133h0m0-4h0m1-5h0m-2-4h0m1-5h0m-1-6h0m1-4h0m1-4h0m-2-6h0m0-4h0m2-5h0m-1-5h0m1-4h0m-2-6h0m1-5h0m1-4h0m-1-5h0m0-4h0m1-6h0m-2-4h0m1-5h0m1-6h0m-2-3h0m1-6h0m0-4h0m1-5h0m-1-6h0m1-4h0m-1-2h0m5 132h0m-2-5h0m1-5h0m-1-4h0m2-5h0m-1-5h0m0-5h0m1-5h0m-1-4h0m1-6h0m0-4h0m0-5h0m0-5h0m-1-5h0m0-5h0m0-4h0m0-4h0m0-5h0m1-6h0m-1-4h0m0-5h0m1-5h0m-1-4h0m-1-6h0m2-4h0m-2-5h0m2-5h0m-1-4h0m1-3h0m3 132h0m0-5h0m0-5h0m0-5h0m0-4h0m-1-5h0m2-4h0m0-6h0m-1-5h0m1-4h0m-1-4h0m1-6h0m0-5h0m-1-5h0m0-4h0m0-5h0m0-6h0m-1-4h0m2-4h0m0-5h0m-2-5h0m1-5h0m-1-5h0m0-5h0m0-4h0m0-4h0m2-7h0m-2-3h0m2-3h0m3 132h0m1-4h0m-1-6h0m0-4h0m1-5h0m-1-6h0m0-3h0m-1-6h0m2-5h0m0-4h0m-1-5h0m-1-5h0m0-4h0m2-6h0m0-19h0m0-4h0m-1-6h0m0-4h0m1-5h0m-1-5h0m0-5h0m0-4h0m-1-5h0m2-6h0m-1-3h0m1-4h0m4 133h0m-1-4h0m0-6h0m0-4h0m0-5h0m0-6h0m0-4h0m1-4h0m-2-5h0m2-6h0m0-19h0m-1-23h0m1-6h0m-1-5h0m0-23h0m0-5h0m0-6h0m1-2h0m4 133h0m-1-5h0m0-5h0m1-5h0m0-5h0m-1-4h0m1-6h0m-1-5h0m0-4h0m1-4h0m0-44h0m-1-4h0m0-39h0m1-3h0m3 132h0m1-4h0m-1-4h0m-1-6h0m1-4h0m-1-5h0m1-5h0m1-4h0m-1-5h0m0-5h0m0-44h0m1-42h0m-1-4h0m5 133h0m0-5h0m-2-5h0m2-4h0m-1-5h0m0-5h0m0-5h0m0-5h0m0-4h0m0-5h0m1-20h0m-1-19h0m1-5h0m0-4h0m-1-38h0m0-3h0m5 132h0m0-5h0m0-5h0m-1-4h0m1-6h0m-2-5h0m1-4h0m1-4h0m-1-5h0m0-5h0m0-20h0m0-4h0m-1-5h0m1-5h0m1-4h0m-1-6h0m0-4h0m1-39h0m0-3h0m4 133h0m-1-4h0m0-6h0m0-4h0m1-5h0m0-5h0m0-5h0m0-4h0m-1-6h0m0-4h0m1-6h0m0-5h0m-1-4h0m1-5h0m-1-5h0m1-5h0m0-4h0m0-6h0m-1-3h0m0-5h0m0-40h0m0-1h0m5 132h0m0-5h0m0-4h0m0-6h0m-1-4h0m0-5h0m-1-4h0m2-6h0m0-5h0m-1-4h0m-1-6h0m1-4h0m1-4h0m-2-5h0m2-6h0m-1-4h0m1-5h0m-1-4h0m-1-6h0m1-5h0m0-4h0m1-4h0m-1-20h0m0-4h0m1-3h0m4 127h0m-1-6h0m-1-4h0m2-5h0m-1-4h0m0-5h0m0-5h0m-1-4h0m1-6h0m0-4h0m0-6h0m0-4h0m0-5h0m1-4h0m-1-6h0m0-3h0m-1-5h0m1-6h0m0-5h0m1-5h0m-1-5h0m0-4h0m0-5h0m1-4h0m-1-5h0m1-6h0m0-4h0m-1-2h0m4 127h0m1-5h0m-1-4h0m1-6h0m-2-4h0m1-6h0m0-5h0m1-3h0m-1-5h0m1-6h0m-1-4h0m-1-5h0m0-4h0m1-5h0m0-6h0m1-4h0m-2-5h0m2-5h0m-1-5h0m1-4h0m-1-5h0m1-5h0m0-5h0m-1-4h0m0-5h0m0-5h0m1-5h0m-1-3h0m4 128h0m0-5h0m-1-5h0m0-5h0m0-4h0m2-5h0m-1-5h0m0-5h0m1-5h0m0-5h0m-1-5h0m0-4h0m-1-5h0m2-5h0m0-4h0m-1-5h0m1-5h0m-2-5h0m2-4h0m0-5h0m-1-5h0m0-5h0m1-4h0m-1-6h0m0-4h0m0-5h0m1-5h0m-1-3h0m5 127h0m-1-4h0m-1-5h0m2-4h0m-1-6h0m1-5h0m0-4h0m0-5h0m-1-4h0m1-6h0m-1-3h0m1-6h0m0-5h0m0-5h0m0-5h0m0-4h0m-1-19h0m-1-5h0m1-4h0m1-6h0m0-5h0m-2-4h0m1-5h0m0-5h0m1-3h0m3 128h0m-1-5h0m0-5h0m2-5h0m0-5h0m-1-4h0m1-6h0m-1-4h0m1-5h0m0-4h0m-1-5h0m-1-5h0m2-6h0m0-4h0m-1-4h0m1-5h0m0-25h0m-1-4h0m0-10h0m-1-5h0m6 116h0m-2-6h0m2-4h0m-1-4h0m1-6h0m-1-4h0m1-5h0m-2-5h0m2-5h0m-1-5h0m0-4h0m-1-5h0m0-4h0m1-6h0m1-4h0m-1-5h0m0-24h0m1-19h0m3 115h0m-1-5h0m0-4h0m1-6h0m0-5h0m0-3h0m0-6h0m0-4h0m0-5h0m1-6h0m-1-5h0m0-4h0m1-5h0m0-5h0m0-4h0m-1-6h0m1-18h0m-1-5h0m5 96h0m0-5h0m-1-5h0m-1-5h0m2-5h0m-1-4h0m1-5h0m-1-5h0m0-4h0m0-5h0m1-6h0m-1-4h0m0-4h0m1-6h0m0-4h0m-2-5h0m1-6h0m1-3h0m0-6h0m-2-4h0m1-5h0m4 96h0m0-5h0m0-5h0m0-4h0m0-6h0m0-4h0m-1-5h0m1-5h0m0-4h0m0-6h0m0-4h0m1-5h0m-1-4h0m0-6h0m0-4h0m1-6h0m0-4h0m-2-5h0m2-5h0m-1-4h0m0-5h0m0-20h0m-1-5h0m2-3h0m0-5h0m4 129h0m0-6h0m-1-3h0m0-6h0m0-5h0m0-4h0m1-6h0m-2-3h0m1-5h0m0-5h0m0-5h0m1-6h0m0-4h0m0-5h0m0-4h0m-1-5h0m0-5h0m0-5h0m-1-5h0m1-5h0m1-4h0m-1-20h0m1-3h0m-1-6h0m0-4h0m3 129h0m0-5h0m1-4h0m0-6h0m1-5h0m-1-4h0m0-5h0m0-5h0m0-5h0m0-4h0m1-5h0m-1-5h0m0-4h0m0-5h0m1-5h0m-1-5h0m1-5h0m-1-5h0m1-4h0m0-6h0m-1-4h0m1-14h0m-1-6h0m0-5h0m0-4h0m1-4h0m3 129h0m1-5h0m-2-4h0m1-6h0m0-4h0m0-5h0m0-4h0m1-6h0m-1-5h0m0-4h0m0-5h0m1-5h0m-1-4h0m1-5h0m0-5h0m-2-5h0m2-5h0m-1-5h0m1-4h0m-2-6h0m1-4h0m1-5h0m0-5h0m-1-5h0m1-5h0m0-5h0m-1-4h0m1-5h0m-1-5h0m1-6h0m-1-3h0m1-4h0m4 148h0m-2-4h0m0-5h0m1-5h0m1-6h0m-1-5h0m1-4h0m0-5h0m-2-5h0m1-4h0m0-6h0m1-3h0m0-5h0m-1-6h0m0-4h0m1-5h0m-1-5h0m1-4h0m-1-5h0m-1-5h0m1-5h0m0-5h0m0-4h0m0-6h0m0-4h0m0-5h0m1-5h0m-2-5h0m2-6h0m-1-5h0m0-3h0m1-4h0m3 148h0m1-5h0m-2-5h0m0-5h0m1-5h0m0-4h0m0-5h0m-1-5h0m0-4h0m1-5h0m0-5h0m1-4h0m0-6h0m-1-4h0m1-6h0m-1-3h0m1-7h0m0-3h0m-1-6h0m0-4h0m1-6h0m-1-4h0m0-5h0m0-4h0m1-5h0m0-6h0m0-4h0m0-5h0m0-5h0m-1-5h0m0-5h0m1-4h0m-124 149h0m-1-4h0m0-6h0m1-4h0m-1-6h0m0-5h0m1-4h0m-1-4h0m1-5h0m-1-6h0m1-5h0m-1-3h0m0-5h0m0-5h0m0-21h0m0-3h0m0-5h0m0-5h0m1-5h0m0-4h0m-1-20h0m0-5h0m1-5h0m0-20h0m0-6h0m0-4h0m38 165h0m0-4h0m-1-6h0m0-5h0m1-4h0m0-6h0m0-4h0m1-5h0m-2-5h0m2-4h0m-2-5h0m0-4h0m0-5h0m1-5h0m-1-5h0m0-16h0m1-4h0m-1-4h0m0-6h0m2-4h0m-1-5h0m0-5h0m0-4h0m-1-5h0m2-4h0m-1-7h0m0-2h0m20 132h0m0-5h0m0-4h0m1-4h0m-1-6h0m-1-4h0m0-5h0m2-5h0m-1-5h0m-1-4h0m0-20h0m0-4h0m1-10h0m-1-5h0m0-5h0m1-4h0m0-40h0m0-2h0m21 133h0m0-5h0m-1-4h0m1-5h0m-2-5h0m1-5h0m0-6h0m1-4h0m0-4h0m-1-5h0m0-6h0m0-4h0m0-4h0m1-5h0m0-5h0m-2-6h0m1-4h0m0-6h0m0-4h0m0-5h0m0-4h0m0-5h0m0-5h0m0-4h0m-1-5h0m1-6h0m0-4h0m1-3h0m15 128h0m0-5h0m0-4h0m0-6h0m1-4h0m-1-6h0m1-4h0m-1-5h0m0-4h0m-1-6h0m1-4h0m-1-5h0m1-5h0m0-5h0m1-4h0m-1-6h0m0-19h0m0-5h0m1-18h0m9 115h0m1-5h0m0-5h0m1-4h0m-2-5h0m0-6h0m2-4h0m-1-6h0m1-3h0m0-6h0m-2-3h0m1-6h0m0-4h0m-1-5h0m1-5h0m-1-5h0m0-5h0m1-4h0m0-6h0m-1-5h0m0-4h0m1-19h0m1-4h0m-2-7h0m1-2h0m15 128h0m-1-5h0m1-5h0m-2-4h0m2-6h0m-2-4h0m1-6h0m0-4h0m0-5h0m1-5h0m-1-4h0m0-5h0m0-5h0m-1-5h0m0-5h0m2-4h0m-1-5h0m0-5h0m0-4h0m0-5h0m1-5h0m0-6h0m0-4h0m-1-5h0m-1-5h0m0-5h0m2-4h0m-1-5h0m-1-5h0m0-4h0m0-5h0m2-3h0m6 147h0m1-5h0m-1-6h0m0-4h0m1-4h0m0-5h0m-1-6h0m0-4h0m0-5h0m0-4h0m1-5h0m-1-5h0m1-6h0m-1-3h0m0-5h0m0-6h0m1-4h0m-1-5h0m1-4h0m0-6h0m0 0h0"/><path id="q11_1" d="M1762.7 967h0m-0.7 193.7h0m4 87.5h0m0 55.1h0m-16 1.8h0m23 35.2h0m-7 62h0m-16-5.3h0m0-5.3h0m46-55.1h0m0 33.6h0m46 15.3h0m-48 15.1h0m73 2.6h0m-37 11.4h0m28 3.5h0m-63 14.8h0m0 12.1h0m37-3.5h0m38 3.5h0m-75 21.3h0m28-8.5h0m7 6.8h0m-4-3.4h0"/><linearGradient id="r12_0" gradientUnits="userSpaceOnUse" x1="0" y1="771.8" x2="0" y2="222.8"><stop offset="0.0000" stop-color="#b08416"/><stop offset="0.2500" stop-color="#b08416"/><stop offset="0.3333" stop-color="#b68618"/><stop offset="0.4333" stop-color="#a87c16"/><stop offset="0.5667" stop-color="#9c7414"/><stop offset="1.0000" stop-color="#967014"/></linearGradient><linearGradient id="f12_0" gradientUnits="userSpaceOnUse" x1="0" y1="771.8" x2="0" y2="222.8"><stop offset="0.0000" stop-color="#f5bd1f"/><stop offset="0.2500" stop-color="#f5bd1f"/><stop offset="0.3333" stop-color="#e8b21c"/><stop offset="0.4333" stop-color="#d8a41a"/><stop offset="0.5667" stop-color="#cc9a18"/><stop offset="1.0000" stop-color="#c69616"/></linearGradient><path id="p12_0" d="M1896 772h0m0-6h0m0-5h0m-1-7h0m0-7h0m1-5h0m0-6h0m-1-6h0m1-5h0m-1-7h0m1-6h0m-1-5h0m0-7h0m1-6h0m0-5h0m-1-8h0m1-4h0m-1-8h0m0-6h0m1-6h0m-1-5h0m0-6h0m0-5h0m1-8h0m0-5h0m4 144h0m-1-6h0m1-6h0m-2-6h0m2-7h0m0-5h0m-1-6h0m0-6h0m-1-6h0m0-5h0m2-7h0m-1-7h0m1-6h0m0-6h0m-1-5h0m1-6h0m-2-6h0m1-7h0m1-5h0m0-5h0m0-8h0m-2-6h0m2-6h0m0-5h0m0-6h0m-1-6h0m1-31h0m0-5h0m0-6h0m0-5h0m-1-7h0m0-6h0m3 209h0m2-5h0m0-7h0m0-6h0m0-6h0m-2-4h0m2-7h0m-1-7h0m0-5h0m0-6h0m0-7h0m1-5h0m0-5h0m0-6h0m0-8h0m-1-6h0m-1-5h0m2-6h0m-1-5h0m0-7h0m0-7h0m1-5h0m-1-7h0m0-47h0m0-7h0m0-4h0m1-8h0m0-4h0m-1-7h0m3 209h0m1-5h0m0-6h0m1-7h0m0-4h0m-1-7h0m0-7h0m1-5h0m-1-6h0m1-6h0m-1-7h0m-1-5h0m1-6h0m0-5h0m0-8h0m-1-5h0m1-6h0m-1-5h0m1-7h0m0-6h0m0-5h0m-1-7h0m1-48h0m0-6h0m-1-7h0m2-5h0m-2-7h0m1-5h0m0-5h0m4 209h0m0-6h0m0-7h0m0-5h0m1-30h0m0-7h0m-1-5h0m0-6h0m1-7h0m-1-5h0m0-7h0m0-5h0m1-5h0m0-6h0m-1-6h0m0-6h0m-1-6h0m2-6h0m0-7h0m0-31h0m-1-6h0m-1-6h0m0-5h0m0-7h0m2-4h0m-1-7h0m0-7h0m1-5h0m4 210h0m0-7h0m0-6h0m-1-35h0m0-6h0m0-6h0m1-6h0m-1-6h0m1-5h0m-1-7h0m1-7h0m-1-4h0m0-6h0m0-7h0m1-6h0m-1-6h0m1-6h0m0-7h0m-2-28h0m2-8h0m-1-6h0m0-6h0m0-5h0m-1-7h0m0-5h0m1-6h0m1-6h0m0-6h0m4 216h0m-1-6h0m0-49h0m0-6h0m0-5h0m0-6h0m1-6h0m0-5h0m-1-7h0m1-6h0m0-6h0m-2-7h0m2-6h0m0-5h0m0-5h0m-1-7h0m1-6h0m0-7h0m0-6h0m-1-5h0m1-6h0m-2-6h0m1-5h0m1-8h0m0-5h0m-1-6h0m0-6h0m1-7h0m0-5h0m0-6h0m4 215h0m-1-5h0m0-6h0m1-36h0m0-6h0m0-6h0m0-6h0m0-6h0m-1-6h0m1-6h0m0-7h0m-1-5h0m-1-6h0m2-7h0m0-6h0m-2-6h0m0-5h0m2-6h0m-1-7h0m0-5h0m0-6h0m0-6h0m1-7h0m0-6h0m-1-5h0m1-7h0m-1-5h0m1-6h0m0-7h0m0-5h0m0-6h0m0-4h0m3 214h0m0-5h0m0-8h0m0-5h0m0-24h0m0-6h0m1-6h0m0-7h0m-1-6h0m0-5h0m1-6h0m-1-6h0m0-7h0m0-5h0m1-7h0m0-6h0m-1-6h0m0-6h0m0-5h0m0-7h0m0-6h0m0-4h0m1-7h0m-1-6h0m0-6h0m0-6h0m1-6h0m-1-6h0m0-6h0m1-5h0m-1-7h0m1-6h0m0-5h0m-1-1h0m5 210h0m0-7h0m-1-5h0m1-6h0m-1-5h0m0-7h0m1-7h0m0-4h0m0-8h0m-1-5h0m1-5h0m-1-8h0m0-6h0m0-5h0m0-6h0m0-7h0m0-6h0m0-5h0m0-6h0m0-6h0m0-6h0m0-6h0m0-7h0m-1-10h0m1-7h0m0-5h0m5 155h0m0-6h0m0-6h0m-2-6h0m2-5h0m0-7h0m-1-6h0m0-6h0m-1-6h0m2-6h0m-2-7h0m2-5h0m-1-7h0m-1-5h0m2-6h0m0-5h0m-1-7h0m1-5h0m-1-7h0m0-6h0m1-6h0m0-5h0m-1-26h0m1-5h0m4 156h0m-1-5h0m1-7h0m-1-7h0m1-5h0m-1-7h0m-1-5h0m1-6h0m0-6h0m-1-6h0m2-6h0m-1-7h0m1-5h0m-1-6h0m-1-6h0m2-6h0m-2-6h0m1-7h0m0-6h0m1-6h0m0-5h0m0-7h0m-2-23h0m1-5h0m4 155h0m0-6h0m1-6h0m-1-7h0m1-5h0m-1-7h0m0-5h0m0-5h0m0-7h0m0-5h0m0-8h0m0-5h0m0-7h0m0-5h0m0-5h0m0-8h0m0-5h0m1-7h0m0-5h0m-1-7h0m0-5h0m0-6h0m1-25h0m0-5h0m2 156h0m1-6h0m1-5h0m-1-7h0m-1-7h0m2-5h0m-2-7h0m1-6h0m1-6h0m0-4h0m-1-7h0m1-6h0m0-7h0m-1-5h0m1-7h0m-2-6h0m2-6h0m0-6h0m-1-6h0m0-6h0m-1-5h0m2-7h0m-1-24h0m0-5h0m5 156h0m0-7h0m0-5h0m-2-6h0m1-7h0m1-5h0m0-6h0m0-6h0m-1-7h0m-1-6h0m1-5h0m1-6h0m-1-6h0m-1-7h0m1-5h0m0-7h0m1-6h0m-1-5h0m-1-7h0m1-6h0m0-5h0m0-6h0m0-29h0m4 155h0m0-5h0m0-7h0m1-6h0m0-6h0m-1-7h0m1-4h0m-1-6h0m1-8h0m-2-5h0m2-7h0m0-4h0m0-7h0m-1-7h0m1-5h0m0-6h0m0-6h0m-1-6h0m0-19h0m-1-36h0m1-4h0m1-6h0m4 167h0m-1-6h0m1-5h0m0-8h0m-2-5h0m2-5h0m0-7h0m-1-6h0m0-7h0m1-4h0m0-7h0m-1-7h0m-1-5h0m2-7h0m0-6h0m0-4h0m-1-8h0m0-5h0m1-55h0m0-6h0m-2-4h0m6 166h0m-1-4h0m0-8h0m0-5h0m1-7h0m-1-5h0m1-7h0m-1-5h0m0-7h0m0-6h0m0-5h0m0-6h0m0-6h0m-1-6h0m1-6h0m1-7h0m-2-5h0m2-7h0m0-17h0m-1-36h0m1-7h0m0-5h0m0-1h0m4 169h0m0-7h0m0-5h0m-1-7h0m1-4h0m-1-7h0m1-6h0m0-6h0m-1-7h0m0-4h0m0-8h0m1-5h0m-1-7h0m1-5h0m-1-6h0m1-7h0m-2-5h0m0-7h0m2-17h0m-1-6h0m1-25h0m0-6h0m-1-5h0m0-6h0m0-3h0m5 171h0m-1-7h0m1-6h0m0-6h0m-2-6h0m2-4h0m0-7h0m-1-5h0m0-7h0m0-7h0m0-5h0m1-6h0m0-6h0m-1-7h0m0-4h0m0-8h0m0-5h0m0-7h0m1-5h0m-1-6h0m0-7h0m0-5h0m1-7h0m-1-4h0m0-8h0m1-5h0m-1-6h0m0-6h0m1-7h0m-1-3h0m5 172h0m-1-7h0m1-5h0m0-7h0m-1-5h0m1-7h0m-1-6h0m0-5h0m1-6h0m0-6h0m0-7h0m0-6h0m0-6h0m0-4h0m-2-8h0m1-5h0m0-7h0m0-4h0m0-7h0m0-5h0m1-7h0m-1-7h0m1-5h0m0-7h0m-1-6h0m1-5h0m0-6h0m-1-6h0m1-7h0m-1-4h0m4 173h0m0-7h0m0-4h0m1-7h0m-1-6h0m1-6h0m-1-5h0m-1-7h0m2-6h0m0-6h0m0-6h0m-2-7h0m2-6h0m0-4h0m0-8h0m0-5h0m0-6h0m-1-7h0m1-5h0m-1-6h0m-1-6h0m2-7h0m0-6h0m0-5h0m-1-6h0m1-6h0m0-7h0m0-6h0m-1-5h0m1-6h0m4 173h0m-1-6h0m0-4h0m-1-8h0m1-4h0m1-7h0m-1-7h0m0-5h0m0-5h0m1-7h0m0-6h0m-1-7h0m0-5h0m0-19h0m0-5h0m0-6h0m1-6h0m-1-7h0m1-6h0m0-6h0m-2-5h0m2-6h0m-1-6h0m0-7h0m0-6h0m1-6h0m0-6h0m-1-5h0m0-2h0m5 176h0m-1-5h0m1-8h0m0-6h0m-1-6h0m0-5h0m1-7h0m0-6h0m0-5h0m-1-7h0m1-5h0m0-6h0m-1-6h0m1-24h0m-1-5h0m0-7h0m1-6h0m0-6h0m-1-7h0m0-6h0m0-5h0m1-6h0m-1-6h0m1-6h0m-2-6h0m1-6h0m1-7h0m-1-5h0m0-6h0m1-6h0m-2-7h0m1-5h0m0-7h0m-1-5h0m2-7h0m0-6h0m-1-5h0m0-7h0m0-1h0m5 242h0m-1-7h0m0-4h0m1-6h0m0-6h0m-1-6h0m0-6h0m0-8h0m0-5h0m0-6h0m1-6h0m0-6h0m-1-6h0m1-24h0m-1-6h0m0-7h0m1-5h0m0-7h0m0-5h0m-1-6h0m0-7h0m0-4h0m0-7h0m0-6h0m-1-6h0m1-6h0m1-5h0m-1-8h0m0-5h0m-1-6h0m2-5h0m-1-8h0m0-4h0m1-8h0m0-5h0m-1-6h0m-1-6h0m2-6h0m-1-2h0m4 242h0m0-7h0m1-5h0m0-6h0m-1-6h0m0-6h0m0-7h0m1-4h0m0-7h0m-1-5h0m0-7h0m-1-7h0m1-5h0m1-19h0m0-4h0m-1-7h0m0-7h0m1-4h0m0-8h0m-1-4h0m1-7h0m-1-5h0m0-7h0m-1-7h0m1-4h0m-1-7h0m2-6h0m0-6h0m-1-1h0m4 175h0m1-7h0m-1-6h0m-1-6h0m2-6h0m0-6h0m-2-5h0m2-7h0m-1-6h0m-1-6h0m1-4h0m1-7h0m-1-7h0m1-4h0m-1-8h0m0-4h0m1-7h0m-1-6h0m1-7h0m0-4h0m-1-6h0m0-8h0m0-6h0m1-5h0m0-6h0m0-7h0m-1-5h0m0-7h0m0-5h0m0-6h0m-1-3h0m4 176h0m1-5h0m1-6h0m-1-6h0m0-5h0m0-8h0m0-6h0m0-5h0m0-7h0m1-6h0m-1-5h0m0-6h0m0-5h0m0-7h0m1-7h0m-1-5h0m0-5h0m1-8h0m0-6h0m-1-5h0m0-5h0m0-8h0m0-5h0m0-6h0m1-7h0m-2-6h0m2-5h0m0-6h0m-1-6h0m-1-7h0m2 0h0m3 175h0m0-7h0m1-6h0m0-5h0m0-6h0m-2-7h0m1-5h0m1-6h0m0-6h0m0-7h0m-1-4h0m1-8h0m-1-5h0m-1-7h0m2-5h0m-1-6h0m-1-7h0m1-4h0m0-7h0m0-6h0m0-5h0m0-7h0m0-6h0m-1-7h0m1-6h0m-1-5h0m2-6h0m0-6h0m-1-6h0m1-5h0m-1-2h0m3 175h0m1-6h0m-1-6h0m1-7h0m-1-6h0m0-6h0m2-5h0m0-6h0m0-7h0m-1-5h0m1-6h0m-1-6h0m-1-7h0m0-6h0m0-5h0m1-7h0m0-5h0m0-5h0m1-7h0m0-6h0m0-7h0m0-6h0m0-6h0m-1-6h0m0-6h0m1-4h0m0-8h0m0-4h0m-1-8h0m1-5h0m-1-6h0m0-7h0m0-6h0m1-5h0m-1-3h0m-109 200h0m0-6h0m-1-5h0m1-6h0m-1-5h0m0-7h0m0-7h0m0-5h0m1-6h0m0-7h0m-1-5h0m0-7h0m-1-4h0m1-8h0m-1-6h0m0-5h0m2-6h0m-1-5h0m0-6h0m1-6h0m0-8h0m0-5h0m-1-6h0m0-6h0m0-42h0m0-6h0m-1-5h0m0-8h0m1-4h0m0-6h0m17 209h0m-1-6h0m0-42h0m0-5h0m1-7h0m0-7h0m0-4h0m0-7h0m-1-6h0m1-7h0m0-4h0m0-7h0m0-6h0m0-5h0m0-6h0m0-7h0m0-6h0m-1-7h0m0-6h0m0-6h0m0-5h0m1-5h0m-1-8h0m0-6h0m0-6h0m0-5h0m0-5h0m0-8h0m1-6h0m-1-5h0m0-6h0m24 216h0m0-6h0m0-6h0m0-7h0m0-5h0m0-7h0m0-5h0m-1-7h0m2-5h0m0-6h0m-1-7h0m-1-4h0m0-7h0m2-7h0m-1-5h0m0-7h0m0-5h0m0-6h0m-1-7h0m1-5h0m0-6h0m1-6h0m-2-23h0m2-7h0m48 156h0m1-7h0m0-6h0m0-6h0m-1-5h0m0-6h0m0-6h0m0-7h0m1-6h0m0-5h0m-1-6h0m0-7h0m0-28h0m0-8h0m1-6h0m0-5h0m0-6h0m-1-6h0m1-6h0m0-6h0m0-6h0m0-7h0m0-6h0m0-6h0m-1-6h0m1-5h0m-1-7h0m0-6h0m1-5h0m0-7h0m0-5h0m-1-7h0m0-5h0m1-5h0m0-8h0m0-5h0m0-6h0m-1-2h0m10 242h0m0-7h0m1-5h0m-1-6h0m0-6h0m2-6h0m-1-6h0m1-7h0m0-6h0m-2-4h0m1-8h0m0-5h0m0-6h0m0-7h0m1-5h0m-2-6h0m1-6h0m-1-6h0m0-7h0m2-4h0m-1-6h0m-1-7h0m0-6h0m2-7h0m0-6h0m0-5h0m-2-6h0m1-5h0m1-8h0m-1-6h0m0 0h0m10 175h0m1-6h0m-1-7h0m0-6h0m0-4h0m1-6h0m0-6h0m0-8h0m0-6h0m-1-5h0m0-6h0m1-5h0m-1-7h0m0-6h0m1-6h0m-1-6h0m1-6h0m0-6h0m-1-6h0m1-6h0m0-5h0m0-8h0m-1-6h0m0-6h0m0-5h0m0-7h0m0-6h0m1-4h0m0-7h0m-1-6h0m1-7h0m-1-6h0m0-6h0m1-5h0m0-4h0"/><path id="q12_0" d="M1927 392h0m-1 32h0m-7 16h0m1 24h0m70-24h0m6-2h0m19 10h0m-23 18h0m-97 29h0m27 1h0m6 4h0m-4 18h0m64-18h0m-16 12h0m16 0h0m-66 0h0m6 6h0m84 19h0m-41 21h0m-45-57h0m-10 35h0m6 8h0"/><linearGradient id="r12_1" gradientUnits="userSpaceOnUse" x1="0" y1="1610.8" x2="0" y2="1171.6"><stop offset="0.0000" stop-color="#b08416"/><stop offset="0.2500" stop-color="#b08416"/><stop offset="0.3333" stop-color="#b68618"/><stop offset="0.4333" stop-color="#a87c16"/><stop offset="0.5667" stop-color="#9c7414"/><stop offset="1.0000" stop-color="#967014"/></linearGradient><linearGradient id="f12_1" gradientUnits="userSpaceOnUse" x1="0" y1="1610.8" x2="0" y2="1171.6"><stop offset="0.0000" stop-color="#f5bd1f"/><stop offset="0.2500" stop-color="#f5bd1f"/><stop offset="0.3333" stop-color="#e8b21c"/><stop offset="0.4333" stop-color="#d8a41a"/><stop offset="0.5667" stop-color="#cc9a18"/><stop offset="1.0000" stop-color="#c69616"/></linearGradient><path id="p12_1" d="M1896 1611h0m0-5h0m0-4h0m-1-5h0m0-6h0m1-4h0m0-5h0m-1-4h0m1-5h0m-1-5h0m1-5h0m-1-4h0m0-6h0m1-4h0m0-5h0m-1-6h0m1-3h0m-1-6h0m0-5h0m1-5h0m-1-4h0m0-5h0m0-4h0m1-6h0m0-4h0m4 115h0m-1-5h0m1-5h0m-2-5h0m2-5h0m0-4h0m-1-5h0m0-5h0m-1-5h0m0-4h0m2-5h0m-1-5h0m1-5h0m0-5h0m-1-5h0m1-4h0m-2-5h0m1-5h0m1-5h0m0-4h0m0-6h0m-2-5h0m2-4h0m0-4h0m0-5h0m-1-5h0m1-26h0m0-4h0m0-5h0m0-4h0m-1-6h0m0-5h0m3 169h0m2-4h0m0-5h0m0-5h0m0-5h0m-2-4h0m2-5h0m-1-5h0m0-4h0m0-5h0m0-6h0m1-4h0m0-4h0m0-5h0m0-6h0m-1-5h0m-1-4h0m2-5h0m-1-4h0m0-5h0m0-6h0m1-4h0m-1-5h0m0-38h0m0-6h0m0-4h0m1-7h0m0-4h0m-1-5h0m3 169h0m1-4h0m0-5h0m1-5h0m0-4h0m-1-5h0m0-5h0m1-5h0m-1-4h0m1-5h0m-1-6h0m-1-4h0m1-5h0m0-4h0m0-6h0m-1-4h0m1-4h0m-1-5h0m1-5h0m0-5h0m0-5h0m-1-5h0m1-38h0m0-6h0m-1-6h0m2-4h0m-2-6h0m1-4h0m0-4h0m4 169h0m0-5h0m0-6h0m0-4h0m1-24h0m0-5h0m-1-4h0m0-5h0m1-5h0m-1-5h0m0-5h0m0-4h0m1-4h0m0-5h0m-1-5h0m0-5h0m-1-4h0m2-5h0m0-6h0m0-24h0m-1-5h0m-1-5h0m0-5h0m0-5h0m2-4h0m-1-6h0m0-6h0m1-4h0m4 170h0m0-5h0m0-5h0m-1-28h0m0-5h0m0-5h0m1-5h0m-1-4h0m1-5h0m-1-5h0m1-6h0m-1-3h0m0-5h0m0-5h0m1-5h0m-1-5h0m1-5h0m0-6h0m-2-22h0m2-6h0m-1-6h0m0-4h0m0-5h0m-1-6h0m0-4h0m1-5h0m1-6h0m0-4h0m4 175h0m-1-5h0m0-39h0m0-5h0m0-4h0m0-4h0m1-5h0m0-5h0m-1-5h0m1-5h0m0-5h0m-2-5h0m2-5h0m0-4h0m0-4h0m-1-6h0m1-4h0m0-6h0m0-5h0m-1-4h0m1-5h0m-2-5h0m1-4h0m1-6h0m0-5h0m-1-5h0m0-5h0m1-6h0m0-5h0m0-4h0m4 174h0m-1-4h0m0-5h0m1-29h0m0-4h0m0-5h0m0-5h0m0-4h0m-1-5h0m1-6h0m0-5h0m-1-4h0m-1-4h0m2-6h0m0-5h0m-2-5h0m0-4h0m2-4h0m-1-6h0m0-4h0m0-5h0m0-5h0m1-5h0m0-5h0m-1-4h0m1-7h0m-1-4h0m1-5h0m0-5h0m0-5h0m0-5h0m0-4h0m3 174h0m0-4h0m0-6h0m0-4h0m0-20h0m0-5h0m1-5h0m0-5h0m-1-5h0m0-3h0m1-5h0m-1-5h0m0-6h0m0-4h0m1-5h0m0-5h0m-1-5h0m0-5h0m0-4h0m0-6h0m0-4h0m0-4h0m1-5h0m-1-5h0m0-5h0m0-5h0m1-5h0m-1-5h0m0-5h0m1-4h0m-1-6h0m1-5h0m0-5h0m-1 0h0m5 170h0m0-6h0m-1-4h0m1-5h0m-1-4h0m0-5h0m1-6h0m0-3h0m0-6h0m-1-4h0m1-5h0m-1-6h0m0-4h0m0-4h0m0-5h0m0-6h0m0-5h0m0-4h0m0-4h0m0-5h0m0-5h0m0-5h0m0-5h0m-1-9h0m1-5h0m0-4h0m5 124h0m0-5h0m0-5h0m-2-5h0m2-4h0m0-5h0m-1-5h0m0-5h0m-1-5h0m2-4h0m-2-6h0m2-4h0m-1-6h0m-1-3h0m2-5h0m0-4h0m-1-6h0m1-4h0m-1-5h0m0-5h0m1-5h0m0-4h0m-1-21h0m1-4h0m4 125h0m-1-4h0m1-6h0m-1-5h0m1-4h0m-1-6h0m-1-4h0m1-4h0m0-5h0m-1-5h0m2-5h0m-1-5h0m1-5h0m-1-4h0m-1-5h0m2-5h0m-2-5h0m1-6h0m0-4h0m1-5h0m0-4h0m0-6h0m-2-18h0m1-4h0m4 124h0m0-4h0m1-6h0m-1-5h0m1-4h0m-1-6h0m0-4h0m0-4h0m0-5h0m0-5h0m0-6h0m0-4h0m0-6h0m0-4h0m0-4h0m0-6h0m0-3h0m1-6h0m0-5h0m-1-5h0m0-4h0m0-5h0m1-20h0m0-4h0m2 125h0m1-4h0m1-5h0m-1-5h0m-1-6h0m2-4h0m-2-6h0m1-4h0m1-5h0m0-4h0m-1-5h0m1-5h0m0-5h0m-1-5h0m1-5h0m-2-5h0m2-5h0m0-4h0m-1-5h0m0-5h0m-1-4h0m2-6h0m-1-19h0m0-4h0m5 125h0m0-6h0m0-4h0m-2-5h0m1-5h0m1-4h0m0-5h0m0-5h0m-1-5h0m-1-5h0m1-4h0m1-5h0m-1-5h0m-1-5h0m1-4h0m0-6h0m1-4h0m-1-5h0m-1-5h0m1-5h0m0-4h0m0-5h0m0-23h0m4 124h0m0-4h0m0-5h0m1-5h0m0-5h0m-1-6h0m1-3h0m-1-5h0m1-6h0m-2-5h0m2-5h0m0-3h0m0-6h0m-1-5h0m1-4h0m0-5h0m0-5h0m-1-5h0m0-15h0m-1-28h0m1-4h0m1-5h0m4 134h0m-1-5h0m1-4h0m0-6h0m-2-4h0m2-4h0m0-6h0m-1-5h0m0-5h0m1-4h0m0-5h0m-1-5h0m-1-4h0m2-6h0m0-5h0m0-3h0m-1-6h0m0-5h0m1-44h0m0-4h0m-2-4h0m6 133h0m-1-3h0m0-6h0m0-5h0m1-5h0m-1-4h0m1-5h0m-1-5h0m0-5h0m0-5h0m0-4h0m0-4h0m0-5h0m-1-5h0m1-5h0m1-6h0m-2-4h0m2-5h0m0-14h0m-1-29h0m1-5h0m0-4h0m0-1h0m4 135h0m0-5h0m0-5h0m-1-5h0m1-4h0m-1-5h0m1-5h0m0-4h0m-1-6h0m0-4h0m0-6h0m1-4h0m-1-6h0m1-4h0m-1-4h0m1-6h0m-2-4h0m0-5h0m2-14h0m-1-4h0m1-21h0m0-5h0m-1-3h0m0-6h0m0-2h0m5 137h0m-1-5h0m1-5h0m0-5h0m-2-5h0m2-3h0m0-6h0m-1-4h0m0-6h0m0-5h0m0-4h0m1-5h0m0-5h0m-1-5h0m0-4h0m0-6h0m0-4h0m0-5h0m1-4h0m-1-6h0m0-5h0m0-4h0m1-5h0m-1-4h0m0-6h0m1-4h0m-1-5h0m0-4h0m1-7h0m-1-2h0m5 138h0m-1-6h0m1-4h0m0-5h0m-1-5h0m1-5h0m-1-5h0m0-4h0m1-5h0m0-4h0m0-6h0m0-5h0m0-5h0m0-3h0m-2-6h0m1-4h0m0-6h0m0-3h0m0-6h0m0-4h0m1-5h0m-1-6h0m1-3h0m0-6h0m-1-5h0m1-4h0m0-4h0m-1-6h0m1-5h0m-1-3h0m4 138h0m0-5h0m0-4h0m1-5h0m-1-6h0m1-4h0m-1-4h0m-1-6h0m2-5h0m0-4h0m0-5h0m-2-5h0m2-5h0m0-4h0m0-6h0m0-4h0m0-5h0m-1-5h0m1-4h0m-1-5h0m-1-5h0m2-6h0m0-4h0m0-4h0m-1-5h0m1-5h0m0-6h0m0-5h0m-1-3h0m1-5h0m4 138h0m-1-5h0m0-3h0m-1-6h0m1-4h0m1-5h0m-1-6h0m0-4h0m0-4h0m1-5h0m0-5h0m-1-5h0m0-5h0m0-15h0m0-4h0m0-5h0m1-5h0m-1-5h0m1-5h0m0-4h0m-2-5h0m2-4h0m-1-5h0m0-6h0m0-5h0m1-4h0m0-5h0m-1-5h0m0-1h0m5 141h0m-1-4h0m1-7h0m0-4h0m-1-5h0m0-4h0m1-6h0m0-4h0m0-5h0m-1-5h0m1-4h0m0-5h0m-1-4h0m1-20h0m-1-4h0m0-6h0m1-4h0m0-5h0m-1-5h0m0-6h0m0-3h0m1-6h0m-1-4h0m1-5h0m-2-4h0m1-6h0m1-5h0m-1-5h0m0-5h0m1-5h0m-2-6h0m1-4h0m0-6h0m-1-5h0m2-6h0m0-5h0m-1-4h0m0-6h0m0-2h0m5 199h0m-1-6h0m0-3h0m1-5h0m0-5h0m-1-4h0m0-5h0m0-7h0m0-3h0m0-5h0m1-5h0m0-5h0m-1-5h0m1-19h0m-1-5h0m0-5h0m1-4h0m0-6h0m0-3h0m-1-6h0m0-5h0m0-4h0m0-5h0m0-5h0m-1-5h0m1-4h0m1-5h0m-1-6h0m0-5h0m-1-5h0m2-4h0m-1-7h0m0-4h0m1-6h0m0-5h0m-1-5h0m-1-6h0m2-4h0m-1-2h0m4 198h0m0-5h0m1-5h0m0-5h0m-1-4h0m0-5h0m0-5h0m1-4h0m0-5h0m-1-5h0m0-5h0m-1-5h0m1-5h0m1-15h0m0-3h0m-1-6h0m0-5h0m1-4h0m0-6h0m-1-3h0m1-6h0m-1-4h0m0-5h0m-1-6h0m1-3h0m-1-6h0m2-5h0m0-5h0m-1 0h0m4 140h0m1-5h0m-1-6h0m-1-4h0m2-5h0m0-4h0m-2-5h0m2-5h0m-1-5h0m-1-5h0m1-4h0m1-5h0m-1-6h0m1-3h0m-1-6h0m0-4h0m1-5h0m-1-5h0m1-5h0m0-4h0m-1-4h0m0-7h0m0-4h0m1-5h0m0-4h0m0-6h0m-1-4h0m0-5h0m0-5h0m0-5h0m-1-2h0m4 142h0m1-4h0m1-6h0m-1-4h0m0-5h0m0-6h0m0-5h0m0-4h0m0-5h0m1-5h0m-1-4h0m0-5h0m0-4h0m0-6h0m1-5h0m-1-4h0m0-4h0m1-6h0m0-5h0m-1-4h0m0-4h0m0-7h0m0-3h0m0-5h0m1-6h0m-2-5h0m2-4h0m0-4h0m-1-6h0m-1-6h0m2 0h0m3 141h0m0-5h0m1-5h0m0-4h0m0-5h0m-2-6h0m1-4h0m1-5h0m0-4h0m0-6h0m-1-4h0m1-6h0m-1-4h0m-1-5h0m2-4h0m-1-5h0m-1-5h0m1-4h0m0-5h0m0-5h0m0-4h0m0-6h0m0-5h0m-1-5h0m1-5h0m-1-4h0m2-5h0m0-5h0m-1-4h0m1-5h0m-1-2h0m3 141h0m1-5h0m-1-5h0m1-5h0m-1-5h0m0-5h0m2-4h0m0-5h0m0-5h0m-1-4h0m1-5h0m-1-5h0m-1-5h0m0-5h0m0-4h0m1-6h0m0-3h0m0-5h0m1-5h0m0-5h0m0-6h0m0-4h0m0-5h0m-1-5h0m0-5h0m1-3h0m0-6h0m0-4h0m-1-6h0m1-4h0m-1-5h0m0-6h0m0-6h0m1-4h0m-1-2h0m-109 161h0m0-4h0m-1-5h0m1-4h0m-1-5h0m0-5h0m0-6h0m0-4h0m1-5h0m0-5h0m-1-4h0m0-5h0m-1-4h0m1-6h0m-1-5h0m0-4h0m2-5h0m-1-4h0m0-5h0m1-5h0m0-6h0m0-4h0m-1-4h0m0-6h0m0-34h0m0-5h0m-1-4h0m0-7h0m1-4h0m0-4h0m17 169h0m-1-5h0m0-33h0m0-5h0m1-5h0m0-5h0m0-4h0m0-5h0m-1-6h0m1-4h0m0-4h0m0-5h0m0-6h0m0-4h0m0-4h0m0-6h0m0-5h0m-1-5h0m0-5h0m0-5h0m0-3h0m1-5h0m-1-7h0m0-4h0m0-5h0m0-5h0m0-4h0m0-7h0m1-5h0m-1-4h0m0-5h0m24 175h0m0-5h0m0-5h0m0-5h0m0-4h0m0-6h0m0-4h0m-1-5h0m2-4h0m0-5h0m-1-6h0m-1-3h0m0-5h0m2-6h0m-1-5h0m0-5h0m0-4h0m0-4h0m-1-6h0m1-4h0m0-5h0m1-5h0m-2-19h0m2-5h0m48 125h0m1-6h0m0-4h0m0-5h0m-1-4h0m0-5h0m0-5h0m0-5h0m1-5h0m0-4h0m-1-5h0m0-5h0m0-23h0m0-6h0m1-5h0m0-4h0m0-5h0m-1-5h0m1-4h0m0-6h0m0-5h0m0-5h0m0-4h0m0-5h0m-1-5h0m1-5h0m-1-6h0m0-5h0m1-4h0m0-6h0m0-4h0m-1-6h0m0-4h0m1-5h0m0-7h0m0-4h0m0-6h0m-1-2h0m10 199h0m0-5h0m1-5h0m-1-5h0m0-5h0m2-4h0m-1-5h0m1-5h0m0-5h0m-2-4h0m1-6h0m0-4h0m0-4h0m0-6h0m1-4h0m-2-5h0m1-5h0m-1-5h0m0-5h0m2-4h0m-1-4h0m-1-6h0m0-5h0m2-5h0m0-5h0m0-4h0m-2-5h0m1-4h0m1-6h0m-1-5h0m0-1h0m10 141h0m1-5h0m-1-6h0m0-4h0m0-4h0m1-5h0m0-4h0m0-6h0m0-5h0m-1-4h0m0-5h0m1-4h0m-1-6h0m0-5h0m1-4h0m-1-5h0m1-5h0m0-5h0m-1-5h0m1-5h0m0-3h0m0-7h0m-1-4h0m0-5h0m0-4h0m0-6h0m0-5h0m1-3h0m0-6h0m-1-5h0m1-5h0m-1-6h0m0-4h0m1-5h0m0-3h0"/><path id="q12_1" d="M1927 1287.3h0m-1 29.9h0m-7 14.8h0m1 22h0m70-22h0m6-1.8h0m19 9.2h0m-23 16.4h0m-97 26.1h0m27 0.9h0m6 3.6h0m-4 15.9h0m64-15.9h0m-16 10.6h0m16 0h0m-66 0h0m6 5.3h0m84 16.7h0m-41 18.2h0m-45-49.9h0m-10 30.8h0m6 7h0"/></defs><g fill="none" stroke-linecap="round"><use href="#p1_0" stroke="url(#r1_0)" stroke-width="12.4"/><use href="#p1_0" stroke="url(#f1_0)" stroke-width="7.6"/><path d="M268 615l-2.4 1.4M361 704l1.3 0.3M313 752l0.1 2.3M364 685l2.1 0.7M222 633l0.3 2.2M315 733l0.1 0.5M331 660l0.1 1.6M321 734l1.7 1.6M225 749l-0.2 0.5M242 762l1.2 1.0M342 741l-1.1 2.4M377 733l0.5 0.1M243 753l1.9 1.6M368 718l-1.1 0.3M337 639l-2.6 0.2M233 732l1.7 0.9M218 729l-3.0 1.1M199 747l-0.5 2.9M290 698l-0.8 2.7M213 599l-0.2 1.2M335 627l-2.5 1.5M277 606l-2.0 0.2M263 628l-2.0 2.3M353 649l0.5 1.2M338 645l-1.1 3.2M339 625l0.6 0.2M325 722l-0.1 1.8M273 695l-1.5 2.9M332 735l-2.9 0.8M329 657l-1.6 2.5M277 742l2.8 1.8M279 712l0.9 0.9M262 663l1.6 0.5M378 716l-2.7 0.6M351 763l-0.8 0.8M244 676l1.0 0.1M360 754l1.4 2.4M340 748l-1.6 1.2M218 735l1.3 1.9M266 694l-0.8 0.1M296 703l-0.4 3.3M273 748l-1.9 2.8M215 595l2.0 2.5M201 677l-2.2 2.7M231 672l-1.4 2.1M335 729l0.8 0.8M204 710l0.9 0.7M375 708l-0.7 2.3M308 732l0.3 0.4M211 593l0.3 0.7M220 681l-2.5 0.2M249 729l0.5 0.3M254 675l-1.0 1.4M332 637l-1.4 0.3M350 640l-0.9 0.5M355 739l-0.6 1.0" stroke="#fff" stroke-width="1.7" opacity="0.85"/><use href="#q1_0" stroke="#08244c" stroke-width="13.0"/><use href="#q1_0" stroke="#123a78" stroke-width="7.6"/><use href="#p1_1" stroke="url(#r1_1)" stroke-width="12.4"/><use href="#p1_1" stroke="url(#f1_1)" stroke-width="7.6"/><path d="M201 1528l-0.8 0.2M319 1570l-0.4 0.8M378 1536l-1.0 1.9M202 1591l3.1 1.3M265 1571l2.6 1.2M245 1528l-0.0 0.7M244 1580l0.9 1.2M338 1518l0.8 0.6M269 1528l-0.8 1.6M357 1507l-1.5 2.6M242 1488l0.1 0.7M283 1561l0.6 0.2M286 1480l1.3 1.1M265 1541l-2.0 0.4M212 1496l-1.5 1.5M357 1601l-0.6 0.3M371 1544l0.6 0.6M356 1524l1.1 0.3M367 1549l-0.4 0.4M281 1505l1.9 1.5M265 1499l-1.8 0.1M203 1531l-1.4 1.5M242 1544l-0.8 2.3M225 1579l-2.6 0.5M355 1540l-0.8 0.3M240 1556l-0.5 0.2M279 1482l2.2 1.5M305 1599l0.7 2.4M201 1600l1.4 1.2M292 1597l0.1 3.5M351 1523l-1.8 0.0M240 1600l0.9 1.4M261 1565l1.5 0.1M228 1582l2.2 0.0M246 1539l-0.5 2.5M224 1505l3.1 1.2M226 1491l-0.2 2.2M360 1508l0.6 0.6M306 1558l0.9 3.0M319 1593l-1.1 0.2M370 1530l3.2 0.5M218 1473l0.8 1.0M375 1588l0.5 1.9M353 1585l-0.9 1.7M220 1505l-1.0 1.9M345 1594l-0.9 0.1M213 1590l-0.2 0.9M242 1528l-0.2 2.5M212 1568l-0.7 1.7M321 1588l1.8 0.1M322 1580l-0.4 0.8M373 1577l1.2 1.1M373 1504l1.0 3.2M363 1526l-1.0 1.1M320 1585l0.9 0.4M273 1522l2.1 0.5" stroke="#fff" stroke-width="1.7" opacity="0.85"/><use href="#q1_1" stroke="#08244c" stroke-width="13.0"/><use href="#q1_1" stroke="#123a78" stroke-width="7.6"/><use href="#p2_0" stroke="url(#r2_0)" stroke-width="12.4"/><use href="#p2_0" stroke="url(#f2_0)" stroke-width="7.6"/><path d="M541 755l-0.2 0.6M495 692l2.3 2.3M517 667l1.1 0.9M493 690l0.5 2.9M434 733l1.7 2.9M550 650l-0.2 0.6M469 724l-0.6 1.3M453 724l-1.9 0.6M445 705l1.8 2.1M473 754l0.8 0.5M521 698l0.1 1.6M523 753l0.8 3.2M445 761l-0.2 2.5M427 751l1.1 2.3M438 673l1.2 2.2M489 654l-1.0 1.3M439 744l-0.2 1.3M444 663l0.9 1.1M526 741l-1.8 2.5M446 697l-1.8 1.2M554 722l0.2 0.4M534 667l-0.7 1.3M540 671l0.9 0.3M528 761l-1.1 2.2M420 762l2.2 0.3M472 757l0.6 0.6M501 726l-0.0 0.9M538 647l0.9 0.6M484 698l-0.4 2.6M541 694l2.9 0.4M410 711l2.0 1.0M524 668l1.8 2.4M510 614l-1.6 2.4M506 689l0.8 0.3M465 717l-0.3 1.6M527 664l1.7 2.8M537 753l-1.5 1.4M525 717l1.0 0.4M422 750l0.9 1.4M488 652l-1.7 2.3M526 751l0.4 0.6M521 730l0.5 1.3M430 745l0.4 2.9M484 732l-1.3 0.5M536 732l-0.3 1.4M527 688l0.9 0.2M552 601l-1.6 1.1" stroke="#fff" stroke-width="1.7" opacity="0.85"/><use href="#q2_0" stroke="#967014" stroke-width="13.0"/><use href="#q2_0" stroke="#cc9a18" stroke-width="7.6"/><use href="#p2_1" stroke="url(#r2_1)" stroke-width="12.4"/><use href="#p2_1" stroke="url(#f2_1)" stroke-width="7.6"/><path d="M490 1564l0.6 2.0M420 1597l0.7 0.2M508 1556l-2.1 1.4M547 1475l1.1 0.0M524 1530l-0.3 2.8M430 1563l-2.6 0.8M524 1576l1.5 2.2M480 1584l1.3 2.8M491 1585l-0.3 3.4M408 1598l-1.2 1.5M534 1530l1.3 2.3M531 1549l-2.4 0.0M418 1567l0.6 1.0M474 1527l-2.9 0.8M491 1556l1.3 1.8M550 1567l-0.5 0.3M555 1582l-1.0 0.1M448 1525l-0.1 1.3M508 1545l-0.4 1.2M517 1577l-1.1 1.4M477 1533l1.8 0.2M536 1592l-2.6 1.3M480 1522l1.8 2.0M555 1484l1.4 0.0M459 1571l2.8 1.0M433 1600l-0.8 2.8M416 1564l-2.3 2.6M547 1483l1.4 3.2M487 1600l0.3 0.3M491 1541l-0.8 3.2M549 1588l2.0 2.1M410 1568l-1.1 0.2M462 1569l1.9 1.7M545 1478l-0.8 1.2M429 1523l-2.9 0.0M476 1584l-3.2 0.3M487 1532l-0.2 3.4M517 1575l-1.4 0.8M491 1591l2.5 1.8M411 1576l-0.2 0.7M545 1528l1.4 0.9M496 1547l0.6 0.0M514 1488l2.0 2.1M536 1592l0.3 0.2M520 1569l0.1 0.3M495 1602l0.4 0.3M511 1485l1.3 1.1" stroke="#fff" stroke-width="1.7" opacity="0.85"/><use href="#q2_1" stroke="#967014" stroke-width="13.0"/><use href="#q2_1" stroke="#cc9a18" stroke-width="7.6"/><use href="#p3_0" stroke="url(#r3_0)" stroke-width="12.4"/><use href="#p3_0" stroke="url(#f3_0)" stroke-width="7.6"/><path d="M700 708l-0.5 1.1M696 748l0.7 1.8M614 692l-2.1 1.1M649 735l0.3 0.2M609 720l0.6 1.0M693 687l-1.9 2.0M638 667l-1.8 1.0M669 743l-0.5 3.2M582 761l-0.6 1.5M718 754l-0.1 0.3M675 725l-0.7 2.9M601 749l0.6 0.9M587 681l1.3 1.5M625 704l-0.6 1.3M588 725l-0.5 0.6M588 733l3.2 0.7M594 704l-3.0 1.2M695 718l-0.5 1.9M680 703l0.9 2.8M684 759l0.8 1.5M635 743l1.5 1.0M698 653l0.0 0.9M679 725l0.8 0.7M627 699l-2.9 1.0M650 761l1.5 0.4M589 735l-0.1 2.9M690 733l0.7 0.8M671 701l-2.6 0.5M656 722l2.0 0.5M698 653l2.4 0.8M652 750l0.9 3.3M662 737l0.5 2.9M687 742l1.3 1.4M663 736l2.9 0.1M649 697l-1.9 0.9M693 733l-1.2 3.0M589 702l2.0 1.1M614 671l0.8 0.4M663 728l0.0 0.3M595 676l1.4 0.7M606 712l2.3 1.3M713 703l3.3 0.8M594 731l-1.3 1.3M690 753l-2.9 1.0M647 725l-1.3 0.7M620 671l0.6 0.4M721 702l1.5 3.1" stroke="#fff" stroke-width="1.7" opacity="0.85"/><use href="#q3_0" stroke="#0a0a0c" stroke-width="13.0"/><use href="#q3_0" stroke="#111014" stroke-width="7.6"/><use href="#p3_1" stroke="url(#r3_1)" stroke-width="12.4"/><use href="#p3_1" stroke="url(#f3_1)" stroke-width="7.6"/><path d="M685 1550l1.4 0.5M625 1600l0.8 3.3M622 1531l-0.5 0.2M700 1564l1.9 2.3M646 1603l-0.6 3.3M722 1560l-1.5 2.2M680 1511l-1.5 2.3M610 1535l2.0 0.4M597 1593l0.9 3.4M692 1550l1.4 0.9M673 1597l-1.3 0.4M585 1580l-1.3 2.0M702 1585l-1.1 2.7M600 1600l-0.3 0.5M627 1600l1.2 1.4M657 1601l1.8 2.6M690 1563l-3.1 0.5M694 1559l1.0 0.1M640 1590l-2.4 1.3M648 1575l-3.3 0.1M673 1556l-0.4 0.1M599 1579l2.2 1.6M718 1604l-1.6 3.0M702 1551l-2.8 1.7M686 1517l1.0 2.4M676 1586l1.9 1.3M664 1584l1.5 1.0M707 1566l1.0 0.9M653 1579l0.1 0.3M597 1593l0.2 1.2M593 1592l-0.7 0.6M695 1555l-3.1 1.6M601 1597l0.5 0.1M731 1562l-0.4 2.2M599 1555l1.1 2.4M699 1574l1.5 1.0M731 1534l-1.0 1.5M661 1596l2.1 0.7M629 1586l-1.0 1.3M687 1563l-2.3 2.4M703 1531l-1.2 0.4M725 1574l-3.1 0.3M650 1583l-1.3 0.9M607 1550l2.1 0.3M675 1573l-1.6 1.2M684 1517l0.2 0.3M601 1574l0.9 2.3" stroke="#fff" stroke-width="1.7" opacity="0.85"/><use href="#q3_1" stroke="#0a0a0c" stroke-width="13.0"/><use href="#q3_1" stroke="#111014" stroke-width="7.6"/><use href="#p4_0" stroke="url(#r4_0)" stroke-width="12.4"/><use href="#p4_0" stroke="url(#f4_0)" stroke-width="7.6"/><path d="M903 624l-0.8 1.9M775 756l-0.5 2.2M795 688l0.2 0.4M786 719l0.9 2.6M778 693l-0.2 2.5M803 693l1.4 0.6M812 741l1.0 1.0M866 679l3.4 0.4M891 680l1.1 1.4M788 745l-2.4 0.9M815 746l-0.9 0.2M855 665l-2.8 0.1M817 734l0.3 0.4M832 639l0.4 3.0M841 676l1.6 1.3M831 751l1.5 0.9M822 688l1.3 0.8M804 721l-1.8 0.3M847 686l-1.6 1.7M834 717l-0.2 1.0M807 732l0.6 1.9M790 730l0.0 0.3M867 743l-3.3 0.1M796 737l0.3 1.3M861 739l0.8 0.4M850 660l-3.1 1.1M849 675l-0.5 2.7M807 724l-1.0 3.0M870 728l-0.4 3.1M845 727l0.4 0.5M899 669l-1.3 0.4M785 726l1.8 3.0M847 656l0.4 0.5M829 706l1.3 2.1M822 742l-0.6 1.0M791 677l-2.0 0.3M880 763l3.0 0.9M887 739l0.0 1.2M780 681l-0.3 2.0M784 722l1.2 0.3M855 662l-0.1 0.7M886 680l-3.2 0.7M898 676l-0.3 0.4M899 726l0.7 0.1M772 686l-2.8 0.6" stroke="#fff" stroke-width="1.7" opacity="0.85"/><use href="#q4_0" stroke="#0a0a0a" stroke-width="13.0"/><use href="#q4_0" stroke="#141810" stroke-width="7.6"/><use href="#p4_1" stroke="url(#r4_1)" stroke-width="12.4"/><use href="#p4_1" stroke="url(#f4_1)" stroke-width="7.6"/><path d="M805 1591l2.0 0.1M891 1571l-2.3 0.0M848 1521l0.2 3.2M839 1570l0.2 1.4M784 1539l2.7 0.5M902 1567l-0.8 0.5M881 1551l-1.0 0.5M801 1570l0.9 0.7M863 1586l-2.4 0.1M808 1556l-0.6 2.1M891 1562l-1.8 0.2M822 1510l1.0 1.6M886 1597l2.0 0.8M828 1512l1.2 1.6M819 1562l2.2 0.5M846 1527l-0.7 3.2M887 1572l-0.2 2.7M823 1576l0.8 1.9M864 1569l-0.5 1.5M808 1573l0.3 1.7M812 1540l-1.2 2.9M785 1579l-0.2 2.3M833 1569l-2.3 0.5M852 1542l-0.6 0.4M886 1561l0.4 2.5M836 1604l0.5 0.2M844 1530l2.6 2.3M810 1534l0.5 0.5M900 1579l0.3 0.6M899 1594l2.9 0.9M838 1603l0.3 1.7M792 1596l2.4 2.0M806 1588l-2.0 2.6M795 1549l1.2 0.4M803 1592l1.9 0.0M831 1514l-0.6 0.8M885 1546l0.7 0.2M787 1542l1.9 2.8M812 1549l-0.4 0.4M770 1592l0.4 0.7M784 1586l-1.6 0.1M787 1555l0.5 1.0M813 1580l3.4 0.4M847 1571l0.8 0.5M880 1602l2.9 0.1" stroke="#fff" stroke-width="1.7" opacity="0.85"/><use href="#q4_1" stroke="#0a0a0a" stroke-width="13.0"/><use href="#q4_1" stroke="#141810" stroke-width="7.6"/><use href="#p5_0" stroke="url(#r5_0)" stroke-width="12.4"/><use href="#p5_0" stroke="url(#f5_0)" stroke-width="7.6"/><path d="M1025 757l0.2 0.8M951 618l1.2 2.9M999 693l0.4 0.4M929 760l-2.2 2.5M968 750l-2.1 1.0M999 619l0.3 0.2M934 704l-0.9 0.6M1006 729l-0.3 1.4M991 705l0.5 2.6M1020 733l0.2 0.8M950 615l-0.1 0.5M994 622l-0.4 0.3M973 749l-1.3 0.8M1044 752l-0.3 1.3M953 698l2.3 0.4M957 592l-0.6 1.4M1024 716l1.4 0.0M945 764l1.3 2.1M983 763l0.3 0.3M1008 726l-0.6 0.3M951 653l0.5 0.5M932 645l-1.4 1.9M971 752l1.6 0.2M1043 673l1.6 0.8M1031 744l-0.4 1.6M1028 718l1.6 1.5M1013 662l-1.5 0.6M1022 660l1.6 1.0M931 703l0.9 0.4M974 758l-0.4 1.1M929 703l-1.7 2.3M1047 670l-0.1 1.5M983 753l0.4 2.0M1022 747l-0.5 1.9M941 682l2.3 1.6M1000 741l-1.3 0.7M980 762l-2.8 1.4M1051 681l-1.4 0.2M961 686l0.3 0.9" stroke="#fff" stroke-width="1.7" opacity="0.85"/><use href="#q5_0" stroke="#320612" stroke-width="13.0"/><use href="#q5_0" stroke="#4e0a1c" stroke-width="7.6"/><use href="#p5_1" stroke="url(#r5_1)" stroke-width="12.4"/><use href="#p5_1" stroke="url(#f5_1)" stroke-width="7.6"/><path d="M1048 1542l1.5 0.4M1030 1589l0.2 1.6M946 1570l-0.7 0.7M1011 1594l0.4 0.9M968 1590l1.5 1.0M1023 1539l2.3 0.9M1040 1556l-0.1 1.7M958 1506l-2.3 1.4M952 1574l-1.4 0.1M1025 1581l-0.4 1.0M929 1593l1.5 2.5M1033 1593l-1.8 2.0M1029 1600l-3.0 0.8M968 1601l0.9 0.3M1035 1570l-1.3 0.2M1037 1590l0.5 2.3M933 1598l0.6 0.7M988 1579l0.1 2.6M951 1570l0.8 1.3M1038 1584l-1.9 2.1M993 1583l2.2 1.3M987 1602l-2.0 2.6M959 1481l0.5 0.8M1005 1561l-1.8 2.0M1047 1568l-0.7 1.9M996 1557l-2.2 0.1M1050 1552l-0.7 2.0M958 1601l2.8 0.7M966 1602l1.1 1.9M942 1502l-0.1 0.3M992 1502l-0.9 1.0M969 1587l-1.8 2.4M1046 1570l2.4 0.4M950 1503l1.8 1.7M1045 1556l-0.0 2.3M1022 1540l1.6 1.8M1006 1560l-1.4 0.1M955 1504l-2.9 1.0M958 1567l-0.5 0.7" stroke="#fff" stroke-width="1.7" opacity="0.85"/><use href="#q5_1" stroke="#320612" stroke-width="13.0"/><use href="#q5_1" stroke="#4e0a1c" stroke-width="7.6"/><use href="#p6_0" stroke="url(#r6_0)" stroke-width="12.4"/><use href="#p6_0" stroke="url(#f6_0)" stroke-width="7.6"/><path d="M1185 743l0.7 0.2M1182 703l2.2 0.2M1168 750l-1.4 1.7M1113 712l2.0 0.7M1167 726l0.2 0.4M1176 734l-2.2 1.0M1176 708l-2.1 0.4M1187 735l-0.4 2.2M1180 763l2.7 2.0M1173 749l0.6 1.1M1147 721l0.4 1.2M1080 750l1.5 2.9M1102 675l0.5 0.4M1177 724l1.7 0.9M1166 751l0.2 1.0M1084 692l-0.3 3.5M1147 739l0.9 0.8M1103 749l-0.3 1.1M1082 729l-1.0 0.9M1123 757l1.7 1.9M1196 672l-1.0 0.8M1189 698l1.7 1.5M1109 712l1.8 1.5M1180 759l1.7 2.3M1118 754l-2.5 0.4M1132 673l2.6 1.7M1198 725l-1.3 0.3M1090 690l-2.2 0.0M1186 737l0.5 1.8M1202 753l-0.9 2.4M1120 730l-0.5 0.2M1204 655l0.4 0.1M1110 758l-0.6 0.5M1181 713l-0.3 0.4M1098 682l-0.4 0.0M1202 677l-2.4 1.7M1154 732l-1.7 0.2M1182 724l1.8 3.0M1097 757l-0.6 0.6M1193 689l-2.1 2.6" stroke="#fff" stroke-width="1.7" opacity="0.85"/><use href="#q6_0" stroke="#480c0a" stroke-width="13.0"/><use href="#q6_0" stroke="#7e1a12" stroke-width="7.6"/><use href="#p6_1" stroke="url(#r6_1)" stroke-width="12.4"/><use href="#p6_1" stroke="url(#f6_1)" stroke-width="7.6"/><path d="M1177 1599l-1.5 2.1M1195 1597l0.3 0.8M1128 1505l-1.6 0.5M1193 1576l1.5 2.4M1092 1525l0.1 3.0M1154 1569l-1.3 3.0M1127 1514l-0.1 0.7M1110 1579l0.1 0.9M1079 1600l-2.1 1.1M1151 1570l-3.5 0.3M1200 1567l-1.5 2.9M1109 1566l-0.3 1.3M1155 1577l-1.7 0.4M1079 1449l3.1 0.3M1190 1589l1.6 1.7M1098 1552l-0.2 2.5M1095 1596l-1.0 3.4M1184 1604l1.0 0.9M1193 1586l2.1 0.8M1117 1589l2.5 0.8M1130 1511l2.0 2.0M1200 1601l3.1 0.4M1159 1566l2.6 0.3M1200 1588l-2.3 2.6M1102 1546l-3.2 0.5M1107 1551l2.4 2.4M1083 1519l-0.4 2.4M1190 1599l2.9 0.1M1107 1575l-0.6 0.4M1148 1600l0.7 2.3M1177 1565l2.4 0.8M1082 1592l0.1 2.1M1097 1552l0.4 2.3M1091 1524l-0.4 2.7M1199 1541l-1.4 3.1M1186 1565l1.3 1.4M1157 1594l1.9 1.2M1189 1551l-0.4 0.3M1193 1559l-1.4 2.0M1165 1590l1.1 1.3" stroke="#fff" stroke-width="1.7" opacity="0.85"/><use href="#q6_1" stroke="#480c0a" stroke-width="13.0"/><use href="#q6_1" stroke="#7e1a12" stroke-width="7.6"/><use href="#p7_0" stroke="url(#r7_0)" stroke-width="12.4"/><use href="#p7_0" stroke="url(#f7_0)" stroke-width="7.6"/><path d="M1260 740l-0.6 0.5M1348 751l1.1 0.2M1320 683l0.4 0.2M1340 757l0.4 2.6M1313 763l1.1 1.5M1305 755l-2.7 0.7M1351 734l-1.2 0.1M1294 750l-1.1 0.6M1353 747l-2.0 1.5M1308 745l0.9 2.4M1304 749l-0.3 0.1M1321 670l-0.5 0.1M1277 716l-0.2 0.4M1242 719l0.3 0.2M1338 745l0.0 3.0M1303 745l0.4 0.1M1314 663l-0.6 2.6M1347 693l0.3 1.9M1236 715l-0.3 0.8M1317 684l-1.5 0.3M1242 755l2.1 2.6M1312 669l-0.0 2.9M1268 719l-0.1 1.2M1343 706l-0.4 0.1M1255 755l2.0 0.7M1300 620l2.7 2.2M1236 682l-1.3 0.7M1335 759l-0.7 1.0M1260 707l3.0 0.4M1308 684l0.8 1.3M1336 742l-1.6 0.7M1334 726l3.0 0.3M1239 726l-0.7 1.3M1343 649l1.2 1.6M1300 742l-1.3 0.9M1338 761l0.8 0.4M1263 764l-0.8 0.5M1263 744l1.2 1.2" stroke="#fff" stroke-width="1.7" opacity="0.85"/><use href="#q7_0" stroke="#5c2452" stroke-width="13.0"/><use href="#q7_0" stroke="#924484" stroke-width="7.6"/><use href="#p7_1" stroke="url(#r7_1)" stroke-width="12.4"/><use href="#p7_1" stroke="url(#f7_1)" stroke-width="7.6"/><path d="M1346 1573l0.8 3.3M1341 1599l-0.1 0.7M1266 1571l-1.4 2.4M1235 1589l-1.6 1.1M1236 1529l2.5 1.2M1308 1502l-2.2 1.3M1305 1495l0.4 2.1M1316 1550l1.9 1.5M1293 1565l-3.2 0.1M1239 1586l2.3 1.9M1305 1584l-0.5 0.7M1321 1585l0.6 2.8M1271 1568l-0.0 0.5M1336 1581l0.2 0.7M1295 1496l-2.1 1.9M1316 1492l-1.7 1.7M1259 1540l0.7 0.3M1288 1571l1.5 0.1M1264 1576l0.4 1.6M1307 1509l-0.8 2.2M1336 1587l-1.6 1.5M1238 1596l-1.0 2.0M1246 1596l0.2 1.6M1318 1494l-1.8 1.8M1344 1545l3.2 1.3M1343 1580l1.2 1.5M1302 1602l-0.6 2.1M1347 1572l1.3 0.2M1249 1594l-1.5 2.8M1238 1556l-0.7 0.3M1259 1537l-0.5 2.3M1237 1530l0.3 2.3M1238 1594l-0.4 2.2M1310 1532l-0.5 1.5M1240 1595l1.7 0.4M1321 1543l0.9 0.1M1347 1575l1.2 1.1M1302 1508l-0.7 0.2" stroke="#fff" stroke-width="1.7" opacity="0.85"/><use href="#q7_1" stroke="#5c2452" stroke-width="13.0"/><use href="#q7_1" stroke="#924484" stroke-width="7.6"/><use href="#p8_0" stroke="url(#r8_0)" stroke-width="12.4"/><use href="#p8_0" stroke="url(#f8_0)" stroke-width="7.6"/><path d="M1414 620l-0.8 0.4M1472 687l-2.3 0.4M1399 743l0.7 0.7M1478 758l3.2 0.5M1434 670l3.2 0.1M1391 726l0.3 1.0M1487 741l-0.6 0.5M1442 746l-0.8 2.9M1417 670l0.8 2.2M1410 635l-1.9 2.6M1401 704l0.3 0.2M1494 760l1.5 0.9M1472 742l-0.7 0.2M1485 722l0.9 1.8M1474 698l1.4 2.0M1383 640l1.5 1.2M1402 702l-0.1 0.5M1484 626l0.5 0.7M1447 688l-1.0 1.8M1397 758l-0.0 0.4M1418 657l-1.9 1.2M1471 689l-1.4 0.6M1474 686l0.3 0.5M1475 731l-0.7 1.3M1416 738l-2.0 2.8M1439 653l-0.2 3.3M1467 695l-0.9 2.3M1416 671l-0.6 0.5M1380 629l-2.2 0.2M1484 732l0.9 0.4M1426 730l0.5 0.3M1404 659l-0.9 0.5M1454 648l-0.7 1.7M1404 657l1.1 1.3M1389 689l-1.7 3.0M1387 675l-0.6 2.5M1437 677l-0.2 2.4" stroke="#fff" stroke-width="1.7" opacity="0.85"/><use href="#q8_0" stroke="#246c52" stroke-width="13.0"/><use href="#q8_0" stroke="#449c7a" stroke-width="7.6"/><use href="#p8_1" stroke="url(#r8_1)" stroke-width="12.4"/><use href="#p8_1" stroke="url(#f8_1)" stroke-width="7.6"/><path d="M1493 1588l-1.7 1.6M1474 1587l0.9 1.2M1469 1604l-2.0 2.7M1462 1576l3.3 0.8M1442 1512l1.1 1.1M1388 1561l-2.0 2.9M1449 1579l-2.2 1.3M1389 1558l0.9 0.9M1469 1534l-1.8 2.7M1398 1604l1.1 2.7M1440 1445l-0.2 1.3M1401 1568l0.4 0.9M1388 1501l0.0 1.4M1467 1560l0.3 0.0M1415 1575l-1.1 0.8M1491 1553l-1.1 2.3M1480 1581l0.7 0.4M1494 1544l0.7 0.7M1381 1497l-0.5 0.3M1480 1553l-1.4 1.5M1381 1596l0.5 0.4M1424 1591l0.5 2.8M1416 1497l1.0 0.2M1490 1542l-0.5 0.2M1456 1535l2.2 1.8M1435 1583l-0.9 1.8M1392 1466l1.6 1.3M1424 1574l2.6 2.1M1386 1556l0.2 3.0M1388 1574l-1.4 1.5M1467 1576l-0.3 1.3M1477 1542l-0.0 0.3M1400 1490l-0.7 0.2M1471 1537l-0.5 2.1M1466 1594l1.3 0.3M1448 1578l-1.9 2.8M1421 1603l2.9 1.3" stroke="#fff" stroke-width="1.7" opacity="0.85"/><use href="#q8_1" stroke="#246c52" stroke-width="13.0"/><use href="#q8_1" stroke="#449c7a" stroke-width="7.6"/><use href="#p9_0" stroke="url(#r9_0)" stroke-width="12.4"/><use href="#p9_0" stroke="url(#f9_0)" stroke-width="7.6"/><path d="M1573 743l-0.3 0.7M1522 666l2.0 2.6M1572 651l-0.5 2.2M1591 737l-0.6 1.0M1542 674l0.9 1.0M1559 677l-1.4 2.5M1535 681l1.5 2.5M1569 653l3.0 0.7M1607 754l-1.6 1.2M1596 682l2.2 0.4M1569 732l0.1 1.1M1599 730l0.5 0.8M1552 711l-1.9 1.0M1556 669l1.2 0.5M1522 753l0.1 0.5M1588 741l1.3 0.2M1577 695l0.1 2.5M1528 665l-1.5 0.2M1565 679l2.9 1.1M1544 742l-0.4 1.6M1546 748l0.2 3.4M1589 692l-2.3 1.9M1525 719l1.7 1.4M1601 756l-1.4 1.3M1600 689l-0.2 1.0M1601 727l-0.6 0.2M1562 665l-2.8 0.3M1536 667l-0.2 2.5M1529 678l-1.1 1.0M1552 679l0.8 1.6" stroke="#fff" stroke-width="1.7" opacity="0.85"/><use href="#q9_0" stroke="#0a0a0a" stroke-width="13.0"/><use href="#q9_0" stroke="#140c0c" stroke-width="7.6"/><use href="#p9_1" stroke="url(#r9_1)" stroke-width="12.4"/><use href="#p9_1" stroke="url(#f9_1)" stroke-width="7.6"/><path d="M1566 1566l-0.9 2.8M1543 1528l-2.9 1.5M1530 1601l-0.3 0.3M1530 1526l1.5 3.0M1554 1592l1.1 0.8M1590 1570l-0.7 0.9M1564 1532l0.2 1.1M1602 1574l0.2 1.3M1544 1535l-1.9 1.4M1541 1574l-0.1 0.3M1589 1577l1.1 0.3M1580 1553l-0.0 0.3M1580 1559l0.7 1.3M1521 1547l1.8 0.3M1573 1564l0.4 0.0M1573 1519l-0.7 2.0M1524 1602l2.2 1.0M1560 1583l-1.3 2.2M1564 1495l2.2 0.9M1567 1586l2.6 2.0M1580 1603l-0.2 0.4M1542 1599l-0.7 3.4M1582 1508l-0.4 2.5M1563 1496l-0.9 0.3M1559 1536l0.5 1.0M1582 1557l0.0 0.3M1527 1538l-2.1 1.4M1568 1512l-1.1 0.1M1522 1560l-0.2 2.2M1560 1524l-3.1 0.9" stroke="#fff" stroke-width="1.7" opacity="0.85"/><use href="#q9_1" stroke="#0a0a0a" stroke-width="13.0"/><use href="#q9_1" stroke="#140c0c" stroke-width="7.6"/><use href="#p10_0" stroke="url(#r10_0)" stroke-width="12.4"/><use href="#p10_0" stroke="url(#f10_0)" stroke-width="7.6"/><path d="M1667 669l1.2 2.4M1657 742l-2.2 1.3M1667 682l-1.1 0.1M1645 762l0.5 0.4M1664 740l2.5 1.2M1727 737l0.5 0.7M1713 703l0.0 1.3M1702 726l-1.4 0.9M1707 662l2.0 1.0M1729 667l-3.3 0.6M1722 735l1.1 1.4M1699 723l-1.7 0.5M1704 606l-1.1 0.6M1703 599l0.5 1.8M1728 740l0.2 0.5M1681 689l0.9 1.6M1648 703l-0.9 1.8M1709 738l-0.8 1.6M1722 624l1.4 0.7M1654 715l-2.5 0.3M1687 696l0.7 1.8M1702 670l0.7 0.6M1640 704l-0.5 0.7M1690 690l0.7 0.3M1651 658l1.7 1.0M1694 704l1.3 1.9M1670 634l0.3 1.3M1713 724l-1.8 0.3M1707 705l0.5 0.2M1719 755l0.2 0.5" stroke="#fff" stroke-width="1.7" opacity="0.85"/><use href="#q10_0" stroke="#0a0a0a" stroke-width="13.0"/><use href="#q10_0" stroke="#111111" stroke-width="7.6"/><use href="#p10_1" stroke="url(#r10_1)" stroke-width="12.4"/><use href="#p10_1" stroke="url(#f10_1)" stroke-width="7.6"/><path d="M1671 1572l-0.7 1.0M1661 1518l0.1 2.5M1720 1487l-1.3 1.0M1707 1470l3.3 0.3M1681 1548l3.1 0.5M1647 1534l-2.9 1.4M1718 1492l-2.3 1.9M1717 1571l1.6 1.0M1690 1563l-0.5 0.2M1682 1574l0.2 0.4M1665 1566l3.4 0.8M1684 1553l2.6 0.8M1689 1538l-0.5 0.5M1659 1591l2.8 1.8M1705 1478l-2.3 1.2M1639 1544l2.5 0.2M1642 1599l-1.2 1.1M1726 1555l0.4 0.5M1661 1519l-0.6 1.3M1664 1534l-1.7 2.8M1721 1495l2.6 0.3M1724 1576l2.1 1.7M1651 1550l0.2 1.7M1640 1528l-1.7 0.9M1648 1591l1.8 0.9M1685 1552l0.7 0.7M1720 1564l2.7 0.5M1725 1574l-0.1 1.1M1638 1566l0.1 0.5M1657 1593l-0.7 2.6" stroke="#fff" stroke-width="1.7" opacity="0.85"/><use href="#q10_1" stroke="#0a0a0a" stroke-width="13.0"/><use href="#q10_1" stroke="#111111" stroke-width="7.6"/><use href="#p11_0" stroke="url(#r11_0)" stroke-width="12.4"/><use href="#p11_0" stroke="url(#f11_0)" stroke-width="7.6"/><path d="M1823 643l1.4 0.2M1870 628l-0.5 0.4M1873 726l-0.2 0.9M1854 660l2.7 0.4M1822 685l0.9 0.1M1838 717l0.5 1.5M1800 761l-0.5 3.4M1872 730l-1.9 2.2M1828 658l1.4 2.0M1769 734l-1.0 2.4M1819 676l2.4 1.4M1803 729l-0.3 0.8M1854 742l2.7 1.8M1864 715l0.8 0.4M1794 738l1.2 1.3M1776 707l-1.3 3.0M1871 693l2.3 0.5M1851 686l-1.3 0.5M1859 763l2.8 1.4M1850 683l2.1 2.2M1779 713l-3.1 1.0M1829 631l-2.0 0.4M1826 663l0.6 0.5M1853 699l1.9 2.9M1862 726l1.2 1.5M1777 736l0.9 0.7M1759 718l-1.1 1.1M1775 752l2.1 1.6M1856 682l-1.4 0.4M1779 705l0.4 0.1M1822 706l-1.7 1.7M1768 676l-0.9 0.6M1827 708l-0.5 0.3M1814 718l-1.2 2.3M1851 731l0.6 0.6M1857 683l-0.1 1.2M1786 633l-0.4 2.8M1785 620l-2.6 1.7M1837 687l0.6 0.7" stroke="#fff" stroke-width="1.7" opacity="0.85"/><use href="#q11_0" stroke="#08244c" stroke-width="13.0"/><use href="#q11_0" stroke="#123a78" stroke-width="7.6"/><use href="#p11_1" stroke="url(#r11_1)" stroke-width="12.4"/><use href="#p11_1" stroke="url(#f11_1)" stroke-width="7.6"/><path d="M1767 1468l1.9 2.5M1776 1521l0.4 0.9M1818 1532l-1.9 0.0M1761 1570l0.2 1.2M1810 1524l-2.5 1.0M1852 1595l0.5 1.7M1788 1579l-1.2 2.3M1848 1578l-0.5 1.3M1818 1554l-0.3 0.5M1853 1543l-2.0 2.1M1758 1569l-0.3 0.8M1860 1584l1.3 2.4M1765 1512l-0.6 0.8M1796 1599l-0.6 2.6M1836 1515l-1.5 0.7M1860 1516l2.4 0.9M1775 1598l-0.4 0.5M1846 1560l-0.5 0.3M1856 1602l-0.9 0.4M1782 1595l0.0 2.5M1812 1583l-1.3 0.6M1767 1542l1.7 1.9M1781 1487l-0.5 0.1M1808 1581l-1.4 1.3M1871 1603l1.9 1.6M1875 1595l0.8 0.2M1866 1587l-0.8 0.5M1870 1577l0.4 0.6M1869 1559l-1.4 1.5M1786 1585l-2.5 1.2M1854 1571l-3.0 0.0M1824 1498l1.6 1.0M1773 1562l-1.0 3.2M1820 1565l-1.3 1.2M1851 1592l-0.7 0.9M1781 1596l-1.2 0.5M1780 1485l-1.3 1.1M1793 1571l-0.8 2.5M1870 1572l0.6 2.1" stroke="#fff" stroke-width="1.7" opacity="0.85"/><use href="#q11_1" stroke="#08244c" stroke-width="13.0"/><use href="#q11_1" stroke="#123a78" stroke-width="7.6"/><use href="#p12_0" stroke="url(#r12_0)" stroke-width="12.4"/><use href="#p12_0" stroke="url(#f12_0)" stroke-width="7.6"/><path d="M1962 761l-0.4 0.4M1997 632l0.4 0.2M1967 732l-1.1 2.5M2001 667l2.5 1.0M1976 682l1.0 1.7M1960 749l-2.6 0.5M1915 672l0.7 0.5M1943 738l-2.2 0.4M1953 686l0.5 0.5M1918 566l0.9 2.1M1930 679l-1.7 1.4M1996 630l0.8 1.3M1961 677l3.0 0.7M1971 648l0.6 2.5M1927 652l-1.2 0.5M2003 700l-0.3 0.4M1921 598l-1.6 1.6M1932 658l-0.1 1.0M1914 679l-0.7 0.3M1901 586l1.2 1.7M1955 717l-3.0 1.6M1908 708l-2.2 2.2M2002 631l0.6 0.7M1983 633l3.3 1.0M1932 684l2.1 0.3M1914 674l1.2 1.0M1932 706l0.9 3.0M1959 693l2.7 1.5M1925 763l1.7 0.3M1899 698l1.7 0.4M1926 628l2.4 0.5M1980 642l-0.5 0.4M1898 747l-0.5 0.9M1989 649l-2.6 1.5M1973 689l1.2 2.0M1995 749l2.3 1.1" stroke="#fff" stroke-width="1.7" opacity="0.85"/><use href="#q12_0" stroke="#967014" stroke-width="13.0"/><use href="#q12_0" stroke="#cc9a18" stroke-width="7.6"/><use href="#p12_1" stroke="url(#r12_1)" stroke-width="12.4"/><use href="#p12_1" stroke="url(#f12_1)" stroke-width="7.6"/><path d="M1925 1513l-0.6 0.7M1972 1491l2.2 1.4M1954 1542l2.5 1.5M1992 1559l-0.7 0.3M1975 1487l0.7 0.3M1948 1600l-0.4 1.8M1931 1601l-2.3 0.9M1898 1519l0.4 1.0M1932 1545l-0.2 0.3M1929 1574l-1.1 0.4M1923 1526l0.1 0.8M1954 1540l-0.9 0.9M2011 1571l1.9 1.8M1984 1561l-1.1 0.4M1940 1514l2.0 1.1M1906 1570l1.3 2.2M2010 1542l-2.7 1.2M1959 1574l-0.3 1.0M1975 1560l-1.2 1.5M1940 1552l-0.3 0.0M1934 1599l-1.9 2.5M1918 1507l0.2 3.1M1967 1548l-1.8 0.2M1999 1556l-0.1 2.6M1971 1556l0.4 1.0M1931 1527l-0.3 1.8M1960 1566l2.8 0.1M1992 1511l-1.9 1.6M1998 1604l-1.3 0.3M1990 1482l-1.7 0.3M1995 1499l-2.8 0.2M1922 1467l-2.4 0.5M1978 1560l0.3 0.4M2003 1598l-1.1 1.1M1986 1481l1.0 0.0M1947 1596l0.4 0.6" stroke="#fff" stroke-width="1.7" opacity="0.85"/><use href="#q12_1" stroke="#967014" stroke-width="13.0"/><use href="#q12_1" stroke="#cc9a18" stroke-width="7.6"/></g>
<rect x="1752.8" y="32.9" width="2.4" height="1640" fill="#fff"/><rect x="1775.9" y="32.9" width="2.9" height="1640" fill="#fff"/>
<rect x="1755.2" y="32.9" width="20.7" height="1640" fill="rgb(252,211,94)" fill-opacity="0.6"/>
<text x="1294.8" y="84.6" font-family="Liberation Serif, Times New Roman, serif" font-size="67" fill="#111" textLength="347" lengthAdjust="spacingAndGlyphs">S11_2567279</text>
<line x1="1648.5" y1="63.7" x2="1740" y2="81" stroke="#5b9bd5" stroke-width="2.2"/>
<path d="M1757 84.6 L1736 72 L1738 91 Z" fill="#5b9bd5"/>
</svg></div></body></html>
